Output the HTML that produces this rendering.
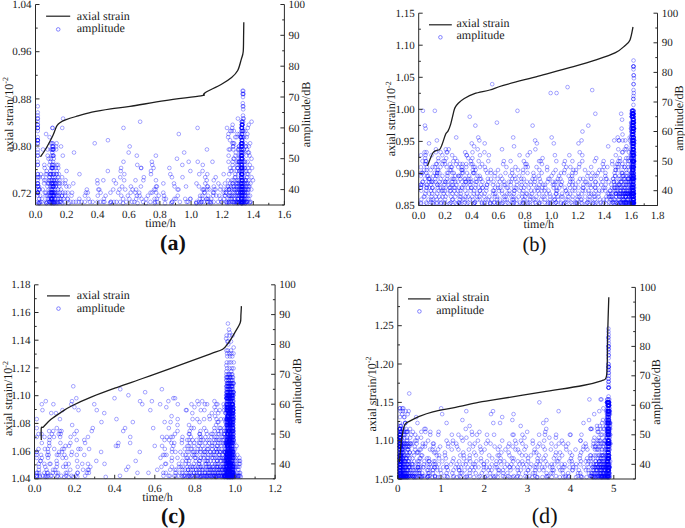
<!DOCTYPE html>
<html><head><meta charset="utf-8"><style>
html,body{margin:0;padding:0;background:#fff;}
svg{display:block;font-family:"Liberation Serif", serif;text-rendering:geometricPrecision;}
</style></head><body>
<svg width="685" height="528" viewBox="0 0 685 528">
<rect width="685" height="528" fill="#fff"/>
<path transform="scale(0.925)" d="M38.8 154.9a2 2 0 1 0 4 0a2 2 0 1 0-4 0m0 0a2 2 0 1 0 4 0a2 2 0 1 0-4 0m0 20a2 2 0 1 0 4 0a2 2 0 1 0-4 0m0 43.4a2 2 0 1 0 4 0a2 2 0 1 0-4 0m0-66.7a2 2 0 1 0 4 0a2 2 0 1 0-4 0m0 0a2 2 0 1 0 4 0a2 2 0 1 0-4 0m0 0a2 2 0 1 0 4 0a2 2 0 1 0-4 0m0 0a2 2 0 1 0 4 0a2 2 0 1 0-4 0m0 36.7a2 2 0 1 0 4 0a2 2 0 1 0-4 0m0-73.4a2 2 0 1 0 4 0a2 2 0 1 0-4 0m0 86.7a2 2 0 1 0 4 0a2 2 0 1 0-4 0m0 0a2 2 0 1 0 4 0a2 2 0 1 0-4 0m0 0a2 2 0 1 0 4 0a2 2 0 1 0-4 0m0-63.3a2 2 0 1 0 4 0a2 2 0 1 0-4 0m0 0a2 2 0 1 0 4 0a2 2 0 1 0-4 0m0 0a2 2 0 1 0 4 0a2 2 0 1 0-4 0m0 60a2 2 0 1 0 4 0a2 2 0 1 0-4 0m0 0a2 2 0 1 0 4 0a2 2 0 1 0-4 0m0 0a2 2 0 1 0 4 0a2 2 0 1 0-4 0m0-20a2 2 0 1 0 4 0a2 2 0 1 0-4 0m0 0a2 2 0 1 0 4 0a2 2 0 1 0-4 0m0-13.4a2 2 0 1 0 4 0a2 2 0 1 0-4 0m0-43.3a2 2 0 1 0 4 0a2 2 0 1 0-4 0m0 20a2 2 0 1 0 4 0a2 2 0 1 0-4 0m0 26.7a2 2 0 1 0 4 0a2 2 0 1 0-4 0m0 0a2 2 0 1 0 4 0a2 2 0 1 0-4 0m0 40a2 2 0 1 0 4 0a2 2 0 1 0-4 0m0 0a2 2 0 1 0 4 0a2 2 0 1 0-4 0m0 0a2 2 0 1 0 4 0a2 2 0 1 0-4 0m0-13.4a2 2 0 1 0 4 0a2 2 0 1 0-4 0m0-60a2 2 0 1 0 4 0a2 2 0 1 0-4 0m0 0a2 2 0 1 0 4 0a2 2 0 1 0-4 0m0-3.3a2 2 0 1 0 4 0a2 2 0 1 0-4 0m0 80a2 2 0 1 0 4 0a2 2 0 1 0-4 0m0-83.4a2 2 0 1 0 4 0a2 2 0 1 0-4 0m0 0a2 2 0 1 0 4 0a2 2 0 1 0-4 0m0 63.4a2 2 0 1 0 4 0a2 2 0 1 0-4 0m0-66.7a2 2 0 1 0 4 0a2 2 0 1 0-4 0m0 23.4a2 2 0 1 0 4 0a2 2 0 1 0-4 0m0 13.3a2 2 0 1 0 4 0a2 2 0 1 0-4 0m0.7 58a2 2 0 1 0 4 0a2 2 0 1 0-4 0m0.9 0a2 2 0 1 0 4 0a2 2 0 1 0-4 0m0.4 0a2 2 0 1 0 4 0a2 2 0 1 0-4 0m0.4-1.3a2 2 0 1 0 4 0a2 2 0 1 0-4 0m-1.5-13.4a2 2 0 1 0 4 0a2 2 0 1 0-4 0m0.6 0a2 2 0 1 0 4 0a2 2 0 1 0-4 0m0.6 0a2 2 0 1 0 4 0a2 2 0 1 0-4 0m0.5 6.7a2 2 0 1 0 4 0a2 2 0 1 0-4 0m-2.6-3.3a2 2 0 1 0 4 0a2 2 0 1 0-4 0m0 0a2 2 0 1 0 4 0a2 2 0 1 0-4 0m0.1-20a2 2 0 1 0 4 0a2 2 0 1 0-4 0m1.4 26.7a2 2 0 1 0 4 0a2 2 0 1 0-4 0m-0.2-13.4a2 2 0 1 0 4 0a2 2 0 1 0-4 0m-0.9-10a2 2 0 1 0 4 0a2 2 0 1 0-4 0m1.7 0a2 2 0 1 0 4 0a2 2 0 1 0-4 0m11.9-30a2 2 0 1 0 4 0a2 2 0 1 0-4 0m2.7 0a2 2 0 1 0 4 0a2 2 0 1 0-4 0m-0.1 0a2 2 0 1 0 4 0a2 2 0 1 0-4 0m-1.1 0a2 2 0 1 0 4 0a2 2 0 1 0-4 0m0.3 0a2 2 0 1 0 4 0a2 2 0 1 0-4 0m1.3 0a2 2 0 1 0 4 0a2 2 0 1 0-4 0m0.8 46.7a2 2 0 1 0 4 0a2 2 0 1 0-4 0m-1.8 0a2 2 0 1 0 4 0a2 2 0 1 0-4 0m-1.1 0a2 2 0 1 0 4 0a2 2 0 1 0-4 0m0.7 0a2 2 0 1 0 4 0a2 2 0 1 0-4 0m-0.7 0a2 2 0 1 0 4 0a2 2 0 1 0-4 0m-0.5 0a2 2 0 1 0 4 0a2 2 0 1 0-4 0m2.8-13.4a2 2 0 1 0 4 0a2 2 0 1 0-4 0m-1.7 0a2 2 0 1 0 4 0a2 2 0 1 0-4 0m0.8-26.6a2 2 0 1 0 4 0a2 2 0 1 0-4 0m-1.7 0a2 2 0 1 0 4 0a2 2 0 1 0-4 0m1.8 0a2 2 0 1 0 4 0a2 2 0 1 0-4 0m0.2 36.6a2 2 0 1 0 4 0a2 2 0 1 0-4 0m-1.8 0a2 2 0 1 0 4 0a2 2 0 1 0-4 0m1.6-3.3a2 2 0 1 0 4 0a2 2 0 1 0-4 0m0.7 0a2 2 0 1 0 4 0a2 2 0 1 0-4 0m-0.1 0a2 2 0 1 0 4 0a2 2 0 1 0-4 0m-1.8 0a2 2 0 1 0 4 0a2 2 0 1 0-4 0m0.7 0a2 2 0 1 0 4 0a2 2 0 1 0-4 0m0.7-13.3a2 2 0 1 0 4 0a2 2 0 1 0-4 0m-1.7 0a2 2 0 1 0 4 0a2 2 0 1 0-4 0m-1 0a2 2 0 1 0 4 0a2 2 0 1 0-4 0m1.3-33.4a2 2 0 1 0 4 0a2 2 0 1 0-4 0m1.2 0a2 2 0 1 0 4 0a2 2 0 1 0-4 0m-2.3 0a2 2 0 1 0 4 0a2 2 0 1 0-4 0m3.1 16.7a2 2 0 1 0 4 0a2 2 0 1 0-4 0m-3.2 0a2 2 0 1 0 4 0a2 2 0 1 0-4 0m1.6-13.3a2 2 0 1 0 4 0a2 2 0 1 0-4 0m0.7 0a2 2 0 1 0 4 0a2 2 0 1 0-4 0m-1.3 23.3a2 2 0 1 0 4 0a2 2 0 1 0-4 0m1.9 0a2 2 0 1 0 4 0a2 2 0 1 0-4 0m-2.3 0a2 2 0 1 0 4 0a2 2 0 1 0-4 0m1.2 0a2 2 0 1 0 4 0a2 2 0 1 0-4 0m0 0a2 2 0 1 0 4 0a2 2 0 1 0-4 0m-3.2-3.3a2 2 0 1 0 4 0a2 2 0 1 0-4 0m4.6 0a2 2 0 1 0 4 0a2 2 0 1 0-4 0m-1.8 0a2 2 0 1 0 4 0a2 2 0 1 0-4 0m3.3 13.3a2 2 0 1 0 4 0a2 2 0 1 0-4 0m-1 28a2 2 0 1 0 4 0a2 2 0 1 0-4 0m-2.8 0a2 2 0 1 0 4 0a2 2 0 1 0-4 0m2.5-8a2 2 0 1 0 4 0a2 2 0 1 0-4 0m-3.6 0a2 2 0 1 0 4 0a2 2 0 1 0-4 0m3.2 0a2 2 0 1 0 4 0a2 2 0 1 0-4 0m-2.7 3.4a2 2 0 1 0 4 0a2 2 0 1 0-4 0m1.1 0a2 2 0 1 0 4 0a2 2 0 1 0-4 0m-1.2 0a2 2 0 1 0 4 0a2 2 0 1 0-4 0m0.5 0a2 2 0 1 0 4 0a2 2 0 1 0-4 0m1.2 0a2 2 0 1 0 4 0a2 2 0 1 0-4 0m-1.2 0a2 2 0 1 0 4 0a2 2 0 1 0-4 0m0.2-16.7a2 2 0 1 0 4 0a2 2 0 1 0-4 0m1.9 0a2 2 0 1 0 4 0a2 2 0 1 0-4 0m-2 0a2 2 0 1 0 4 0a2 2 0 1 0-4 0m3.9 0a2 2 0 1 0 4 0a2 2 0 1 0-4 0m-3.1-33.4a2 2 0 1 0 4 0a2 2 0 1 0-4 0m0.9 10a2 2 0 1 0 4 0a2 2 0 1 0-4 0m-12.6 43.4a2 2 0 1 0 4 0a2 2 0 1 0-4 0m4.6 0a2 2 0 1 0 4 0a2 2 0 1 0-4 0m1.7 0a2 2 0 1 0 4 0a2 2 0 1 0-4 0m2 0a2 2 0 1 0 4 0a2 2 0 1 0-4 0m0.8 0a2 2 0 1 0 4 0a2 2 0 1 0-4 0m0.7 0a2 2 0 1 0 4 0a2 2 0 1 0-4 0m1.1 0a2 2 0 1 0 4 0a2 2 0 1 0-4 0m1.1 0a2 2 0 1 0 4 0a2 2 0 1 0-4 0m0.6 0a2 2 0 1 0 4 0a2 2 0 1 0-4 0m0.4 0a2 2 0 1 0 4 0a2 2 0 1 0-4 0m1.5 0a2 2 0 1 0 4 0a2 2 0 1 0-4 0m0.4 0a2 2 0 1 0 4 0a2 2 0 1 0-4 0m1.9 0a2 2 0 1 0 4 0a2 2 0 1 0-4 0m0.7 0a2 2 0 1 0 4 0a2 2 0 1 0-4 0m1.9 0a2 2 0 1 0 4 0a2 2 0 1 0-4 0m1.1 0a2 2 0 1 0 4 0a2 2 0 1 0-4 0m0.7 0a2 2 0 1 0 4 0a2 2 0 1 0-4 0m3.7 0a2 2 0 1 0 4 0a2 2 0 1 0-4 0m-19.8 1.3a2 2 0 1 0 4 0a2 2 0 1 0-4 0m0.4 0a2 2 0 1 0 4 0a2 2 0 1 0-4 0m4.1 0a2 2 0 1 0 4 0a2 2 0 1 0-4 0m1.4 0a2 2 0 1 0 4 0a2 2 0 1 0-4 0m2 0a2 2 0 1 0 4 0a2 2 0 1 0-4 0m0.8 0a2 2 0 1 0 4 0a2 2 0 1 0-4 0m2.2 0a2 2 0 1 0 4 0a2 2 0 1 0-4 0m1.7 0a2 2 0 1 0 4 0a2 2 0 1 0-4 0m4.9 0a2 2 0 1 0 4 0a2 2 0 1 0-4 0m-18.9-11.3a2 2 0 1 0 4 0a2 2 0 1 0-4 0m1.2 0a2 2 0 1 0 4 0a2 2 0 1 0-4 0m3.6 0a2 2 0 1 0 4 0a2 2 0 1 0-4 0m0.7 0a2 2 0 1 0 4 0a2 2 0 1 0-4 0m1.2 0a2 2 0 1 0 4 0a2 2 0 1 0-4 0m0.9 0a2 2 0 1 0 4 0a2 2 0 1 0-4 0m1.2 0a2 2 0 1 0 4 0a2 2 0 1 0-4 0m1.2 0a2 2 0 1 0 4 0a2 2 0 1 0-4 0m0.8 0a2 2 0 1 0 4 0a2 2 0 1 0-4 0m1.3 0a2 2 0 1 0 4 0a2 2 0 1 0-4 0m2 0a2 2 0 1 0 4 0a2 2 0 1 0-4 0m2.2 0a2 2 0 1 0 4 0a2 2 0 1 0-4 0m2.9 0a2 2 0 1 0 4 0a2 2 0 1 0-4 0m2.8 0a2 2 0 1 0 4 0a2 2 0 1 0-4 0m-21.1-20a2 2 0 1 0 4 0a2 2 0 1 0-4 0m1.2 0a2 2 0 1 0 4 0a2 2 0 1 0-4 0m3.9 0a2 2 0 1 0 4 0a2 2 0 1 0-4 0m-0.3 0a2 2 0 1 0 4 0a2 2 0 1 0-4 0m3.5 0a2 2 0 1 0 4 0a2 2 0 1 0-4 0m0.6 0a2 2 0 1 0 4 0a2 2 0 1 0-4 0m2.7 0a2 2 0 1 0 4 0a2 2 0 1 0-4 0m0.4 0a2 2 0 1 0 4 0a2 2 0 1 0-4 0m2.3 0a2 2 0 1 0 4 0a2 2 0 1 0-4 0m-19.6 0a2 2 0 1 0 4 0a2 2 0 1 0-4 0m7.4-20a2 2 0 1 0 4 0a2 2 0 1 0-4 0m6.6 0a2 2 0 1 0 4 0a2 2 0 1 0-4 0m9.8 0a2 2 0 1 0 4 0a2 2 0 1 0-4 0m-20 26.6a2 2 0 1 0 4 0a2 2 0 1 0-4 0m1.6 0a2 2 0 1 0 4 0a2 2 0 1 0-4 0m3.2 0a2 2 0 1 0 4 0a2 2 0 1 0-4 0m1.7 0a2 2 0 1 0 4 0a2 2 0 1 0-4 0m1.5 0a2 2 0 1 0 4 0a2 2 0 1 0-4 0m2.6 0a2 2 0 1 0 4 0a2 2 0 1 0-4 0m1.7 0a2 2 0 1 0 4 0a2 2 0 1 0-4 0m1.7 0a2 2 0 1 0 4 0a2 2 0 1 0-4 0m2.3 0a2 2 0 1 0 4 0a2 2 0 1 0-4 0m6.7 0a2 2 0 1 0 4 0a2 2 0 1 0-4 0m-23.2 3.4a2 2 0 1 0 4 0a2 2 0 1 0-4 0m4.5 0a2 2 0 1 0 4 0a2 2 0 1 0-4 0m-0.2 0a2 2 0 1 0 4 0a2 2 0 1 0-4 0m1.7 0a2 2 0 1 0 4 0a2 2 0 1 0-4 0m2.3 0a2 2 0 1 0 4 0a2 2 0 1 0-4 0m0.7 0a2 2 0 1 0 4 0a2 2 0 1 0-4 0m1.2 0a2 2 0 1 0 4 0a2 2 0 1 0-4 0m2.1 0a2 2 0 1 0 4 0a2 2 0 1 0-4 0m0.9 0a2 2 0 1 0 4 0a2 2 0 1 0-4 0m2.3 0a2 2 0 1 0 4 0a2 2 0 1 0-4 0m1.4 0a2 2 0 1 0 4 0a2 2 0 1 0-4 0m3.1 0a2 2 0 1 0 4 0a2 2 0 1 0-4 0m2.5 0a2 2 0 1 0 4 0a2 2 0 1 0-4 0m-24-6.7a2 2 0 1 0 4 0a2 2 0 1 0-4 0m7.4 0a2 2 0 1 0 4 0a2 2 0 1 0-4 0m-0.2 0a2 2 0 1 0 4 0a2 2 0 1 0-4 0m4.3 0a2 2 0 1 0 4 0a2 2 0 1 0-4 0m5.1 0a2 2 0 1 0 4 0a2 2 0 1 0-4 0m4.3 0a2 2 0 1 0 4 0a2 2 0 1 0-4 0m-18.8-10a2 2 0 1 0 4 0a2 2 0 1 0-4 0m8.3 0a2 2 0 1 0 4 0a2 2 0 1 0-4 0m3.7 0a2 2 0 1 0 4 0a2 2 0 1 0-4 0m2.8 0a2 2 0 1 0 4 0a2 2 0 1 0-4 0m-11.9 20a2 2 0 1 0 4 0a2 2 0 1 0-4 0m3.6 0a2 2 0 1 0 4 0a2 2 0 1 0-4 0m2.8 0a2 2 0 1 0 4 0a2 2 0 1 0-4 0m2.6 0a2 2 0 1 0 4 0a2 2 0 1 0-4 0m0.2 0a2 2 0 1 0 4 0a2 2 0 1 0-4 0m3.7 0a2 2 0 1 0 4 0a2 2 0 1 0-4 0m7.7 0a2 2 0 1 0 4 0a2 2 0 1 0-4 0m-25.7 3.3a2 2 0 1 0 4 0a2 2 0 1 0-4 0m6.5 0a2 2 0 1 0 4 0a2 2 0 1 0-4 0m2 0a2 2 0 1 0 4 0a2 2 0 1 0-4 0m1.4 0a2 2 0 1 0 4 0a2 2 0 1 0-4 0m3.7 0a2 2 0 1 0 4 0a2 2 0 1 0-4 0m3 0a2 2 0 1 0 4 0a2 2 0 1 0-4 0m3.2 0a2 2 0 1 0 4 0a2 2 0 1 0-4 0m-14.4-43.3a2 2 0 1 0 4 0a2 2 0 1 0-4 0m9.2 0a2 2 0 1 0 4 0a2 2 0 1 0-4 0m-14.2 0a2 2 0 1 0 4 0a2 2 0 1 0-4 0m24 50a2 2 0 1 0 4 0a2 2 0 1 0-4 0m-21.2 0a2 2 0 1 0 4 0a2 2 0 1 0-4 0m1.7 0a2 2 0 1 0 4 0a2 2 0 1 0-4 0m1.7 0a2 2 0 1 0 4 0a2 2 0 1 0-4 0m1.8 0a2 2 0 1 0 4 0a2 2 0 1 0-4 0m1.5 0a2 2 0 1 0 4 0a2 2 0 1 0-4 0m0.9 0a2 2 0 1 0 4 0a2 2 0 1 0-4 0m0.5 0a2 2 0 1 0 4 0a2 2 0 1 0-4 0m1.5 0a2 2 0 1 0 4 0a2 2 0 1 0-4 0m2 0a2 2 0 1 0 4 0a2 2 0 1 0-4 0m1.1 0a2 2 0 1 0 4 0a2 2 0 1 0-4 0m1.5 0a2 2 0 1 0 4 0a2 2 0 1 0-4 0m3.4 0a2 2 0 1 0 4 0a2 2 0 1 0-4 0m0.1 0a2 2 0 1 0 4 0a2 2 0 1 0-4 0m-16.5-26.7a2 2 0 1 0 4 0a2 2 0 1 0-4 0m4 0a2 2 0 1 0 4 0a2 2 0 1 0-4 0m6.9 0a2 2 0 1 0 4 0a2 2 0 1 0-4 0m10.6 0a2 2 0 1 0 4 0a2 2 0 1 0-4 0m-24.1-6.6a2 2 0 1 0 4 0a2 2 0 1 0-4 0m9 0a2 2 0 1 0 4 0a2 2 0 1 0-4 0m4.3 0a2 2 0 1 0 4 0a2 2 0 1 0-4 0m1.6 0a2 2 0 1 0 4 0a2 2 0 1 0-4 0m-17.4 36.7a2 2 0 1 0 4 0a2 2 0 1 0-4 0m6.6 0a2 2 0 1 0 4 0a2 2 0 1 0-4 0m1.4 0a2 2 0 1 0 4 0a2 2 0 1 0-4 0m1.8 0a2 2 0 1 0 4 0a2 2 0 1 0-4 0m1.4 0a2 2 0 1 0 4 0a2 2 0 1 0-4 0m0 0a2 2 0 1 0 4 0a2 2 0 1 0-4 0m2.2 0a2 2 0 1 0 4 0a2 2 0 1 0-4 0m0.8 0a2 2 0 1 0 4 0a2 2 0 1 0-4 0m3.2 0a2 2 0 1 0 4 0a2 2 0 1 0-4 0m1.9 0a2 2 0 1 0 4 0a2 2 0 1 0-4 0m1.4 0a2 2 0 1 0 4 0a2 2 0 1 0-4 0m2.7 0a2 2 0 1 0 4 0a2 2 0 1 0-4 0m-0.6-86.8a2 2 0 1 0 4 0a2 2 0 1 0-4 0m-11.6 10.1a2 2 0 1 0 4 0a2 2 0 1 0-4 0m0.3 0a2 2 0 1 0 4 0a2 2 0 1 0-4 0m10.4 0a2 2 0 1 0 4 0a2 2 0 1 0-4 0m-1.3 20a2 2 0 1 0 4 0a2 2 0 1 0-4 0m-8.4 0a2 2 0 1 0 4 0a2 2 0 1 0-4 0m3.1 0a2 2 0 1 0 4 0a2 2 0 1 0-4 0m-7.1-10a2 2 0 1 0 4 0a2 2 0 1 0-4 0m-1.1 23.3a2 2 0 1 0 4 0a2 2 0 1 0-4 0m1.9 3.3a2 2 0 1 0 4 0a2 2 0 1 0-4 0m-4.6-30a2 2 0 1 0 4 0a2 2 0 1 0-4 0m11.4 10a2 2 0 1 0 4 0a2 2 0 1 0-4 0m61.9 40a2 2 0 1 0 4 0a2 2 0 1 0-4 0m-17.9 0a2 2 0 1 0 4 0a2 2 0 1 0-4 0m6.5 0a2 2 0 1 0 4 0a2 2 0 1 0-4 0m-35.4 23.4a2 2 0 1 0 4 0a2 2 0 1 0-4 0m3 0a2 2 0 1 0 4 0a2 2 0 1 0-4 0m2.7 0a2 2 0 1 0 4 0a2 2 0 1 0-4 0m3.1 0a2 2 0 1 0 4 0a2 2 0 1 0-4 0m3 0a2 2 0 1 0 4 0a2 2 0 1 0-4 0m3.6 0a2 2 0 1 0 4 0a2 2 0 1 0-4 0m5.5 0a2 2 0 1 0 4 0a2 2 0 1 0-4 0m3 0a2 2 0 1 0 4 0a2 2 0 1 0-4 0m5.2 0a2 2 0 1 0 4 0a2 2 0 1 0-4 0m3.1 0a2 2 0 1 0 4 0a2 2 0 1 0-4 0m3.2 0a2 2 0 1 0 4 0a2 2 0 1 0-4 0m1.2 0a2 2 0 1 0 4 0a2 2 0 1 0-4 0m6.8 0a2 2 0 1 0 4 0a2 2 0 1 0-4 0m0.3 0a2 2 0 1 0 4 0a2 2 0 1 0-4 0m3.2 0a2 2 0 1 0 4 0a2 2 0 1 0-4 0m-44-20a2 2 0 1 0 4 0a2 2 0 1 0-4 0m26.2 0a2 2 0 1 0 4 0a2 2 0 1 0-4 0m19.9 0a2 2 0 1 0 4 0a2 2 0 1 0-4 0m-52 10a2 2 0 1 0 4 0a2 2 0 1 0-4 0m4.6 0a2 2 0 1 0 4 0a2 2 0 1 0-4 0m15 0a2 2 0 1 0 4 0a2 2 0 1 0-4 0m2 0a2 2 0 1 0 4 0a2 2 0 1 0-4 0m13.9 0a2 2 0 1 0 4 0a2 2 0 1 0-4 0m10.6 0a2 2 0 1 0 4 0a2 2 0 1 0-4 0m-42.1 3.3a2 2 0 1 0 4 0a2 2 0 1 0-4 0m14.5 0a2 2 0 1 0 4 0a2 2 0 1 0-4 0m13.9 0a2 2 0 1 0 4 0a2 2 0 1 0-4 0m8.5 0a2 2 0 1 0 4 0a2 2 0 1 0-4 0m2.4-26.7a2 2 0 1 0 4 0a2 2 0 1 0-4 0m-43.5 30.1a2 2 0 1 0 4 0a2 2 0 1 0-4 0m12.6 0a2 2 0 1 0 4 0a2 2 0 1 0-4 0m10 0a2 2 0 1 0 4 0a2 2 0 1 0-4 0m16.6 0a2 2 0 1 0 4 0a2 2 0 1 0-4 0m-39.1 0a2 2 0 1 0 4 0a2 2 0 1 0-4 0m49.2-10.1a2 2 0 1 0 4 0a2 2 0 1 0-4 0m-28.5 0a2 2 0 1 0 4 0a2 2 0 1 0-4 0m12.4 0a2 2 0 1 0 4 0a2 2 0 1 0-4 0m1 0a2 2 0 1 0 4 0a2 2 0 1 0-4 0m-32.6-3.3a2 2 0 1 0 4 0a2 2 0 1 0-4 0m-0.2 18a2 2 0 1 0 4 0a2 2 0 1 0-4 0m44.5 0a2 2 0 1 0 4 0a2 2 0 1 0-4 0m-33.1-31.3a2 2 0 1 0 4 0a2 2 0 1 0-4 0m46.1 13.3a2 2 0 1 0 4 0a2 2 0 1 0-4 0m9.5 0a2 2 0 1 0 4 0a2 2 0 1 0-4 0m10.8 0a2 2 0 1 0 4 0a2 2 0 1 0-4 0m16.5 0a2 2 0 1 0 4 0a2 2 0 1 0-4 0m0.8 0a2 2 0 1 0 4 0a2 2 0 1 0-4 0m-39.7 16.7a2 2 0 1 0 4 0a2 2 0 1 0-4 0m6.5 0a2 2 0 1 0 4 0a2 2 0 1 0-4 0m6.4 0a2 2 0 1 0 4 0a2 2 0 1 0-4 0m2.3 0a2 2 0 1 0 4 0a2 2 0 1 0-4 0m9.6 0a2 2 0 1 0 4 0a2 2 0 1 0-4 0m7.9 0a2 2 0 1 0 4 0a2 2 0 1 0-4 0m5 0a2 2 0 1 0 4 0a2 2 0 1 0-4 0m2.5 0a2 2 0 1 0 4 0a2 2 0 1 0-4 0m-44.1 0a2 2 0 1 0 4 0a2 2 0 1 0-4 0m52.4 1.3a2 2 0 1 0 4 0a2 2 0 1 0-4 0m-45.4 0a2 2 0 1 0 4 0a2 2 0 1 0-4 0m15.7 0a2 2 0 1 0 4 0a2 2 0 1 0-4 0m9.2 0a2 2 0 1 0 4 0a2 2 0 1 0-4 0m9.4 0a2 2 0 1 0 4 0a2 2 0 1 0-4 0m12.1-4.6a2 2 0 1 0 4 0a2 2 0 1 0-4 0m-46.3 0a2 2 0 1 0 4 0a2 2 0 1 0-4 0m6.8 0a2 2 0 1 0 4 0a2 2 0 1 0-4 0m7.3 0a2 2 0 1 0 4 0a2 2 0 1 0-4 0m5.9 0a2 2 0 1 0 4 0a2 2 0 1 0-4 0m5 0a2 2 0 1 0 4 0a2 2 0 1 0-4 0m9 0a2 2 0 1 0 4 0a2 2 0 1 0-4 0m2.5 0a2 2 0 1 0 4 0a2 2 0 1 0-4 0m7.7 0a2 2 0 1 0 4 0a2 2 0 1 0-4 0m-14.1-26.7a2 2 0 1 0 4 0a2 2 0 1 0-4 0m-28.8 0a2 2 0 1 0 4 0a2 2 0 1 0-4 0m13.5-20a2 2 0 1 0 4 0a2 2 0 1 0-4 0m20.6 0a2 2 0 1 0 4 0a2 2 0 1 0-4 0m-34.3 26.6a2 2 0 1 0 4 0a2 2 0 1 0-4 0m12.3 0a2 2 0 1 0 4 0a2 2 0 1 0-4 0m8.5 0a2 2 0 1 0 4 0a2 2 0 1 0-4 0m13.6 0a2 2 0 1 0 4 0a2 2 0 1 0-4 0m-20.2-16.6a2 2 0 1 0 4 0a2 2 0 1 0-4 0m-13 26.6a2 2 0 1 0 4 0a2 2 0 1 0-4 0m7.9 0a2 2 0 1 0 4 0a2 2 0 1 0-4 0m3.8 0a2 2 0 1 0 4 0a2 2 0 1 0-4 0m19.5 0a2 2 0 1 0 4 0a2 2 0 1 0-4 0m1.5 0a2 2 0 1 0 4 0a2 2 0 1 0-4 0m-39 0a2 2 0 1 0 4 0a2 2 0 1 0-4 0m26.4-13.3a2 2 0 1 0 4 0a2 2 0 1 0-4 0m-25.5 0a2 2 0 1 0 4 0a2 2 0 1 0-4 0m1.1 20a2 2 0 1 0 4 0a2 2 0 1 0-4 0m7.1 0a2 2 0 1 0 4 0a2 2 0 1 0-4 0m9.8 0a2 2 0 1 0 4 0a2 2 0 1 0-4 0m2.9 0a2 2 0 1 0 4 0a2 2 0 1 0-4 0m9 0a2 2 0 1 0 4 0a2 2 0 1 0-4 0m11.7 0a2 2 0 1 0 4 0a2 2 0 1 0-4 0m5.7 0a2 2 0 1 0 4 0a2 2 0 1 0-4 0m-46.8-26.7a2 2 0 1 0 4 0a2 2 0 1 0-4 0m32.7 0a2 2 0 1 0 4 0a2 2 0 1 0-4 0m-32.3-3.3a2 2 0 1 0 4 0a2 2 0 1 0-4 0m21.5 0a2 2 0 1 0 4 0a2 2 0 1 0-4 0m0.3 0a2 2 0 1 0 4 0a2 2 0 1 0-4 0m13.3 0a2 2 0 1 0 4 0a2 2 0 1 0-4 0m-38.3 26.7a2 2 0 1 0 4 0a2 2 0 1 0-4 0m13.6 0a2 2 0 1 0 4 0a2 2 0 1 0-4 0m5 0a2 2 0 1 0 4 0a2 2 0 1 0-4 0m4.2 0a2 2 0 1 0 4 0a2 2 0 1 0-4 0m12.3 0a2 2 0 1 0 4 0a2 2 0 1 0-4 0m1.7 0a2 2 0 1 0 4 0a2 2 0 1 0-4 0m4.3 0a2 2 0 1 0 4 0a2 2 0 1 0-4 0m7.7 0a2 2 0 1 0 4 0a2 2 0 1 0-4 0m-37.4-43.4a2 2 0 1 0 4 0a2 2 0 1 0-4 0m1.1-6.6a2 2 0 1 0 4 0a2 2 0 1 0-4 0m36.4 40a2 2 0 1 0 4 0a2 2 0 1 0-4 0m-12.4-23.4a2 2 0 1 0 4 0a2 2 0 1 0-4 0m23.9 23.4a2 2 0 1 0 4 0a2 2 0 1 0-4 0m24.3 0a2 2 0 1 0 4 0a2 2 0 1 0-4 0m9.5 0a2 2 0 1 0 4 0a2 2 0 1 0-4 0m-29.9 6.6a2 2 0 1 0 4 0a2 2 0 1 0-4 0m1 0a2 2 0 1 0 4 0a2 2 0 1 0-4 0m26.8 0a2 2 0 1 0 4 0a2 2 0 1 0-4 0m-1.1 0a2 2 0 1 0 4 0a2 2 0 1 0-4 0m-30.2 10.1a2 2 0 1 0 4 0a2 2 0 1 0-4 0m1.7 0a2 2 0 1 0 4 0a2 2 0 1 0-4 0m10 0a2 2 0 1 0 4 0a2 2 0 1 0-4 0m5.4 0a2 2 0 1 0 4 0a2 2 0 1 0-4 0m0.4 0a2 2 0 1 0 4 0a2 2 0 1 0-4 0m10 0a2 2 0 1 0 4 0a2 2 0 1 0-4 0m3 0a2 2 0 1 0 4 0a2 2 0 1 0-4 0m3.9 0a2 2 0 1 0 4 0a2 2 0 1 0-4 0m5.4 0a2 2 0 1 0 4 0a2 2 0 1 0-4 0m-42.3 3.3a2 2 0 1 0 4 0a2 2 0 1 0-4 0m0.3 0a2 2 0 1 0 4 0a2 2 0 1 0-4 0m8.2 0a2 2 0 1 0 4 0a2 2 0 1 0-4 0m7.3 0a2 2 0 1 0 4 0a2 2 0 1 0-4 0m1.4 0a2 2 0 1 0 4 0a2 2 0 1 0-4 0m9.1 0a2 2 0 1 0 4 0a2 2 0 1 0-4 0m5.7 0a2 2 0 1 0 4 0a2 2 0 1 0-4 0m7.4 0a2 2 0 1 0 4 0a2 2 0 1 0-4 0m1.6 0a2 2 0 1 0 4 0a2 2 0 1 0-4 0m-41.1-26.7a2 2 0 1 0 4 0a2 2 0 1 0-4 0m11.4 0a2 2 0 1 0 4 0a2 2 0 1 0-4 0m24.5 0a2 2 0 1 0 4 0a2 2 0 1 0-4 0m-17.8-16.7a2 2 0 1 0 4 0a2 2 0 1 0-4 0m27 33.4a2 2 0 1 0 4 0a2 2 0 1 0-4 0m-9.7 0a2 2 0 1 0 4 0a2 2 0 1 0-4 0m-37.2-20a2 2 0 1 0 4 0a2 2 0 1 0-4 0m40 0a2 2 0 1 0 4 0a2 2 0 1 0-4 0m-39 31.3a2 2 0 1 0 4 0a2 2 0 1 0-4 0m27 0a2 2 0 1 0 4 0a2 2 0 1 0-4 0m0.2 0a2 2 0 1 0 4 0a2 2 0 1 0-4 0m-15.2-41.3a2 2 0 1 0 4 0a2 2 0 1 0-4 0m-5.8-6.7a2 2 0 1 0 4 0a2 2 0 1 0-4 0m0.9 40a2 2 0 1 0 4 0a2 2 0 1 0-4 0m26.5 0a2 2 0 1 0 4 0a2 2 0 1 0-4 0m-12.9-26.7a2 2 0 1 0 4 0a2 2 0 1 0-4 0m-17.1 16.7a2 2 0 1 0 4 0a2 2 0 1 0-4 0m12.4 0a2 2 0 1 0 4 0a2 2 0 1 0-4 0m23.5 0a2 2 0 1 0 4 0a2 2 0 1 0-4 0m-41.5-20a2 2 0 1 0 4 0a2 2 0 1 0-4 0m-103.1-16.7a2 2 0 1 0 4 0a2 2 0 1 0-4 0m119.1 0a2 2 0 1 0 4 0a2 2 0 1 0-4 0m24.6-3.3a2 2 0 1 0 4 0a2 2 0 1 0-4 0m-90.2 13.3a2 2 0 1 0 4 0a2 2 0 1 0-4 0m80.3 0a2 2 0 1 0 4 0a2 2 0 1 0-4 0m-97.1-23.3a2 2 0 1 0 4 0a2 2 0 1 0-4 0m96.9-13.3a2 2 0 1 0 4 0a2 2 0 1 0-4 0m-80.1 0a2 2 0 1 0 4 0a2 2 0 1 0-4 0m-31.1 16.6a2 2 0 1 0 4 0a2 2 0 1 0-4 0m62.2 23.4a2 2 0 1 0 4 0a2 2 0 1 0-4 0m28.7-33.4a2 2 0 1 0 4 0a2 2 0 1 0-4 0m-41.8-13.3a2 2 0 1 0 4 0a2 2 0 1 0-4 0m109.5 50a2 2 0 1 0 4 0a2 2 0 1 0-4 0m0.3 0a2 2 0 1 0 4 0a2 2 0 1 0-4 0m-1 0a2 2 0 1 0 4 0a2 2 0 1 0-4 0m0.6 0a2 2 0 1 0 4 0a2 2 0 1 0-4 0m0.8 0a2 2 0 1 0 4 0a2 2 0 1 0-4 0m-0.4 0a2 2 0 1 0 4 0a2 2 0 1 0-4 0m0 0a2 2 0 1 0 4 0a2 2 0 1 0-4 0m1 0a2 2 0 1 0 4 0a2 2 0 1 0-4 0m-1.3 0a2 2 0 1 0 4 0a2 2 0 1 0-4 0m0.3 30a2 2 0 1 0 4 0a2 2 0 1 0-4 0m0.5 0a2 2 0 1 0 4 0a2 2 0 1 0-4 0m-1.1 0a2 2 0 1 0 4 0a2 2 0 1 0-4 0m1.1 0a2 2 0 1 0 4 0a2 2 0 1 0-4 0m-0.1-56.7a2 2 0 1 0 4 0a2 2 0 1 0-4 0m0.7 0a2 2 0 1 0 4 0a2 2 0 1 0-4 0m-1.1 0a2 2 0 1 0 4 0a2 2 0 1 0-4 0m-0.3 0a2 2 0 1 0 4 0a2 2 0 1 0-4 0m0 0a2 2 0 1 0 4 0a2 2 0 1 0-4 0m0 0a2 2 0 1 0 4 0a2 2 0 1 0-4 0m0.6 0a2 2 0 1 0 4 0a2 2 0 1 0-4 0m-0.3 36.7a2 2 0 1 0 4 0a2 2 0 1 0-4 0m0.7 0a2 2 0 1 0 4 0a2 2 0 1 0-4 0m-1.1 0a2 2 0 1 0 4 0a2 2 0 1 0-4 0m0.1 0a2 2 0 1 0 4 0a2 2 0 1 0-4 0m-0.4 13.3a2 2 0 1 0 4 0a2 2 0 1 0-4 0m1.5 0a2 2 0 1 0 4 0a2 2 0 1 0-4 0m-0.3 0a2 2 0 1 0 4 0a2 2 0 1 0-4 0m-1 0a2 2 0 1 0 4 0a2 2 0 1 0-4 0m2-56.6a2 2 0 1 0 4 0a2 2 0 1 0-4 0m-2.1 0a2 2 0 1 0 4 0a2 2 0 1 0-4 0m0.5 0a2 2 0 1 0 4 0a2 2 0 1 0-4 0m1.2 0a2 2 0 1 0 4 0a2 2 0 1 0-4 0m-1.7 0a2 2 0 1 0 4 0a2 2 0 1 0-4 0m0.3 36.6a2 2 0 1 0 4 0a2 2 0 1 0-4 0m0.2 0a2 2 0 1 0 4 0a2 2 0 1 0-4 0m0 0a2 2 0 1 0 4 0a2 2 0 1 0-4 0m0.1 0a2 2 0 1 0 4 0a2 2 0 1 0-4 0m-0.3-10a2 2 0 1 0 4 0a2 2 0 1 0-4 0m0.6 0a2 2 0 1 0 4 0a2 2 0 1 0-4 0m-0.9 0a2 2 0 1 0 4 0a2 2 0 1 0-4 0m-0.3 0a2 2 0 1 0 4 0a2 2 0 1 0-4 0m0.7-16.6a2 2 0 1 0 4 0a2 2 0 1 0-4 0m0.6 0a2 2 0 1 0 4 0a2 2 0 1 0-4 0m0.1 0a2 2 0 1 0 4 0a2 2 0 1 0-4 0m-1.1 0a2 2 0 1 0 4 0a2 2 0 1 0-4 0m1 0a2 2 0 1 0 4 0a2 2 0 1 0-4 0m-1.1 0a2 2 0 1 0 4 0a2 2 0 1 0-4 0m1.5 50a2 2 0 1 0 4 0a2 2 0 1 0-4 0m-0.2 0a2 2 0 1 0 4 0a2 2 0 1 0-4 0m-1.6 0a2 2 0 1 0 4 0a2 2 0 1 0-4 0m1.7 0a2 2 0 1 0 4 0a2 2 0 1 0-4 0m-0.5 0a2 2 0 1 0 4 0a2 2 0 1 0-4 0m-0.9 0a2 2 0 1 0 4 0a2 2 0 1 0-4 0m1 0a2 2 0 1 0 4 0a2 2 0 1 0-4 0m0-73.4a2 2 0 1 0 4 0a2 2 0 1 0-4 0m-0.1 0a2 2 0 1 0 4 0a2 2 0 1 0-4 0m0.2 0a2 2 0 1 0 4 0a2 2 0 1 0-4 0m0.3 0a2 2 0 1 0 4 0a2 2 0 1 0-4 0m-0.6 0a2 2 0 1 0 4 0a2 2 0 1 0-4 0m0.5 0a2 2 0 1 0 4 0a2 2 0 1 0-4 0m0.5 0a2 2 0 1 0 4 0a2 2 0 1 0-4 0m-0.7 66.7a2 2 0 1 0 4 0a2 2 0 1 0-4 0m-0.3 0a2 2 0 1 0 4 0a2 2 0 1 0-4 0m0.2 0a2 2 0 1 0 4 0a2 2 0 1 0-4 0m-0.3 0a2 2 0 1 0 4 0a2 2 0 1 0-4 0m-0.2 0a2 2 0 1 0 4 0a2 2 0 1 0-4 0m0.1-36.7a2 2 0 1 0 4 0a2 2 0 1 0-4 0m1.3 0a2 2 0 1 0 4 0a2 2 0 1 0-4 0m-1.4 0a2 2 0 1 0 4 0a2 2 0 1 0-4 0m-0.1 0a2 2 0 1 0 4 0a2 2 0 1 0-4 0m0.7 0a2 2 0 1 0 4 0a2 2 0 1 0-4 0m0.6 30a2 2 0 1 0 4 0a2 2 0 1 0-4 0m-0.7 0a2 2 0 1 0 4 0a2 2 0 1 0-4 0m0 0a2 2 0 1 0 4 0a2 2 0 1 0-4 0m0 0a2 2 0 1 0 4 0a2 2 0 1 0-4 0m-0.6 20.1a2 2 0 1 0 4 0a2 2 0 1 0-4 0m1.4 0a2 2 0 1 0 4 0a2 2 0 1 0-4 0m-1.5 0a2 2 0 1 0 4 0a2 2 0 1 0-4 0m0.3 0a2 2 0 1 0 4 0a2 2 0 1 0-4 0m-0.3 0a2 2 0 1 0 4 0a2 2 0 1 0-4 0m0.7-63.4a2 2 0 1 0 4 0a2 2 0 1 0-4 0m0.1 0a2 2 0 1 0 4 0a2 2 0 1 0-4 0m-0.4 0a2 2 0 1 0 4 0a2 2 0 1 0-4 0m0.5 0a2 2 0 1 0 4 0a2 2 0 1 0-4 0m0-20a2 2 0 1 0 4 0a2 2 0 1 0-4 0m-0.7 0a2 2 0 1 0 4 0a2 2 0 1 0-4 0m0.7 0a2 2 0 1 0 4 0a2 2 0 1 0-4 0m-0.1 56.7a2 2 0 1 0 4 0a2 2 0 1 0-4 0m-0.3 0a2 2 0 1 0 4 0a2 2 0 1 0-4 0m-0.2 0a2 2 0 1 0 4 0a2 2 0 1 0-4 0m0.2 0a2 2 0 1 0 4 0a2 2 0 1 0-4 0m0.3 0a2 2 0 1 0 4 0a2 2 0 1 0-4 0m-0.4 0a2 2 0 1 0 4 0a2 2 0 1 0-4 0m-0.6 0a2 2 0 1 0 4 0a2 2 0 1 0-4 0m0.9 0a2 2 0 1 0 4 0a2 2 0 1 0-4 0m-0.3-10a2 2 0 1 0 4 0a2 2 0 1 0-4 0m-0.2 0a2 2 0 1 0 4 0a2 2 0 1 0-4 0m0.2 0a2 2 0 1 0 4 0a2 2 0 1 0-4 0m-0.8 0a2 2 0 1 0 4 0a2 2 0 1 0-4 0m1.1 0a2 2 0 1 0 4 0a2 2 0 1 0-4 0m0 20a2 2 0 1 0 4 0a2 2 0 1 0-4 0m0.7 0a2 2 0 1 0 4 0a2 2 0 1 0-4 0m-1.3 0a2 2 0 1 0 4 0a2 2 0 1 0-4 0m-0.3 0a2 2 0 1 0 4 0a2 2 0 1 0-4 0m1.7-56.7a2 2 0 1 0 4 0a2 2 0 1 0-4 0m-1.5 0a2 2 0 1 0 4 0a2 2 0 1 0-4 0m0.9 0a2 2 0 1 0 4 0a2 2 0 1 0-4 0m0.5 0a2 2 0 1 0 4 0a2 2 0 1 0-4 0m-1.4 20a2 2 0 1 0 4 0a2 2 0 1 0-4 0m0.5 0a2 2 0 1 0 4 0a2 2 0 1 0-4 0m-0.1 0a2 2 0 1 0 4 0a2 2 0 1 0-4 0m-0.2 56.7a2 2 0 1 0 4 0a2 2 0 1 0-4 0m0.9 0a2 2 0 1 0 4 0a2 2 0 1 0-4 0m-1 0a2 2 0 1 0 4 0a2 2 0 1 0-4 0m0.8 0a2 2 0 1 0 4 0a2 2 0 1 0-4 0m-0.9-50a2 2 0 1 0 4 0a2 2 0 1 0-4 0m0.7 0a2 2 0 1 0 4 0a2 2 0 1 0-4 0m0.1 0a2 2 0 1 0 4 0a2 2 0 1 0-4 0m-0.4 0a2 2 0 1 0 4 0a2 2 0 1 0-4 0m-0.5 0a2 2 0 1 0 4 0a2 2 0 1 0-4 0m0.3 0a2 2 0 1 0 4 0a2 2 0 1 0-4 0m0.3-30a2 2 0 1 0 4 0a2 2 0 1 0-4 0m0.3 0a2 2 0 1 0 4 0a2 2 0 1 0-4 0m-0.2 0a2 2 0 1 0 4 0a2 2 0 1 0-4 0m-0.1 0a2 2 0 1 0 4 0a2 2 0 1 0-4 0m-0.7 0a2 2 0 1 0 4 0a2 2 0 1 0-4 0m0.5 6.6a2 2 0 1 0 4 0a2 2 0 1 0-4 0m0.4 0a2 2 0 1 0 4 0a2 2 0 1 0-4 0m0.3 0a2 2 0 1 0 4 0a2 2 0 1 0-4 0m-0.3 26.7a2 2 0 1 0 4 0a2 2 0 1 0-4 0m-0.1 0a2 2 0 1 0 4 0a2 2 0 1 0-4 0m-1.2 0a2 2 0 1 0 4 0a2 2 0 1 0-4 0m0.6 0a2 2 0 1 0 4 0a2 2 0 1 0-4 0m0.8 0a2 2 0 1 0 4 0a2 2 0 1 0-4 0m-0.1 0a2 2 0 1 0 4 0a2 2 0 1 0-4 0m0.3 0a2 2 0 1 0 4 0a2 2 0 1 0-4 0m-0.6 48a2 2 0 1 0 4 0a2 2 0 1 0-4 0m-0.1 0a2 2 0 1 0 4 0a2 2 0 1 0-4 0m0.3 0a2 2 0 1 0 4 0a2 2 0 1 0-4 0m0.4 0a2 2 0 1 0 4 0a2 2 0 1 0-4 0m0.6-104.7a2 2 0 1 0 4 0a2 2 0 1 0-4 0m0.5 0a2 2 0 1 0 4 0a2 2 0 1 0-4 0m-0.7-16.7a2 2 0 1 0 4 0a2 2 0 1 0-4 0m0.7 0a2 2 0 1 0 4 0a2 2 0 1 0-4 0m-0.5 13.4a2 2 0 1 0 4 0a2 2 0 1 0-4 0m1 16.6a2 2 0 1 0 4 0a2 2 0 1 0-4 0m-0.8 0a2 2 0 1 0 4 0a2 2 0 1 0-4 0m-0.3-26.6a2 2 0 1 0 4 0a2 2 0 1 0-4 0m0.2 0a2 2 0 1 0 4 0a2 2 0 1 0-4 0m0.7 0a2 2 0 1 0 4 0a2 2 0 1 0-4 0m-0.5 30a2 2 0 1 0 4 0a2 2 0 1 0-4 0m0.1-13.4a2 2 0 1 0 4 0a2 2 0 1 0-4 0m-0.2 6.7a2 2 0 1 0 4 0a2 2 0 1 0-4 0m0-20a2 2 0 1 0 4 0a2 2 0 1 0-4 0m-15 83.4a2 2 0 1 0 4 0a2 2 0 1 0-4 0m6.7 0a2 2 0 1 0 4 0a2 2 0 1 0-4 0m3.4 0a2 2 0 1 0 4 0a2 2 0 1 0-4 0m3.5 0a2 2 0 1 0 4 0a2 2 0 1 0-4 0m0.9 0a2 2 0 1 0 4 0a2 2 0 1 0-4 0m5 0a2 2 0 1 0 4 0a2 2 0 1 0-4 0m1.1 0a2 2 0 1 0 4 0a2 2 0 1 0-4 0m-21.3 13.3a2 2 0 1 0 4 0a2 2 0 1 0-4 0m2.6 0a2 2 0 1 0 4 0a2 2 0 1 0-4 0m2.7 0a2 2 0 1 0 4 0a2 2 0 1 0-4 0m0.6 0a2 2 0 1 0 4 0a2 2 0 1 0-4 0m2.4 0a2 2 0 1 0 4 0a2 2 0 1 0-4 0m1.3 0a2 2 0 1 0 4 0a2 2 0 1 0-4 0m1.5 0a2 2 0 1 0 4 0a2 2 0 1 0-4 0m1.7 0a2 2 0 1 0 4 0a2 2 0 1 0-4 0m0.6 0a2 2 0 1 0 4 0a2 2 0 1 0-4 0m1.7 0a2 2 0 1 0 4 0a2 2 0 1 0-4 0m0.6 0a2 2 0 1 0 4 0a2 2 0 1 0-4 0m0.4 0a2 2 0 1 0 4 0a2 2 0 1 0-4 0m2.3 0a2 2 0 1 0 4 0a2 2 0 1 0-4 0m1.7 0a2 2 0 1 0 4 0a2 2 0 1 0-4 0m1.5 0a2 2 0 1 0 4 0a2 2 0 1 0-4 0m1 0a2 2 0 1 0 4 0a2 2 0 1 0-4 0m-18.4-46.7a2 2 0 1 0 4 0a2 2 0 1 0-4 0m1 0a2 2 0 1 0 4 0a2 2 0 1 0-4 0m8.3 0a2 2 0 1 0 4 0a2 2 0 1 0-4 0m1.3 0a2 2 0 1 0 4 0a2 2 0 1 0-4 0m3.7 0a2 2 0 1 0 4 0a2 2 0 1 0-4 0m4.9 0a2 2 0 1 0 4 0a2 2 0 1 0-4 0m-23.4 60.1a2 2 0 1 0 4 0a2 2 0 1 0-4 0m2.1 0a2 2 0 1 0 4 0a2 2 0 1 0-4 0m1.5 0a2 2 0 1 0 4 0a2 2 0 1 0-4 0m2.3 0a2 2 0 1 0 4 0a2 2 0 1 0-4 0m1.2 0a2 2 0 1 0 4 0a2 2 0 1 0-4 0m3 0a2 2 0 1 0 4 0a2 2 0 1 0-4 0m0.2 0a2 2 0 1 0 4 0a2 2 0 1 0-4 0m1 0a2 2 0 1 0 4 0a2 2 0 1 0-4 0m2.3 0a2 2 0 1 0 4 0a2 2 0 1 0-4 0m1.2 0a2 2 0 1 0 4 0a2 2 0 1 0-4 0m0.2 0a2 2 0 1 0 4 0a2 2 0 1 0-4 0m1.6 0a2 2 0 1 0 4 0a2 2 0 1 0-4 0m0.5 0a2 2 0 1 0 4 0a2 2 0 1 0-4 0m1.2 0a2 2 0 1 0 4 0a2 2 0 1 0-4 0m1.4 0a2 2 0 1 0 4 0a2 2 0 1 0-4 0m1.9 0a2 2 0 1 0 4 0a2 2 0 1 0-4 0m-26.6 0a2 2 0 1 0 4 0a2 2 0 1 0-4 0m2.1-6.7a2 2 0 1 0 4 0a2 2 0 1 0-4 0m4.4 0a2 2 0 1 0 4 0a2 2 0 1 0-4 0m3 0a2 2 0 1 0 4 0a2 2 0 1 0-4 0m2.1 0a2 2 0 1 0 4 0a2 2 0 1 0-4 0m2.4 0a2 2 0 1 0 4 0a2 2 0 1 0-4 0m0.6 0a2 2 0 1 0 4 0a2 2 0 1 0-4 0m1.2 0a2 2 0 1 0 4 0a2 2 0 1 0-4 0m2 0a2 2 0 1 0 4 0a2 2 0 1 0-4 0m0.4 0a2 2 0 1 0 4 0a2 2 0 1 0-4 0m2.1 0a2 2 0 1 0 4 0a2 2 0 1 0-4 0m0.7 0a2 2 0 1 0 4 0a2 2 0 1 0-4 0m1.4 0a2 2 0 1 0 4 0a2 2 0 1 0-4 0m0.4 0a2 2 0 1 0 4 0a2 2 0 1 0-4 0m1.6 0a2 2 0 1 0 4 0a2 2 0 1 0-4 0m1.6 0a2 2 0 1 0 4 0a2 2 0 1 0-4 0m-26.3 0a2 2 0 1 0 4 0a2 2 0 1 0-4 0m9.8-30a2 2 0 1 0 4 0a2 2 0 1 0-4 0m4.7 0a2 2 0 1 0 4 0a2 2 0 1 0-4 0m1.8 0a2 2 0 1 0 4 0a2 2 0 1 0-4 0m3.6 0a2 2 0 1 0 4 0a2 2 0 1 0-4 0m2.8 0a2 2 0 1 0 4 0a2 2 0 1 0-4 0m5.6 0a2 2 0 1 0 4 0a2 2 0 1 0-4 0m-0.9-13.4a2 2 0 1 0 4 0a2 2 0 1 0-4 0m-14.2 0a2 2 0 1 0 4 0a2 2 0 1 0-4 0m5.3 0a2 2 0 1 0 4 0a2 2 0 1 0-4 0m3.1 0a2 2 0 1 0 4 0a2 2 0 1 0-4 0m-20.1 33.4a2 2 0 1 0 4 0a2 2 0 1 0-4 0m5.6 0a2 2 0 1 0 4 0a2 2 0 1 0-4 0m2.5 0a2 2 0 1 0 4 0a2 2 0 1 0-4 0m0.4 0a2 2 0 1 0 4 0a2 2 0 1 0-4 0m3.4 0a2 2 0 1 0 4 0a2 2 0 1 0-4 0m1.6 0a2 2 0 1 0 4 0a2 2 0 1 0-4 0m-0.2 0a2 2 0 1 0 4 0a2 2 0 1 0-4 0m2 0a2 2 0 1 0 4 0a2 2 0 1 0-4 0m1.8 0a2 2 0 1 0 4 0a2 2 0 1 0-4 0m0.5 0a2 2 0 1 0 4 0a2 2 0 1 0-4 0m1.6 0a2 2 0 1 0 4 0a2 2 0 1 0-4 0m1.5 0a2 2 0 1 0 4 0a2 2 0 1 0-4 0m1.2 0a2 2 0 1 0 4 0a2 2 0 1 0-4 0m1.5 0a2 2 0 1 0 4 0a2 2 0 1 0-4 0m1.6 0a2 2 0 1 0 4 0a2 2 0 1 0-4 0m2.6 0a2 2 0 1 0 4 0a2 2 0 1 0-4 0m0.9 6.6a2 2 0 1 0 4 0a2 2 0 1 0-4 0m-23.7 0a2 2 0 1 0 4 0a2 2 0 1 0-4 0m-0.2 0a2 2 0 1 0 4 0a2 2 0 1 0-4 0m2.7 0a2 2 0 1 0 4 0a2 2 0 1 0-4 0m2.6 0a2 2 0 1 0 4 0a2 2 0 1 0-4 0m0.3 0a2 2 0 1 0 4 0a2 2 0 1 0-4 0m1.7 0a2 2 0 1 0 4 0a2 2 0 1 0-4 0m1.1 0a2 2 0 1 0 4 0a2 2 0 1 0-4 0m1.6 0a2 2 0 1 0 4 0a2 2 0 1 0-4 0m1 0a2 2 0 1 0 4 0a2 2 0 1 0-4 0m0.4 0a2 2 0 1 0 4 0a2 2 0 1 0-4 0m1.3 0a2 2 0 1 0 4 0a2 2 0 1 0-4 0m0.4 0a2 2 0 1 0 4 0a2 2 0 1 0-4 0m0.9 0a2 2 0 1 0 4 0a2 2 0 1 0-4 0m1 0a2 2 0 1 0 4 0a2 2 0 1 0-4 0m1.1 0a2 2 0 1 0 4 0a2 2 0 1 0-4 0m0.7 0a2 2 0 1 0 4 0a2 2 0 1 0-4 0m0.7 0a2 2 0 1 0 4 0a2 2 0 1 0-4 0m1 0a2 2 0 1 0 4 0a2 2 0 1 0-4 0m1.7 0a2 2 0 1 0 4 0a2 2 0 1 0-4 0m0.9 0a2 2 0 1 0 4 0a2 2 0 1 0-4 0m-22.3-56.6a2 2 0 1 0 4 0a2 2 0 1 0-4 0m7.7 0a2 2 0 1 0 4 0a2 2 0 1 0-4 0m1.5 0a2 2 0 1 0 4 0a2 2 0 1 0-4 0m4.3 0a2 2 0 1 0 4 0a2 2 0 1 0-4 0m0 0a2 2 0 1 0 4 0a2 2 0 1 0-4 0m3.9 0a2 2 0 1 0 4 0a2 2 0 1 0-4 0m2.7 0a2 2 0 1 0 4 0a2 2 0 1 0-4 0m-21.7 70a2 2 0 1 0 4 0a2 2 0 1 0-4 0m2 0a2 2 0 1 0 4 0a2 2 0 1 0-4 0m0.5 0a2 2 0 1 0 4 0a2 2 0 1 0-4 0m2.3 0a2 2 0 1 0 4 0a2 2 0 1 0-4 0m1.5 0a2 2 0 1 0 4 0a2 2 0 1 0-4 0m0.9 0a2 2 0 1 0 4 0a2 2 0 1 0-4 0m0.8 0a2 2 0 1 0 4 0a2 2 0 1 0-4 0m1.3 0a2 2 0 1 0 4 0a2 2 0 1 0-4 0m1.3 0a2 2 0 1 0 4 0a2 2 0 1 0-4 0m1 0a2 2 0 1 0 4 0a2 2 0 1 0-4 0m0 0a2 2 0 1 0 4 0a2 2 0 1 0-4 0m1.1 0a2 2 0 1 0 4 0a2 2 0 1 0-4 0m1 0a2 2 0 1 0 4 0a2 2 0 1 0-4 0m0.4 0a2 2 0 1 0 4 0a2 2 0 1 0-4 0m1 0a2 2 0 1 0 4 0a2 2 0 1 0-4 0m0.6 0a2 2 0 1 0 4 0a2 2 0 1 0-4 0m0.9 0a2 2 0 1 0 4 0a2 2 0 1 0-4 0m0.7 0a2 2 0 1 0 4 0a2 2 0 1 0-4 0m0 0a2 2 0 1 0 4 0a2 2 0 1 0-4 0m1.2 0a2 2 0 1 0 4 0a2 2 0 1 0-4 0m0 0a2 2 0 1 0 4 0a2 2 0 1 0-4 0m0.7 0a2 2 0 1 0 4 0a2 2 0 1 0-4 0m1.3 0a2 2 0 1 0 4 0a2 2 0 1 0-4 0m0.7 0a2 2 0 1 0 4 0a2 2 0 1 0-4 0m0.6 0a2 2 0 1 0 4 0a2 2 0 1 0-4 0m0.7 0a2 2 0 1 0 4 0a2 2 0 1 0-4 0m2.5 0a2 2 0 1 0 4 0a2 2 0 1 0-4 0m1.1 0a2 2 0 1 0 4 0a2 2 0 1 0-4 0m-25.9 1.3a2 2 0 1 0 4 0a2 2 0 1 0-4 0m2.4 0a2 2 0 1 0 4 0a2 2 0 1 0-4 0m5.1 0a2 2 0 1 0 4 0a2 2 0 1 0-4 0m3 0a2 2 0 1 0 4 0a2 2 0 1 0-4 0m1.5 0a2 2 0 1 0 4 0a2 2 0 1 0-4 0m0.5 0a2 2 0 1 0 4 0a2 2 0 1 0-4 0m2.7 0a2 2 0 1 0 4 0a2 2 0 1 0-4 0m1.2 0a2 2 0 1 0 4 0a2 2 0 1 0-4 0m1.9 0a2 2 0 1 0 4 0a2 2 0 1 0-4 0m1.7 0a2 2 0 1 0 4 0a2 2 0 1 0-4 0m0.3 0a2 2 0 1 0 4 0a2 2 0 1 0-4 0m4.5 0a2 2 0 1 0 4 0a2 2 0 1 0-4 0m3.5-24.7a2 2 0 1 0 4 0a2 2 0 1 0-4 0m-22.9 0a2 2 0 1 0 4 0a2 2 0 1 0-4 0m1.9 0a2 2 0 1 0 4 0a2 2 0 1 0-4 0m3.4 0a2 2 0 1 0 4 0a2 2 0 1 0-4 0m1.7 0a2 2 0 1 0 4 0a2 2 0 1 0-4 0m0.8 0a2 2 0 1 0 4 0a2 2 0 1 0-4 0m2.2 0a2 2 0 1 0 4 0a2 2 0 1 0-4 0m1 0a2 2 0 1 0 4 0a2 2 0 1 0-4 0m2.8 0a2 2 0 1 0 4 0a2 2 0 1 0-4 0m1.4 0a2 2 0 1 0 4 0a2 2 0 1 0-4 0m0.2 0a2 2 0 1 0 4 0a2 2 0 1 0-4 0m2.7 0a2 2 0 1 0 4 0a2 2 0 1 0-4 0m-21.6-20a2 2 0 1 0 4 0a2 2 0 1 0-4 0m4.5 0a2 2 0 1 0 4 0a2 2 0 1 0-4 0m4.6 0a2 2 0 1 0 4 0a2 2 0 1 0-4 0m2.6 0a2 2 0 1 0 4 0a2 2 0 1 0-4 0m0.1 0a2 2 0 1 0 4 0a2 2 0 1 0-4 0m3.9 0a2 2 0 1 0 4 0a2 2 0 1 0-4 0m1.3 0a2 2 0 1 0 4 0a2 2 0 1 0-4 0m1 0a2 2 0 1 0 4 0a2 2 0 1 0-4 0m2.6 0a2 2 0 1 0 4 0a2 2 0 1 0-4 0m-19-13.3a2 2 0 1 0 4 0a2 2 0 1 0-4 0m3.5 0a2 2 0 1 0 4 0a2 2 0 1 0-4 0m5.4 0a2 2 0 1 0 4 0a2 2 0 1 0-4 0m1.5 0a2 2 0 1 0 4 0a2 2 0 1 0-4 0m3.9 0a2 2 0 1 0 4 0a2 2 0 1 0-4 0m0.6 0a2 2 0 1 0 4 0a2 2 0 1 0-4 0m3.4 0a2 2 0 1 0 4 0a2 2 0 1 0-4 0m-24.1 50a2 2 0 1 0 4 0a2 2 0 1 0-4 0m4.9 0a2 2 0 1 0 4 0a2 2 0 1 0-4 0m1.6 0a2 2 0 1 0 4 0a2 2 0 1 0-4 0m1.1 0a2 2 0 1 0 4 0a2 2 0 1 0-4 0m1.8 0a2 2 0 1 0 4 0a2 2 0 1 0-4 0m2.2 0a2 2 0 1 0 4 0a2 2 0 1 0-4 0m1.8 0a2 2 0 1 0 4 0a2 2 0 1 0-4 0m0.9 0a2 2 0 1 0 4 0a2 2 0 1 0-4 0m1.3 0a2 2 0 1 0 4 0a2 2 0 1 0-4 0m0.7 0a2 2 0 1 0 4 0a2 2 0 1 0-4 0m1.5 0a2 2 0 1 0 4 0a2 2 0 1 0-4 0m1 0a2 2 0 1 0 4 0a2 2 0 1 0-4 0m0.1 0a2 2 0 1 0 4 0a2 2 0 1 0-4 0m1.2 0a2 2 0 1 0 4 0a2 2 0 1 0-4 0m1.4 0a2 2 0 1 0 4 0a2 2 0 1 0-4 0m0.2 0a2 2 0 1 0 4 0a2 2 0 1 0-4 0m1.1 0a2 2 0 1 0 4 0a2 2 0 1 0-4 0m2.7 0a2 2 0 1 0 4 0a2 2 0 1 0-4 0m1.9 0a2 2 0 1 0 4 0a2 2 0 1 0-4 0m-20.8-26.7a2 2 0 1 0 4 0a2 2 0 1 0-4 0m1.2 0a2 2 0 1 0 4 0a2 2 0 1 0-4 0m5.3 0a2 2 0 1 0 4 0a2 2 0 1 0-4 0m2.8 0a2 2 0 1 0 4 0a2 2 0 1 0-4 0m-0.2 0a2 2 0 1 0 4 0a2 2 0 1 0-4 0m3.6 0a2 2 0 1 0 4 0a2 2 0 1 0-4 0m2 0a2 2 0 1 0 4 0a2 2 0 1 0-4 0m1.9 0a2 2 0 1 0 4 0a2 2 0 1 0-4 0m3.6 0a2 2 0 1 0 4 0a2 2 0 1 0-4 0m2.3 6.7a2 2 0 1 0 4 0a2 2 0 1 0-4 0m-17.5 0a2 2 0 1 0 4 0a2 2 0 1 0-4 0m-0.5 0a2 2 0 1 0 4 0a2 2 0 1 0-4 0m6.9 0a2 2 0 1 0 4 0a2 2 0 1 0-4 0m0 0a2 2 0 1 0 4 0a2 2 0 1 0-4 0m2.5 0a2 2 0 1 0 4 0a2 2 0 1 0-4 0m3.6 0a2 2 0 1 0 4 0a2 2 0 1 0-4 0m-16.4-50a2 2 0 1 0 4 0a2 2 0 1 0-4 0m13 0a2 2 0 1 0 4 0a2 2 0 1 0-4 0m-11.5 16.7a2 2 0 1 0 4 0a2 2 0 1 0-4 0m-0.1 0a2 2 0 1 0 4 0a2 2 0 1 0-4 0m6.3 0a2 2 0 1 0 4 0a2 2 0 1 0-4 0m-0.1 0a2 2 0 1 0 4 0a2 2 0 1 0-4 0m3.1 0a2 2 0 1 0 4 0a2 2 0 1 0-4 0m4.2 0a2 2 0 1 0 4 0a2 2 0 1 0-4 0m0.6 0a2 2 0 1 0 4 0a2 2 0 1 0-4 0m2.9 0a2 2 0 1 0 4 0a2 2 0 1 0-4 0m3.5 23.3a2 2 0 1 0 4 0a2 2 0 1 0-4 0m-23.8 0a2 2 0 1 0 4 0a2 2 0 1 0-4 0m4.1 0a2 2 0 1 0 4 0a2 2 0 1 0-4 0m4.3 0a2 2 0 1 0 4 0a2 2 0 1 0-4 0m-0.2 0a2 2 0 1 0 4 0a2 2 0 1 0-4 0m4.1 0a2 2 0 1 0 4 0a2 2 0 1 0-4 0m1 0a2 2 0 1 0 4 0a2 2 0 1 0-4 0m2.1 0a2 2 0 1 0 4 0a2 2 0 1 0-4 0m0.9 0a2 2 0 1 0 4 0a2 2 0 1 0-4 0m3.2 0a2 2 0 1 0 4 0a2 2 0 1 0-4 0m-21-13.3a2 2 0 1 0 4 0a2 2 0 1 0-4 0m7.4 0a2 2 0 1 0 4 0a2 2 0 1 0-4 0m3.5 0a2 2 0 1 0 4 0a2 2 0 1 0-4 0m1.6 0a2 2 0 1 0 4 0a2 2 0 1 0-4 0m1.5 0a2 2 0 1 0 4 0a2 2 0 1 0-4 0m5.2 0a2 2 0 1 0 4 0a2 2 0 1 0-4 0m3.4 0a2 2 0 1 0 4 0a2 2 0 1 0-4 0m-16.7 3.3a2 2 0 1 0 4 0a2 2 0 1 0-4 0m-0.7 0a2 2 0 1 0 4 0a2 2 0 1 0-4 0m5.4 0a2 2 0 1 0 4 0a2 2 0 1 0-4 0m4.2 0a2 2 0 1 0 4 0a2 2 0 1 0-4 0m9.9 0a2 2 0 1 0 4 0a2 2 0 1 0-4 0m0.1-40a2 2 0 1 0 4 0a2 2 0 1 0-4 0m-14.8-3.4a2 2 0 1 0 4 0a2 2 0 1 0-4 0m-6.2 10.1a2 2 0 1 0 4 0a2 2 0 1 0-4 0m10.6 0a2 2 0 1 0 4 0a2 2 0 1 0-4 0m-4.8 6.6a2 2 0 1 0 4 0a2 2 0 1 0-4 0m2.1 0a2 2 0 1 0 4 0a2 2 0 1 0-4 0m-11.9 0a2 2 0 1 0 4 0a2 2 0 1 0-4 0m21.9-10a2 2 0 1 0 4 0a2 2 0 1 0-4 0m-20.2 16.7a2 2 0 1 0 4 0a2 2 0 1 0-4 0m-28 53.3a2 2 0 1 0 4 0a2 2 0 1 0-4 0m3.5 0a2 2 0 1 0 4 0a2 2 0 1 0-4 0m2.3 0a2 2 0 1 0 4 0a2 2 0 1 0-4 0m5.1 0a2 2 0 1 0 4 0a2 2 0 1 0-4 0m1.5 0a2 2 0 1 0 4 0a2 2 0 1 0-4 0m5 0a2 2 0 1 0 4 0a2 2 0 1 0-4 0m4.2 0a2 2 0 1 0 4 0a2 2 0 1 0-4 0m2.4 0a2 2 0 1 0 4 0a2 2 0 1 0-4 0m2.6 0a2 2 0 1 0 4 0a2 2 0 1 0-4 0m-26.4 3.4a2 2 0 1 0 4 0a2 2 0 1 0-4 0m9.5 0a2 2 0 1 0 4 0a2 2 0 1 0-4 0m13.9 0a2 2 0 1 0 4 0a2 2 0 1 0-4 0m-26.8 10a2 2 0 1 0 4 0a2 2 0 1 0-4 0m2.8 0a2 2 0 1 0 4 0a2 2 0 1 0-4 0m3.6 0a2 2 0 1 0 4 0a2 2 0 1 0-4 0m4.3 0a2 2 0 1 0 4 0a2 2 0 1 0-4 0m2.8 0a2 2 0 1 0 4 0a2 2 0 1 0-4 0m4.7 0a2 2 0 1 0 4 0a2 2 0 1 0-4 0m4 0a2 2 0 1 0 4 0a2 2 0 1 0-4 0m-0.2 0a2 2 0 1 0 4 0a2 2 0 1 0-4 0m5.2 0a2 2 0 1 0 4 0a2 2 0 1 0-4 0m-29.7 0a2 2 0 1 0 4 0a2 2 0 1 0-4 0m1.4-6.7a2 2 0 1 0 4 0a2 2 0 1 0-4 0m8.6 0a2 2 0 1 0 4 0a2 2 0 1 0-4 0m5.4 0a2 2 0 1 0 4 0a2 2 0 1 0-4 0m3.5 0a2 2 0 1 0 4 0a2 2 0 1 0-4 0m3.2 0a2 2 0 1 0 4 0a2 2 0 1 0-4 0m6.4 0a2 2 0 1 0 4 0a2 2 0 1 0-4 0m4.4 0a2 2 0 1 0 4 0a2 2 0 1 0-4 0m-32.9-10a2 2 0 1 0 4 0a2 2 0 1 0-4 0m9.1 0a2 2 0 1 0 4 0a2 2 0 1 0-4 0m7.1 0a2 2 0 1 0 4 0a2 2 0 1 0-4 0m7.5 0a2 2 0 1 0 4 0a2 2 0 1 0-4 0m7.5 0a2 2 0 1 0 4 0a2 2 0 1 0-4 0m-18.4 18a2 2 0 1 0 4 0a2 2 0 1 0-4 0m-11.2 0a2 2 0 1 0 4 0a2 2 0 1 0-4 0m-1.2-31.3a2 2 0 1 0 4 0a2 2 0 1 0-4 0m26.4 0a2 2 0 1 0 4 0a2 2 0 1 0-4 0m-18.3 6.6a2 2 0 1 0 4 0a2 2 0 1 0-4 0m7.6 0a2 2 0 1 0 4 0a2 2 0 1 0-4 0m15.5 0a2 2 0 1 0 4 0a2 2 0 1 0-4 0m-27.4-16.6a2 2 0 1 0 4 0a2 2 0 1 0-4 0m4.4 36.7a2 2 0 1 0 4 0a2 2 0 1 0-4 0m1.4 0a2 2 0 1 0 4 0a2 2 0 1 0-4 0m13.2 0a2 2 0 1 0 4 0a2 2 0 1 0-4 0m-5-23.4a2 2 0 1 0 4 0a2 2 0 1 0-4 0m-3.5-16.7a2 2 0 1 0 4 0a2 2 0 1 0-4 0m17.7-13.3a2 2 0 1 0 4 0a2 2 0 1 0-4 0m-28.4 23.3a2 2 0 1 0 4 0a2 2 0 1 0-4 0m17.1 13.4a2 2 0 1 0 4 0a2 2 0 1 0-4 0m31.4-53.4a2 2 0 1 0 4 0a2 2 0 1 0-4 0m-22.1-6.6a2 2 0 1 0 4 0a2 2 0 1 0-4 0m22.5 0a2 2 0 1 0 4 0a2 2 0 1 0-4 0m-16.4-3.4a2 2 0 1 0 4 0a2 2 0 1 0-4 0m1.6 20a2 2 0 1 0 4 0a2 2 0 1 0-4 0m-4.1-13.3a2 2 0 1 0 4 0a2 2 0 1 0-4 0m3.8 0a2 2 0 1 0 4 0a2 2 0 1 0-4 0m12.5 0a2 2 0 1 0 4 0a2 2 0 1 0-4 0m-7.5 20a2 2 0 1 0 4 0a2 2 0 1 0-4 0m0.7 13.3a2 2 0 1 0 4 0a2 2 0 1 0-4 0m-0.8 0a2 2 0 1 0 4 0a2 2 0 1 0-4 0m10.4-10a2 2 0 1 0 4 0a2 2 0 1 0-4 0" fill="none" stroke="#0000ff" stroke-width="0.378"/>
<path d="M40.50,156.80 C41.27,155.67 43.58,152.47 45.10,150.00 C46.62,147.53 48.28,144.47 49.60,142.00 C50.92,139.53 52.05,137.28 53.00,135.20 C53.95,133.12 54.63,131.10 55.30,129.50 C55.97,127.90 56.23,126.73 57.00,125.60 C57.77,124.47 58.48,123.65 59.90,122.70 C61.32,121.75 62.82,120.93 65.50,119.90 C68.18,118.87 71.62,117.78 76.00,116.50 C80.38,115.22 86.00,113.48 91.80,112.20 C97.60,110.92 104.43,109.77 110.80,108.80 C117.17,107.83 120.97,107.77 130.00,106.40 C139.03,105.03 153.17,102.35 165.00,100.60 C176.83,98.85 194.57,96.97 201.00,95.90 C207.43,94.83 202.58,94.93 203.60,94.20 C204.62,93.47 204.18,93.12 207.10,91.50 C210.02,89.88 217.02,86.83 221.10,84.50 C225.18,82.17 228.83,79.83 231.60,77.50 C234.37,75.17 236.10,73.48 237.70,70.50 C239.30,67.52 240.28,62.73 241.20,59.60 C242.12,56.47 242.80,55.67 243.20,51.70 C243.60,47.73 243.50,40.70 243.60,35.80 C243.70,30.90 243.77,24.55 243.80,22.30" fill="none" stroke="#1e1e1e" stroke-width="1.3" stroke-linejoin="round"/>
<path d="M35.5,4.5V205.0H284.4V4.5M35.5,4.5h4M35.5,51.7h4M35.5,98.9h4M35.5,146.0h4M35.5,193.2h4M35.5,28.1h2.2M35.5,75.3h2.2M35.5,122.4h2.2M35.5,169.6h2.2M284.4,4.5h-4M284.4,35.3h-4M284.4,66.2h-4M284.4,97.0h-4M284.4,127.9h-4M284.4,158.7h-4M284.4,189.6h-4M284.4,19.9h-2.2M284.4,50.8h-2.2M284.4,81.6h-2.2M284.4,112.5h-2.2M284.4,143.3h-2.2M284.4,174.2h-2.2M284.4,205.0h-2.2M35.5,205.0v-4M66.6,205.0v-4M97.7,205.0v-4M128.8,205.0v-4M159.9,205.0v-4M191.1,205.0v-4M222.2,205.0v-4M253.3,205.0v-4M284.4,205.0v-4M51.1,205.0v-2.2M82.2,205.0v-2.2M113.3,205.0v-2.2M144.4,205.0v-2.2M175.5,205.0v-2.2M206.6,205.0v-2.2M237.7,205.0v-2.2M268.8,205.0v-2.2" fill="none" stroke="#2a2a2a" stroke-width="1"/>
<g font-size="11" fill="#1a1a1a"><text x="31.5" y="8.1" text-anchor="end">1.04</text><text x="31.5" y="55.3" text-anchor="end">0.96</text><text x="31.5" y="102.5" text-anchor="end">0.88</text><text x="31.5" y="149.6" text-anchor="end">0.80</text><text x="31.5" y="196.8" text-anchor="end">0.72</text><text x="288.6" y="8.1">100</text><text x="288.6" y="38.9">90</text><text x="288.6" y="69.8">80</text><text x="288.6" y="100.6">70</text><text x="288.6" y="131.5">60</text><text x="288.6" y="162.3">50</text><text x="288.6" y="193.2">40</text><text x="35.5" y="218.3" text-anchor="middle">0.0</text><text x="66.6" y="218.3" text-anchor="middle">0.2</text><text x="97.7" y="218.3" text-anchor="middle">0.4</text><text x="128.8" y="218.3" text-anchor="middle">0.6</text><text x="159.9" y="218.3" text-anchor="middle">0.8</text><text x="191.1" y="218.3" text-anchor="middle">1.0</text><text x="222.2" y="218.3" text-anchor="middle">1.2</text><text x="253.3" y="218.3" text-anchor="middle">1.4</text><text x="284.4" y="218.3" text-anchor="middle">1.6</text></g>
<path d="M46.1,16.2H70.2" stroke="#1e1e1e" stroke-width="1.2"/>
<circle cx="58.2" cy="29.4" r="1.8" fill="none" stroke="#5050ff" stroke-width="0.7"/>
<g font-size="12" fill="#1a1a1a"><text x="76.8" y="19.6">axial strain</text><text x="76.8" y="32.3">amplitude</text></g>
<text transform="translate(8.5,114.5) rotate(-90)" text-anchor="middle" font-size="12" fill="#1a1a1a" dy="4">axial strain/10<tspan font-size="8" dy="-4.5">-2</tspan></text>
<text transform="translate(306.0,114.5) rotate(-90)" text-anchor="middle" font-size="12" fill="#1a1a1a" dy="4">amplitude/dB</text>
<text x="160.5" y="227.2" text-anchor="middle" font-size="12" fill="#1a1a1a">time/h</text>
<text x="172.9" y="250.3" text-anchor="middle" font-size="22" font-weight="bold" fill="#111">(a)</text>
<path transform="scale(0.925)" d="M676.4 209.4a2 2 0 1 0 4 0a2 2 0 1 0-4 0m-218.7 0a2 2 0 1 0 4 0a2 2 0 1 0-4 0m4.1 0a2 2 0 1 0 4 0a2 2 0 1 0-4 0m3.4 0a2 2 0 1 0 4 0a2 2 0 1 0-4 0m5.4 0a2 2 0 1 0 4 0a2 2 0 1 0-4 0m7 0a2 2 0 1 0 4 0a2 2 0 1 0-4 0m4.1 0a2 2 0 1 0 4 0a2 2 0 1 0-4 0m5.4 0a2 2 0 1 0 4 0a2 2 0 1 0-4 0m4.3 0a2 2 0 1 0 4 0a2 2 0 1 0-4 0m4.8 0a2 2 0 1 0 4 0a2 2 0 1 0-4 0m6.5 0a2 2 0 1 0 4 0a2 2 0 1 0-4 0m7.5 0a2 2 0 1 0 4 0a2 2 0 1 0-4 0m3.5 0a2 2 0 1 0 4 0a2 2 0 1 0-4 0m4.6 0a2 2 0 1 0 4 0a2 2 0 1 0-4 0m3.7 0a2 2 0 1 0 4 0a2 2 0 1 0-4 0m9.1 0a2 2 0 1 0 4 0a2 2 0 1 0-4 0m2.2 0a2 2 0 1 0 4 0a2 2 0 1 0-4 0m7.6 0a2 2 0 1 0 4 0a2 2 0 1 0-4 0m5.5 0a2 2 0 1 0 4 0a2 2 0 1 0-4 0m2.3 0a2 2 0 1 0 4 0a2 2 0 1 0-4 0m4.9 0a2 2 0 1 0 4 0a2 2 0 1 0-4 0m9.1 0a2 2 0 1 0 4 0a2 2 0 1 0-4 0m4.2 0a2 2 0 1 0 4 0a2 2 0 1 0-4 0m0.9 0a2 2 0 1 0 4 0a2 2 0 1 0-4 0m5.3 0a2 2 0 1 0 4 0a2 2 0 1 0-4 0m7.7 0a2 2 0 1 0 4 0a2 2 0 1 0-4 0m8 0a2 2 0 1 0 4 0a2 2 0 1 0-4 0m3.5 0a2 2 0 1 0 4 0a2 2 0 1 0-4 0m6.9 0a2 2 0 1 0 4 0a2 2 0 1 0-4 0m0.2 0a2 2 0 1 0 4 0a2 2 0 1 0-4 0m6.2 0a2 2 0 1 0 4 0a2 2 0 1 0-4 0m5.9 0a2 2 0 1 0 4 0a2 2 0 1 0-4 0m2.7 0a2 2 0 1 0 4 0a2 2 0 1 0-4 0m9.1 0a2 2 0 1 0 4 0a2 2 0 1 0-4 0m3.5 0a2 2 0 1 0 4 0a2 2 0 1 0-4 0m8 0a2 2 0 1 0 4 0a2 2 0 1 0-4 0m2.4 0a2 2 0 1 0 4 0a2 2 0 1 0-4 0m2.8 0a2 2 0 1 0 4 0a2 2 0 1 0-4 0m5 0a2 2 0 1 0 4 0a2 2 0 1 0-4 0m10.1 0a2 2 0 1 0 4 0a2 2 0 1 0-4 0m3.9 0a2 2 0 1 0 4 0a2 2 0 1 0-4 0m4.6 0a2 2 0 1 0 4 0a2 2 0 1 0-4 0m4 0a2 2 0 1 0 4 0a2 2 0 1 0-4 0m6.7 0a2 2 0 1 0 4 0a2 2 0 1 0-4 0m-221.3 9.6a2 2 0 1 0 4 0a2 2 0 1 0-4 0m5.7 0a2 2 0 1 0 4 0a2 2 0 1 0-4 0m5.2 0a2 2 0 1 0 4 0a2 2 0 1 0-4 0m1.7 0a2 2 0 1 0 4 0a2 2 0 1 0-4 0m4.7 0a2 2 0 1 0 4 0a2 2 0 1 0-4 0m4.6 0a2 2 0 1 0 4 0a2 2 0 1 0-4 0m4 0a2 2 0 1 0 4 0a2 2 0 1 0-4 0m6.7 0a2 2 0 1 0 4 0a2 2 0 1 0-4 0m4.1 0a2 2 0 1 0 4 0a2 2 0 1 0-4 0m4.8 0a2 2 0 1 0 4 0a2 2 0 1 0-4 0m-0.4 0a2 2 0 1 0 4 0a2 2 0 1 0-4 0m6.6 0a2 2 0 1 0 4 0a2 2 0 1 0-4 0m3.6 0a2 2 0 1 0 4 0a2 2 0 1 0-4 0m7 0a2 2 0 1 0 4 0a2 2 0 1 0-4 0m0.1 0a2 2 0 1 0 4 0a2 2 0 1 0-4 0m7.6 0a2 2 0 1 0 4 0a2 2 0 1 0-4 0m2.6 0a2 2 0 1 0 4 0a2 2 0 1 0-4 0m6.4 0a2 2 0 1 0 4 0a2 2 0 1 0-4 0m4.2 0a2 2 0 1 0 4 0a2 2 0 1 0-4 0m0.4 0a2 2 0 1 0 4 0a2 2 0 1 0-4 0m3.2 0a2 2 0 1 0 4 0a2 2 0 1 0-4 0m5.9 0a2 2 0 1 0 4 0a2 2 0 1 0-4 0m5 0a2 2 0 1 0 4 0a2 2 0 1 0-4 0m5 0a2 2 0 1 0 4 0a2 2 0 1 0-4 0m2 0a2 2 0 1 0 4 0a2 2 0 1 0-4 0m6.4 0a2 2 0 1 0 4 0a2 2 0 1 0-4 0m3.7 0a2 2 0 1 0 4 0a2 2 0 1 0-4 0m4.3 0a2 2 0 1 0 4 0a2 2 0 1 0-4 0m2.2 0a2 2 0 1 0 4 0a2 2 0 1 0-4 0m6.3 0a2 2 0 1 0 4 0a2 2 0 1 0-4 0m4.6 0a2 2 0 1 0 4 0a2 2 0 1 0-4 0m5.6 0a2 2 0 1 0 4 0a2 2 0 1 0-4 0m4.2 0a2 2 0 1 0 4 0a2 2 0 1 0-4 0m2.3 0a2 2 0 1 0 4 0a2 2 0 1 0-4 0m5.6 0a2 2 0 1 0 4 0a2 2 0 1 0-4 0m0 0a2 2 0 1 0 4 0a2 2 0 1 0-4 0m5.7 0a2 2 0 1 0 4 0a2 2 0 1 0-4 0m4.5 0a2 2 0 1 0 4 0a2 2 0 1 0-4 0m6.3 0a2 2 0 1 0 4 0a2 2 0 1 0-4 0m4.8 0a2 2 0 1 0 4 0a2 2 0 1 0-4 0m1.5 0a2 2 0 1 0 4 0a2 2 0 1 0-4 0m4.8 0a2 2 0 1 0 4 0a2 2 0 1 0-4 0m6.2 0a2 2 0 1 0 4 0a2 2 0 1 0-4 0m0.7 0a2 2 0 1 0 4 0a2 2 0 1 0-4 0m6.4 0a2 2 0 1 0 4 0a2 2 0 1 0-4 0m2.9 0a2 2 0 1 0 4 0a2 2 0 1 0-4 0m4.6 0a2 2 0 1 0 4 0a2 2 0 1 0-4 0m3.7 0a2 2 0 1 0 4 0a2 2 0 1 0-4 0m5.9 0a2 2 0 1 0 4 0a2 2 0 1 0-4 0m3.9 0a2 2 0 1 0 4 0a2 2 0 1 0-4 0m3.1 0a2 2 0 1 0 4 0a2 2 0 1 0-4 0m4.9 0a2 2 0 1 0 4 0a2 2 0 1 0-4 0m5.5 0a2 2 0 1 0 4 0a2 2 0 1 0-4 0m0.6 0a2 2 0 1 0 4 0a2 2 0 1 0-4 0m-213.1-64a2 2 0 1 0 4 0a2 2 0 1 0-4 0m46.2 0a2 2 0 1 0 4 0a2 2 0 1 0-4 0m14 0a2 2 0 1 0 4 0a2 2 0 1 0-4 0m56.4 0a2 2 0 1 0 4 0a2 2 0 1 0-4 0m18.3 0a2 2 0 1 0 4 0a2 2 0 1 0-4 0m26.7 0a2 2 0 1 0 4 0a2 2 0 1 0-4 0m-168.2 41.6a2 2 0 1 0 4 0a2 2 0 1 0-4 0m6.6 0a2 2 0 1 0 4 0a2 2 0 1 0-4 0m2.4 0a2 2 0 1 0 4 0a2 2 0 1 0-4 0m4.6 0a2 2 0 1 0 4 0a2 2 0 1 0-4 0m4.3 0a2 2 0 1 0 4 0a2 2 0 1 0-4 0m6.1 0a2 2 0 1 0 4 0a2 2 0 1 0-4 0m2.9 0a2 2 0 1 0 4 0a2 2 0 1 0-4 0m8.2 0a2 2 0 1 0 4 0a2 2 0 1 0-4 0m2.7 0a2 2 0 1 0 4 0a2 2 0 1 0-4 0m8.8 0a2 2 0 1 0 4 0a2 2 0 1 0-4 0m3 0a2 2 0 1 0 4 0a2 2 0 1 0-4 0m3.1 0a2 2 0 1 0 4 0a2 2 0 1 0-4 0m5.7 0a2 2 0 1 0 4 0a2 2 0 1 0-4 0m6 0a2 2 0 1 0 4 0a2 2 0 1 0-4 0m6.4 0a2 2 0 1 0 4 0a2 2 0 1 0-4 0m5.6 0a2 2 0 1 0 4 0a2 2 0 1 0-4 0m6.7 0a2 2 0 1 0 4 0a2 2 0 1 0-4 0m4.8 0a2 2 0 1 0 4 0a2 2 0 1 0-4 0m5 0a2 2 0 1 0 4 0a2 2 0 1 0-4 0m2.2 0a2 2 0 1 0 4 0a2 2 0 1 0-4 0m6.3 0a2 2 0 1 0 4 0a2 2 0 1 0-4 0m5 0a2 2 0 1 0 4 0a2 2 0 1 0-4 0m6 0a2 2 0 1 0 4 0a2 2 0 1 0-4 0m4.1 0a2 2 0 1 0 4 0a2 2 0 1 0-4 0m4.6 0a2 2 0 1 0 4 0a2 2 0 1 0-4 0m6.2 0a2 2 0 1 0 4 0a2 2 0 1 0-4 0m7.5 0a2 2 0 1 0 4 0a2 2 0 1 0-4 0m5.5 0a2 2 0 1 0 4 0a2 2 0 1 0-4 0m3.1 0a2 2 0 1 0 4 0a2 2 0 1 0-4 0m1.8 0a2 2 0 1 0 4 0a2 2 0 1 0-4 0m5.1 0a2 2 0 1 0 4 0a2 2 0 1 0-4 0m8.9 0a2 2 0 1 0 4 0a2 2 0 1 0-4 0m2.8 0a2 2 0 1 0 4 0a2 2 0 1 0-4 0m6.1 0a2 2 0 1 0 4 0a2 2 0 1 0-4 0m7.4 0a2 2 0 1 0 4 0a2 2 0 1 0-4 0m1.4 0a2 2 0 1 0 4 0a2 2 0 1 0-4 0m9.5 0a2 2 0 1 0 4 0a2 2 0 1 0-4 0m0.4 0a2 2 0 1 0 4 0a2 2 0 1 0-4 0m7.5 0a2 2 0 1 0 4 0a2 2 0 1 0-4 0m6.6 0a2 2 0 1 0 4 0a2 2 0 1 0-4 0m5.6 0a2 2 0 1 0 4 0a2 2 0 1 0-4 0m2.8 0a2 2 0 1 0 4 0a2 2 0 1 0-4 0m5.9 0a2 2 0 1 0 4 0a2 2 0 1 0-4 0m6.6 0a2 2 0 1 0 4 0a2 2 0 1 0-4 0m-224 3.2a2 2 0 1 0 4 0a2 2 0 1 0-4 0m1.4 0a2 2 0 1 0 4 0a2 2 0 1 0-4 0m5.3 0a2 2 0 1 0 4 0a2 2 0 1 0-4 0m4.3 0a2 2 0 1 0 4 0a2 2 0 1 0-4 0m7.1 0a2 2 0 1 0 4 0a2 2 0 1 0-4 0m2.1 0a2 2 0 1 0 4 0a2 2 0 1 0-4 0m5.1 0a2 2 0 1 0 4 0a2 2 0 1 0-4 0m7.9 0a2 2 0 1 0 4 0a2 2 0 1 0-4 0m1.5 0a2 2 0 1 0 4 0a2 2 0 1 0-4 0m3.6 0a2 2 0 1 0 4 0a2 2 0 1 0-4 0m8 0a2 2 0 1 0 4 0a2 2 0 1 0-4 0m2 0a2 2 0 1 0 4 0a2 2 0 1 0-4 0m5.2 0a2 2 0 1 0 4 0a2 2 0 1 0-4 0m5.7 0a2 2 0 1 0 4 0a2 2 0 1 0-4 0m5.9 0a2 2 0 1 0 4 0a2 2 0 1 0-4 0m6.2 0a2 2 0 1 0 4 0a2 2 0 1 0-4 0m0.3 0a2 2 0 1 0 4 0a2 2 0 1 0-4 0m6.3 0a2 2 0 1 0 4 0a2 2 0 1 0-4 0m5.3 0a2 2 0 1 0 4 0a2 2 0 1 0-4 0m6.3 0a2 2 0 1 0 4 0a2 2 0 1 0-4 0m1.4 0a2 2 0 1 0 4 0a2 2 0 1 0-4 0m6.3 0a2 2 0 1 0 4 0a2 2 0 1 0-4 0m6.8 0a2 2 0 1 0 4 0a2 2 0 1 0-4 0m4.9 0a2 2 0 1 0 4 0a2 2 0 1 0-4 0m4.1 0a2 2 0 1 0 4 0a2 2 0 1 0-4 0m5.8 0a2 2 0 1 0 4 0a2 2 0 1 0-4 0m3.7 0a2 2 0 1 0 4 0a2 2 0 1 0-4 0m5.4 0a2 2 0 1 0 4 0a2 2 0 1 0-4 0m4.3 0a2 2 0 1 0 4 0a2 2 0 1 0-4 0m2 0a2 2 0 1 0 4 0a2 2 0 1 0-4 0m8.5 0a2 2 0 1 0 4 0a2 2 0 1 0-4 0m1.5 0a2 2 0 1 0 4 0a2 2 0 1 0-4 0m6.9 0a2 2 0 1 0 4 0a2 2 0 1 0-4 0m0.7 0a2 2 0 1 0 4 0a2 2 0 1 0-4 0m8.4 0a2 2 0 1 0 4 0a2 2 0 1 0-4 0m3.8 0a2 2 0 1 0 4 0a2 2 0 1 0-4 0m3.2 0a2 2 0 1 0 4 0a2 2 0 1 0-4 0m8.3 0a2 2 0 1 0 4 0a2 2 0 1 0-4 0m4.8 0a2 2 0 1 0 4 0a2 2 0 1 0-4 0m2.2 0a2 2 0 1 0 4 0a2 2 0 1 0-4 0m3.1 0a2 2 0 1 0 4 0a2 2 0 1 0-4 0m5.8 0a2 2 0 1 0 4 0a2 2 0 1 0-4 0m3.6 0a2 2 0 1 0 4 0a2 2 0 1 0-4 0m4.7 0a2 2 0 1 0 4 0a2 2 0 1 0-4 0m6.2 0a2 2 0 1 0 4 0a2 2 0 1 0-4 0m6.3 0a2 2 0 1 0 4 0a2 2 0 1 0-4 0m1.5 0a2 2 0 1 0 4 0a2 2 0 1 0-4 0m8.3 0a2 2 0 1 0 4 0a2 2 0 1 0-4 0m-218.5-16a2 2 0 1 0 4 0a2 2 0 1 0-4 0m2.8 0a2 2 0 1 0 4 0a2 2 0 1 0-4 0m11.6 0a2 2 0 1 0 4 0a2 2 0 1 0-4 0m13.4 0a2 2 0 1 0 4 0a2 2 0 1 0-4 0m12.7 0a2 2 0 1 0 4 0a2 2 0 1 0-4 0m1.4 0a2 2 0 1 0 4 0a2 2 0 1 0-4 0m10.7 0a2 2 0 1 0 4 0a2 2 0 1 0-4 0m13.9 0a2 2 0 1 0 4 0a2 2 0 1 0-4 0m5.5 0a2 2 0 1 0 4 0a2 2 0 1 0-4 0m7.9 0a2 2 0 1 0 4 0a2 2 0 1 0-4 0m15.2 0a2 2 0 1 0 4 0a2 2 0 1 0-4 0m6.4 0a2 2 0 1 0 4 0a2 2 0 1 0-4 0m5.4 0a2 2 0 1 0 4 0a2 2 0 1 0-4 0m17.7 0a2 2 0 1 0 4 0a2 2 0 1 0-4 0m8.4 0a2 2 0 1 0 4 0a2 2 0 1 0-4 0m9.2 0a2 2 0 1 0 4 0a2 2 0 1 0-4 0m9.8 0a2 2 0 1 0 4 0a2 2 0 1 0-4 0m9.4 0a2 2 0 1 0 4 0a2 2 0 1 0-4 0m2.8 0a2 2 0 1 0 4 0a2 2 0 1 0-4 0m9.7 0a2 2 0 1 0 4 0a2 2 0 1 0-4 0m15.6 0a2 2 0 1 0 4 0a2 2 0 1 0-4 0m3.2 0a2 2 0 1 0 4 0a2 2 0 1 0-4 0m14.2 0a2 2 0 1 0 4 0a2 2 0 1 0-4 0m11.8 0a2 2 0 1 0 4 0a2 2 0 1 0-4 0m-222.2 19.2a2 2 0 1 0 4 0a2 2 0 1 0-4 0m6.3 0a2 2 0 1 0 4 0a2 2 0 1 0-4 0m2.9 0a2 2 0 1 0 4 0a2 2 0 1 0-4 0m3.2 0a2 2 0 1 0 4 0a2 2 0 1 0-4 0m8.9 0a2 2 0 1 0 4 0a2 2 0 1 0-4 0m2.9 0a2 2 0 1 0 4 0a2 2 0 1 0-4 0m2.5 0a2 2 0 1 0 4 0a2 2 0 1 0-4 0m4.2 0a2 2 0 1 0 4 0a2 2 0 1 0-4 0m5 0a2 2 0 1 0 4 0a2 2 0 1 0-4 0m5.3 0a2 2 0 1 0 4 0a2 2 0 1 0-4 0m2.8 0a2 2 0 1 0 4 0a2 2 0 1 0-4 0m6.9 0a2 2 0 1 0 4 0a2 2 0 1 0-4 0m3.6 0a2 2 0 1 0 4 0a2 2 0 1 0-4 0m7.9 0a2 2 0 1 0 4 0a2 2 0 1 0-4 0m4.4 0a2 2 0 1 0 4 0a2 2 0 1 0-4 0m0 0a2 2 0 1 0 4 0a2 2 0 1 0-4 0m4.1 0a2 2 0 1 0 4 0a2 2 0 1 0-4 0m9.3 0a2 2 0 1 0 4 0a2 2 0 1 0-4 0m3.3 0a2 2 0 1 0 4 0a2 2 0 1 0-4 0m2.4 0a2 2 0 1 0 4 0a2 2 0 1 0-4 0m6.8 0a2 2 0 1 0 4 0a2 2 0 1 0-4 0m1.3 0a2 2 0 1 0 4 0a2 2 0 1 0-4 0m6.9 0a2 2 0 1 0 4 0a2 2 0 1 0-4 0m1.8 0a2 2 0 1 0 4 0a2 2 0 1 0-4 0m5.4 0a2 2 0 1 0 4 0a2 2 0 1 0-4 0m3.4 0a2 2 0 1 0 4 0a2 2 0 1 0-4 0m5.1 0a2 2 0 1 0 4 0a2 2 0 1 0-4 0m8.5 0a2 2 0 1 0 4 0a2 2 0 1 0-4 0m1.8 0a2 2 0 1 0 4 0a2 2 0 1 0-4 0m4.1 0a2 2 0 1 0 4 0a2 2 0 1 0-4 0m3.6 0a2 2 0 1 0 4 0a2 2 0 1 0-4 0m8.9 0a2 2 0 1 0 4 0a2 2 0 1 0-4 0m3.2 0a2 2 0 1 0 4 0a2 2 0 1 0-4 0m2.9 0a2 2 0 1 0 4 0a2 2 0 1 0-4 0m6 0a2 2 0 1 0 4 0a2 2 0 1 0-4 0m5.7 0a2 2 0 1 0 4 0a2 2 0 1 0-4 0m5.2 0a2 2 0 1 0 4 0a2 2 0 1 0-4 0m4 0a2 2 0 1 0 4 0a2 2 0 1 0-4 0m4.8 0a2 2 0 1 0 4 0a2 2 0 1 0-4 0m0.4 0a2 2 0 1 0 4 0a2 2 0 1 0-4 0m8.3 0a2 2 0 1 0 4 0a2 2 0 1 0-4 0m4.5 0a2 2 0 1 0 4 0a2 2 0 1 0-4 0m0.1 0a2 2 0 1 0 4 0a2 2 0 1 0-4 0m8.7 0a2 2 0 1 0 4 0a2 2 0 1 0-4 0m1.9 0a2 2 0 1 0 4 0a2 2 0 1 0-4 0m7.4 0a2 2 0 1 0 4 0a2 2 0 1 0-4 0m2.5 0a2 2 0 1 0 4 0a2 2 0 1 0-4 0m3.4 0a2 2 0 1 0 4 0a2 2 0 1 0-4 0m3.3 0a2 2 0 1 0 4 0a2 2 0 1 0-4 0m-215.8 0a2 2 0 1 0 4 0a2 2 0 1 0-4 0m0.2 17.1a2 2 0 1 0 4 0a2 2 0 1 0-4 0m6.3 0a2 2 0 1 0 4 0a2 2 0 1 0-4 0m6.6 0a2 2 0 1 0 4 0a2 2 0 1 0-4 0m4.1 0a2 2 0 1 0 4 0a2 2 0 1 0-4 0m4.4 0a2 2 0 1 0 4 0a2 2 0 1 0-4 0m3.8 0a2 2 0 1 0 4 0a2 2 0 1 0-4 0m5.4 0a2 2 0 1 0 4 0a2 2 0 1 0-4 0m0.6 0a2 2 0 1 0 4 0a2 2 0 1 0-4 0m6.9 0a2 2 0 1 0 4 0a2 2 0 1 0-4 0m3.7 0a2 2 0 1 0 4 0a2 2 0 1 0-4 0m1.5 0a2 2 0 1 0 4 0a2 2 0 1 0-4 0m6.3 0a2 2 0 1 0 4 0a2 2 0 1 0-4 0m7.2 0a2 2 0 1 0 4 0a2 2 0 1 0-4 0m0.5 0a2 2 0 1 0 4 0a2 2 0 1 0-4 0m8.6 0a2 2 0 1 0 4 0a2 2 0 1 0-4 0m3 0a2 2 0 1 0 4 0a2 2 0 1 0-4 0m6 0a2 2 0 1 0 4 0a2 2 0 1 0-4 0m-0.2 0a2 2 0 1 0 4 0a2 2 0 1 0-4 0m8.5 0a2 2 0 1 0 4 0a2 2 0 1 0-4 0m3.7 0a2 2 0 1 0 4 0a2 2 0 1 0-4 0m0.9 0a2 2 0 1 0 4 0a2 2 0 1 0-4 0m6.9 0a2 2 0 1 0 4 0a2 2 0 1 0-4 0m4.6 0a2 2 0 1 0 4 0a2 2 0 1 0-4 0m4.1 0a2 2 0 1 0 4 0a2 2 0 1 0-4 0m5.5 0a2 2 0 1 0 4 0a2 2 0 1 0-4 0m1.6 0a2 2 0 1 0 4 0a2 2 0 1 0-4 0m4.9 0a2 2 0 1 0 4 0a2 2 0 1 0-4 0m5.6 0a2 2 0 1 0 4 0a2 2 0 1 0-4 0m6.2 0a2 2 0 1 0 4 0a2 2 0 1 0-4 0m0.7 0a2 2 0 1 0 4 0a2 2 0 1 0-4 0m9.2 0a2 2 0 1 0 4 0a2 2 0 1 0-4 0m2.7 0a2 2 0 1 0 4 0a2 2 0 1 0-4 0m4.5 0a2 2 0 1 0 4 0a2 2 0 1 0-4 0m6.5 0a2 2 0 1 0 4 0a2 2 0 1 0-4 0m3.7 0a2 2 0 1 0 4 0a2 2 0 1 0-4 0m0 0a2 2 0 1 0 4 0a2 2 0 1 0-4 0m5.9 0a2 2 0 1 0 4 0a2 2 0 1 0-4 0m6.3 0a2 2 0 1 0 4 0a2 2 0 1 0-4 0m1.9 0a2 2 0 1 0 4 0a2 2 0 1 0-4 0m5.4 0a2 2 0 1 0 4 0a2 2 0 1 0-4 0m4.6 0a2 2 0 1 0 4 0a2 2 0 1 0-4 0m6.3 0a2 2 0 1 0 4 0a2 2 0 1 0-4 0m0.9 0a2 2 0 1 0 4 0a2 2 0 1 0-4 0m5.6 0a2 2 0 1 0 4 0a2 2 0 1 0-4 0m5.4 0a2 2 0 1 0 4 0a2 2 0 1 0-4 0m3.2 0a2 2 0 1 0 4 0a2 2 0 1 0-4 0m5.5 0a2 2 0 1 0 4 0a2 2 0 1 0-4 0m7 0a2 2 0 1 0 4 0a2 2 0 1 0-4 0m4.9 0a2 2 0 1 0 4 0a2 2 0 1 0-4 0m-0.8 0a2 2 0 1 0 4 0a2 2 0 1 0-4 0m5.1 0a2 2 0 1 0 4 0a2 2 0 1 0-4 0m-210.4-52.3a2 2 0 1 0 4 0a2 2 0 1 0-4 0m38.1 0a2 2 0 1 0 4 0a2 2 0 1 0-4 0m14.3 0a2 2 0 1 0 4 0a2 2 0 1 0-4 0m9.6 0a2 2 0 1 0 4 0a2 2 0 1 0-4 0m33.2 0a2 2 0 1 0 4 0a2 2 0 1 0-4 0m8.7 0a2 2 0 1 0 4 0a2 2 0 1 0-4 0m29.5 0a2 2 0 1 0 4 0a2 2 0 1 0-4 0m15.6 0a2 2 0 1 0 4 0a2 2 0 1 0-4 0m14 0a2 2 0 1 0 4 0a2 2 0 1 0-4 0m36.2 0a2 2 0 1 0 4 0a2 2 0 1 0-4 0m-210.7 0a2 2 0 1 0 4 0a2 2 0 1 0-4 0m5.2 6.4a2 2 0 1 0 4 0a2 2 0 1 0-4 0m19.1 0a2 2 0 1 0 4 0a2 2 0 1 0-4 0m1.5 0a2 2 0 1 0 4 0a2 2 0 1 0-4 0m13.3 0a2 2 0 1 0 4 0a2 2 0 1 0-4 0m15 0a2 2 0 1 0 4 0a2 2 0 1 0-4 0m8.4 0a2 2 0 1 0 4 0a2 2 0 1 0-4 0m10.4 0a2 2 0 1 0 4 0a2 2 0 1 0-4 0m16.8 0a2 2 0 1 0 4 0a2 2 0 1 0-4 0m7.3 0a2 2 0 1 0 4 0a2 2 0 1 0-4 0m14.3 0a2 2 0 1 0 4 0a2 2 0 1 0-4 0m16.5 0a2 2 0 1 0 4 0a2 2 0 1 0-4 0m1.7 0a2 2 0 1 0 4 0a2 2 0 1 0-4 0m16.9 0a2 2 0 1 0 4 0a2 2 0 1 0-4 0m9.3 0a2 2 0 1 0 4 0a2 2 0 1 0-4 0m8.1 0a2 2 0 1 0 4 0a2 2 0 1 0-4 0m10.7 0a2 2 0 1 0 4 0a2 2 0 1 0-4 0m13.5 0a2 2 0 1 0 4 0a2 2 0 1 0-4 0m9.6 0a2 2 0 1 0 4 0a2 2 0 1 0-4 0m16 0a2 2 0 1 0 4 0a2 2 0 1 0-4 0m-211.9 0a2 2 0 1 0 4 0a2 2 0 1 0-4 0m222.2 41.6a2 2 0 1 0 4 0a2 2 0 1 0-4 0m-223.5 0a2 2 0 1 0 4 0a2 2 0 1 0-4 0m7.8 0a2 2 0 1 0 4 0a2 2 0 1 0-4 0m2.9 0a2 2 0 1 0 4 0a2 2 0 1 0-4 0m2.1 0a2 2 0 1 0 4 0a2 2 0 1 0-4 0m3.9 0a2 2 0 1 0 4 0a2 2 0 1 0-4 0m4.1 0a2 2 0 1 0 4 0a2 2 0 1 0-4 0m5 0a2 2 0 1 0 4 0a2 2 0 1 0-4 0m7.7 0a2 2 0 1 0 4 0a2 2 0 1 0-4 0m0.6 0a2 2 0 1 0 4 0a2 2 0 1 0-4 0m7.4 0a2 2 0 1 0 4 0a2 2 0 1 0-4 0m3.8 0a2 2 0 1 0 4 0a2 2 0 1 0-4 0m1.5 0a2 2 0 1 0 4 0a2 2 0 1 0-4 0m5.9 0a2 2 0 1 0 4 0a2 2 0 1 0-4 0m3 0a2 2 0 1 0 4 0a2 2 0 1 0-4 0m5.2 0a2 2 0 1 0 4 0a2 2 0 1 0-4 0m2.4 0a2 2 0 1 0 4 0a2 2 0 1 0-4 0m6.5 0a2 2 0 1 0 4 0a2 2 0 1 0-4 0m2.2 0a2 2 0 1 0 4 0a2 2 0 1 0-4 0m4.2 0a2 2 0 1 0 4 0a2 2 0 1 0-4 0m5.9 0a2 2 0 1 0 4 0a2 2 0 1 0-4 0m2.9 0a2 2 0 1 0 4 0a2 2 0 1 0-4 0m5.4 0a2 2 0 1 0 4 0a2 2 0 1 0-4 0m2.2 0a2 2 0 1 0 4 0a2 2 0 1 0-4 0m5.9 0a2 2 0 1 0 4 0a2 2 0 1 0-4 0m1.6 0a2 2 0 1 0 4 0a2 2 0 1 0-4 0m2.7 0a2 2 0 1 0 4 0a2 2 0 1 0-4 0m7.6 0a2 2 0 1 0 4 0a2 2 0 1 0-4 0m1.3 0a2 2 0 1 0 4 0a2 2 0 1 0-4 0m5.9 0a2 2 0 1 0 4 0a2 2 0 1 0-4 0m4 0a2 2 0 1 0 4 0a2 2 0 1 0-4 0m2 0a2 2 0 1 0 4 0a2 2 0 1 0-4 0m5.8 0a2 2 0 1 0 4 0a2 2 0 1 0-4 0m4.5 0a2 2 0 1 0 4 0a2 2 0 1 0-4 0m5.4 0a2 2 0 1 0 4 0a2 2 0 1 0-4 0m4.8 0a2 2 0 1 0 4 0a2 2 0 1 0-4 0m0 0a2 2 0 1 0 4 0a2 2 0 1 0-4 0m4 0a2 2 0 1 0 4 0a2 2 0 1 0-4 0m8.2 0a2 2 0 1 0 4 0a2 2 0 1 0-4 0m1.9 0a2 2 0 1 0 4 0a2 2 0 1 0-4 0m5.3 0a2 2 0 1 0 4 0a2 2 0 1 0-4 0m5.3 0a2 2 0 1 0 4 0a2 2 0 1 0-4 0m3.7 0a2 2 0 1 0 4 0a2 2 0 1 0-4 0m0.9 0a2 2 0 1 0 4 0a2 2 0 1 0-4 0m7.3 0a2 2 0 1 0 4 0a2 2 0 1 0-4 0m1.7 0a2 2 0 1 0 4 0a2 2 0 1 0-4 0m5.3 0a2 2 0 1 0 4 0a2 2 0 1 0-4 0m5.5 0a2 2 0 1 0 4 0a2 2 0 1 0-4 0m4.1 0a2 2 0 1 0 4 0a2 2 0 1 0-4 0m3 0a2 2 0 1 0 4 0a2 2 0 1 0-4 0m4.2 0a2 2 0 1 0 4 0a2 2 0 1 0-4 0m1.3 0a2 2 0 1 0 4 0a2 2 0 1 0-4 0m7.5 0a2 2 0 1 0 4 0a2 2 0 1 0-4 0m5.1 0a2 2 0 1 0 4 0a2 2 0 1 0-4 0m0.6 0a2 2 0 1 0 4 0a2 2 0 1 0-4 0m-202.1-64a2 2 0 1 0 4 0a2 2 0 1 0-4 0m45.9 0a2 2 0 1 0 4 0a2 2 0 1 0-4 0m60.3 0a2 2 0 1 0 4 0a2 2 0 1 0-4 0m50.2 0a2 2 0 1 0 4 0a2 2 0 1 0-4 0m40.5 0a2 2 0 1 0 4 0a2 2 0 1 0-4 0m-137.1-60.8a2 2 0 1 0 4 0a2 2 0 1 0-4 0m-55.8 73.6a2 2 0 1 0 4 0a2 2 0 1 0-4 0m7.3 0a2 2 0 1 0 4 0a2 2 0 1 0-4 0m40.1 0a2 2 0 1 0 4 0a2 2 0 1 0-4 0m49.2 0a2 2 0 1 0 4 0a2 2 0 1 0-4 0m53.8 0a2 2 0 1 0 4 0a2 2 0 1 0-4 0m46.5 0a2 2 0 1 0 4 0a2 2 0 1 0-4 0m-215 48a2 2 0 1 0 4 0a2 2 0 1 0-4 0m0.8 0a2 2 0 1 0 4 0a2 2 0 1 0-4 0m7.6 0a2 2 0 1 0 4 0a2 2 0 1 0-4 0m4.5 0a2 2 0 1 0 4 0a2 2 0 1 0-4 0m3.8 0a2 2 0 1 0 4 0a2 2 0 1 0-4 0m3.6 0a2 2 0 1 0 4 0a2 2 0 1 0-4 0m3.2 0a2 2 0 1 0 4 0a2 2 0 1 0-4 0m5.9 0a2 2 0 1 0 4 0a2 2 0 1 0-4 0m4.6 0a2 2 0 1 0 4 0a2 2 0 1 0-4 0m4.8 0a2 2 0 1 0 4 0a2 2 0 1 0-4 0m1.2 0a2 2 0 1 0 4 0a2 2 0 1 0-4 0m5.2 0a2 2 0 1 0 4 0a2 2 0 1 0-4 0m2.7 0a2 2 0 1 0 4 0a2 2 0 1 0-4 0m4.5 0a2 2 0 1 0 4 0a2 2 0 1 0-4 0m5.1 0a2 2 0 1 0 4 0a2 2 0 1 0-4 0m2.7 0a2 2 0 1 0 4 0a2 2 0 1 0-4 0m5.1 0a2 2 0 1 0 4 0a2 2 0 1 0-4 0m5.4 0a2 2 0 1 0 4 0a2 2 0 1 0-4 0m6.3 0a2 2 0 1 0 4 0a2 2 0 1 0-4 0m2 0a2 2 0 1 0 4 0a2 2 0 1 0-4 0m7.5 0a2 2 0 1 0 4 0a2 2 0 1 0-4 0m1.9 0a2 2 0 1 0 4 0a2 2 0 1 0-4 0m6.4 0a2 2 0 1 0 4 0a2 2 0 1 0-4 0m2 0a2 2 0 1 0 4 0a2 2 0 1 0-4 0m5.6 0a2 2 0 1 0 4 0a2 2 0 1 0-4 0m4 0a2 2 0 1 0 4 0a2 2 0 1 0-4 0m3.2 0a2 2 0 1 0 4 0a2 2 0 1 0-4 0m5 0a2 2 0 1 0 4 0a2 2 0 1 0-4 0m1.7 0a2 2 0 1 0 4 0a2 2 0 1 0-4 0m5.4 0a2 2 0 1 0 4 0a2 2 0 1 0-4 0m6.5 0a2 2 0 1 0 4 0a2 2 0 1 0-4 0m2 0a2 2 0 1 0 4 0a2 2 0 1 0-4 0m6.4 0a2 2 0 1 0 4 0a2 2 0 1 0-4 0m3.9 0a2 2 0 1 0 4 0a2 2 0 1 0-4 0m4.5 0a2 2 0 1 0 4 0a2 2 0 1 0-4 0m3.7 0a2 2 0 1 0 4 0a2 2 0 1 0-4 0m1.3 0a2 2 0 1 0 4 0a2 2 0 1 0-4 0m6.3 0a2 2 0 1 0 4 0a2 2 0 1 0-4 0m4.7 0a2 2 0 1 0 4 0a2 2 0 1 0-4 0m5.1 0a2 2 0 1 0 4 0a2 2 0 1 0-4 0m1.9 0a2 2 0 1 0 4 0a2 2 0 1 0-4 0m6.4 0a2 2 0 1 0 4 0a2 2 0 1 0-4 0m4.9 0a2 2 0 1 0 4 0a2 2 0 1 0-4 0m4.6 0a2 2 0 1 0 4 0a2 2 0 1 0-4 0m1.1 0a2 2 0 1 0 4 0a2 2 0 1 0-4 0m3.9 0a2 2 0 1 0 4 0a2 2 0 1 0-4 0m8.4 0a2 2 0 1 0 4 0a2 2 0 1 0-4 0m3.6 0a2 2 0 1 0 4 0a2 2 0 1 0-4 0m2.4 0a2 2 0 1 0 4 0a2 2 0 1 0-4 0m4.6 0a2 2 0 1 0 4 0a2 2 0 1 0-4 0m5.6 0a2 2 0 1 0 4 0a2 2 0 1 0-4 0m4.7 0a2 2 0 1 0 4 0a2 2 0 1 0-4 0m0.5 0a2 2 0 1 0 4 0a2 2 0 1 0-4 0m-194.5-41.6a2 2 0 1 0 4 0a2 2 0 1 0-4 0m104.2 0a2 2 0 1 0 4 0a2 2 0 1 0-4 0m58 0a2 2 0 1 0 4 0a2 2 0 1 0-4 0m34.6 22.4a2 2 0 1 0 4 0a2 2 0 1 0-4 0m-215.5 0a2 2 0 1 0 4 0a2 2 0 1 0-4 0m-0.1 0a2 2 0 1 0 4 0a2 2 0 1 0-4 0m6.9 0a2 2 0 1 0 4 0a2 2 0 1 0-4 0m5.9 0a2 2 0 1 0 4 0a2 2 0 1 0-4 0m6.9 0a2 2 0 1 0 4 0a2 2 0 1 0-4 0m6.5 0a2 2 0 1 0 4 0a2 2 0 1 0-4 0m7.9 0a2 2 0 1 0 4 0a2 2 0 1 0-4 0m4.5 0a2 2 0 1 0 4 0a2 2 0 1 0-4 0m4.3 0a2 2 0 1 0 4 0a2 2 0 1 0-4 0m2.2 0a2 2 0 1 0 4 0a2 2 0 1 0-4 0m10.1 0a2 2 0 1 0 4 0a2 2 0 1 0-4 0m1.2 0a2 2 0 1 0 4 0a2 2 0 1 0-4 0m7.4 0a2 2 0 1 0 4 0a2 2 0 1 0-4 0m3.3 0a2 2 0 1 0 4 0a2 2 0 1 0-4 0m7.3 0a2 2 0 1 0 4 0a2 2 0 1 0-4 0m4.9 0a2 2 0 1 0 4 0a2 2 0 1 0-4 0m10.9 0a2 2 0 1 0 4 0a2 2 0 1 0-4 0m3.2 0a2 2 0 1 0 4 0a2 2 0 1 0-4 0m6.6 0a2 2 0 1 0 4 0a2 2 0 1 0-4 0m2.6 0a2 2 0 1 0 4 0a2 2 0 1 0-4 0m9.5 0a2 2 0 1 0 4 0a2 2 0 1 0-4 0m2.7 0a2 2 0 1 0 4 0a2 2 0 1 0-4 0m5.1 0a2 2 0 1 0 4 0a2 2 0 1 0-4 0m9.2 0a2 2 0 1 0 4 0a2 2 0 1 0-4 0m1.3 0a2 2 0 1 0 4 0a2 2 0 1 0-4 0m9.2 0a2 2 0 1 0 4 0a2 2 0 1 0-4 0m2.7 0a2 2 0 1 0 4 0a2 2 0 1 0-4 0m10.7 0a2 2 0 1 0 4 0a2 2 0 1 0-4 0m2.3 0a2 2 0 1 0 4 0a2 2 0 1 0-4 0m8.2 0a2 2 0 1 0 4 0a2 2 0 1 0-4 0m3.3 0a2 2 0 1 0 4 0a2 2 0 1 0-4 0m8.9 0a2 2 0 1 0 4 0a2 2 0 1 0-4 0m-0.5 0a2 2 0 1 0 4 0a2 2 0 1 0-4 0m10.9 0a2 2 0 1 0 4 0a2 2 0 1 0-4 0m5.3 0a2 2 0 1 0 4 0a2 2 0 1 0-4 0m0.8 0a2 2 0 1 0 4 0a2 2 0 1 0-4 0m7.3 0a2 2 0 1 0 4 0a2 2 0 1 0-4 0m7.7 0a2 2 0 1 0 4 0a2 2 0 1 0-4 0m3.9 0a2 2 0 1 0 4 0a2 2 0 1 0-4 0m-2-16a2 2 0 1 0 4 0a2 2 0 1 0-4 0m-191.6 0a2 2 0 1 0 4 0a2 2 0 1 0-4 0m16.4 0a2 2 0 1 0 4 0a2 2 0 1 0-4 0m2.5 0a2 2 0 1 0 4 0a2 2 0 1 0-4 0m21.2 0a2 2 0 1 0 4 0a2 2 0 1 0-4 0m22.7 0a2 2 0 1 0 4 0a2 2 0 1 0-4 0m24 0a2 2 0 1 0 4 0a2 2 0 1 0-4 0m1.4 0a2 2 0 1 0 4 0a2 2 0 1 0-4 0m16.6 0a2 2 0 1 0 4 0a2 2 0 1 0-4 0m23.7 0a2 2 0 1 0 4 0a2 2 0 1 0-4 0m16.8 0a2 2 0 1 0 4 0a2 2 0 1 0-4 0m25.3 0a2 2 0 1 0 4 0a2 2 0 1 0-4 0m17.1 0a2 2 0 1 0 4 0a2 2 0 1 0-4 0m-213.8 9.6a2 2 0 1 0 4 0a2 2 0 1 0-4 0m6 0a2 2 0 1 0 4 0a2 2 0 1 0-4 0m11.6 0a2 2 0 1 0 4 0a2 2 0 1 0-4 0m2.4 0a2 2 0 1 0 4 0a2 2 0 1 0-4 0m8.2 0a2 2 0 1 0 4 0a2 2 0 1 0-4 0m7.4 0a2 2 0 1 0 4 0a2 2 0 1 0-4 0m14.2 0a2 2 0 1 0 4 0a2 2 0 1 0-4 0m6.8 0a2 2 0 1 0 4 0a2 2 0 1 0-4 0m0.2 0a2 2 0 1 0 4 0a2 2 0 1 0-4 0m14.9 0a2 2 0 1 0 4 0a2 2 0 1 0-4 0m4 0a2 2 0 1 0 4 0a2 2 0 1 0-4 0m4.6 0a2 2 0 1 0 4 0a2 2 0 1 0-4 0m11.2 0a2 2 0 1 0 4 0a2 2 0 1 0-4 0m7.2 0a2 2 0 1 0 4 0a2 2 0 1 0-4 0m11.8 0a2 2 0 1 0 4 0a2 2 0 1 0-4 0m4.8 0a2 2 0 1 0 4 0a2 2 0 1 0-4 0m6.3 0a2 2 0 1 0 4 0a2 2 0 1 0-4 0m9 0a2 2 0 1 0 4 0a2 2 0 1 0-4 0m12.6 0a2 2 0 1 0 4 0a2 2 0 1 0-4 0m8.3 0a2 2 0 1 0 4 0a2 2 0 1 0-4 0m3.4 0a2 2 0 1 0 4 0a2 2 0 1 0-4 0m8.8 0a2 2 0 1 0 4 0a2 2 0 1 0-4 0m3.7 0a2 2 0 1 0 4 0a2 2 0 1 0-4 0m13.9 0a2 2 0 1 0 4 0a2 2 0 1 0-4 0m4.3 0a2 2 0 1 0 4 0a2 2 0 1 0-4 0m5.7 0a2 2 0 1 0 4 0a2 2 0 1 0-4 0m8.3 0a2 2 0 1 0 4 0a2 2 0 1 0-4 0m9.8 0a2 2 0 1 0 4 0a2 2 0 1 0-4 0m7.8 0a2 2 0 1 0 4 0a2 2 0 1 0-4 0m-202.1-67.2a2 2 0 1 0 4 0a2 2 0 1 0-4 0m89.3 0a2 2 0 1 0 4 0a2 2 0 1 0-4 0m-102.2 0a2 2 0 1 0 4 0a2 2 0 1 0-4 0m217.8 60.8a2 2 0 1 0 4 0a2 2 0 1 0-4 0m-213.4 0a2 2 0 1 0 4 0a2 2 0 1 0-4 0m8.6 0a2 2 0 1 0 4 0a2 2 0 1 0-4 0m17.5 0a2 2 0 1 0 4 0a2 2 0 1 0-4 0m11.7 0a2 2 0 1 0 4 0a2 2 0 1 0-4 0m12.5 0a2 2 0 1 0 4 0a2 2 0 1 0-4 0m7 0a2 2 0 1 0 4 0a2 2 0 1 0-4 0m5.3 0a2 2 0 1 0 4 0a2 2 0 1 0-4 0m23.3 0a2 2 0 1 0 4 0a2 2 0 1 0-4 0m9.8 0a2 2 0 1 0 4 0a2 2 0 1 0-4 0m11.1 0a2 2 0 1 0 4 0a2 2 0 1 0-4 0m2.2 0a2 2 0 1 0 4 0a2 2 0 1 0-4 0m9.4 0a2 2 0 1 0 4 0a2 2 0 1 0-4 0m11.5 0a2 2 0 1 0 4 0a2 2 0 1 0-4 0m20.6 0a2 2 0 1 0 4 0a2 2 0 1 0-4 0m4.5 0a2 2 0 1 0 4 0a2 2 0 1 0-4 0m9.4 0a2 2 0 1 0 4 0a2 2 0 1 0-4 0m13.1 0a2 2 0 1 0 4 0a2 2 0 1 0-4 0m13.7 0a2 2 0 1 0 4 0a2 2 0 1 0-4 0m3.8 0a2 2 0 1 0 4 0a2 2 0 1 0-4 0m11.5 0a2 2 0 1 0 4 0a2 2 0 1 0-4 0m-212.7 25.6a2 2 0 1 0 4 0a2 2 0 1 0-4 0m5.2 0a2 2 0 1 0 4 0a2 2 0 1 0-4 0m5.4 0a2 2 0 1 0 4 0a2 2 0 1 0-4 0m3.5 0a2 2 0 1 0 4 0a2 2 0 1 0-4 0m7.6 0a2 2 0 1 0 4 0a2 2 0 1 0-4 0m3.7 0a2 2 0 1 0 4 0a2 2 0 1 0-4 0m5.8 0a2 2 0 1 0 4 0a2 2 0 1 0-4 0m0.8 0a2 2 0 1 0 4 0a2 2 0 1 0-4 0m3.8 0a2 2 0 1 0 4 0a2 2 0 1 0-4 0m6.6 0a2 2 0 1 0 4 0a2 2 0 1 0-4 0m5.2 0a2 2 0 1 0 4 0a2 2 0 1 0-4 0m5.8 0a2 2 0 1 0 4 0a2 2 0 1 0-4 0m3.7 0a2 2 0 1 0 4 0a2 2 0 1 0-4 0m6.4 0a2 2 0 1 0 4 0a2 2 0 1 0-4 0m-0.1 0a2 2 0 1 0 4 0a2 2 0 1 0-4 0m7 0a2 2 0 1 0 4 0a2 2 0 1 0-4 0m7.1 0a2 2 0 1 0 4 0a2 2 0 1 0-4 0m1 0a2 2 0 1 0 4 0a2 2 0 1 0-4 0m5.5 0a2 2 0 1 0 4 0a2 2 0 1 0-4 0m3.3 0a2 2 0 1 0 4 0a2 2 0 1 0-4 0m8.1 0a2 2 0 1 0 4 0a2 2 0 1 0-4 0m5.2 0a2 2 0 1 0 4 0a2 2 0 1 0-4 0m0.1 0a2 2 0 1 0 4 0a2 2 0 1 0-4 0m5.4 0a2 2 0 1 0 4 0a2 2 0 1 0-4 0m4.2 0a2 2 0 1 0 4 0a2 2 0 1 0-4 0m8.5 0a2 2 0 1 0 4 0a2 2 0 1 0-4 0m3.7 0a2 2 0 1 0 4 0a2 2 0 1 0-4 0m3.4 0a2 2 0 1 0 4 0a2 2 0 1 0-4 0m4.4 0a2 2 0 1 0 4 0a2 2 0 1 0-4 0m2.9 0a2 2 0 1 0 4 0a2 2 0 1 0-4 0m4.5 0a2 2 0 1 0 4 0a2 2 0 1 0-4 0m8.3 0a2 2 0 1 0 4 0a2 2 0 1 0-4 0m0.9 0a2 2 0 1 0 4 0a2 2 0 1 0-4 0m9.2 0a2 2 0 1 0 4 0a2 2 0 1 0-4 0m0.6 0a2 2 0 1 0 4 0a2 2 0 1 0-4 0m6.8 0a2 2 0 1 0 4 0a2 2 0 1 0-4 0m2.5 0a2 2 0 1 0 4 0a2 2 0 1 0-4 0m8.5 0a2 2 0 1 0 4 0a2 2 0 1 0-4 0m2.9 0a2 2 0 1 0 4 0a2 2 0 1 0-4 0m3.5 0a2 2 0 1 0 4 0a2 2 0 1 0-4 0m7.7 0a2 2 0 1 0 4 0a2 2 0 1 0-4 0m3.9 0a2 2 0 1 0 4 0a2 2 0 1 0-4 0m3 0a2 2 0 1 0 4 0a2 2 0 1 0-4 0m3.6 0a2 2 0 1 0 4 0a2 2 0 1 0-4 0m5.4 0a2 2 0 1 0 4 0a2 2 0 1 0-4 0m4.7 0a2 2 0 1 0 4 0a2 2 0 1 0-4 0m6.1 0a2 2 0 1 0 4 0a2 2 0 1 0-4 0m3.1 0a2 2 0 1 0 4 0a2 2 0 1 0-4 0m4.7 0a2 2 0 1 0 4 0a2 2 0 1 0-4 0m-193.4-44.8a2 2 0 1 0 4 0a2 2 0 1 0-4 0m57.6 0a2 2 0 1 0 4 0a2 2 0 1 0-4 0m36.1 0a2 2 0 1 0 4 0a2 2 0 1 0-4 0m-117 28.8a2 2 0 1 0 4 0a2 2 0 1 0-4 0m6.6 0a2 2 0 1 0 4 0a2 2 0 1 0-4 0m10 0a2 2 0 1 0 4 0a2 2 0 1 0-4 0m5.3 0a2 2 0 1 0 4 0a2 2 0 1 0-4 0m11.9 0a2 2 0 1 0 4 0a2 2 0 1 0-4 0m2.2 0a2 2 0 1 0 4 0a2 2 0 1 0-4 0m18.5 0a2 2 0 1 0 4 0a2 2 0 1 0-4 0m2.3 0a2 2 0 1 0 4 0a2 2 0 1 0-4 0m16.1 0a2 2 0 1 0 4 0a2 2 0 1 0-4 0m6.5 0a2 2 0 1 0 4 0a2 2 0 1 0-4 0m10.4 0a2 2 0 1 0 4 0a2 2 0 1 0-4 0m4.5 0a2 2 0 1 0 4 0a2 2 0 1 0-4 0m5.2 0a2 2 0 1 0 4 0a2 2 0 1 0-4 0m15.9 0a2 2 0 1 0 4 0a2 2 0 1 0-4 0m5.2 0a2 2 0 1 0 4 0a2 2 0 1 0-4 0m13.9 0a2 2 0 1 0 4 0a2 2 0 1 0-4 0m8 0a2 2 0 1 0 4 0a2 2 0 1 0-4 0m10.5 0a2 2 0 1 0 4 0a2 2 0 1 0-4 0m3.7 0a2 2 0 1 0 4 0a2 2 0 1 0-4 0m16.5 0a2 2 0 1 0 4 0a2 2 0 1 0-4 0m7.9 0a2 2 0 1 0 4 0a2 2 0 1 0-4 0m1.9 0a2 2 0 1 0 4 0a2 2 0 1 0-4 0m9.5 0a2 2 0 1 0 4 0a2 2 0 1 0-4 0m10.9 0a2 2 0 1 0 4 0a2 2 0 1 0-4 0m-210.2 0a2 2 0 1 0 4 0a2 2 0 1 0-4 0m57.5-32a2 2 0 1 0 4 0a2 2 0 1 0-4 0m43.2 0a2 2 0 1 0 4 0a2 2 0 1 0-4 0m101.8 0a2 2 0 1 0 4 0a2 2 0 1 0-4 0m-43.9-64a2 2 0 1 0 4 0a2 2 0 1 0-4 0m-154.2 41.6a2 2 0 1 0 4 0a2 2 0 1 0-4 0m54.5 0a2 2 0 1 0 4 0a2 2 0 1 0-4 0m61.9 0a2 2 0 1 0 4 0a2 2 0 1 0-4 0m60.2 0a2 2 0 1 0 4 0a2 2 0 1 0-4 0m37 9.6a2 2 0 1 0 4 0a2 2 0 1 0-4 0m-71.3-44.8a2 2 0 1 0 4 0a2 2 0 1 0-4 0m-6.4 0a2 2 0 1 0 4 0a2 2 0 1 0-4 0m34.4 41.6a2 2 0 1 0 4 0a2 2 0 1 0-4 0m13.9-19.2a2 2 0 1 0 4 0a2 2 0 1 0-4 0m-150.4 25.6a2 2 0 1 0 4 0a2 2 0 1 0-4 0m23.8 0a2 2 0 1 0 4 0a2 2 0 1 0-4 0m37.8 0a2 2 0 1 0 4 0a2 2 0 1 0-4 0m41.6 0a2 2 0 1 0 4 0a2 2 0 1 0-4 0m71.4 0a2 2 0 1 0 4 0a2 2 0 1 0-4 0m-207.7-9.6a2 2 0 1 0 4 0a2 2 0 1 0-4 0m180.1-41.6a2 2 0 1 0 4 0a2 2 0 1 0-4 0m-132.4 28.8a2 2 0 1 0 4 0a2 2 0 1 0-4 0m29.4 6.4a2 2 0 1 0 4 0a2 2 0 1 0-4 0m-82.2 48a2 2 0 1 0 4 0a2 2 0 1 0-4 0m12.7 0a2 2 0 1 0 4 0a2 2 0 1 0-4 0m8.5 0a2 2 0 1 0 4 0a2 2 0 1 0-4 0m6.7 0a2 2 0 1 0 4 0a2 2 0 1 0-4 0m5.7 0a2 2 0 1 0 4 0a2 2 0 1 0-4 0m6.8 0a2 2 0 1 0 4 0a2 2 0 1 0-4 0m8.7 0a2 2 0 1 0 4 0a2 2 0 1 0-4 0m9.5 0a2 2 0 1 0 4 0a2 2 0 1 0-4 0m-54.1-3.2a2 2 0 1 0 4 0a2 2 0 1 0-4 0m0.9 0a2 2 0 1 0 4 0a2 2 0 1 0-4 0m11.8 0a2 2 0 1 0 4 0a2 2 0 1 0-4 0m-0.9 0a2 2 0 1 0 4 0a2 2 0 1 0-4 0m7.1 0a2 2 0 1 0 4 0a2 2 0 1 0-4 0m8 0a2 2 0 1 0 4 0a2 2 0 1 0-4 0m6.7 0a2 2 0 1 0 4 0a2 2 0 1 0-4 0m10.9 0a2 2 0 1 0 4 0a2 2 0 1 0-4 0m5.1 0a2 2 0 1 0 4 0a2 2 0 1 0-4 0m1.6 0a2 2 0 1 0 4 0a2 2 0 1 0-4 0m3.1 25.6a2 2 0 1 0 4 0a2 2 0 1 0-4 0m-52.6 0a2 2 0 1 0 4 0a2 2 0 1 0-4 0m6.3 0a2 2 0 1 0 4 0a2 2 0 1 0-4 0m5.8 0a2 2 0 1 0 4 0a2 2 0 1 0-4 0m13.5 0a2 2 0 1 0 4 0a2 2 0 1 0-4 0m5.1 0a2 2 0 1 0 4 0a2 2 0 1 0-4 0m7.8 0a2 2 0 1 0 4 0a2 2 0 1 0-4 0m9.9 0a2 2 0 1 0 4 0a2 2 0 1 0-4 0m-53.4-16a2 2 0 1 0 4 0a2 2 0 1 0-4 0m0.8 0a2 2 0 1 0 4 0a2 2 0 1 0-4 0m12.9 0a2 2 0 1 0 4 0a2 2 0 1 0-4 0m2.7 0a2 2 0 1 0 4 0a2 2 0 1 0-4 0m12 0a2 2 0 1 0 4 0a2 2 0 1 0-4 0m4.4 0a2 2 0 1 0 4 0a2 2 0 1 0-4 0m10.5 0a2 2 0 1 0 4 0a2 2 0 1 0-4 0m1.1 0a2 2 0 1 0 4 0a2 2 0 1 0-4 0m12.3 0a2 2 0 1 0 4 0a2 2 0 1 0-4 0m-56.1 9.6a2 2 0 1 0 4 0a2 2 0 1 0-4 0m10.1 0a2 2 0 1 0 4 0a2 2 0 1 0-4 0m1.3 0a2 2 0 1 0 4 0a2 2 0 1 0-4 0m11 0a2 2 0 1 0 4 0a2 2 0 1 0-4 0m2.4 0a2 2 0 1 0 4 0a2 2 0 1 0-4 0m7.3 0a2 2 0 1 0 4 0a2 2 0 1 0-4 0m10.6 0a2 2 0 1 0 4 0a2 2 0 1 0-4 0m3.8 0a2 2 0 1 0 4 0a2 2 0 1 0-4 0m5.3 0a2 2 0 1 0 4 0a2 2 0 1 0-4 0m6 0a2 2 0 1 0 4 0a2 2 0 1 0-4 0m-40.2 9.6a2 2 0 1 0 4 0a2 2 0 1 0-4 0m4.3 0a2 2 0 1 0 4 0a2 2 0 1 0-4 0m16.3 0a2 2 0 1 0 4 0a2 2 0 1 0-4 0m-35.6-12.8a2 2 0 1 0 4 0a2 2 0 1 0-4 0m5.4 0a2 2 0 1 0 4 0a2 2 0 1 0-4 0m23.5 0a2 2 0 1 0 4 0a2 2 0 1 0-4 0m2.8 0a2 2 0 1 0 4 0a2 2 0 1 0-4 0m12 0a2 2 0 1 0 4 0a2 2 0 1 0-4 0m11.4 0a2 2 0 1 0 4 0a2 2 0 1 0-4 0m-51.6-3.2a2 2 0 1 0 4 0a2 2 0 1 0-4 0m8.7 0a2 2 0 1 0 4 0a2 2 0 1 0-4 0m1.1 0a2 2 0 1 0 4 0a2 2 0 1 0-4 0m19.5 0a2 2 0 1 0 4 0a2 2 0 1 0-4 0m3.9 0a2 2 0 1 0 4 0a2 2 0 1 0-4 0m11.1 0a2 2 0 1 0 4 0a2 2 0 1 0-4 0m-48.2-25.6a2 2 0 1 0 4 0a2 2 0 1 0-4 0m2.1 0a2 2 0 1 0 4 0a2 2 0 1 0-4 0m10.2 0a2 2 0 1 0 4 0a2 2 0 1 0-4 0m11.6 0a2 2 0 1 0 4 0a2 2 0 1 0-4 0m20 0a2 2 0 1 0 4 0a2 2 0 1 0-4 0m7.9 0a2 2 0 1 0 4 0a2 2 0 1 0-4 0m-51.2 6.4a2 2 0 1 0 4 0a2 2 0 1 0-4 0m14.2 0a2 2 0 1 0 4 0a2 2 0 1 0-4 0m18.2 0a2 2 0 1 0 4 0a2 2 0 1 0-4 0m14.2 0a2 2 0 1 0 4 0a2 2 0 1 0-4 0m4.5 0a2 2 0 1 0 4 0a2 2 0 1 0-4 0m-36.6 3.2a2 2 0 1 0 4 0a2 2 0 1 0-4 0m16 0a2 2 0 1 0 4 0a2 2 0 1 0-4 0m-29.4 0a2 2 0 1 0 4 0a2 2 0 1 0-4 0m0.3 25.6a2 2 0 1 0 4 0a2 2 0 1 0-4 0m11.6 0a2 2 0 1 0 4 0a2 2 0 1 0-4 0m12.4 0a2 2 0 1 0 4 0a2 2 0 1 0-4 0m-30 0a2 2 0 1 0 4 0a2 2 0 1 0-4 0m5-32a2 2 0 1 0 4 0a2 2 0 1 0-4 0m18.2 0a2 2 0 1 0 4 0a2 2 0 1 0-4 0m10.6 0a2 2 0 1 0 4 0a2 2 0 1 0-4 0m15.7 0a2 2 0 1 0 4 0a2 2 0 1 0-4 0m-38.9 16a2 2 0 1 0 4 0a2 2 0 1 0-4 0m8.2 0a2 2 0 1 0 4 0a2 2 0 1 0-4 0m13.8 0a2 2 0 1 0 4 0a2 2 0 1 0-4 0m11.6 0a2 2 0 1 0 4 0a2 2 0 1 0-4 0m15 0a2 2 0 1 0 4 0a2 2 0 1 0-4 0m-42.9-22.4a2 2 0 1 0 4 0a2 2 0 1 0-4 0m10.6 0a2 2 0 1 0 4 0a2 2 0 1 0-4 0m34.5 0a2 2 0 1 0 4 0a2 2 0 1 0-4 0m168.9 6.4a2 2 0 1 0 4 0a2 2 0 1 0-4 0m-0.4 0a2 2 0 1 0 4 0a2 2 0 1 0-4 0m0.6 6.4a2 2 0 1 0 4 0a2 2 0 1 0-4 0m-0.6 0a2 2 0 1 0 4 0a2 2 0 1 0-4 0m0.2 0a2 2 0 1 0 4 0a2 2 0 1 0-4 0m0.1 16a2 2 0 1 0 4 0a2 2 0 1 0-4 0m-0.4 0a2 2 0 1 0 4 0a2 2 0 1 0-4 0m0.3 0a2 2 0 1 0 4 0a2 2 0 1 0-4 0m-0.4-118.4a2 2 0 1 0 4 0a2 2 0 1 0-4 0m0.1 0a2 2 0 1 0 4 0a2 2 0 1 0-4 0m0.2 0a2 2 0 1 0 4 0a2 2 0 1 0-4 0m-0.2 147.2a2 2 0 1 0 4 0a2 2 0 1 0-4 0m0.2-76.8a2 2 0 1 0 4 0a2 2 0 1 0-4 0m0-6.4a2 2 0 1 0 4 0a2 2 0 1 0-4 0m0.1-54.4a2 2 0 1 0 4 0a2 2 0 1 0-4 0m0 0a2 2 0 1 0 4 0a2 2 0 1 0-4 0m-0.3 9.6a2 2 0 1 0 4 0a2 2 0 1 0-4 0m0.3 0a2 2 0 1 0 4 0a2 2 0 1 0-4 0m-0.3 16a2 2 0 1 0 4 0a2 2 0 1 0-4 0m-0.2 0a2 2 0 1 0 4 0a2 2 0 1 0-4 0m0.1 99.2a2 2 0 1 0 4 0a2 2 0 1 0-4 0m0.5-105.6a2 2 0 1 0 4 0a2 2 0 1 0-4 0m-0.3 19.2a2 2 0 1 0 4 0a2 2 0 1 0-4 0m0 0a2 2 0 1 0 4 0a2 2 0 1 0-4 0m-0.1-16a2 2 0 1 0 4 0a2 2 0 1 0-4 0m0.1 19.2a2 2 0 1 0 4 0a2 2 0 1 0-4 0m0.2 89.6a2 2 0 1 0 4 0a2 2 0 1 0-4 0m0-32a2 2 0 1 0 4 0a2 2 0 1 0-4 0m-0.3 0a2 2 0 1 0 4 0a2 2 0 1 0-4 0m-0.1 35.2a2 2 0 1 0 4 0a2 2 0 1 0-4 0m0.1 0a2 2 0 1 0 4 0a2 2 0 1 0-4 0m0.2 0a2 2 0 1 0 4 0a2 2 0 1 0-4 0m0.2 0a2 2 0 1 0 4 0a2 2 0 1 0-4 0m-0.3 4.3a2 2 0 1 0 4 0a2 2 0 1 0-4 0m-0.4 0a2 2 0 1 0 4 0a2 2 0 1 0-4 0m0.3-106.7a2 2 0 1 0 4 0a2 2 0 1 0-4 0m-0.4 64a2 2 0 1 0 4 0a2 2 0 1 0-4 0m0.3 32a2 2 0 1 0 4 0a2 2 0 1 0-4 0m0.3 0a2 2 0 1 0 4 0a2 2 0 1 0-4 0m-0.1-144a2 2 0 1 0 4 0a2 2 0 1 0-4 0m0 96a2 2 0 1 0 4 0a2 2 0 1 0-4 0m0-64a2 2 0 1 0 4 0a2 2 0 1 0-4 0m0.2 105.6a2 2 0 1 0 4 0a2 2 0 1 0-4 0m-0.3-38.4a2 2 0 1 0 4 0a2 2 0 1 0-4 0m0.1 32a2 2 0 1 0 4 0a2 2 0 1 0-4 0m-0.2-25.6a2 2 0 1 0 4 0a2 2 0 1 0-4 0m0.4-22.4a2 2 0 1 0 4 0a2 2 0 1 0-4 0m-0.3-22.4a2 2 0 1 0 4 0a2 2 0 1 0-4 0m0.5-41.6a2 2 0 1 0 4 0a2 2 0 1 0-4 0m-0.4-9.6a2 2 0 1 0 4 0a2 2 0 1 0-4 0m-22.8 144a2 2 0 1 0 4 0a2 2 0 1 0-4 0m2.2 0a2 2 0 1 0 4 0a2 2 0 1 0-4 0m2.5 0a2 2 0 1 0 4 0a2 2 0 1 0-4 0m3 0a2 2 0 1 0 4 0a2 2 0 1 0-4 0m1.3 0a2 2 0 1 0 4 0a2 2 0 1 0-4 0m0.9 0a2 2 0 1 0 4 0a2 2 0 1 0-4 0m1.9 0a2 2 0 1 0 4 0a2 2 0 1 0-4 0m1 0a2 2 0 1 0 4 0a2 2 0 1 0-4 0m0.1 0a2 2 0 1 0 4 0a2 2 0 1 0-4 0m1.6 0a2 2 0 1 0 4 0a2 2 0 1 0-4 0m0.6 0a2 2 0 1 0 4 0a2 2 0 1 0-4 0m1 0a2 2 0 1 0 4 0a2 2 0 1 0-4 0m1.3 0a2 2 0 1 0 4 0a2 2 0 1 0-4 0m0.6 0a2 2 0 1 0 4 0a2 2 0 1 0-4 0m1.3 0a2 2 0 1 0 4 0a2 2 0 1 0-4 0m0.4 0a2 2 0 1 0 4 0a2 2 0 1 0-4 0m1.7 0a2 2 0 1 0 4 0a2 2 0 1 0-4 0m0 0a2 2 0 1 0 4 0a2 2 0 1 0-4 0m1.5 0a2 2 0 1 0 4 0a2 2 0 1 0-4 0m-20.4-19.2a2 2 0 1 0 4 0a2 2 0 1 0-4 0m4.9 0a2 2 0 1 0 4 0a2 2 0 1 0-4 0m0.1 0a2 2 0 1 0 4 0a2 2 0 1 0-4 0m4.2 0a2 2 0 1 0 4 0a2 2 0 1 0-4 0m0.8 0a2 2 0 1 0 4 0a2 2 0 1 0-4 0m1.7 0a2 2 0 1 0 4 0a2 2 0 1 0-4 0m3.2 0a2 2 0 1 0 4 0a2 2 0 1 0-4 0m1.5 0a2 2 0 1 0 4 0a2 2 0 1 0-4 0m1.2 0a2 2 0 1 0 4 0a2 2 0 1 0-4 0m1.6 0a2 2 0 1 0 4 0a2 2 0 1 0-4 0m0.7 0a2 2 0 1 0 4 0a2 2 0 1 0-4 0m0.2 20.3a2 2 0 1 0 4 0a2 2 0 1 0-4 0m-16.8 0a2 2 0 1 0 4 0a2 2 0 1 0-4 0m6.3 0a2 2 0 1 0 4 0a2 2 0 1 0-4 0m2.2 0a2 2 0 1 0 4 0a2 2 0 1 0-4 0m3.1 0a2 2 0 1 0 4 0a2 2 0 1 0-4 0m1.4 0a2 2 0 1 0 4 0a2 2 0 1 0-4 0m2 0a2 2 0 1 0 4 0a2 2 0 1 0-4 0m-22.4-7.5a2 2 0 1 0 4 0a2 2 0 1 0-4 0m5.6 0a2 2 0 1 0 4 0a2 2 0 1 0-4 0m3.4 0a2 2 0 1 0 4 0a2 2 0 1 0-4 0m0.3 0a2 2 0 1 0 4 0a2 2 0 1 0-4 0m3.6 0a2 2 0 1 0 4 0a2 2 0 1 0-4 0m0 0a2 2 0 1 0 4 0a2 2 0 1 0-4 0m2.7 0a2 2 0 1 0 4 0a2 2 0 1 0-4 0m0.4 0a2 2 0 1 0 4 0a2 2 0 1 0-4 0m2.4 0a2 2 0 1 0 4 0a2 2 0 1 0-4 0m1.5 0a2 2 0 1 0 4 0a2 2 0 1 0-4 0m0.1 0a2 2 0 1 0 4 0a2 2 0 1 0-4 0m1.7 0a2 2 0 1 0 4 0a2 2 0 1 0-4 0m1.2 0a2 2 0 1 0 4 0a2 2 0 1 0-4 0m-25.1 0a2 2 0 1 0 4 0a2 2 0 1 0-4 0m4.8 3.2a2 2 0 1 0 4 0a2 2 0 1 0-4 0m1.5 0a2 2 0 1 0 4 0a2 2 0 1 0-4 0m5.2 0a2 2 0 1 0 4 0a2 2 0 1 0-4 0m2.6 0a2 2 0 1 0 4 0a2 2 0 1 0-4 0m1.8 0a2 2 0 1 0 4 0a2 2 0 1 0-4 0m2.6 0a2 2 0 1 0 4 0a2 2 0 1 0-4 0m1.7 0a2 2 0 1 0 4 0a2 2 0 1 0-4 0m0.8 0a2 2 0 1 0 4 0a2 2 0 1 0-4 0m2.3 0a2 2 0 1 0 4 0a2 2 0 1 0-4 0m1 0a2 2 0 1 0 4 0a2 2 0 1 0-4 0m1.4 0a2 2 0 1 0 4 0a2 2 0 1 0-4 0m-25.4-6.4a2 2 0 1 0 4 0a2 2 0 1 0-4 0m3.9 0a2 2 0 1 0 4 0a2 2 0 1 0-4 0m3.5 0a2 2 0 1 0 4 0a2 2 0 1 0-4 0m0 0a2 2 0 1 0 4 0a2 2 0 1 0-4 0m2 0a2 2 0 1 0 4 0a2 2 0 1 0-4 0m1.9 0a2 2 0 1 0 4 0a2 2 0 1 0-4 0m0.8 0a2 2 0 1 0 4 0a2 2 0 1 0-4 0m0.6 0a2 2 0 1 0 4 0a2 2 0 1 0-4 0m1.4 0a2 2 0 1 0 4 0a2 2 0 1 0-4 0m1 0a2 2 0 1 0 4 0a2 2 0 1 0-4 0m0.3 0a2 2 0 1 0 4 0a2 2 0 1 0-4 0m1.4 0a2 2 0 1 0 4 0a2 2 0 1 0-4 0m0.2 0a2 2 0 1 0 4 0a2 2 0 1 0-4 0m0.6 0a2 2 0 1 0 4 0a2 2 0 1 0-4 0m0.6 0a2 2 0 1 0 4 0a2 2 0 1 0-4 0m1.2 0a2 2 0 1 0 4 0a2 2 0 1 0-4 0m0.3 0a2 2 0 1 0 4 0a2 2 0 1 0-4 0m0.6 0a2 2 0 1 0 4 0a2 2 0 1 0-4 0m1.2 0a2 2 0 1 0 4 0a2 2 0 1 0-4 0m0.8 0a2 2 0 1 0 4 0a2 2 0 1 0-4 0m0.5 0a2 2 0 1 0 4 0a2 2 0 1 0-4 0m0.2 0a2 2 0 1 0 4 0a2 2 0 1 0-4 0m1 0a2 2 0 1 0 4 0a2 2 0 1 0-4 0m0.3 0a2 2 0 1 0 4 0a2 2 0 1 0-4 0m0.7 0a2 2 0 1 0 4 0a2 2 0 1 0-4 0m0.1 0a2 2 0 1 0 4 0a2 2 0 1 0-4 0m1.3 0a2 2 0 1 0 4 0a2 2 0 1 0-4 0m-20.8-6.4a2 2 0 1 0 4 0a2 2 0 1 0-4 0m1.3 0a2 2 0 1 0 4 0a2 2 0 1 0-4 0m4.5 0a2 2 0 1 0 4 0a2 2 0 1 0-4 0m2.1 0a2 2 0 1 0 4 0a2 2 0 1 0-4 0m2.6 0a2 2 0 1 0 4 0a2 2 0 1 0-4 0m1.1 0a2 2 0 1 0 4 0a2 2 0 1 0-4 0m1.7 0a2 2 0 1 0 4 0a2 2 0 1 0-4 0m1.9 0a2 2 0 1 0 4 0a2 2 0 1 0-4 0m2.5 0a2 2 0 1 0 4 0a2 2 0 1 0-4 0m1.4 0a2 2 0 1 0 4 0a2 2 0 1 0-4 0m0.4 0a2 2 0 1 0 4 0a2 2 0 1 0-4 0m-17.6 3.2a2 2 0 1 0 4 0a2 2 0 1 0-4 0m1.4 0a2 2 0 1 0 4 0a2 2 0 1 0-4 0m3.6 0a2 2 0 1 0 4 0a2 2 0 1 0-4 0m2.9 0a2 2 0 1 0 4 0a2 2 0 1 0-4 0m1.4 0a2 2 0 1 0 4 0a2 2 0 1 0-4 0m1.6 0a2 2 0 1 0 4 0a2 2 0 1 0-4 0m2.3 0a2 2 0 1 0 4 0a2 2 0 1 0-4 0m1.9 0a2 2 0 1 0 4 0a2 2 0 1 0-4 0m-0.1 0a2 2 0 1 0 4 0a2 2 0 1 0-4 0m1.9 0a2 2 0 1 0 4 0a2 2 0 1 0-4 0m-23.6 0a2 2 0 1 0 4 0a2 2 0 1 0-4 0m3.2-12.8a2 2 0 1 0 4 0a2 2 0 1 0-4 0m6.3 0a2 2 0 1 0 4 0a2 2 0 1 0-4 0m5 0a2 2 0 1 0 4 0a2 2 0 1 0-4 0m2 0a2 2 0 1 0 4 0a2 2 0 1 0-4 0m3 0a2 2 0 1 0 4 0a2 2 0 1 0-4 0m0.8 0a2 2 0 1 0 4 0a2 2 0 1 0-4 0m2 0a2 2 0 1 0 4 0a2 2 0 1 0-4 0m1.3 0a2 2 0 1 0 4 0a2 2 0 1 0-4 0m-12.9-22.4a2 2 0 1 0 4 0a2 2 0 1 0-4 0m6.9 0a2 2 0 1 0 4 0a2 2 0 1 0-4 0m2.1 0a2 2 0 1 0 4 0a2 2 0 1 0-4 0m2.9 0a2 2 0 1 0 4 0a2 2 0 1 0-4 0m-9.6 16a2 2 0 1 0 4 0a2 2 0 1 0-4 0m0.9 0a2 2 0 1 0 4 0a2 2 0 1 0-4 0m4.2 0a2 2 0 1 0 4 0a2 2 0 1 0-4 0m5.2 0a2 2 0 1 0 4 0a2 2 0 1 0-4 0m-0.4-48a2 2 0 1 0 4 0a2 2 0 1 0-4 0m-10.3 0a2 2 0 1 0 4 0a2 2 0 1 0-4 0m-6.5 41.6a2 2 0 1 0 4 0a2 2 0 1 0-4 0m6.9 0a2 2 0 1 0 4 0a2 2 0 1 0-4 0m2.9 0a2 2 0 1 0 4 0a2 2 0 1 0-4 0m4.2 0a2 2 0 1 0 4 0a2 2 0 1 0-4 0m3.8 0a2 2 0 1 0 4 0a2 2 0 1 0-4 0m1.2-38.4a2 2 0 1 0 4 0a2 2 0 1 0-4 0m-0.6 54.4a2 2 0 1 0 4 0a2 2 0 1 0-4 0m-20.2 0a2 2 0 1 0 4 0a2 2 0 1 0-4 0m7.8 0a2 2 0 1 0 4 0a2 2 0 1 0-4 0m-0.4 0a2 2 0 1 0 4 0a2 2 0 1 0-4 0m5.4 0a2 2 0 1 0 4 0a2 2 0 1 0-4 0m1.3 0a2 2 0 1 0 4 0a2 2 0 1 0-4 0m2.4 0a2 2 0 1 0 4 0a2 2 0 1 0-4 0m2 0a2 2 0 1 0 4 0a2 2 0 1 0-4 0m0.2 0a2 2 0 1 0 4 0a2 2 0 1 0-4 0m-5.2-38.4a2 2 0 1 0 4 0a2 2 0 1 0-4 0m-8.2-6.4a2 2 0 1 0 4 0a2 2 0 1 0-4 0m4.3 0a2 2 0 1 0 4 0a2 2 0 1 0-4 0m2.7 0a2 2 0 1 0 4 0a2 2 0 1 0-4 0m5 0a2 2 0 1 0 4 0a2 2 0 1 0-4 0m-17 0a2 2 0 1 0 4 0a2 2 0 1 0-4 0m8.5-22.4a2 2 0 1 0 4 0a2 2 0 1 0-4 0m-4.1 32a2 2 0 1 0 4 0a2 2 0 1 0-4 0m7.1 0a2 2 0 1 0 4 0a2 2 0 1 0-4 0m1.6 0a2 2 0 1 0 4 0a2 2 0 1 0-4 0m4.8 0a2 2 0 1 0 4 0a2 2 0 1 0-4 0m-16.9 28.8a2 2 0 1 0 4 0a2 2 0 1 0-4 0m4.4 0a2 2 0 1 0 4 0a2 2 0 1 0-4 0m3.8 0a2 2 0 1 0 4 0a2 2 0 1 0-4 0m0.8 0a2 2 0 1 0 4 0a2 2 0 1 0-4 0m2.6 0a2 2 0 1 0 4 0a2 2 0 1 0-4 0m1.6 0a2 2 0 1 0 4 0a2 2 0 1 0-4 0m2.9 0a2 2 0 1 0 4 0a2 2 0 1 0-4 0m1.9 0a2 2 0 1 0 4 0a2 2 0 1 0-4 0m-16-12.8a2 2 0 1 0 4 0a2 2 0 1 0-4 0m12.1 0a2 2 0 1 0 4 0a2 2 0 1 0-4 0m-17.3 0a2 2 0 1 0 4 0a2 2 0 1 0-4 0m3.9 6.4a2 2 0 1 0 4 0a2 2 0 1 0-4 0m2.7 0a2 2 0 1 0 4 0a2 2 0 1 0-4 0m11.3 0a2 2 0 1 0 4 0a2 2 0 1 0-4 0m3.6 0a2 2 0 1 0 4 0a2 2 0 1 0-4 0m-21.5-9.6a2 2 0 1 0 4 0a2 2 0 1 0-4 0m8.6 0a2 2 0 1 0 4 0a2 2 0 1 0-4 0m5.4 0a2 2 0 1 0 4 0a2 2 0 1 0-4 0m3.8 0a2 2 0 1 0 4 0a2 2 0 1 0-4 0m1.4 0a2 2 0 1 0 4 0a2 2 0 1 0-4 0m3.1 0a2 2 0 1 0 4 0a2 2 0 1 0-4 0m-12.6-51.2a2 2 0 1 0 4 0a2 2 0 1 0-4 0m1.1 41.6a2 2 0 1 0 4 0a2 2 0 1 0-4 0m7.4 0a2 2 0 1 0 4 0a2 2 0 1 0-4 0m0.8-16a2 2 0 1 0 4 0a2 2 0 1 0-4 0m3.2 22.4a2 2 0 1 0 4 0a2 2 0 1 0-4 0m-1.4 0a2 2 0 1 0 4 0a2 2 0 1 0-4 0m2.3 0a2 2 0 1 0 4 0a2 2 0 1 0-4 0m-1.5 0a2 2 0 1 0 4 0a2 2 0 1 0-4 0m1.6 0a2 2 0 1 0 4 0a2 2 0 1 0-4 0m0.3 0a2 2 0 1 0 4 0a2 2 0 1 0-4 0m-2 0a2 2 0 1 0 4 0a2 2 0 1 0-4 0m0.3 3.2a2 2 0 1 0 4 0a2 2 0 1 0-4 0m1.7 0a2 2 0 1 0 4 0a2 2 0 1 0-4 0m-0.8 0a2 2 0 1 0 4 0a2 2 0 1 0-4 0m0 0a2 2 0 1 0 4 0a2 2 0 1 0-4 0m0.6 0a2 2 0 1 0 4 0a2 2 0 1 0-4 0m-1 0a2 2 0 1 0 4 0a2 2 0 1 0-4 0m-0.4 0a2 2 0 1 0 4 0a2 2 0 1 0-4 0m1.4 0a2 2 0 1 0 4 0a2 2 0 1 0-4 0m-0.2 0a2 2 0 1 0 4 0a2 2 0 1 0-4 0m0.1 0a2 2 0 1 0 4 0a2 2 0 1 0-4 0m-0.6 0a2 2 0 1 0 4 0a2 2 0 1 0-4 0m-0.9 0a2 2 0 1 0 4 0a2 2 0 1 0-4 0m0.9 0a2 2 0 1 0 4 0a2 2 0 1 0-4 0m1.2 0a2 2 0 1 0 4 0a2 2 0 1 0-4 0m-2.3 0a2 2 0 1 0 4 0a2 2 0 1 0-4 0m1 0a2 2 0 1 0 4 0a2 2 0 1 0-4 0m-0.5 0a2 2 0 1 0 4 0a2 2 0 1 0-4 0m-0.5-35.2a2 2 0 1 0 4 0a2 2 0 1 0-4 0m1.7 0a2 2 0 1 0 4 0a2 2 0 1 0-4 0m-1.6 0a2 2 0 1 0 4 0a2 2 0 1 0-4 0m1.2 0a2 2 0 1 0 4 0a2 2 0 1 0-4 0m0.2 0a2 2 0 1 0 4 0a2 2 0 1 0-4 0m-0.4 0a2 2 0 1 0 4 0a2 2 0 1 0-4 0m0 0a2 2 0 1 0 4 0a2 2 0 1 0-4 0m0.3 0a2 2 0 1 0 4 0a2 2 0 1 0-4 0m-0.1 0a2 2 0 1 0 4 0a2 2 0 1 0-4 0m0.3 0a2 2 0 1 0 4 0a2 2 0 1 0-4 0m-2.5 0a2 2 0 1 0 4 0a2 2 0 1 0-4 0m3.1 0a2 2 0 1 0 4 0a2 2 0 1 0-4 0m-1.1 0a2 2 0 1 0 4 0a2 2 0 1 0-4 0m0.2 0a2 2 0 1 0 4 0a2 2 0 1 0-4 0m0.7 0a2 2 0 1 0 4 0a2 2 0 1 0-4 0m-1.2 0a2 2 0 1 0 4 0a2 2 0 1 0-4 0m1.2 0a2 2 0 1 0 4 0a2 2 0 1 0-4 0m-0.3 54.4a2 2 0 1 0 4 0a2 2 0 1 0-4 0m0.1 0a2 2 0 1 0 4 0a2 2 0 1 0-4 0m-0.7 0a2 2 0 1 0 4 0a2 2 0 1 0-4 0m-0.8 0a2 2 0 1 0 4 0a2 2 0 1 0-4 0m0.7 0a2 2 0 1 0 4 0a2 2 0 1 0-4 0m-0.9 0a2 2 0 1 0 4 0a2 2 0 1 0-4 0m1.3 0a2 2 0 1 0 4 0a2 2 0 1 0-4 0m-1.5 0a2 2 0 1 0 4 0a2 2 0 1 0-4 0m0.7 0a2 2 0 1 0 4 0a2 2 0 1 0-4 0m1.1 0a2 2 0 1 0 4 0a2 2 0 1 0-4 0m0.2 0a2 2 0 1 0 4 0a2 2 0 1 0-4 0m-1.2 0a2 2 0 1 0 4 0a2 2 0 1 0-4 0m0.8 0a2 2 0 1 0 4 0a2 2 0 1 0-4 0m-0.6 0a2 2 0 1 0 4 0a2 2 0 1 0-4 0m-0.7 0a2 2 0 1 0 4 0a2 2 0 1 0-4 0m0.4 0a2 2 0 1 0 4 0a2 2 0 1 0-4 0m1.8 0a2 2 0 1 0 4 0a2 2 0 1 0-4 0m-2.3 0a2 2 0 1 0 4 0a2 2 0 1 0-4 0m1.7-25.6a2 2 0 1 0 4 0a2 2 0 1 0-4 0m-1.2 0a2 2 0 1 0 4 0a2 2 0 1 0-4 0m0.6 0a2 2 0 1 0 4 0a2 2 0 1 0-4 0m1 0a2 2 0 1 0 4 0a2 2 0 1 0-4 0m-2.1 0a2 2 0 1 0 4 0a2 2 0 1 0-4 0m-0.7 0a2 2 0 1 0 4 0a2 2 0 1 0-4 0m1.1 0a2 2 0 1 0 4 0a2 2 0 1 0-4 0m0.5 0a2 2 0 1 0 4 0a2 2 0 1 0-4 0m1 0a2 2 0 1 0 4 0a2 2 0 1 0-4 0m-1 0a2 2 0 1 0 4 0a2 2 0 1 0-4 0m0 0a2 2 0 1 0 4 0a2 2 0 1 0-4 0m0.8 0a2 2 0 1 0 4 0a2 2 0 1 0-4 0m-3.1 0a2 2 0 1 0 4 0a2 2 0 1 0-4 0m2.8 38.4a2 2 0 1 0 4 0a2 2 0 1 0-4 0m0.2 0a2 2 0 1 0 4 0a2 2 0 1 0-4 0m-0.9 0a2 2 0 1 0 4 0a2 2 0 1 0-4 0m-0.9 0a2 2 0 1 0 4 0a2 2 0 1 0-4 0m1.5 0a2 2 0 1 0 4 0a2 2 0 1 0-4 0m-1.8 0a2 2 0 1 0 4 0a2 2 0 1 0-4 0m1.9 0a2 2 0 1 0 4 0a2 2 0 1 0-4 0m-0.6 0a2 2 0 1 0 4 0a2 2 0 1 0-4 0m0.6 0a2 2 0 1 0 4 0a2 2 0 1 0-4 0m-0.6 0a2 2 0 1 0 4 0a2 2 0 1 0-4 0m-0.6 0a2 2 0 1 0 4 0a2 2 0 1 0-4 0m1.2 12.8a2 2 0 1 0 4 0a2 2 0 1 0-4 0m-0.3 0a2 2 0 1 0 4 0a2 2 0 1 0-4 0m-1.7 0a2 2 0 1 0 4 0a2 2 0 1 0-4 0m1 0a2 2 0 1 0 4 0a2 2 0 1 0-4 0m1.1 0a2 2 0 1 0 4 0a2 2 0 1 0-4 0m0.7 0a2 2 0 1 0 4 0a2 2 0 1 0-4 0m-1.9 0a2 2 0 1 0 4 0a2 2 0 1 0-4 0m0 0a2 2 0 1 0 4 0a2 2 0 1 0-4 0m1.3 0a2 2 0 1 0 4 0a2 2 0 1 0-4 0m-0.7 0a2 2 0 1 0 4 0a2 2 0 1 0-4 0m-0.2 0a2 2 0 1 0 4 0a2 2 0 1 0-4 0m-0.5 0a2 2 0 1 0 4 0a2 2 0 1 0-4 0m0.3 0a2 2 0 1 0 4 0a2 2 0 1 0-4 0m-1.1 0a2 2 0 1 0 4 0a2 2 0 1 0-4 0m1.7 0a2 2 0 1 0 4 0a2 2 0 1 0-4 0m-1.7 0a2 2 0 1 0 4 0a2 2 0 1 0-4 0m1.8 0a2 2 0 1 0 4 0a2 2 0 1 0-4 0m-0.3 0a2 2 0 1 0 4 0a2 2 0 1 0-4 0m0.5 0a2 2 0 1 0 4 0a2 2 0 1 0-4 0m-0.3-3.2a2 2 0 1 0 4 0a2 2 0 1 0-4 0m0.7 0a2 2 0 1 0 4 0a2 2 0 1 0-4 0m-0.3 0a2 2 0 1 0 4 0a2 2 0 1 0-4 0m-0.6 0a2 2 0 1 0 4 0a2 2 0 1 0-4 0m0.1 0a2 2 0 1 0 4 0a2 2 0 1 0-4 0m0.6 0a2 2 0 1 0 4 0a2 2 0 1 0-4 0m-0.2 0a2 2 0 1 0 4 0a2 2 0 1 0-4 0m0-25.6a2 2 0 1 0 4 0a2 2 0 1 0-4 0m0.5 0a2 2 0 1 0 4 0a2 2 0 1 0-4 0m-2.9 0a2 2 0 1 0 4 0a2 2 0 1 0-4 0m1.8 0a2 2 0 1 0 4 0a2 2 0 1 0-4 0m-1.9 0a2 2 0 1 0 4 0a2 2 0 1 0-4 0m1.7 0a2 2 0 1 0 4 0a2 2 0 1 0-4 0m0.2 0a2 2 0 1 0 4 0a2 2 0 1 0-4 0m0 0a2 2 0 1 0 4 0a2 2 0 1 0-4 0m-0.9 0a2 2 0 1 0 4 0a2 2 0 1 0-4 0m-0.1-12.8a2 2 0 1 0 4 0a2 2 0 1 0-4 0m2.2 0a2 2 0 1 0 4 0a2 2 0 1 0-4 0m-1.1 0a2 2 0 1 0 4 0a2 2 0 1 0-4 0m0 0a2 2 0 1 0 4 0a2 2 0 1 0-4 0m-0.3 0a2 2 0 1 0 4 0a2 2 0 1 0-4 0m1 0a2 2 0 1 0 4 0a2 2 0 1 0-4 0m-0.2 0a2 2 0 1 0 4 0a2 2 0 1 0-4 0m-0.2 32a2 2 0 1 0 4 0a2 2 0 1 0-4 0m-0.3 0a2 2 0 1 0 4 0a2 2 0 1 0-4 0m0 0a2 2 0 1 0 4 0a2 2 0 1 0-4 0m-1.2 0a2 2 0 1 0 4 0a2 2 0 1 0-4 0m1.2 0a2 2 0 1 0 4 0a2 2 0 1 0-4 0m-0.3 0a2 2 0 1 0 4 0a2 2 0 1 0-4 0m0.4 0a2 2 0 1 0 4 0a2 2 0 1 0-4 0m-0.9 0a2 2 0 1 0 4 0a2 2 0 1 0-4 0m0.8 0a2 2 0 1 0 4 0a2 2 0 1 0-4 0m-1.7 0a2 2 0 1 0 4 0a2 2 0 1 0-4 0m1.9 0a2 2 0 1 0 4 0a2 2 0 1 0-4 0m-2.3 0a2 2 0 1 0 4 0a2 2 0 1 0-4 0m3.2 0a2 2 0 1 0 4 0a2 2 0 1 0-4 0m-0.3 0a2 2 0 1 0 4 0a2 2 0 1 0-4 0m-1.1 0a2 2 0 1 0 4 0a2 2 0 1 0-4 0m0.6 0a2 2 0 1 0 4 0a2 2 0 1 0-4 0m-1.4 0a2 2 0 1 0 4 0a2 2 0 1 0-4 0m1.3 0a2 2 0 1 0 4 0a2 2 0 1 0-4 0m0.3 0a2 2 0 1 0 4 0a2 2 0 1 0-4 0m0.1 0a2 2 0 1 0 4 0a2 2 0 1 0-4 0m-1.3-73.6a2 2 0 1 0 4 0a2 2 0 1 0-4 0m1.5 0a2 2 0 1 0 4 0a2 2 0 1 0-4 0m-1.3 0a2 2 0 1 0 4 0a2 2 0 1 0-4 0m0.9 0a2 2 0 1 0 4 0a2 2 0 1 0-4 0m-0.4 0a2 2 0 1 0 4 0a2 2 0 1 0-4 0m-2 0a2 2 0 1 0 4 0a2 2 0 1 0-4 0m2.4 0a2 2 0 1 0 4 0a2 2 0 1 0-4 0m-0.2 0a2 2 0 1 0 4 0a2 2 0 1 0-4 0m-1.2 0a2 2 0 1 0 4 0a2 2 0 1 0-4 0m1.1 0a2 2 0 1 0 4 0a2 2 0 1 0-4 0m-0.8 0a2 2 0 1 0 4 0a2 2 0 1 0-4 0m0.4 48a2 2 0 1 0 4 0a2 2 0 1 0-4 0m0.9 0a2 2 0 1 0 4 0a2 2 0 1 0-4 0m-1.2 0a2 2 0 1 0 4 0a2 2 0 1 0-4 0m1 0a2 2 0 1 0 4 0a2 2 0 1 0-4 0m-0.3 0a2 2 0 1 0 4 0a2 2 0 1 0-4 0m-0.3 0a2 2 0 1 0 4 0a2 2 0 1 0-4 0m-0.3 0a2 2 0 1 0 4 0a2 2 0 1 0-4 0m1.2 0a2 2 0 1 0 4 0a2 2 0 1 0-4 0m-0.6 0a2 2 0 1 0 4 0a2 2 0 1 0-4 0m-0.3 0a2 2 0 1 0 4 0a2 2 0 1 0-4 0m-0.8-57.6a2 2 0 1 0 4 0a2 2 0 1 0-4 0m1.4 0a2 2 0 1 0 4 0a2 2 0 1 0-4 0m-1.7 0a2 2 0 1 0 4 0a2 2 0 1 0-4 0m1.2 0a2 2 0 1 0 4 0a2 2 0 1 0-4 0m0.7 0a2 2 0 1 0 4 0a2 2 0 1 0-4 0m-1.8 0a2 2 0 1 0 4 0a2 2 0 1 0-4 0m0.5 0a2 2 0 1 0 4 0a2 2 0 1 0-4 0m-0.3 0a2 2 0 1 0 4 0a2 2 0 1 0-4 0m1.1 0a2 2 0 1 0 4 0a2 2 0 1 0-4 0m-1.2 0a2 2 0 1 0 4 0a2 2 0 1 0-4 0m1.2 0a2 2 0 1 0 4 0a2 2 0 1 0-4 0m0.4 0a2 2 0 1 0 4 0a2 2 0 1 0-4 0m-1.5 0a2 2 0 1 0 4 0a2 2 0 1 0-4 0m0.9 0a2 2 0 1 0 4 0a2 2 0 1 0-4 0m-1 35.2a2 2 0 1 0 4 0a2 2 0 1 0-4 0m1.3 0a2 2 0 1 0 4 0a2 2 0 1 0-4 0m0.5 0a2 2 0 1 0 4 0a2 2 0 1 0-4 0m0.1 0a2 2 0 1 0 4 0a2 2 0 1 0-4 0m-0.9 0a2 2 0 1 0 4 0a2 2 0 1 0-4 0m-0.1 0a2 2 0 1 0 4 0a2 2 0 1 0-4 0m0.8 0a2 2 0 1 0 4 0a2 2 0 1 0-4 0m-0.8 0a2 2 0 1 0 4 0a2 2 0 1 0-4 0m0.8 0a2 2 0 1 0 4 0a2 2 0 1 0-4 0m0 0a2 2 0 1 0 4 0a2 2 0 1 0-4 0m0-12.8a2 2 0 1 0 4 0a2 2 0 1 0-4 0m0.2 0a2 2 0 1 0 4 0a2 2 0 1 0-4 0m-2 0a2 2 0 1 0 4 0a2 2 0 1 0-4 0m1.3 0a2 2 0 1 0 4 0a2 2 0 1 0-4 0m0.6 0a2 2 0 1 0 4 0a2 2 0 1 0-4 0m-0.1 0a2 2 0 1 0 4 0a2 2 0 1 0-4 0m-0.9 0a2 2 0 1 0 4 0a2 2 0 1 0-4 0m-1.3 0a2 2 0 1 0 4 0a2 2 0 1 0-4 0m-0.1 0a2 2 0 1 0 4 0a2 2 0 1 0-4 0m2.1 0a2 2 0 1 0 4 0a2 2 0 1 0-4 0m-1.1 6.4a2 2 0 1 0 4 0a2 2 0 1 0-4 0m0.7 0a2 2 0 1 0 4 0a2 2 0 1 0-4 0m-0.1 0a2 2 0 1 0 4 0a2 2 0 1 0-4 0m-0.4 0a2 2 0 1 0 4 0a2 2 0 1 0-4 0m1.4 0a2 2 0 1 0 4 0a2 2 0 1 0-4 0m-2 0a2 2 0 1 0 4 0a2 2 0 1 0-4 0m1.2 0a2 2 0 1 0 4 0a2 2 0 1 0-4 0m1.1 0a2 2 0 1 0 4 0a2 2 0 1 0-4 0m-0.3 0a2 2 0 1 0 4 0a2 2 0 1 0-4 0m-0.7 0a2 2 0 1 0 4 0a2 2 0 1 0-4 0m0.5 0a2 2 0 1 0 4 0a2 2 0 1 0-4 0m0 0a2 2 0 1 0 4 0a2 2 0 1 0-4 0m-2.6 0a2 2 0 1 0 4 0a2 2 0 1 0-4 0m2.1 25.6a2 2 0 1 0 4 0a2 2 0 1 0-4 0m-0.7 0a2 2 0 1 0 4 0a2 2 0 1 0-4 0m-0.5 0a2 2 0 1 0 4 0a2 2 0 1 0-4 0m-0.7 0a2 2 0 1 0 4 0a2 2 0 1 0-4 0m2 0a2 2 0 1 0 4 0a2 2 0 1 0-4 0m-1.7 0a2 2 0 1 0 4 0a2 2 0 1 0-4 0m0 0a2 2 0 1 0 4 0a2 2 0 1 0-4 0m1.8 0a2 2 0 1 0 4 0a2 2 0 1 0-4 0m0.5 0a2 2 0 1 0 4 0a2 2 0 1 0-4 0m0.2 0a2 2 0 1 0 4 0a2 2 0 1 0-4 0m-0.7 0a2 2 0 1 0 4 0a2 2 0 1 0-4 0m-0.4 0a2 2 0 1 0 4 0a2 2 0 1 0-4 0m0.2 0a2 2 0 1 0 4 0a2 2 0 1 0-4 0m-0.1 0a2 2 0 1 0 4 0a2 2 0 1 0-4 0m0.1-38.4a2 2 0 1 0 4 0a2 2 0 1 0-4 0m-0.9 0a2 2 0 1 0 4 0a2 2 0 1 0-4 0m-0.9 0a2 2 0 1 0 4 0a2 2 0 1 0-4 0m0.1 0a2 2 0 1 0 4 0a2 2 0 1 0-4 0m1.4 0a2 2 0 1 0 4 0a2 2 0 1 0-4 0m0.5 0a2 2 0 1 0 4 0a2 2 0 1 0-4 0m-1.2 0a2 2 0 1 0 4 0a2 2 0 1 0-4 0m0.7 0a2 2 0 1 0 4 0a2 2 0 1 0-4 0m-0.2 0a2 2 0 1 0 4 0a2 2 0 1 0-4 0m1.1 0a2 2 0 1 0 4 0a2 2 0 1 0-4 0m-1.6-19.2a2 2 0 1 0 4 0a2 2 0 1 0-4 0m0.7 0a2 2 0 1 0 4 0a2 2 0 1 0-4 0m0 0a2 2 0 1 0 4 0a2 2 0 1 0-4 0m-0.7 0a2 2 0 1 0 4 0a2 2 0 1 0-4 0m1.6 0a2 2 0 1 0 4 0a2 2 0 1 0-4 0m-0.7 0a2 2 0 1 0 4 0a2 2 0 1 0-4 0m-0.7 0a2 2 0 1 0 4 0a2 2 0 1 0-4 0m0.2 0a2 2 0 1 0 4 0a2 2 0 1 0-4 0m0.6 0a2 2 0 1 0 4 0a2 2 0 1 0-4 0m-0.3 0a2 2 0 1 0 4 0a2 2 0 1 0-4 0m0.7 0a2 2 0 1 0 4 0a2 2 0 1 0-4 0m-0.4 0a2 2 0 1 0 4 0a2 2 0 1 0-4 0m-0.1 0a2 2 0 1 0 4 0a2 2 0 1 0-4 0m-0.8 0a2 2 0 1 0 4 0a2 2 0 1 0-4 0m-1.1 0a2 2 0 1 0 4 0a2 2 0 1 0-4 0m1.6 0a2 2 0 1 0 4 0a2 2 0 1 0-4 0m0 0a2 2 0 1 0 4 0a2 2 0 1 0-4 0m1.4 28.8a2 2 0 1 0 4 0a2 2 0 1 0-4 0m-1.7 0a2 2 0 1 0 4 0a2 2 0 1 0-4 0m0.6 0a2 2 0 1 0 4 0a2 2 0 1 0-4 0m0.8 0a2 2 0 1 0 4 0a2 2 0 1 0-4 0m-1 0a2 2 0 1 0 4 0a2 2 0 1 0-4 0m0.3 0a2 2 0 1 0 4 0a2 2 0 1 0-4 0m0.9 0a2 2 0 1 0 4 0a2 2 0 1 0-4 0m-1.2 0a2 2 0 1 0 4 0a2 2 0 1 0-4 0m-0.1 0a2 2 0 1 0 4 0a2 2 0 1 0-4 0m1.2 0a2 2 0 1 0 4 0a2 2 0 1 0-4 0m-2.2 0a2 2 0 1 0 4 0a2 2 0 1 0-4 0m0.1 0a2 2 0 1 0 4 0a2 2 0 1 0-4 0m1.1 0a2 2 0 1 0 4 0a2 2 0 1 0-4 0m0.4-22.4a2 2 0 1 0 4 0a2 2 0 1 0-4 0m-0.1 0a2 2 0 1 0 4 0a2 2 0 1 0-4 0m0.5 0a2 2 0 1 0 4 0a2 2 0 1 0-4 0m0.1 0a2 2 0 1 0 4 0a2 2 0 1 0-4 0m-0.4 0a2 2 0 1 0 4 0a2 2 0 1 0-4 0m-0.1 0a2 2 0 1 0 4 0a2 2 0 1 0-4 0m-0.9 0a2 2 0 1 0 4 0a2 2 0 1 0-4 0m0.4 0a2 2 0 1 0 4 0a2 2 0 1 0-4 0m0.8 0a2 2 0 1 0 4 0a2 2 0 1 0-4 0m-0.6 73.6a2 2 0 1 0 4 0a2 2 0 1 0-4 0m-0.6 0a2 2 0 1 0 4 0a2 2 0 1 0-4 0m-1.2 0a2 2 0 1 0 4 0a2 2 0 1 0-4 0m0 0a2 2 0 1 0 4 0a2 2 0 1 0-4 0m1.6 0a2 2 0 1 0 4 0a2 2 0 1 0-4 0m-0.1 0a2 2 0 1 0 4 0a2 2 0 1 0-4 0m-0.2 0a2 2 0 1 0 4 0a2 2 0 1 0-4 0m-0.2 0a2 2 0 1 0 4 0a2 2 0 1 0-4 0m1.8 0a2 2 0 1 0 4 0a2 2 0 1 0-4 0m-0.7 0a2 2 0 1 0 4 0a2 2 0 1 0-4 0m0.7-38.4a2 2 0 1 0 4 0a2 2 0 1 0-4 0m-1.7 0a2 2 0 1 0 4 0a2 2 0 1 0-4 0m0.7 0a2 2 0 1 0 4 0a2 2 0 1 0-4 0m-1.5 0a2 2 0 1 0 4 0a2 2 0 1 0-4 0m0.9 0a2 2 0 1 0 4 0a2 2 0 1 0-4 0m1.3 0a2 2 0 1 0 4 0a2 2 0 1 0-4 0m-2.3 0a2 2 0 1 0 4 0a2 2 0 1 0-4 0m0.9 0a2 2 0 1 0 4 0a2 2 0 1 0-4 0m1.5 0a2 2 0 1 0 4 0a2 2 0 1 0-4 0m-1.1 0a2 2 0 1 0 4 0a2 2 0 1 0-4 0m-0.5 0a2 2 0 1 0 4 0a2 2 0 1 0-4 0m1.3 32a2 2 0 1 0 4 0a2 2 0 1 0-4 0m-0.6 0a2 2 0 1 0 4 0a2 2 0 1 0-4 0m0 0a2 2 0 1 0 4 0a2 2 0 1 0-4 0m-0.1 0a2 2 0 1 0 4 0a2 2 0 1 0-4 0m0.6 23.5a2 2 0 1 0 4 0a2 2 0 1 0-4 0m0.4 0a2 2 0 1 0 4 0a2 2 0 1 0-4 0m-3.3 0a2 2 0 1 0 4 0a2 2 0 1 0-4 0m1.6 0a2 2 0 1 0 4 0a2 2 0 1 0-4 0m1.4-20.3a2 2 0 1 0 4 0a2 2 0 1 0-4 0m-0.2 0a2 2 0 1 0 4 0a2 2 0 1 0-4 0m-2 0a2 2 0 1 0 4 0a2 2 0 1 0-4 0m1 0a2 2 0 1 0 4 0a2 2 0 1 0-4 0m-0.5 0a2 2 0 1 0 4 0a2 2 0 1 0-4 0m1.2 0a2 2 0 1 0 4 0a2 2 0 1 0-4 0m0.7 0a2 2 0 1 0 4 0a2 2 0 1 0-4 0m-1.6 0a2 2 0 1 0 4 0a2 2 0 1 0-4 0m-0.8-12.8a2 2 0 1 0 4 0a2 2 0 1 0-4 0m0.6 0a2 2 0 1 0 4 0a2 2 0 1 0-4 0m1 0a2 2 0 1 0 4 0a2 2 0 1 0-4 0m-0.9 0a2 2 0 1 0 4 0a2 2 0 1 0-4 0m1.1 0a2 2 0 1 0 4 0a2 2 0 1 0-4 0m0.3 0a2 2 0 1 0 4 0a2 2 0 1 0-4 0m0 0a2 2 0 1 0 4 0a2 2 0 1 0-4 0m-0.6 0a2 2 0 1 0 4 0a2 2 0 1 0-4 0m1 0a2 2 0 1 0 4 0a2 2 0 1 0-4 0m-2.7 0a2 2 0 1 0 4 0a2 2 0 1 0-4 0m0.4 0a2 2 0 1 0 4 0a2 2 0 1 0-4 0m1-28.8a2 2 0 1 0 4 0a2 2 0 1 0-4 0m1.1 0a2 2 0 1 0 4 0a2 2 0 1 0-4 0m-2 0a2 2 0 1 0 4 0a2 2 0 1 0-4 0m1.2 0a2 2 0 1 0 4 0a2 2 0 1 0-4 0m-0.1 0a2 2 0 1 0 4 0a2 2 0 1 0-4 0m0.1 0a2 2 0 1 0 4 0a2 2 0 1 0-4 0m0.2 0a2 2 0 1 0 4 0a2 2 0 1 0-4 0m0.5 0a2 2 0 1 0 4 0a2 2 0 1 0-4 0m0.1 0a2 2 0 1 0 4 0a2 2 0 1 0-4 0m-0.5 54.4a2 2 0 1 0 4 0a2 2 0 1 0-4 0m-1.3 0a2 2 0 1 0 4 0a2 2 0 1 0-4 0m-0.2 0a2 2 0 1 0 4 0a2 2 0 1 0-4 0m-0.2 0a2 2 0 1 0 4 0a2 2 0 1 0-4 0m0.3 0a2 2 0 1 0 4 0a2 2 0 1 0-4 0m1.7 0a2 2 0 1 0 4 0a2 2 0 1 0-4 0m0 0a2 2 0 1 0 4 0a2 2 0 1 0-4 0m-0.4 0a2 2 0 1 0 4 0a2 2 0 1 0-4 0m0.1 0a2 2 0 1 0 4 0a2 2 0 1 0-4 0m-0.8 0a2 2 0 1 0 4 0a2 2 0 1 0-4 0m1 0a2 2 0 1 0 4 0a2 2 0 1 0-4 0m0.3 0a2 2 0 1 0 4 0a2 2 0 1 0-4 0m-2.3 0a2 2 0 1 0 4 0a2 2 0 1 0-4 0m1.5 0a2 2 0 1 0 4 0a2 2 0 1 0-4 0m0.6-80a2 2 0 1 0 4 0a2 2 0 1 0-4 0m-2.5 0a2 2 0 1 0 4 0a2 2 0 1 0-4 0m2.2 0a2 2 0 1 0 4 0a2 2 0 1 0-4 0m0.1 0a2 2 0 1 0 4 0a2 2 0 1 0-4 0m-0.4 0a2 2 0 1 0 4 0a2 2 0 1 0-4 0m0.8 0a2 2 0 1 0 4 0a2 2 0 1 0-4 0m-0.7 0a2 2 0 1 0 4 0a2 2 0 1 0-4 0m0.2 0a2 2 0 1 0 4 0a2 2 0 1 0-4 0m-1 0a2 2 0 1 0 4 0a2 2 0 1 0-4 0m0.7 0a2 2 0 1 0 4 0a2 2 0 1 0-4 0m1.1 0a2 2 0 1 0 4 0a2 2 0 1 0-4 0m-1.1 0a2 2 0 1 0 4 0a2 2 0 1 0-4 0m0.7 0a2 2 0 1 0 4 0a2 2 0 1 0-4 0m-1.2 0a2 2 0 1 0 4 0a2 2 0 1 0-4 0m-1 0a2 2 0 1 0 4 0a2 2 0 1 0-4 0m2 0a2 2 0 1 0 4 0a2 2 0 1 0-4 0m-0.1 0a2 2 0 1 0 4 0a2 2 0 1 0-4 0m-0.7-12.8a2 2 0 1 0 4 0a2 2 0 1 0-4 0m-0.4 0a2 2 0 1 0 4 0a2 2 0 1 0-4 0m-0.5 0a2 2 0 1 0 4 0a2 2 0 1 0-4 0m0.4 0a2 2 0 1 0 4 0a2 2 0 1 0-4 0m1.3 0a2 2 0 1 0 4 0a2 2 0 1 0-4 0m-1.1 0a2 2 0 1 0 4 0a2 2 0 1 0-4 0m-0.2 0a2 2 0 1 0 4 0a2 2 0 1 0-4 0m0.3 25.6a2 2 0 1 0 4 0a2 2 0 1 0-4 0m-0.3 0a2 2 0 1 0 4 0a2 2 0 1 0-4 0m0.6 0a2 2 0 1 0 4 0a2 2 0 1 0-4 0m-0.5 0a2 2 0 1 0 4 0a2 2 0 1 0-4 0m1.5 0a2 2 0 1 0 4 0a2 2 0 1 0-4 0m-1.1 0a2 2 0 1 0 4 0a2 2 0 1 0-4 0m-1.3 0a2 2 0 1 0 4 0a2 2 0 1 0-4 0m1.4 0a2 2 0 1 0 4 0a2 2 0 1 0-4 0m0.8 0a2 2 0 1 0 4 0a2 2 0 1 0-4 0" fill="none" stroke="#0000ff" stroke-width="0.378"/>
<path d="M427.50,166.00 C427.67,165.55 427.62,165.47 428.50,163.30 C429.38,161.13 431.52,155.13 432.80,153.00 C434.08,150.87 435.07,151.07 436.20,150.50 C437.33,149.93 438.62,150.60 439.60,149.60 C440.58,148.60 441.10,147.05 442.10,144.50 C443.10,141.95 444.60,136.57 445.60,134.30 C446.60,132.03 447.25,132.60 448.10,130.90 C448.95,129.20 449.85,126.93 450.70,124.10 C451.55,121.27 452.50,116.60 453.20,113.90 C453.90,111.20 454.05,109.67 454.90,107.90 C455.75,106.13 456.73,104.87 458.30,103.30 C459.87,101.73 461.60,100.10 464.30,98.50 C467.00,96.90 470.25,95.12 474.50,93.70 C478.75,92.28 484.98,91.38 489.80,90.00 C494.62,88.62 495.30,87.72 503.40,85.40 C511.50,83.08 526.72,79.22 538.40,76.10 C550.08,72.98 563.77,69.43 573.50,66.70 C583.23,63.97 589.80,62.03 596.80,59.70 C603.80,57.37 610.82,55.03 615.50,52.70 C620.18,50.37 622.48,47.83 624.90,45.70 C627.32,43.57 628.65,43.02 630.00,39.90 C631.35,36.78 632.50,29.15 633.00,27.00" fill="none" stroke="#1e1e1e" stroke-width="1.3" stroke-linejoin="round"/>
<path d="M418.7,13.2V205.5H657.5V13.2M418.7,13.2h4M418.7,45.2h4M418.7,77.3h4M418.7,109.3h4M418.7,141.4h4M418.7,173.4h4M418.7,205.5h4M418.7,29.2h2.2M418.7,61.3h2.2M418.7,93.3h2.2M418.7,125.4h2.2M418.7,157.4h2.2M418.7,189.5h2.2M657.5,13.2h-4M657.5,42.8h-4M657.5,72.4h-4M657.5,102.0h-4M657.5,131.5h-4M657.5,161.1h-4M657.5,190.7h-4M657.5,28.0h-2.2M657.5,57.6h-2.2M657.5,87.2h-2.2M657.5,116.7h-2.2M657.5,146.3h-2.2M657.5,175.9h-2.2M657.5,205.5h-2.2M418.7,205.5v-4M445.2,205.5v-4M471.8,205.5v-4M498.3,205.5v-4M524.8,205.5v-4M551.4,205.5v-4M577.9,205.5v-4M604.4,205.5v-4M631.0,205.5v-4M657.5,205.5v-4M432.0,205.5v-2.2M458.5,205.5v-2.2M485.0,205.5v-2.2M511.6,205.5v-2.2M538.1,205.5v-2.2M564.6,205.5v-2.2M591.2,205.5v-2.2M617.7,205.5v-2.2M644.2,205.5v-2.2" fill="none" stroke="#2a2a2a" stroke-width="1"/>
<g font-size="11" fill="#1a1a1a"><text x="414.7" y="16.8" text-anchor="end">1.15</text><text x="414.7" y="48.8" text-anchor="end">1.10</text><text x="414.7" y="80.9" text-anchor="end">1.05</text><text x="414.7" y="112.9" text-anchor="end">1.00</text><text x="414.7" y="145.0" text-anchor="end">0.95</text><text x="414.7" y="177.0" text-anchor="end">0.90</text><text x="414.7" y="209.1" text-anchor="end">0.85</text><text x="661.7" y="16.8">100</text><text x="661.7" y="46.4">90</text><text x="661.7" y="76.0">80</text><text x="661.7" y="105.6">70</text><text x="661.7" y="135.1">60</text><text x="661.7" y="164.7">50</text><text x="661.7" y="194.3">40</text><text x="418.7" y="218.8" text-anchor="middle">0.0</text><text x="445.2" y="218.8" text-anchor="middle">0.2</text><text x="471.8" y="218.8" text-anchor="middle">0.4</text><text x="498.3" y="218.8" text-anchor="middle">0.6</text><text x="524.8" y="218.8" text-anchor="middle">0.8</text><text x="551.4" y="218.8" text-anchor="middle">1.0</text><text x="577.9" y="218.8" text-anchor="middle">1.2</text><text x="604.4" y="218.8" text-anchor="middle">1.4</text><text x="631.0" y="218.8" text-anchor="middle">1.6</text><text x="657.5" y="218.8" text-anchor="middle">1.8</text></g>
<path d="M429.0,24.8H451.8" stroke="#1e1e1e" stroke-width="1.2"/>
<circle cx="440.4" cy="37.3" r="1.8" fill="none" stroke="#5050ff" stroke-width="0.7"/>
<g font-size="12" fill="#1a1a1a"><text x="456.5" y="27.3">axial strain</text><text x="456.5" y="39.0">amplitude</text></g>
<text transform="translate(391.0,118.8) rotate(-90)" text-anchor="middle" font-size="12" fill="#1a1a1a" dy="4">axial strain/10<tspan font-size="8" dy="-4.5">-2</tspan></text>
<text transform="translate(678.7,118.2) rotate(-90)" text-anchor="middle" font-size="12" fill="#1a1a1a" dy="4">amplitude/dB</text>
<text x="538.8" y="228.3" text-anchor="middle" font-size="12" fill="#1a1a1a">time/h</text>
<text x="534.4" y="250.7" text-anchor="middle" font-size="20.5" font-weight="normal" fill="#111">(b)</text>
<path transform="scale(0.925)" d="M72.6 482.1a2 2 0 1 0 4 0a2 2 0 1 0-4 0m-21.2 0a2 2 0 1 0 4 0a2 2 0 1 0-4 0m-13.7 29.1a2 2 0 1 0 4 0a2 2 0 1 0-4 0m0.6 0a2 2 0 1 0 4 0a2 2 0 1 0-4 0m2 0a2 2 0 1 0 4 0a2 2 0 1 0-4 0m5.6 0a2 2 0 1 0 4 0a2 2 0 1 0-4 0m3.1 0a2 2 0 1 0 4 0a2 2 0 1 0-4 0m0.7 0a2 2 0 1 0 4 0a2 2 0 1 0-4 0m5.3 0a2 2 0 1 0 4 0a2 2 0 1 0-4 0m3.7 0a2 2 0 1 0 4 0a2 2 0 1 0-4 0m2 0a2 2 0 1 0 4 0a2 2 0 1 0-4 0m8.5 0a2 2 0 1 0 4 0a2 2 0 1 0-4 0m1.5 0a2 2 0 1 0 4 0a2 2 0 1 0-4 0m11 0a2 2 0 1 0 4 0a2 2 0 1 0-4 0m10.3 0a2 2 0 1 0 4 0a2 2 0 1 0-4 0m-52.4-42a2 2 0 1 0 4 0a2 2 0 1 0-4 0m3.4 0a2 2 0 1 0 4 0a2 2 0 1 0-4 0m11.1 0a2 2 0 1 0 4 0a2 2 0 1 0-4 0m7.4 0a2 2 0 1 0 4 0a2 2 0 1 0-4 0m2.1 0a2 2 0 1 0 4 0a2 2 0 1 0-4 0m14.8 0a2 2 0 1 0 4 0a2 2 0 1 0-4 0m-25-22.6a2 2 0 1 0 4 0a2 2 0 1 0-4 0m5.1 0a2 2 0 1 0 4 0a2 2 0 1 0-4 0m34.6 54.9a2 2 0 1 0 4 0a2 2 0 1 0-4 0m-53.2 0a2 2 0 1 0 4 0a2 2 0 1 0-4 0m6 0a2 2 0 1 0 4 0a2 2 0 1 0-4 0m5.7 0a2 2 0 1 0 4 0a2 2 0 1 0-4 0m1 0a2 2 0 1 0 4 0a2 2 0 1 0-4 0m7.1 0a2 2 0 1 0 4 0a2 2 0 1 0-4 0m9.4 0a2 2 0 1 0 4 0a2 2 0 1 0-4 0m3.2 0a2 2 0 1 0 4 0a2 2 0 1 0-4 0m14.6 0a2 2 0 1 0 4 0a2 2 0 1 0-4 0m-49.2-9.7a2 2 0 1 0 4 0a2 2 0 1 0-4 0m4.7 0a2 2 0 1 0 4 0a2 2 0 1 0-4 0m6.6 0a2 2 0 1 0 4 0a2 2 0 1 0-4 0m1.7 0a2 2 0 1 0 4 0a2 2 0 1 0-4 0m10.7 0a2 2 0 1 0 4 0a2 2 0 1 0-4 0m6.3 0a2 2 0 1 0 4 0a2 2 0 1 0-4 0m7.4 0a2 2 0 1 0 4 0a2 2 0 1 0-4 0m5.9 0a2 2 0 1 0 4 0a2 2 0 1 0-4 0m13 16.1a2 2 0 1 0 4 0a2 2 0 1 0-4 0m-54 0a2 2 0 1 0 4 0a2 2 0 1 0-4 0m8.3 0a2 2 0 1 0 4 0a2 2 0 1 0-4 0m7.1 0a2 2 0 1 0 4 0a2 2 0 1 0-4 0m2.1 0a2 2 0 1 0 4 0a2 2 0 1 0-4 0m16.4 0a2 2 0 1 0 4 0a2 2 0 1 0-4 0m13.9 0a2 2 0 1 0 4 0a2 2 0 1 0-4 0m-50.1-19.3a2 2 0 1 0 4 0a2 2 0 1 0-4 0m12.3 0a2 2 0 1 0 4 0a2 2 0 1 0-4 0m11.9 0a2 2 0 1 0 4 0a2 2 0 1 0-4 0m3 0a2 2 0 1 0 4 0a2 2 0 1 0-4 0m-27.2 0a2 2 0 1 0 4 0a2 2 0 1 0-4 0m4.1 9.7a2 2 0 1 0 4 0a2 2 0 1 0-4 0m0 0a2 2 0 1 0 4 0a2 2 0 1 0-4 0m17.4 0a2 2 0 1 0 4 0a2 2 0 1 0-4 0m22.1 0a2 2 0 1 0 4 0a2 2 0 1 0-4 0m-43.6-25.9a2 2 0 1 0 4 0a2 2 0 1 0-4 0m8.4 0a2 2 0 1 0 4 0a2 2 0 1 0-4 0m5.5 0a2 2 0 1 0 4 0a2 2 0 1 0-4 0m4.7 0a2 2 0 1 0 4 0a2 2 0 1 0-4 0m6.7 0a2 2 0 1 0 4 0a2 2 0 1 0-4 0m11.3 0a2 2 0 1 0 4 0a2 2 0 1 0-4 0m-36.6 42a2 2 0 1 0 4 0a2 2 0 1 0-4 0m0 0a2 2 0 1 0 4 0a2 2 0 1 0-4 0m3.1 0a2 2 0 1 0 4 0a2 2 0 1 0-4 0m3.6 0a2 2 0 1 0 4 0a2 2 0 1 0-4 0m2.8 0a2 2 0 1 0 4 0a2 2 0 1 0-4 0m2.7 0a2 2 0 1 0 4 0a2 2 0 1 0-4 0m2.9 0a2 2 0 1 0 4 0a2 2 0 1 0-4 0m1.1 0a2 2 0 1 0 4 0a2 2 0 1 0-4 0m6.5 0a2 2 0 1 0 4 0a2 2 0 1 0-4 0m3.9 0a2 2 0 1 0 4 0a2 2 0 1 0-4 0m5.3 0a2 2 0 1 0 4 0a2 2 0 1 0-4 0m5.7 0a2 2 0 1 0 4 0a2 2 0 1 0-4 0m4.6 0a2 2 0 1 0 4 0a2 2 0 1 0-4 0m10.1 0a2 2 0 1 0 4 0a2 2 0 1 0-4 0m4.3-29a2 2 0 1 0 4 0a2 2 0 1 0-4 0m-54.6 0a2 2 0 1 0 4 0a2 2 0 1 0-4 0m6.8 0a2 2 0 1 0 4 0a2 2 0 1 0-4 0m3.2 0a2 2 0 1 0 4 0a2 2 0 1 0-4 0m6.9 0a2 2 0 1 0 4 0a2 2 0 1 0-4 0m8.8 0a2 2 0 1 0 4 0a2 2 0 1 0-4 0m1.8 0a2 2 0 1 0 4 0a2 2 0 1 0-4 0m15.5 0a2 2 0 1 0 4 0a2 2 0 1 0-4 0m-1.8-19.4a2 2 0 1 0 4 0a2 2 0 1 0-4 0m-29.8 0a2 2 0 1 0 4 0a2 2 0 1 0-4 0m4.4 0a2 2 0 1 0 4 0a2 2 0 1 0-4 0m26.5 38.7a2 2 0 1 0 4 0a2 2 0 1 0-4 0m-41.9 0a2 2 0 1 0 4 0a2 2 0 1 0-4 0m6.8 0a2 2 0 1 0 4 0a2 2 0 1 0-4 0m19.4 0a2 2 0 1 0 4 0a2 2 0 1 0-4 0m3.1 0a2 2 0 1 0 4 0a2 2 0 1 0-4 0m-31.1 10.9a2 2 0 1 0 4 0a2 2 0 1 0-4 0m2.9 0a2 2 0 1 0 4 0a2 2 0 1 0-4 0m6 0a2 2 0 1 0 4 0a2 2 0 1 0-4 0m1.8 0a2 2 0 1 0 4 0a2 2 0 1 0-4 0m10.9 0a2 2 0 1 0 4 0a2 2 0 1 0-4 0m7.6 0a2 2 0 1 0 4 0a2 2 0 1 0-4 0m4.7 0a2 2 0 1 0 4 0a2 2 0 1 0-4 0m9.3 0a2 2 0 1 0 4 0a2 2 0 1 0-4 0m-43.8-20.6a2 2 0 1 0 4 0a2 2 0 1 0-4 0m5.6 0a2 2 0 1 0 4 0a2 2 0 1 0-4 0m6.6 0a2 2 0 1 0 4 0a2 2 0 1 0-4 0m15.7 0a2 2 0 1 0 4 0a2 2 0 1 0-4 0m3.9 0a2 2 0 1 0 4 0a2 2 0 1 0-4 0m-26.3-16.1a2 2 0 1 0 4 0a2 2 0 1 0-4 0m7.9 0a2 2 0 1 0 4 0a2 2 0 1 0-4 0m12.2 0a2 2 0 1 0 4 0a2 2 0 1 0-4 0m-25.6-25.8a2 2 0 1 0 4 0a2 2 0 1 0-4 0m25.1 0a2 2 0 1 0 4 0a2 2 0 1 0-4 0m-18.9-9.7a2 2 0 1 0 4 0a2 2 0 1 0-4 0m21.6 0a2 2 0 1 0 4 0a2 2 0 1 0-4 0m17.4 0a2 2 0 1 0 4 0a2 2 0 1 0-4 0m-31.4 32.3a2 2 0 1 0 4 0a2 2 0 1 0-4 0m37.6 0a2 2 0 1 0 4 0a2 2 0 1 0-4 0m-51.4-12.9a2 2 0 1 0 4 0a2 2 0 1 0-4 0m40.8-22.6a2 2 0 1 0 4 0a2 2 0 1 0-4 0m-31-6.5a2 2 0 1 0 4 0a2 2 0 1 0-4 0m8.2 3.3a2 2 0 1 0 4 0a2 2 0 1 0-4 0m-12.5 0a2 2 0 1 0 4 0a2 2 0 1 0-4 0m124.8 70.9a2 2 0 1 0 4 0a2 2 0 1 0-4 0m-75.2 0a2 2 0 1 0 4 0a2 2 0 1 0-4 0m41.7 0a2 2 0 1 0 4 0a2 2 0 1 0-4 0m-6.8 6.5a2 2 0 1 0 4 0a2 2 0 1 0-4 0m52.5 0a2 2 0 1 0 4 0a2 2 0 1 0-4 0m-99.7-83.9a2 2 0 1 0 4 0a2 2 0 1 0-4 0m41.3 0a2 2 0 1 0 4 0a2 2 0 1 0-4 0m63.6 0a2 2 0 1 0 4 0a2 2 0 1 0-4 0m-126.1 74.2a2 2 0 1 0 4 0a2 2 0 1 0-4 0m36.4 0a2 2 0 1 0 4 0a2 2 0 1 0-4 0m40.9 0a2 2 0 1 0 4 0a2 2 0 1 0-4 0m35.9 0a2 2 0 1 0 4 0a2 2 0 1 0-4 0m-113-12.9a2 2 0 1 0 4 0a2 2 0 1 0-4 0m29.6 0a2 2 0 1 0 4 0a2 2 0 1 0-4 0m88.9 0a2 2 0 1 0 4 0a2 2 0 1 0-4 0m4.4-35.5a2 2 0 1 0 4 0a2 2 0 1 0-4 0m-74.7 0a2 2 0 1 0 4 0a2 2 0 1 0-4 0m33.9 0a2 2 0 1 0 4 0a2 2 0 1 0-4 0m-59.6 54.9a2 2 0 1 0 4 0a2 2 0 1 0-4 0m12.1 0a2 2 0 1 0 4 0a2 2 0 1 0-4 0m52.5 0a2 2 0 1 0 4 0a2 2 0 1 0-4 0m11.9 0a2 2 0 1 0 4 0a2 2 0 1 0-4 0m-30.5-90.4a2 2 0 1 0 4 0a2 2 0 1 0-4 0m45 0a2 2 0 1 0 4 0a2 2 0 1 0-4 0m-98 16.2a2 2 0 1 0 4 0a2 2 0 1 0-4 0m24.9 0a2 2 0 1 0 4 0a2 2 0 1 0-4 0m51.9 0a2 2 0 1 0 4 0a2 2 0 1 0-4 0m19.3 0a2 2 0 1 0 4 0a2 2 0 1 0-4 0m5.5 64.5a2 2 0 1 0 4 0a2 2 0 1 0-4 0m-65.6 0a2 2 0 1 0 4 0a2 2 0 1 0-4 0m-8.9-3.2a2 2 0 1 0 4 0a2 2 0 1 0-4 0m42.6 0a2 2 0 1 0 4 0a2 2 0 1 0-4 0m-70.6-19.4a2 2 0 1 0 4 0a2 2 0 1 0-4 0m15.9 0a2 2 0 1 0 4 0a2 2 0 1 0-4 0m36 0a2 2 0 1 0 4 0a2 2 0 1 0-4 0m12.7 0a2 2 0 1 0 4 0a2 2 0 1 0-4 0m47.7 0a2 2 0 1 0 4 0a2 2 0 1 0-4 0m-117.6 3.2a2 2 0 1 0 4 0a2 2 0 1 0-4 0m54.5 0a2 2 0 1 0 4 0a2 2 0 1 0-4 0m2.1 0a2 2 0 1 0 4 0a2 2 0 1 0-4 0m39.9 0a2 2 0 1 0 4 0a2 2 0 1 0-4 0m-84.4-6.4a2 2 0 1 0 4 0a2 2 0 1 0-4 0m95 0a2 2 0 1 0 4 0a2 2 0 1 0-4 0m-116.5-12.9a2 2 0 1 0 4 0a2 2 0 1 0-4 0m38.9 0a2 2 0 1 0 4 0a2 2 0 1 0-4 0m34.9 0a2 2 0 1 0 4 0a2 2 0 1 0-4 0m30.4 0a2 2 0 1 0 4 0a2 2 0 1 0-4 0m-99.1 3.2a2 2 0 1 0 4 0a2 2 0 1 0-4 0m32.7 0a2 2 0 1 0 4 0a2 2 0 1 0-4 0m34 0a2 2 0 1 0 4 0a2 2 0 1 0-4 0m-68.5 0a2 2 0 1 0 4 0a2 2 0 1 0-4 0m120.8-16.1a2 2 0 1 0 4 0a2 2 0 1 0-4 0m-106.4 65.7a2 2 0 1 0 4 0a2 2 0 1 0-4 0m35.2 0a2 2 0 1 0 4 0a2 2 0 1 0-4 0m66.1-43.2a2 2 0 1 0 4 0a2 2 0 1 0-4 0m-85.3 0a2 2 0 1 0 4 0a2 2 0 1 0-4 0m45.7 0a2 2 0 1 0 4 0a2 2 0 1 0-4 0m34.5 0a2 2 0 1 0 4 0a2 2 0 1 0-4 0m-1.8 22.6a2 2 0 1 0 4 0a2 2 0 1 0-4 0m-9.3-61.3a2 2 0 1 0 4 0a2 2 0 1 0-4 0m-86.4 0a2 2 0 1 0 4 0a2 2 0 1 0-4 0m73.6 0a2 2 0 1 0 4 0a2 2 0 1 0-4 0m11.1 9.7a2 2 0 1 0 4 0a2 2 0 1 0-4 0m-57.9 0a2 2 0 1 0 4 0a2 2 0 1 0-4 0m75.2-3.2a2 2 0 1 0 4 0a2 2 0 1 0-4 0m-92.8 45.2a2 2 0 1 0 4 0a2 2 0 1 0-4 0m-9.2 3.2a2 2 0 1 0 4 0a2 2 0 1 0-4 0m31.5 0a2 2 0 1 0 4 0a2 2 0 1 0-4 0m41.8 0a2 2 0 1 0 4 0a2 2 0 1 0-4 0m-71.9-71a2 2 0 1 0 4 0a2 2 0 1 0-4 0m-1.2 41.9a2 2 0 1 0 4 0a2 2 0 1 0-4 0m34.7-12.9a2 2 0 1 0 4 0a2 2 0 1 0-4 0m26.1-19.3a2 2 0 1 0 4 0a2 2 0 1 0-4 0m-12.9 25.8a2 2 0 1 0 4 0a2 2 0 1 0-4 0m31-29.1a2 2 0 1 0 4 0a2 2 0 1 0-4 0m35.3 13a2 2 0 1 0 4 0a2 2 0 1 0-4 0m14.8 0a2 2 0 1 0 4 0a2 2 0 1 0-4 0m7.8 0a2 2 0 1 0 4 0a2 2 0 1 0-4 0m6.8 0a2 2 0 1 0 4 0a2 2 0 1 0-4 0m2.3 0a2 2 0 1 0 4 0a2 2 0 1 0-4 0m9.9 0a2 2 0 1 0 4 0a2 2 0 1 0-4 0m1.3 0a2 2 0 1 0 4 0a2 2 0 1 0-4 0m6.7 0a2 2 0 1 0 4 0a2 2 0 1 0-4 0m-57.8 70.9a2 2 0 1 0 4 0a2 2 0 1 0-4 0m4.9 0a2 2 0 1 0 4 0a2 2 0 1 0-4 0m1.6 0a2 2 0 1 0 4 0a2 2 0 1 0-4 0m6.9 0a2 2 0 1 0 4 0a2 2 0 1 0-4 0m2.5 0a2 2 0 1 0 4 0a2 2 0 1 0-4 0m3.4 0a2 2 0 1 0 4 0a2 2 0 1 0-4 0m0 0a2 2 0 1 0 4 0a2 2 0 1 0-4 0m3 0a2 2 0 1 0 4 0a2 2 0 1 0-4 0m2.1 0a2 2 0 1 0 4 0a2 2 0 1 0-4 0m3.6 0a2 2 0 1 0 4 0a2 2 0 1 0-4 0m0.1 0a2 2 0 1 0 4 0a2 2 0 1 0-4 0m2.4 0a2 2 0 1 0 4 0a2 2 0 1 0-4 0m1.9 0a2 2 0 1 0 4 0a2 2 0 1 0-4 0m2.3 0a2 2 0 1 0 4 0a2 2 0 1 0-4 0m0.7 0a2 2 0 1 0 4 0a2 2 0 1 0-4 0m2.5 0a2 2 0 1 0 4 0a2 2 0 1 0-4 0m2 0a2 2 0 1 0 4 0a2 2 0 1 0-4 0m1.6 0a2 2 0 1 0 4 0a2 2 0 1 0-4 0m1.6 0a2 2 0 1 0 4 0a2 2 0 1 0-4 0m0.7 0a2 2 0 1 0 4 0a2 2 0 1 0-4 0m1.5 0a2 2 0 1 0 4 0a2 2 0 1 0-4 0m1.4 0a2 2 0 1 0 4 0a2 2 0 1 0-4 0m1.1 0a2 2 0 1 0 4 0a2 2 0 1 0-4 0m2.2 0a2 2 0 1 0 4 0a2 2 0 1 0-4 0m0.9 0a2 2 0 1 0 4 0a2 2 0 1 0-4 0m1.6 0a2 2 0 1 0 4 0a2 2 0 1 0-4 0m0.3 0a2 2 0 1 0 4 0a2 2 0 1 0-4 0m1.5 0a2 2 0 1 0 4 0a2 2 0 1 0-4 0m1.1 0a2 2 0 1 0 4 0a2 2 0 1 0-4 0m0.8 0a2 2 0 1 0 4 0a2 2 0 1 0-4 0m0.8 0a2 2 0 1 0 4 0a2 2 0 1 0-4 0m1.6 0a2 2 0 1 0 4 0a2 2 0 1 0-4 0m1.6 0a2 2 0 1 0 4 0a2 2 0 1 0-4 0m-0.3-19.3a2 2 0 1 0 4 0a2 2 0 1 0-4 0m-58 0a2 2 0 1 0 4 0a2 2 0 1 0-4 0m3.8 0a2 2 0 1 0 4 0a2 2 0 1 0-4 0m5.3 0a2 2 0 1 0 4 0a2 2 0 1 0-4 0m7.5 0a2 2 0 1 0 4 0a2 2 0 1 0-4 0m1.5 0a2 2 0 1 0 4 0a2 2 0 1 0-4 0m4.9 0a2 2 0 1 0 4 0a2 2 0 1 0-4 0m1.6 0a2 2 0 1 0 4 0a2 2 0 1 0-4 0m2.3 0a2 2 0 1 0 4 0a2 2 0 1 0-4 0m3.5 0a2 2 0 1 0 4 0a2 2 0 1 0-4 0m0.9 0a2 2 0 1 0 4 0a2 2 0 1 0-4 0m4.2 0a2 2 0 1 0 4 0a2 2 0 1 0-4 0m-0.3 0a2 2 0 1 0 4 0a2 2 0 1 0-4 0m2.2 0a2 2 0 1 0 4 0a2 2 0 1 0-4 0m3.7 0a2 2 0 1 0 4 0a2 2 0 1 0-4 0m0.7 0a2 2 0 1 0 4 0a2 2 0 1 0-4 0m3.4 0a2 2 0 1 0 4 0a2 2 0 1 0-4 0m0.8 0a2 2 0 1 0 4 0a2 2 0 1 0-4 0m2.4 0a2 2 0 1 0 4 0a2 2 0 1 0-4 0m0.2 0a2 2 0 1 0 4 0a2 2 0 1 0-4 0m3.1 0a2 2 0 1 0 4 0a2 2 0 1 0-4 0m0.2 0a2 2 0 1 0 4 0a2 2 0 1 0-4 0m1.6 0a2 2 0 1 0 4 0a2 2 0 1 0-4 0m2.9 0a2 2 0 1 0 4 0a2 2 0 1 0-4 0m-0.1 0a2 2 0 1 0 4 0a2 2 0 1 0-4 0m-64-3.2a2 2 0 1 0 4 0a2 2 0 1 0-4 0m7.8 0a2 2 0 1 0 4 0a2 2 0 1 0-4 0m13.7 0a2 2 0 1 0 4 0a2 2 0 1 0-4 0m6.5 0a2 2 0 1 0 4 0a2 2 0 1 0-4 0m1.1 0a2 2 0 1 0 4 0a2 2 0 1 0-4 0m6.4 0a2 2 0 1 0 4 0a2 2 0 1 0-4 0m3.1 0a2 2 0 1 0 4 0a2 2 0 1 0-4 0m3.5 0a2 2 0 1 0 4 0a2 2 0 1 0-4 0m3.9 0a2 2 0 1 0 4 0a2 2 0 1 0-4 0m1 0a2 2 0 1 0 4 0a2 2 0 1 0-4 0m4.1 0a2 2 0 1 0 4 0a2 2 0 1 0-4 0m4.5 0a2 2 0 1 0 4 0a2 2 0 1 0-4 0m0 0a2 2 0 1 0 4 0a2 2 0 1 0-4 0m2.4 0a2 2 0 1 0 4 0a2 2 0 1 0-4 0m3.2 0a2 2 0 1 0 4 0a2 2 0 1 0-4 0m3.9 0a2 2 0 1 0 4 0a2 2 0 1 0-4 0m1 9.6a2 2 0 1 0 4 0a2 2 0 1 0-4 0m-58.4 0a2 2 0 1 0 4 0a2 2 0 1 0-4 0m6 0a2 2 0 1 0 4 0a2 2 0 1 0-4 0m9.7 0a2 2 0 1 0 4 0a2 2 0 1 0-4 0m1.2 0a2 2 0 1 0 4 0a2 2 0 1 0-4 0m3.3 0a2 2 0 1 0 4 0a2 2 0 1 0-4 0m4.7 0a2 2 0 1 0 4 0a2 2 0 1 0-4 0m0.7 0a2 2 0 1 0 4 0a2 2 0 1 0-4 0m5.2 0a2 2 0 1 0 4 0a2 2 0 1 0-4 0m0.4 0a2 2 0 1 0 4 0a2 2 0 1 0-4 0m3 0a2 2 0 1 0 4 0a2 2 0 1 0-4 0m4.1 0a2 2 0 1 0 4 0a2 2 0 1 0-4 0m0.8 0a2 2 0 1 0 4 0a2 2 0 1 0-4 0m4.1 0a2 2 0 1 0 4 0a2 2 0 1 0-4 0m1.5 0a2 2 0 1 0 4 0a2 2 0 1 0-4 0m2.1 0a2 2 0 1 0 4 0a2 2 0 1 0-4 0m2.2 0a2 2 0 1 0 4 0a2 2 0 1 0-4 0m1.9 0a2 2 0 1 0 4 0a2 2 0 1 0-4 0m1.7 0a2 2 0 1 0 4 0a2 2 0 1 0-4 0m1.9 0a2 2 0 1 0 4 0a2 2 0 1 0-4 0m1.3 0a2 2 0 1 0 4 0a2 2 0 1 0-4 0m1.2 0a2 2 0 1 0 4 0a2 2 0 1 0-4 0m0.8 3.3a2 2 0 1 0 4 0a2 2 0 1 0-4 0m-58.1 0a2 2 0 1 0 4 0a2 2 0 1 0-4 0m11.6 0a2 2 0 1 0 4 0a2 2 0 1 0-4 0m4.1 0a2 2 0 1 0 4 0a2 2 0 1 0-4 0m3.1 0a2 2 0 1 0 4 0a2 2 0 1 0-4 0m7.2 0a2 2 0 1 0 4 0a2 2 0 1 0-4 0m4.4 0a2 2 0 1 0 4 0a2 2 0 1 0-4 0m-0.4 0a2 2 0 1 0 4 0a2 2 0 1 0-4 0m5.7 0a2 2 0 1 0 4 0a2 2 0 1 0-4 0m1.9 0a2 2 0 1 0 4 0a2 2 0 1 0-4 0m1.4 0a2 2 0 1 0 4 0a2 2 0 1 0-4 0m3.1 0a2 2 0 1 0 4 0a2 2 0 1 0-4 0m3.4 0a2 2 0 1 0 4 0a2 2 0 1 0-4 0m3.4 0a2 2 0 1 0 4 0a2 2 0 1 0-4 0m0.4 0a2 2 0 1 0 4 0a2 2 0 1 0-4 0m3.7 0a2 2 0 1 0 4 0a2 2 0 1 0-4 0m0.6 0a2 2 0 1 0 4 0a2 2 0 1 0-4 0m2.4 0a2 2 0 1 0 4 0a2 2 0 1 0-4 0m-56.7-25.9a2 2 0 1 0 4 0a2 2 0 1 0-4 0m1.9 0a2 2 0 1 0 4 0a2 2 0 1 0-4 0m10.5 0a2 2 0 1 0 4 0a2 2 0 1 0-4 0m9.1 0a2 2 0 1 0 4 0a2 2 0 1 0-4 0m9.7 0a2 2 0 1 0 4 0a2 2 0 1 0-4 0m1.4 0a2 2 0 1 0 4 0a2 2 0 1 0-4 0m4.6 0a2 2 0 1 0 4 0a2 2 0 1 0-4 0m6.3 0a2 2 0 1 0 4 0a2 2 0 1 0-4 0m3.7 0a2 2 0 1 0 4 0a2 2 0 1 0-4 0m2 0a2 2 0 1 0 4 0a2 2 0 1 0-4 0m5.4 0a2 2 0 1 0 4 0a2 2 0 1 0-4 0m1.4 0a2 2 0 1 0 4 0a2 2 0 1 0-4 0m-61.6 38.8a2 2 0 1 0 4 0a2 2 0 1 0-4 0m10.5 0a2 2 0 1 0 4 0a2 2 0 1 0-4 0m4.4 0a2 2 0 1 0 4 0a2 2 0 1 0-4 0m2.6 0a2 2 0 1 0 4 0a2 2 0 1 0-4 0m4.8 0a2 2 0 1 0 4 0a2 2 0 1 0-4 0m2.3 0a2 2 0 1 0 4 0a2 2 0 1 0-4 0m2 0a2 2 0 1 0 4 0a2 2 0 1 0-4 0m3.9 0a2 2 0 1 0 4 0a2 2 0 1 0-4 0m0 0a2 2 0 1 0 4 0a2 2 0 1 0-4 0m2.6 0a2 2 0 1 0 4 0a2 2 0 1 0-4 0m3.2 0a2 2 0 1 0 4 0a2 2 0 1 0-4 0m0.4 0a2 2 0 1 0 4 0a2 2 0 1 0-4 0m2.6 0a2 2 0 1 0 4 0a2 2 0 1 0-4 0m2.9 0a2 2 0 1 0 4 0a2 2 0 1 0-4 0m0.1 0a2 2 0 1 0 4 0a2 2 0 1 0-4 0m3.1 0a2 2 0 1 0 4 0a2 2 0 1 0-4 0m1.4 0a2 2 0 1 0 4 0a2 2 0 1 0-4 0m0.9 0a2 2 0 1 0 4 0a2 2 0 1 0-4 0m2.8 0a2 2 0 1 0 4 0a2 2 0 1 0-4 0m1.1 0a2 2 0 1 0 4 0a2 2 0 1 0-4 0m1.2 0a2 2 0 1 0 4 0a2 2 0 1 0-4 0m0.8 0a2 2 0 1 0 4 0a2 2 0 1 0-4 0m2.6 0a2 2 0 1 0 4 0a2 2 0 1 0-4 0m0.3 0a2 2 0 1 0 4 0a2 2 0 1 0-4 0m1.8 0a2 2 0 1 0 4 0a2 2 0 1 0-4 0m0.7 0a2 2 0 1 0 4 0a2 2 0 1 0-4 0m2.2 0a2 2 0 1 0 4 0a2 2 0 1 0-4 0m1.5 0a2 2 0 1 0 4 0a2 2 0 1 0-4 0m0.7 0a2 2 0 1 0 4 0a2 2 0 1 0-4 0m-66.1 0a2 2 0 1 0 4 0a2 2 0 1 0-4 0m6.3-35.5a2 2 0 1 0 4 0a2 2 0 1 0-4 0m13.8 0a2 2 0 1 0 4 0a2 2 0 1 0-4 0m5.6 0a2 2 0 1 0 4 0a2 2 0 1 0-4 0m1.9 0a2 2 0 1 0 4 0a2 2 0 1 0-4 0m4 0a2 2 0 1 0 4 0a2 2 0 1 0-4 0m4.2 0a2 2 0 1 0 4 0a2 2 0 1 0-4 0m5 0a2 2 0 1 0 4 0a2 2 0 1 0-4 0m2.1 0a2 2 0 1 0 4 0a2 2 0 1 0-4 0m4.8 0a2 2 0 1 0 4 0a2 2 0 1 0-4 0m2 0a2 2 0 1 0 4 0a2 2 0 1 0-4 0m5.1 0a2 2 0 1 0 4 0a2 2 0 1 0-4 0m2.2 0a2 2 0 1 0 4 0a2 2 0 1 0-4 0m2.1 0a2 2 0 1 0 4 0a2 2 0 1 0-4 0m1.6 0a2 2 0 1 0 4 0a2 2 0 1 0-4 0m3.3 0a2 2 0 1 0 4 0a2 2 0 1 0-4 0m1.7 0a2 2 0 1 0 4 0a2 2 0 1 0-4 0m-67.1 6.4a2 2 0 1 0 4 0a2 2 0 1 0-4 0m12.2 0a2 2 0 1 0 4 0a2 2 0 1 0-4 0m15.1 0a2 2 0 1 0 4 0a2 2 0 1 0-4 0m1.4 0a2 2 0 1 0 4 0a2 2 0 1 0-4 0m5.8 0a2 2 0 1 0 4 0a2 2 0 1 0-4 0m4.8 0a2 2 0 1 0 4 0a2 2 0 1 0-4 0m4.3 0a2 2 0 1 0 4 0a2 2 0 1 0-4 0m5.6 0a2 2 0 1 0 4 0a2 2 0 1 0-4 0m4.6 0a2 2 0 1 0 4 0a2 2 0 1 0-4 0m0.8 0a2 2 0 1 0 4 0a2 2 0 1 0-4 0m4.9 0a2 2 0 1 0 4 0a2 2 0 1 0-4 0m0.4 0a2 2 0 1 0 4 0a2 2 0 1 0-4 0m4.2 0a2 2 0 1 0 4 0a2 2 0 1 0-4 0m3.5 0a2 2 0 1 0 4 0a2 2 0 1 0-4 0m-66.1 32.3a2 2 0 1 0 4 0a2 2 0 1 0-4 0m6.9 0a2 2 0 1 0 4 0a2 2 0 1 0-4 0m4.8 0a2 2 0 1 0 4 0a2 2 0 1 0-4 0m1.5 0a2 2 0 1 0 4 0a2 2 0 1 0-4 0m2.8 0a2 2 0 1 0 4 0a2 2 0 1 0-4 0m3.9 0a2 2 0 1 0 4 0a2 2 0 1 0-4 0m2 0a2 2 0 1 0 4 0a2 2 0 1 0-4 0m0.4 0a2 2 0 1 0 4 0a2 2 0 1 0-4 0m1.3 0a2 2 0 1 0 4 0a2 2 0 1 0-4 0m2.5 0a2 2 0 1 0 4 0a2 2 0 1 0-4 0m1.5 0a2 2 0 1 0 4 0a2 2 0 1 0-4 0m0.7 0a2 2 0 1 0 4 0a2 2 0 1 0-4 0m2.2 0a2 2 0 1 0 4 0a2 2 0 1 0-4 0m0.5 0a2 2 0 1 0 4 0a2 2 0 1 0-4 0m1.9 0a2 2 0 1 0 4 0a2 2 0 1 0-4 0m1.5 0a2 2 0 1 0 4 0a2 2 0 1 0-4 0m0.9 0a2 2 0 1 0 4 0a2 2 0 1 0-4 0m1.3 0a2 2 0 1 0 4 0a2 2 0 1 0-4 0m0.8 0a2 2 0 1 0 4 0a2 2 0 1 0-4 0m1.9 0a2 2 0 1 0 4 0a2 2 0 1 0-4 0m1.4 0a2 2 0 1 0 4 0a2 2 0 1 0-4 0m0.7 0a2 2 0 1 0 4 0a2 2 0 1 0-4 0m1 0a2 2 0 1 0 4 0a2 2 0 1 0-4 0m1.3 0a2 2 0 1 0 4 0a2 2 0 1 0-4 0m1 0a2 2 0 1 0 4 0a2 2 0 1 0-4 0m0.6 0a2 2 0 1 0 4 0a2 2 0 1 0-4 0m1 0a2 2 0 1 0 4 0a2 2 0 1 0-4 0m0.7 0a2 2 0 1 0 4 0a2 2 0 1 0-4 0m0.7 0a2 2 0 1 0 4 0a2 2 0 1 0-4 0m1.1 0a2 2 0 1 0 4 0a2 2 0 1 0-4 0m1.2 0a2 2 0 1 0 4 0a2 2 0 1 0-4 0m0.7 0a2 2 0 1 0 4 0a2 2 0 1 0-4 0m0.5 0a2 2 0 1 0 4 0a2 2 0 1 0-4 0m1.2 0a2 2 0 1 0 4 0a2 2 0 1 0-4 0m0.7 0a2 2 0 1 0 4 0a2 2 0 1 0-4 0m1.3 0a2 2 0 1 0 4 0a2 2 0 1 0-4 0m0.3 0a2 2 0 1 0 4 0a2 2 0 1 0-4 0m0.6 0a2 2 0 1 0 4 0a2 2 0 1 0-4 0m1.3 0a2 2 0 1 0 4 0a2 2 0 1 0-4 0m0.5 0a2 2 0 1 0 4 0a2 2 0 1 0-4 0m0.8 0a2 2 0 1 0 4 0a2 2 0 1 0-4 0m1.2 0a2 2 0 1 0 4 0a2 2 0 1 0-4 0m0.6 0a2 2 0 1 0 4 0a2 2 0 1 0-4 0m0.3 0a2 2 0 1 0 4 0a2 2 0 1 0-4 0m1.4 0a2 2 0 1 0 4 0a2 2 0 1 0-4 0m0.7 0a2 2 0 1 0 4 0a2 2 0 1 0-4 0m0.9 0a2 2 0 1 0 4 0a2 2 0 1 0-4 0m0.1 0a2 2 0 1 0 4 0a2 2 0 1 0-4 0m1.1 0a2 2 0 1 0 4 0a2 2 0 1 0-4 0m0.9 0a2 2 0 1 0 4 0a2 2 0 1 0-4 0m0.7 0a2 2 0 1 0 4 0a2 2 0 1 0-4 0m0.1 0a2 2 0 1 0 4 0a2 2 0 1 0-4 0m0.6 0a2 2 0 1 0 4 0a2 2 0 1 0-4 0m0.8 0a2 2 0 1 0 4 0a2 2 0 1 0-4 0m-30.6-80.7a2 2 0 1 0 4 0a2 2 0 1 0-4 0m5.2 0a2 2 0 1 0 4 0a2 2 0 1 0-4 0m13.2 0a2 2 0 1 0 4 0a2 2 0 1 0-4 0m-49.8 0a2 2 0 1 0 4 0a2 2 0 1 0-4 0m3.3 45.2a2 2 0 1 0 4 0a2 2 0 1 0-4 0m11.3 0a2 2 0 1 0 4 0a2 2 0 1 0-4 0m9 0a2 2 0 1 0 4 0a2 2 0 1 0-4 0m4.3 0a2 2 0 1 0 4 0a2 2 0 1 0-4 0m5.5 0a2 2 0 1 0 4 0a2 2 0 1 0-4 0m1.2 0a2 2 0 1 0 4 0a2 2 0 1 0-4 0m5.4 0a2 2 0 1 0 4 0a2 2 0 1 0-4 0m4.2 0a2 2 0 1 0 4 0a2 2 0 1 0-4 0m3.3 0a2 2 0 1 0 4 0a2 2 0 1 0-4 0m2.5 0a2 2 0 1 0 4 0a2 2 0 1 0-4 0m4 0a2 2 0 1 0 4 0a2 2 0 1 0-4 0m2.5 0a2 2 0 1 0 4 0a2 2 0 1 0-4 0m2.6 0a2 2 0 1 0 4 0a2 2 0 1 0-4 0m3.1 0a2 2 0 1 0 4 0a2 2 0 1 0-4 0m-64.7 22.6a2 2 0 1 0 4 0a2 2 0 1 0-4 0m13.9 0a2 2 0 1 0 4 0a2 2 0 1 0-4 0m7.3 0a2 2 0 1 0 4 0a2 2 0 1 0-4 0m3.3 0a2 2 0 1 0 4 0a2 2 0 1 0-4 0m5.6 0a2 2 0 1 0 4 0a2 2 0 1 0-4 0m5.3 0a2 2 0 1 0 4 0a2 2 0 1 0-4 0m0.6 0a2 2 0 1 0 4 0a2 2 0 1 0-4 0m6.6 0a2 2 0 1 0 4 0a2 2 0 1 0-4 0m1 0a2 2 0 1 0 4 0a2 2 0 1 0-4 0m2.3 0a2 2 0 1 0 4 0a2 2 0 1 0-4 0m3.9 0a2 2 0 1 0 4 0a2 2 0 1 0-4 0m3.7 0a2 2 0 1 0 4 0a2 2 0 1 0-4 0m1.8 0a2 2 0 1 0 4 0a2 2 0 1 0-4 0m0.9 0a2 2 0 1 0 4 0a2 2 0 1 0-4 0m4.7 0a2 2 0 1 0 4 0a2 2 0 1 0-4 0m1.5 0a2 2 0 1 0 4 0a2 2 0 1 0-4 0m2.3 0a2 2 0 1 0 4 0a2 2 0 1 0-4 0m-34-61.3a2 2 0 1 0 4 0a2 2 0 1 0-4 0m21.7 0a2 2 0 1 0 4 0a2 2 0 1 0-4 0m10.7 0a2 2 0 1 0 4 0a2 2 0 1 0-4 0m-0.3 25.8a2 2 0 1 0 4 0a2 2 0 1 0-4 0m-50.4 0a2 2 0 1 0 4 0a2 2 0 1 0-4 0m13.2 0a2 2 0 1 0 4 0a2 2 0 1 0-4 0m11.6 0a2 2 0 1 0 4 0a2 2 0 1 0-4 0m6.2 0a2 2 0 1 0 4 0a2 2 0 1 0-4 0m9.1 0a2 2 0 1 0 4 0a2 2 0 1 0-4 0m3.8 0a2 2 0 1 0 4 0a2 2 0 1 0-4 0m3.1 0a2 2 0 1 0 4 0a2 2 0 1 0-4 0m5 38.7a2 2 0 1 0 4 0a2 2 0 1 0-4 0m-58.1 0a2 2 0 1 0 4 0a2 2 0 1 0-4 0m7.7 0a2 2 0 1 0 4 0a2 2 0 1 0-4 0m2 0a2 2 0 1 0 4 0a2 2 0 1 0-4 0m2 0a2 2 0 1 0 4 0a2 2 0 1 0-4 0m5.1 0a2 2 0 1 0 4 0a2 2 0 1 0-4 0m3 0a2 2 0 1 0 4 0a2 2 0 1 0-4 0m2 0a2 2 0 1 0 4 0a2 2 0 1 0-4 0m1.4 0a2 2 0 1 0 4 0a2 2 0 1 0-4 0m2.1 0a2 2 0 1 0 4 0a2 2 0 1 0-4 0m3.3 0a2 2 0 1 0 4 0a2 2 0 1 0-4 0m2.1 0a2 2 0 1 0 4 0a2 2 0 1 0-4 0m1.1 0a2 2 0 1 0 4 0a2 2 0 1 0-4 0m1.8 0a2 2 0 1 0 4 0a2 2 0 1 0-4 0m3.7 0a2 2 0 1 0 4 0a2 2 0 1 0-4 0m1.7 0a2 2 0 1 0 4 0a2 2 0 1 0-4 0m1.4 0a2 2 0 1 0 4 0a2 2 0 1 0-4 0m0.4 0a2 2 0 1 0 4 0a2 2 0 1 0-4 0m3 0a2 2 0 1 0 4 0a2 2 0 1 0-4 0m0.7 0a2 2 0 1 0 4 0a2 2 0 1 0-4 0m1.4 0a2 2 0 1 0 4 0a2 2 0 1 0-4 0m2.7 0a2 2 0 1 0 4 0a2 2 0 1 0-4 0m0.2 0a2 2 0 1 0 4 0a2 2 0 1 0-4 0m1.3 0a2 2 0 1 0 4 0a2 2 0 1 0-4 0m2 0a2 2 0 1 0 4 0a2 2 0 1 0-4 0m0.7 0a2 2 0 1 0 4 0a2 2 0 1 0-4 0m1.9 0a2 2 0 1 0 4 0a2 2 0 1 0-4 0m1 0a2 2 0 1 0 4 0a2 2 0 1 0-4 0m1.6 0a2 2 0 1 0 4 0a2 2 0 1 0-4 0m-0.4 10.9a2 2 0 1 0 4 0a2 2 0 1 0-4 0m-45.3 0a2 2 0 1 0 4 0a2 2 0 1 0-4 0m5.6 0a2 2 0 1 0 4 0a2 2 0 1 0-4 0m2.7 0a2 2 0 1 0 4 0a2 2 0 1 0-4 0m10.4 0a2 2 0 1 0 4 0a2 2 0 1 0-4 0m1.2 0a2 2 0 1 0 4 0a2 2 0 1 0-4 0m6.1 0a2 2 0 1 0 4 0a2 2 0 1 0-4 0m5.5 0a2 2 0 1 0 4 0a2 2 0 1 0-4 0m4.3 0a2 2 0 1 0 4 0a2 2 0 1 0-4 0m1 0a2 2 0 1 0 4 0a2 2 0 1 0-4 0m5.5 0a2 2 0 1 0 4 0a2 2 0 1 0-4 0m2.6 0a2 2 0 1 0 4 0a2 2 0 1 0-4 0m-41.3-72.2a2 2 0 1 0 4 0a2 2 0 1 0-4 0m0.8 0a2 2 0 1 0 4 0a2 2 0 1 0-4 0m15.3 0a2 2 0 1 0 4 0a2 2 0 1 0-4 0m3.9 0a2 2 0 1 0 4 0a2 2 0 1 0-4 0m12.4 0a2 2 0 1 0 4 0a2 2 0 1 0-4 0m4.2 0a2 2 0 1 0 4 0a2 2 0 1 0-4 0m4.7 0a2 2 0 1 0 4 0a2 2 0 1 0-4 0m-53.2 25.8a2 2 0 1 0 4 0a2 2 0 1 0-4 0m15.8 0a2 2 0 1 0 4 0a2 2 0 1 0-4 0m-0.7 0a2 2 0 1 0 4 0a2 2 0 1 0-4 0m11.9 0a2 2 0 1 0 4 0a2 2 0 1 0-4 0m-0.4 0a2 2 0 1 0 4 0a2 2 0 1 0-4 0m8.1 0a2 2 0 1 0 4 0a2 2 0 1 0-4 0m4.5 0a2 2 0 1 0 4 0a2 2 0 1 0-4 0m1.5 0a2 2 0 1 0 4 0a2 2 0 1 0-4 0m5.8 0a2 2 0 1 0 4 0a2 2 0 1 0-4 0m1.2 0a2 2 0 1 0 4 0a2 2 0 1 0-4 0m5.2 0a2 2 0 1 0 4 0a2 2 0 1 0-4 0m1.3 0a2 2 0 1 0 4 0a2 2 0 1 0-4 0m-65.3 22.6a2 2 0 1 0 4 0a2 2 0 1 0-4 0m19.7 0a2 2 0 1 0 4 0a2 2 0 1 0-4 0m2.8 0a2 2 0 1 0 4 0a2 2 0 1 0-4 0m7.4 0a2 2 0 1 0 4 0a2 2 0 1 0-4 0m2.1 0a2 2 0 1 0 4 0a2 2 0 1 0-4 0m2.5 0a2 2 0 1 0 4 0a2 2 0 1 0-4 0m7.3 0a2 2 0 1 0 4 0a2 2 0 1 0-4 0m1.6 0a2 2 0 1 0 4 0a2 2 0 1 0-4 0m4 0a2 2 0 1 0 4 0a2 2 0 1 0-4 0m2.6 0a2 2 0 1 0 4 0a2 2 0 1 0-4 0m2.4 0a2 2 0 1 0 4 0a2 2 0 1 0-4 0m1.7 0a2 2 0 1 0 4 0a2 2 0 1 0-4 0m4.9 0a2 2 0 1 0 4 0a2 2 0 1 0-4 0m0.3 0a2 2 0 1 0 4 0a2 2 0 1 0-4 0m3.2 0a2 2 0 1 0 4 0a2 2 0 1 0-4 0m-64.2 0a2 2 0 1 0 4 0a2 2 0 1 0-4 0m6.2-29a2 2 0 1 0 4 0a2 2 0 1 0-4 0m24.5 0a2 2 0 1 0 4 0a2 2 0 1 0-4 0m2.5 0a2 2 0 1 0 4 0a2 2 0 1 0-4 0m11.3 0a2 2 0 1 0 4 0a2 2 0 1 0-4 0m10.9 0a2 2 0 1 0 4 0a2 2 0 1 0-4 0m5.7 0a2 2 0 1 0 4 0a2 2 0 1 0-4 0m1.1 0a2 2 0 1 0 4 0a2 2 0 1 0-4 0m-46.4-9.7a2 2 0 1 0 4 0a2 2 0 1 0-4 0m16.1 0a2 2 0 1 0 4 0a2 2 0 1 0-4 0m5.1 0a2 2 0 1 0 4 0a2 2 0 1 0-4 0m7.3 0a2 2 0 1 0 4 0a2 2 0 1 0-4 0m6.2 0a2 2 0 1 0 4 0a2 2 0 1 0-4 0m7.3 0a2 2 0 1 0 4 0a2 2 0 1 0-4 0m4.8 0a2 2 0 1 0 4 0a2 2 0 1 0-4 0m3.8 0a2 2 0 1 0 4 0a2 2 0 1 0-4 0m-50.8 6.4a2 2 0 1 0 4 0a2 2 0 1 0-4 0m12.4 0a2 2 0 1 0 4 0a2 2 0 1 0-4 0m29.3 0a2 2 0 1 0 4 0a2 2 0 1 0-4 0m-44.4-29a2 2 0 1 0 4 0a2 2 0 1 0-4 0m37.1 19.4a2 2 0 1 0 4 0a2 2 0 1 0-4 0m6.2 0a2 2 0 1 0 4 0a2 2 0 1 0-4 0m11.3-3.3a2 2 0 1 0 4 0a2 2 0 1 0-4 0m-35.9 0a2 2 0 1 0 4 0a2 2 0 1 0-4 0m21.1 0a2 2 0 1 0 4 0a2 2 0 1 0-4 0m6.9 0a2 2 0 1 0 4 0a2 2 0 1 0-4 0m8 0a2 2 0 1 0 4 0a2 2 0 1 0-4 0m-65.9 9.7a2 2 0 1 0 4 0a2 2 0 1 0-4 0m37.7 0a2 2 0 1 0 4 0a2 2 0 1 0-4 0m20.4 0a2 2 0 1 0 4 0a2 2 0 1 0-4 0m-0.8 0a2 2 0 1 0 4 0a2 2 0 1 0-4 0m9.9-9.7a2 2 0 1 0 4 0a2 2 0 1 0-4 0m1.1 0a2 2 0 1 0 4 0a2 2 0 1 0-4 0m0.9 0a2 2 0 1 0 4 0a2 2 0 1 0-4 0m0.3 0a2 2 0 1 0 4 0a2 2 0 1 0-4 0m0.6 0a2 2 0 1 0 4 0a2 2 0 1 0-4 0m0.9 0a2 2 0 1 0 4 0a2 2 0 1 0-4 0m1.3 0a2 2 0 1 0 4 0a2 2 0 1 0-4 0m0.4 0a2 2 0 1 0 4 0a2 2 0 1 0-4 0m1.4 0a2 2 0 1 0 4 0a2 2 0 1 0-4 0m0.1 0a2 2 0 1 0 4 0a2 2 0 1 0-4 0m-7.2-35.5a2 2 0 1 0 4 0a2 2 0 1 0-4 0m1.9 0a2 2 0 1 0 4 0a2 2 0 1 0-4 0m0.6 0a2 2 0 1 0 4 0a2 2 0 1 0-4 0m2 0a2 2 0 1 0 4 0a2 2 0 1 0-4 0m1 0a2 2 0 1 0 4 0a2 2 0 1 0-4 0m1.1 0a2 2 0 1 0 4 0a2 2 0 1 0-4 0m-6.7 0a2 2 0 1 0 4 0a2 2 0 1 0-4 0m-0.2 42a2 2 0 1 0 4 0a2 2 0 1 0-4 0m0.4 0a2 2 0 1 0 4 0a2 2 0 1 0-4 0m0.7 0a2 2 0 1 0 4 0a2 2 0 1 0-4 0m0.1 0a2 2 0 1 0 4 0a2 2 0 1 0-4 0m0.7 0a2 2 0 1 0 4 0a2 2 0 1 0-4 0m0.2 0a2 2 0 1 0 4 0a2 2 0 1 0-4 0m0.8 0a2 2 0 1 0 4 0a2 2 0 1 0-4 0m0.2 0a2 2 0 1 0 4 0a2 2 0 1 0-4 0m0.3 0a2 2 0 1 0 4 0a2 2 0 1 0-4 0m0.4 0a2 2 0 1 0 4 0a2 2 0 1 0-4 0m0.6 0a2 2 0 1 0 4 0a2 2 0 1 0-4 0m0.5 0a2 2 0 1 0 4 0a2 2 0 1 0-4 0m0.1 0a2 2 0 1 0 4 0a2 2 0 1 0-4 0m0.6 0a2 2 0 1 0 4 0a2 2 0 1 0-4 0m0.7 0a2 2 0 1 0 4 0a2 2 0 1 0-4 0m0.3 0a2 2 0 1 0 4 0a2 2 0 1 0-4 0m0.2 0a2 2 0 1 0 4 0a2 2 0 1 0-4 0m0.6 0a2 2 0 1 0 4 0a2 2 0 1 0-4 0m0.7 0a2 2 0 1 0 4 0a2 2 0 1 0-4 0m-7.6-45.2a2 2 0 1 0 4 0a2 2 0 1 0-4 0m0.7 0a2 2 0 1 0 4 0a2 2 0 1 0-4 0m0.6 0a2 2 0 1 0 4 0a2 2 0 1 0-4 0m1.9 0a2 2 0 1 0 4 0a2 2 0 1 0-4 0m0.1 0a2 2 0 1 0 4 0a2 2 0 1 0-4 0m1 0a2 2 0 1 0 4 0a2 2 0 1 0-4 0m1.6 0a2 2 0 1 0 4 0a2 2 0 1 0-4 0m0.8 0a2 2 0 1 0 4 0a2 2 0 1 0-4 0m-7.3 0a2 2 0 1 0 4 0a2 2 0 1 0-4 0m0.4 22.6a2 2 0 1 0 4 0a2 2 0 1 0-4 0m1.1 0a2 2 0 1 0 4 0a2 2 0 1 0-4 0m0.2 0a2 2 0 1 0 4 0a2 2 0 1 0-4 0m0.6 0a2 2 0 1 0 4 0a2 2 0 1 0-4 0m0.7 0a2 2 0 1 0 4 0a2 2 0 1 0-4 0m1 0a2 2 0 1 0 4 0a2 2 0 1 0-4 0m0.3 0a2 2 0 1 0 4 0a2 2 0 1 0-4 0m0.5 0a2 2 0 1 0 4 0a2 2 0 1 0-4 0m1.1 0a2 2 0 1 0 4 0a2 2 0 1 0-4 0m0.5 0a2 2 0 1 0 4 0a2 2 0 1 0-4 0m0.9 0a2 2 0 1 0 4 0a2 2 0 1 0-4 0m-7.2 0a2 2 0 1 0 4 0a2 2 0 1 0-4 0m1.6-51.6a2 2 0 1 0 4 0a2 2 0 1 0-4 0m3.4 0a2 2 0 1 0 4 0a2 2 0 1 0-4 0m-4.9 0a2 2 0 1 0 4 0a2 2 0 1 0-4 0m7.8 71a2 2 0 1 0 4 0a2 2 0 1 0-4 0m-5.8 0a2 2 0 1 0 4 0a2 2 0 1 0-4 0m0.8 0a2 2 0 1 0 4 0a2 2 0 1 0-4 0m1.2 0a2 2 0 1 0 4 0a2 2 0 1 0-4 0m1.4 0a2 2 0 1 0 4 0a2 2 0 1 0-4 0m1.2 0a2 2 0 1 0 4 0a2 2 0 1 0-4 0m0.6 0a2 2 0 1 0 4 0a2 2 0 1 0-4 0m-7-87.2a2 2 0 1 0 4 0a2 2 0 1 0-4 0m3.1 0a2 2 0 1 0 4 0a2 2 0 1 0-4 0m3.2 0a2 2 0 1 0 4 0a2 2 0 1 0-4 0m-6.8 93.6a2 2 0 1 0 4 0a2 2 0 1 0-4 0m1.1 0a2 2 0 1 0 4 0a2 2 0 1 0-4 0m0.4 0a2 2 0 1 0 4 0a2 2 0 1 0-4 0m1 0a2 2 0 1 0 4 0a2 2 0 1 0-4 0m0.3 0a2 2 0 1 0 4 0a2 2 0 1 0-4 0m1.2 0a2 2 0 1 0 4 0a2 2 0 1 0-4 0m0.3 0a2 2 0 1 0 4 0a2 2 0 1 0-4 0m1.1 0a2 2 0 1 0 4 0a2 2 0 1 0-4 0m0.2 0a2 2 0 1 0 4 0a2 2 0 1 0-4 0m1.1 0a2 2 0 1 0 4 0a2 2 0 1 0-4 0m0 0a2 2 0 1 0 4 0a2 2 0 1 0-4 0m0.8 0a2 2 0 1 0 4 0a2 2 0 1 0-4 0m-7-32.3a2 2 0 1 0 4 0a2 2 0 1 0-4 0m0.9 0a2 2 0 1 0 4 0a2 2 0 1 0-4 0m0.7 0a2 2 0 1 0 4 0a2 2 0 1 0-4 0m1.3 0a2 2 0 1 0 4 0a2 2 0 1 0-4 0m0.9 0a2 2 0 1 0 4 0a2 2 0 1 0-4 0m0.4 0a2 2 0 1 0 4 0a2 2 0 1 0-4 0m1.2 0a2 2 0 1 0 4 0a2 2 0 1 0-4 0m0.4 0a2 2 0 1 0 4 0a2 2 0 1 0-4 0m1.6 0a2 2 0 1 0 4 0a2 2 0 1 0-4 0m0.3 0a2 2 0 1 0 4 0a2 2 0 1 0-4 0m-6.2-19.3a2 2 0 1 0 4 0a2 2 0 1 0-4 0m1.3 0a2 2 0 1 0 4 0a2 2 0 1 0-4 0m0.6 0a2 2 0 1 0 4 0a2 2 0 1 0-4 0m1.9 0a2 2 0 1 0 4 0a2 2 0 1 0-4 0m0.9 0a2 2 0 1 0 4 0a2 2 0 1 0-4 0m-6.4 0a2 2 0 1 0 4 0a2 2 0 1 0-4 0m0.4 61.3a2 2 0 1 0 4 0a2 2 0 1 0-4 0m1.6 0a2 2 0 1 0 4 0a2 2 0 1 0-4 0m0.7 0a2 2 0 1 0 4 0a2 2 0 1 0-4 0m0.8 0a2 2 0 1 0 4 0a2 2 0 1 0-4 0m2.3 0a2 2 0 1 0 4 0a2 2 0 1 0-4 0m1 0a2 2 0 1 0 4 0a2 2 0 1 0-4 0m1.1 0a2 2 0 1 0 4 0a2 2 0 1 0-4 0m-7.9-6.5a2 2 0 1 0 4 0a2 2 0 1 0-4 0m0.6 0a2 2 0 1 0 4 0a2 2 0 1 0-4 0m0.8 0a2 2 0 1 0 4 0a2 2 0 1 0-4 0m0.5 0a2 2 0 1 0 4 0a2 2 0 1 0-4 0m0.7 0a2 2 0 1 0 4 0a2 2 0 1 0-4 0m0.6 0a2 2 0 1 0 4 0a2 2 0 1 0-4 0m0.5 0a2 2 0 1 0 4 0a2 2 0 1 0-4 0m0.4 0a2 2 0 1 0 4 0a2 2 0 1 0-4 0m0.5 0a2 2 0 1 0 4 0a2 2 0 1 0-4 0m0.6 0a2 2 0 1 0 4 0a2 2 0 1 0-4 0m0.5 0a2 2 0 1 0 4 0a2 2 0 1 0-4 0m0.9 0a2 2 0 1 0 4 0a2 2 0 1 0-4 0m0.2 0a2 2 0 1 0 4 0a2 2 0 1 0-4 0m0.6 0a2 2 0 1 0 4 0a2 2 0 1 0-4 0m-7 3.3a2 2 0 1 0 4 0a2 2 0 1 0-4 0m0.2 0a2 2 0 1 0 4 0a2 2 0 1 0-4 0m1.3 0a2 2 0 1 0 4 0a2 2 0 1 0-4 0m1.4 0a2 2 0 1 0 4 0a2 2 0 1 0-4 0m1.2 0a2 2 0 1 0 4 0a2 2 0 1 0-4 0m0.7 0a2 2 0 1 0 4 0a2 2 0 1 0-4 0m1.3 0a2 2 0 1 0 4 0a2 2 0 1 0-4 0m0.3 0a2 2 0 1 0 4 0a2 2 0 1 0-4 0m-6.7 52.8a2 2 0 1 0 4 0a2 2 0 1 0-4 0m0.4 0a2 2 0 1 0 4 0a2 2 0 1 0-4 0m0.5 0a2 2 0 1 0 4 0a2 2 0 1 0-4 0m0.3 0a2 2 0 1 0 4 0a2 2 0 1 0-4 0m0.5 0a2 2 0 1 0 4 0a2 2 0 1 0-4 0m0.6 0a2 2 0 1 0 4 0a2 2 0 1 0-4 0m0.6 0a2 2 0 1 0 4 0a2 2 0 1 0-4 0m0.7 0a2 2 0 1 0 4 0a2 2 0 1 0-4 0m0.6 0a2 2 0 1 0 4 0a2 2 0 1 0-4 0m0.3 0a2 2 0 1 0 4 0a2 2 0 1 0-4 0m0.6 0a2 2 0 1 0 4 0a2 2 0 1 0-4 0m0.2 0a2 2 0 1 0 4 0a2 2 0 1 0-4 0m1 0a2 2 0 1 0 4 0a2 2 0 1 0-4 0m0.2 0a2 2 0 1 0 4 0a2 2 0 1 0-4 0m0.2 0a2 2 0 1 0 4 0a2 2 0 1 0-4 0m0.6 0a2 2 0 1 0 4 0a2 2 0 1 0-4 0m-6.8-36.7a2 2 0 1 0 4 0a2 2 0 1 0-4 0m0.7 0a2 2 0 1 0 4 0a2 2 0 1 0-4 0m0.1 0a2 2 0 1 0 4 0a2 2 0 1 0-4 0m0.9 0a2 2 0 1 0 4 0a2 2 0 1 0-4 0m1.7 0a2 2 0 1 0 4 0a2 2 0 1 0-4 0m0.4 0a2 2 0 1 0 4 0a2 2 0 1 0-4 0m1.5 0a2 2 0 1 0 4 0a2 2 0 1 0-4 0m0.3 0a2 2 0 1 0 4 0a2 2 0 1 0-4 0m0.7 0a2 2 0 1 0 4 0a2 2 0 1 0-4 0m-7.2-51.6a2 2 0 1 0 4 0a2 2 0 1 0-4 0m0.5 0a2 2 0 1 0 4 0a2 2 0 1 0-4 0m0.3 0a2 2 0 1 0 4 0a2 2 0 1 0-4 0m0.9 0a2 2 0 1 0 4 0a2 2 0 1 0-4 0m0.3 0a2 2 0 1 0 4 0a2 2 0 1 0-4 0m0.1 0a2 2 0 1 0 4 0a2 2 0 1 0-4 0m0.8 0a2 2 0 1 0 4 0a2 2 0 1 0-4 0m0.3 0a2 2 0 1 0 4 0a2 2 0 1 0-4 0m0.6 0a2 2 0 1 0 4 0a2 2 0 1 0-4 0m0.4 0a2 2 0 1 0 4 0a2 2 0 1 0-4 0m0.6 0a2 2 0 1 0 4 0a2 2 0 1 0-4 0m0.4 0a2 2 0 1 0 4 0a2 2 0 1 0-4 0m0.6 0a2 2 0 1 0 4 0a2 2 0 1 0-4 0m0.3 0a2 2 0 1 0 4 0a2 2 0 1 0-4 0m0.2 0a2 2 0 1 0 4 0a2 2 0 1 0-4 0m0.9 0a2 2 0 1 0 4 0a2 2 0 1 0-4 0m0.5 0a2 2 0 1 0 4 0a2 2 0 1 0-4 0m0 0a2 2 0 1 0 4 0a2 2 0 1 0-4 0m-6.5-42a2 2 0 1 0 4 0a2 2 0 1 0-4 0m2.9 0a2 2 0 1 0 4 0a2 2 0 1 0-4 0m2.5 0a2 2 0 1 0 4 0a2 2 0 1 0-4 0m-6.3 125.9a2 2 0 1 0 4 0a2 2 0 1 0-4 0m0.9 0a2 2 0 1 0 4 0a2 2 0 1 0-4 0m0.3 0a2 2 0 1 0 4 0a2 2 0 1 0-4 0m0.8 0a2 2 0 1 0 4 0a2 2 0 1 0-4 0m0 0a2 2 0 1 0 4 0a2 2 0 1 0-4 0m1 0a2 2 0 1 0 4 0a2 2 0 1 0-4 0m0.4 0a2 2 0 1 0 4 0a2 2 0 1 0-4 0m0.6 0a2 2 0 1 0 4 0a2 2 0 1 0-4 0m0.1 0a2 2 0 1 0 4 0a2 2 0 1 0-4 0m0.4 0a2 2 0 1 0 4 0a2 2 0 1 0-4 0m0.9 0a2 2 0 1 0 4 0a2 2 0 1 0-4 0m0.2 0a2 2 0 1 0 4 0a2 2 0 1 0-4 0m0.8 0a2 2 0 1 0 4 0a2 2 0 1 0-4 0m0.7 0a2 2 0 1 0 4 0a2 2 0 1 0-4 0m0.1 0a2 2 0 1 0 4 0a2 2 0 1 0-4 0m0.7 0a2 2 0 1 0 4 0a2 2 0 1 0-4 0m-8-16.2a2 2 0 1 0 4 0a2 2 0 1 0-4 0m0.9 0a2 2 0 1 0 4 0a2 2 0 1 0-4 0m0.6 0a2 2 0 1 0 4 0a2 2 0 1 0-4 0m0.5 0a2 2 0 1 0 4 0a2 2 0 1 0-4 0m0.7 0a2 2 0 1 0 4 0a2 2 0 1 0-4 0m0.5 0a2 2 0 1 0 4 0a2 2 0 1 0-4 0m0.3 0a2 2 0 1 0 4 0a2 2 0 1 0-4 0m0.5 0a2 2 0 1 0 4 0a2 2 0 1 0-4 0m0.4 0a2 2 0 1 0 4 0a2 2 0 1 0-4 0m0.7 0a2 2 0 1 0 4 0a2 2 0 1 0-4 0m0.6 0a2 2 0 1 0 4 0a2 2 0 1 0-4 0m0.4 0a2 2 0 1 0 4 0a2 2 0 1 0-4 0m0.6 0a2 2 0 1 0 4 0a2 2 0 1 0-4 0m1 0a2 2 0 1 0 4 0a2 2 0 1 0-4 0m0 0a2 2 0 1 0 4 0a2 2 0 1 0-4 0m-7.1-80.6a2 2 0 1 0 4 0a2 2 0 1 0-4 0m0.4 0a2 2 0 1 0 4 0a2 2 0 1 0-4 0m0.8 0a2 2 0 1 0 4 0a2 2 0 1 0-4 0m0.1 0a2 2 0 1 0 4 0a2 2 0 1 0-4 0m0.9 0a2 2 0 1 0 4 0a2 2 0 1 0-4 0m0.3 0a2 2 0 1 0 4 0a2 2 0 1 0-4 0m1 0a2 2 0 1 0 4 0a2 2 0 1 0-4 0m0.6 0a2 2 0 1 0 4 0a2 2 0 1 0-4 0m0.8 0a2 2 0 1 0 4 0a2 2 0 1 0-4 0m0.7 0a2 2 0 1 0 4 0a2 2 0 1 0-4 0m0.8 0a2 2 0 1 0 4 0a2 2 0 1 0-4 0m0.7 0a2 2 0 1 0 4 0a2 2 0 1 0-4 0m0.2 0a2 2 0 1 0 4 0a2 2 0 1 0-4 0m-7.4 58a2 2 0 1 0 4 0a2 2 0 1 0-4 0m0.3 0a2 2 0 1 0 4 0a2 2 0 1 0-4 0m0.6 0a2 2 0 1 0 4 0a2 2 0 1 0-4 0m1 0a2 2 0 1 0 4 0a2 2 0 1 0-4 0m0.2 0a2 2 0 1 0 4 0a2 2 0 1 0-4 0m1.1 0a2 2 0 1 0 4 0a2 2 0 1 0-4 0m0.8 0a2 2 0 1 0 4 0a2 2 0 1 0-4 0m0.8 0a2 2 0 1 0 4 0a2 2 0 1 0-4 0m0.5 0a2 2 0 1 0 4 0a2 2 0 1 0-4 0m1 0a2 2 0 1 0 4 0a2 2 0 1 0-4 0m0.9 0a2 2 0 1 0 4 0a2 2 0 1 0-4 0m-5.7-38.7a2 2 0 1 0 4 0a2 2 0 1 0-4 0m1.2 0a2 2 0 1 0 4 0a2 2 0 1 0-4 0m1.8 0a2 2 0 1 0 4 0a2 2 0 1 0-4 0m1.9 0a2 2 0 1 0 4 0a2 2 0 1 0-4 0m0.9 0a2 2 0 1 0 4 0a2 2 0 1 0-4 0m-7.8 58.1a2 2 0 1 0 4 0a2 2 0 1 0-4 0m1 0a2 2 0 1 0 4 0a2 2 0 1 0-4 0m0.2 0a2 2 0 1 0 4 0a2 2 0 1 0-4 0m0.9 0a2 2 0 1 0 4 0a2 2 0 1 0-4 0m0.6 0a2 2 0 1 0 4 0a2 2 0 1 0-4 0m0.3 0a2 2 0 1 0 4 0a2 2 0 1 0-4 0m0.4 0a2 2 0 1 0 4 0a2 2 0 1 0-4 0m0.8 0a2 2 0 1 0 4 0a2 2 0 1 0-4 0m0.5 0a2 2 0 1 0 4 0a2 2 0 1 0-4 0m0.7 0a2 2 0 1 0 4 0a2 2 0 1 0-4 0m0.1 0a2 2 0 1 0 4 0a2 2 0 1 0-4 0m0.7 0a2 2 0 1 0 4 0a2 2 0 1 0-4 0m0.7 0a2 2 0 1 0 4 0a2 2 0 1 0-4 0m0.5 0a2 2 0 1 0 4 0a2 2 0 1 0-4 0m0.2 0a2 2 0 1 0 4 0a2 2 0 1 0-4 0m-7.6 16.1a2 2 0 1 0 4 0a2 2 0 1 0-4 0m1 0a2 2 0 1 0 4 0a2 2 0 1 0-4 0m0.2 0a2 2 0 1 0 4 0a2 2 0 1 0-4 0m1 0a2 2 0 1 0 4 0a2 2 0 1 0-4 0m0.7 0a2 2 0 1 0 4 0a2 2 0 1 0-4 0m0.1 0a2 2 0 1 0 4 0a2 2 0 1 0-4 0m1 0a2 2 0 1 0 4 0a2 2 0 1 0-4 0m0.2 0a2 2 0 1 0 4 0a2 2 0 1 0-4 0m0.9 0a2 2 0 1 0 4 0a2 2 0 1 0-4 0m0.7 0a2 2 0 1 0 4 0a2 2 0 1 0-4 0m0.8 0a2 2 0 1 0 4 0a2 2 0 1 0-4 0m0.5 0a2 2 0 1 0 4 0a2 2 0 1 0-4 0m0.2 0a2 2 0 1 0 4 0a2 2 0 1 0-4 0m0.7-32.2a2 2 0 1 0 4 0a2 2 0 1 0-4 0m-7.5 0a2 2 0 1 0 4 0a2 2 0 1 0-4 0m0.9 0a2 2 0 1 0 4 0a2 2 0 1 0-4 0m0.5 0a2 2 0 1 0 4 0a2 2 0 1 0-4 0m0.4 0a2 2 0 1 0 4 0a2 2 0 1 0-4 0m0.6 0a2 2 0 1 0 4 0a2 2 0 1 0-4 0m0.2 0a2 2 0 1 0 4 0a2 2 0 1 0-4 0m0.8 0a2 2 0 1 0 4 0a2 2 0 1 0-4 0m0.3 0a2 2 0 1 0 4 0a2 2 0 1 0-4 0m0.5 0a2 2 0 1 0 4 0a2 2 0 1 0-4 0m1 0a2 2 0 1 0 4 0a2 2 0 1 0-4 0m0.7 0a2 2 0 1 0 4 0a2 2 0 1 0-4 0m0.2 0a2 2 0 1 0 4 0a2 2 0 1 0-4 0m0.6 0a2 2 0 1 0 4 0a2 2 0 1 0-4 0m0.8 0a2 2 0 1 0 4 0a2 2 0 1 0-4 0m-8 25.8a2 2 0 1 0 4 0a2 2 0 1 0-4 0m0.9 0a2 2 0 1 0 4 0a2 2 0 1 0-4 0m0.6 0a2 2 0 1 0 4 0a2 2 0 1 0-4 0m0.5 0a2 2 0 1 0 4 0a2 2 0 1 0-4 0m0.3 0a2 2 0 1 0 4 0a2 2 0 1 0-4 0m1.2 0a2 2 0 1 0 4 0a2 2 0 1 0-4 0m0.2 0a2 2 0 1 0 4 0a2 2 0 1 0-4 0m0.7 0a2 2 0 1 0 4 0a2 2 0 1 0-4 0m0.3 0a2 2 0 1 0 4 0a2 2 0 1 0-4 0m0.6 0a2 2 0 1 0 4 0a2 2 0 1 0-4 0m0.7 0a2 2 0 1 0 4 0a2 2 0 1 0-4 0m0.8 0a2 2 0 1 0 4 0a2 2 0 1 0-4 0m0.1 0a2 2 0 1 0 4 0a2 2 0 1 0-4 0m1 0a2 2 0 1 0 4 0a2 2 0 1 0-4 0m-7.2-12.9a2 2 0 1 0 4 0a2 2 0 1 0-4 0m0.1 0a2 2 0 1 0 4 0a2 2 0 1 0-4 0m0.4 0a2 2 0 1 0 4 0a2 2 0 1 0-4 0m1.1 0a2 2 0 1 0 4 0a2 2 0 1 0-4 0m0.1 0a2 2 0 1 0 4 0a2 2 0 1 0-4 0m1.1 0a2 2 0 1 0 4 0a2 2 0 1 0-4 0m0.4 0a2 2 0 1 0 4 0a2 2 0 1 0-4 0m0.5 0a2 2 0 1 0 4 0a2 2 0 1 0-4 0m0.3 0a2 2 0 1 0 4 0a2 2 0 1 0-4 0m0.8 0a2 2 0 1 0 4 0a2 2 0 1 0-4 0m0.7 0a2 2 0 1 0 4 0a2 2 0 1 0-4 0m0.6 0a2 2 0 1 0 4 0a2 2 0 1 0-4 0m0.4 0a2 2 0 1 0 4 0a2 2 0 1 0-4 0m0.8 0a2 2 0 1 0 4 0a2 2 0 1 0-4 0m-8.2-122.6a2 2 0 1 0 4 0a2 2 0 1 0-4 0m1.8 119.4a2 2 0 1 0 4 0a2 2 0 1 0-4 0m0.2 0a2 2 0 1 0 4 0a2 2 0 1 0-4 0m2.1 0a2 2 0 1 0 4 0a2 2 0 1 0-4 0m1.3 0a2 2 0 1 0 4 0a2 2 0 1 0-4 0m2.6 0a2 2 0 1 0 4 0a2 2 0 1 0-4 0m-6.7-116.2a2 2 0 1 0 4 0a2 2 0 1 0-4 0m0.9 0a2 2 0 1 0 4 0a2 2 0 1 0-4 0m3 0a2 2 0 1 0 4 0a2 2 0 1 0-4 0m-3.8 74.2a2 2 0 1 0 4 0a2 2 0 1 0-4 0m0.5 0a2 2 0 1 0 4 0a2 2 0 1 0-4 0m1.1 0a2 2 0 1 0 4 0a2 2 0 1 0-4 0m1.2 0a2 2 0 1 0 4 0a2 2 0 1 0-4 0m0.6 0a2 2 0 1 0 4 0a2 2 0 1 0-4 0m0.7 0a2 2 0 1 0 4 0a2 2 0 1 0-4 0m1.5 0a2 2 0 1 0 4 0a2 2 0 1 0-4 0m-7 0a2 2 0 1 0 4 0a2 2 0 1 0-4 0m0.5-3.2a2 2 0 1 0 4 0a2 2 0 1 0-4 0m0.4 0a2 2 0 1 0 4 0a2 2 0 1 0-4 0m0.3 0a2 2 0 1 0 4 0a2 2 0 1 0-4 0m0.6 0a2 2 0 1 0 4 0a2 2 0 1 0-4 0m0.5 0a2 2 0 1 0 4 0a2 2 0 1 0-4 0m0.6 0a2 2 0 1 0 4 0a2 2 0 1 0-4 0m0.5 0a2 2 0 1 0 4 0a2 2 0 1 0-4 0m0.4 0a2 2 0 1 0 4 0a2 2 0 1 0-4 0m0.3 0a2 2 0 1 0 4 0a2 2 0 1 0-4 0m0.7 0a2 2 0 1 0 4 0a2 2 0 1 0-4 0m0.3 0a2 2 0 1 0 4 0a2 2 0 1 0-4 0m1 0a2 2 0 1 0 4 0a2 2 0 1 0-4 0m0.4 0a2 2 0 1 0 4 0a2 2 0 1 0-4 0m0.2 0a2 2 0 1 0 4 0a2 2 0 1 0-4 0m0.7 0a2 2 0 1 0 4 0a2 2 0 1 0-4 0m0.3 0a2 2 0 1 0 4 0a2 2 0 1 0-4 0m-7.4-38.7a2 2 0 1 0 4 0a2 2 0 1 0-4 0m5.2 0a2 2 0 1 0 4 0a2 2 0 1 0-4 0m-5.3 112.9a2 2 0 1 0 4 0a2 2 0 1 0-4 0m0.3 0a2 2 0 1 0 4 0a2 2 0 1 0-4 0m1.2 0a2 2 0 1 0 4 0a2 2 0 1 0-4 0m0.7 0a2 2 0 1 0 4 0a2 2 0 1 0-4 0m0.7 0a2 2 0 1 0 4 0a2 2 0 1 0-4 0m0.2 0a2 2 0 1 0 4 0a2 2 0 1 0-4 0m0.7 0a2 2 0 1 0 4 0a2 2 0 1 0-4 0m1.2 0a2 2 0 1 0 4 0a2 2 0 1 0-4 0m0.6 0a2 2 0 1 0 4 0a2 2 0 1 0-4 0m0.3 0a2 2 0 1 0 4 0a2 2 0 1 0-4 0m0.9 0a2 2 0 1 0 4 0a2 2 0 1 0-4 0m0.3 0a2 2 0 1 0 4 0a2 2 0 1 0-4 0m-7.3-9.7a2 2 0 1 0 4 0a2 2 0 1 0-4 0m0.6 0a2 2 0 1 0 4 0a2 2 0 1 0-4 0m0.8 0a2 2 0 1 0 4 0a2 2 0 1 0-4 0m0.9 0a2 2 0 1 0 4 0a2 2 0 1 0-4 0m0.8 0a2 2 0 1 0 4 0a2 2 0 1 0-4 0m0.3 0a2 2 0 1 0 4 0a2 2 0 1 0-4 0m0.8 0a2 2 0 1 0 4 0a2 2 0 1 0-4 0m0.7 0a2 2 0 1 0 4 0a2 2 0 1 0-4 0m1.4 0a2 2 0 1 0 4 0a2 2 0 1 0-4 0m0.2 0a2 2 0 1 0 4 0a2 2 0 1 0-4 0m1 0a2 2 0 1 0 4 0a2 2 0 1 0-4 0m-7.3-87.1a2 2 0 1 0 4 0a2 2 0 1 0-4 0m1.4 0a2 2 0 1 0 4 0a2 2 0 1 0-4 0m1.4 0a2 2 0 1 0 4 0a2 2 0 1 0-4 0m1.1 0a2 2 0 1 0 4 0a2 2 0 1 0-4 0m1.1 0a2 2 0 1 0 4 0a2 2 0 1 0-4 0m0.9 0a2 2 0 1 0 4 0a2 2 0 1 0-4 0m1.3 0a2 2 0 1 0 4 0a2 2 0 1 0-4 0m-6.9 19.4a2 2 0 1 0 4 0a2 2 0 1 0-4 0m1.1 0a2 2 0 1 0 4 0a2 2 0 1 0-4 0m1.8 0a2 2 0 1 0 4 0a2 2 0 1 0-4 0m0.7 0a2 2 0 1 0 4 0a2 2 0 1 0-4 0m0.9 0a2 2 0 1 0 4 0a2 2 0 1 0-4 0m1.1 0a2 2 0 1 0 4 0a2 2 0 1 0-4 0m0.5 0a2 2 0 1 0 4 0a2 2 0 1 0-4 0m-6.3 0a2 2 0 1 0 4 0a2 2 0 1 0-4 0m0.4 61.3a2 2 0 1 0 4 0a2 2 0 1 0-4 0m0.2 0a2 2 0 1 0 4 0a2 2 0 1 0-4 0m1.3 0a2 2 0 1 0 4 0a2 2 0 1 0-4 0m0.3 0a2 2 0 1 0 4 0a2 2 0 1 0-4 0m1 0a2 2 0 1 0 4 0a2 2 0 1 0-4 0m0.6 0a2 2 0 1 0 4 0a2 2 0 1 0-4 0m0.2 0a2 2 0 1 0 4 0a2 2 0 1 0-4 0m0.9 0a2 2 0 1 0 4 0a2 2 0 1 0-4 0m0.4 0a2 2 0 1 0 4 0a2 2 0 1 0-4 0m0.7 0a2 2 0 1 0 4 0a2 2 0 1 0-4 0m0.7 0a2 2 0 1 0 4 0a2 2 0 1 0-4 0m-6.9 0a2 2 0 1 0 4 0a2 2 0 1 0-4 0m1.4-16.2a2 2 0 1 0 4 0a2 2 0 1 0-4 0m0.9 0a2 2 0 1 0 4 0a2 2 0 1 0-4 0m1.8 0a2 2 0 1 0 4 0a2 2 0 1 0-4 0m1.6 0a2 2 0 1 0 4 0a2 2 0 1 0-4 0m1 0a2 2 0 1 0 4 0a2 2 0 1 0-4 0m-5.8-83.9a2 2 0 1 0 4 0a2 2 0 1 0-4 0m2.7 0a2 2 0 1 0 4 0a2 2 0 1 0-4 0m2.5 0a2 2 0 1 0 4 0a2 2 0 1 0-4 0m1.8 0a2 2 0 1 0 4 0a2 2 0 1 0-4 0m-7.8 22.6a2 2 0 1 0 4 0a2 2 0 1 0-4 0m1.2 0a2 2 0 1 0 4 0a2 2 0 1 0-4 0m1.8 0a2 2 0 1 0 4 0a2 2 0 1 0-4 0m0.8 0a2 2 0 1 0 4 0a2 2 0 1 0-4 0m0.8 0a2 2 0 1 0 4 0a2 2 0 1 0-4 0m1.1 0a2 2 0 1 0 4 0a2 2 0 1 0-4 0m1.4 0a2 2 0 1 0 4 0a2 2 0 1 0-4 0m-6.6-29a2 2 0 1 0 4 0a2 2 0 1 0-4 0m2.7 0a2 2 0 1 0 4 0a2 2 0 1 0-4 0m2 0a2 2 0 1 0 4 0a2 2 0 1 0-4 0m2.8 0a2 2 0 1 0 4 0a2 2 0 1 0-4 0m-7.2-9.7a2 2 0 1 0 4 0a2 2 0 1 0-4 0m2.4 0a2 2 0 1 0 4 0a2 2 0 1 0-4 0m2.3 0a2 2 0 1 0 4 0a2 2 0 1 0-4 0m2.2 0a2 2 0 1 0 4 0a2 2 0 1 0-4 0m-7.7 12.9a2 2 0 1 0 4 0a2 2 0 1 0-4 0m1.3 74.2a2 2 0 1 0 4 0a2 2 0 1 0-4 0m0.8 0a2 2 0 1 0 4 0a2 2 0 1 0-4 0m1.8 0a2 2 0 1 0 4 0a2 2 0 1 0-4 0m3.7 0a2 2 0 1 0 4 0a2 2 0 1 0-4 0m0.3-93.5a2 2 0 1 0 4 0a2 2 0 1 0-4 0m-4.3-16.2a2 2 0 1 0 4 0a2 2 0 1 0-4 0m2.7 151.7a2 2 0 1 0 4 0a2 2 0 1 0-4 0m-4.5 0a2 2 0 1 0 4 0a2 2 0 1 0-4 0m0.6 0a2 2 0 1 0 4 0a2 2 0 1 0-4 0m0.4 0a2 2 0 1 0 4 0a2 2 0 1 0-4 0m3.6 0a2 2 0 1 0 4 0a2 2 0 1 0-4 0m-0.3 0a2 2 0 1 0 4 0a2 2 0 1 0-4 0m-4.7 0a2 2 0 1 0 4 0a2 2 0 1 0-4 0m-0.6 0a2 2 0 1 0 4 0a2 2 0 1 0-4 0m5.3 0a2 2 0 1 0 4 0a2 2 0 1 0-4 0m-1.1 0a2 2 0 1 0 4 0a2 2 0 1 0-4 0m1.4 0a2 2 0 1 0 4 0a2 2 0 1 0-4 0m-2.1 0a2 2 0 1 0 4 0a2 2 0 1 0-4 0m-2.8 0a2 2 0 1 0 4 0a2 2 0 1 0-4 0m2 0a2 2 0 1 0 4 0a2 2 0 1 0-4 0m1.2 0a2 2 0 1 0 4 0a2 2 0 1 0-4 0m-3.7 0a2 2 0 1 0 4 0a2 2 0 1 0-4 0m5 0a2 2 0 1 0 4 0a2 2 0 1 0-4 0m-3.6 0a2 2 0 1 0 4 0a2 2 0 1 0-4 0m1 0a2 2 0 1 0 4 0a2 2 0 1 0-4 0m3.8 0a2 2 0 1 0 4 0a2 2 0 1 0-4 0m-4.9 0a2 2 0 1 0 4 0a2 2 0 1 0-4 0m5 0a2 2 0 1 0 4 0a2 2 0 1 0-4 0m-0.5 0a2 2 0 1 0 4 0a2 2 0 1 0-4 0m-3.1 0a2 2 0 1 0 4 0a2 2 0 1 0-4 0m2.1 0a2 2 0 1 0 4 0a2 2 0 1 0-4 0m1.2 0a2 2 0 1 0 4 0a2 2 0 1 0-4 0m-1.4-71a2 2 0 1 0 4 0a2 2 0 1 0-4 0m-5.1 0a2 2 0 1 0 4 0a2 2 0 1 0-4 0m6.7 0a2 2 0 1 0 4 0a2 2 0 1 0-4 0m-6.6 0a2 2 0 1 0 4 0a2 2 0 1 0-4 0m6.8 0a2 2 0 1 0 4 0a2 2 0 1 0-4 0m-5.7 0a2 2 0 1 0 4 0a2 2 0 1 0-4 0m2.7 0a2 2 0 1 0 4 0a2 2 0 1 0-4 0m-2.8 0a2 2 0 1 0 4 0a2 2 0 1 0-4 0m2.1 0a2 2 0 1 0 4 0a2 2 0 1 0-4 0m0.4 0a2 2 0 1 0 4 0a2 2 0 1 0-4 0m0.6 0a2 2 0 1 0 4 0a2 2 0 1 0-4 0m-2.9 0a2 2 0 1 0 4 0a2 2 0 1 0-4 0m-1 0a2 2 0 1 0 4 0a2 2 0 1 0-4 0m4 0a2 2 0 1 0 4 0a2 2 0 1 0-4 0m-2.5 0a2 2 0 1 0 4 0a2 2 0 1 0-4 0m-1.8-6.5a2 2 0 1 0 4 0a2 2 0 1 0-4 0m2.2 0a2 2 0 1 0 4 0a2 2 0 1 0-4 0m3.8 0a2 2 0 1 0 4 0a2 2 0 1 0-4 0m-1.6 0a2 2 0 1 0 4 0a2 2 0 1 0-4 0m1.6 0a2 2 0 1 0 4 0a2 2 0 1 0-4 0m-2.9 0a2 2 0 1 0 4 0a2 2 0 1 0-4 0m-2.7 0a2 2 0 1 0 4 0a2 2 0 1 0-4 0m3.7 0a2 2 0 1 0 4 0a2 2 0 1 0-4 0m-3.3 0a2 2 0 1 0 4 0a2 2 0 1 0-4 0m3.6 0a2 2 0 1 0 4 0a2 2 0 1 0-4 0m2.2-3.2a2 2 0 1 0 4 0a2 2 0 1 0-4 0m-3.8 0a2 2 0 1 0 4 0a2 2 0 1 0-4 0m-1.2 0a2 2 0 1 0 4 0a2 2 0 1 0-4 0m1.6 0a2 2 0 1 0 4 0a2 2 0 1 0-4 0m-3.3 0a2 2 0 1 0 4 0a2 2 0 1 0-4 0m3.2 0a2 2 0 1 0 4 0a2 2 0 1 0-4 0m-3.2 0a2 2 0 1 0 4 0a2 2 0 1 0-4 0m4 0a2 2 0 1 0 4 0a2 2 0 1 0-4 0m-3.1 0a2 2 0 1 0 4 0a2 2 0 1 0-4 0m-0.8 0a2 2 0 1 0 4 0a2 2 0 1 0-4 0m5 0a2 2 0 1 0 4 0a2 2 0 1 0-4 0m-4.9 0a2 2 0 1 0 4 0a2 2 0 1 0-4 0m1.8 0a2 2 0 1 0 4 0a2 2 0 1 0-4 0m4 0a2 2 0 1 0 4 0a2 2 0 1 0-4 0m1 12.9a2 2 0 1 0 4 0a2 2 0 1 0-4 0m-6.2 0a2 2 0 1 0 4 0a2 2 0 1 0-4 0m0.6 0a2 2 0 1 0 4 0a2 2 0 1 0-4 0m0.9 0a2 2 0 1 0 4 0a2 2 0 1 0-4 0m4.7 0a2 2 0 1 0 4 0a2 2 0 1 0-4 0m-4.4 0a2 2 0 1 0 4 0a2 2 0 1 0-4 0m-1.5 0a2 2 0 1 0 4 0a2 2 0 1 0-4 0m-0.9 0a2 2 0 1 0 4 0a2 2 0 1 0-4 0m0 0a2 2 0 1 0 4 0a2 2 0 1 0-4 0m6.9 0a2 2 0 1 0 4 0a2 2 0 1 0-4 0m-3 0a2 2 0 1 0 4 0a2 2 0 1 0-4 0m-0.8 0a2 2 0 1 0 4 0a2 2 0 1 0-4 0m3.2 0a2 2 0 1 0 4 0a2 2 0 1 0-4 0m-5.4 0a2 2 0 1 0 4 0a2 2 0 1 0-4 0m0.6 0a2 2 0 1 0 4 0a2 2 0 1 0-4 0m5.3 0a2 2 0 1 0 4 0a2 2 0 1 0-4 0m-0.4 0a2 2 0 1 0 4 0a2 2 0 1 0-4 0m-3.9 0a2 2 0 1 0 4 0a2 2 0 1 0-4 0m1.5 0a2 2 0 1 0 4 0a2 2 0 1 0-4 0m1.8 0a2 2 0 1 0 4 0a2 2 0 1 0-4 0m-2.3 0a2 2 0 1 0 4 0a2 2 0 1 0-4 0m-2.7 6.5a2 2 0 1 0 4 0a2 2 0 1 0-4 0m0.3 0a2 2 0 1 0 4 0a2 2 0 1 0-4 0m4.2 0a2 2 0 1 0 4 0a2 2 0 1 0-4 0m-4.3 0a2 2 0 1 0 4 0a2 2 0 1 0-4 0m2 0a2 2 0 1 0 4 0a2 2 0 1 0-4 0m-1 0a2 2 0 1 0 4 0a2 2 0 1 0-4 0m0.7 0a2 2 0 1 0 4 0a2 2 0 1 0-4 0m2.4 0a2 2 0 1 0 4 0a2 2 0 1 0-4 0m-4.6 0a2 2 0 1 0 4 0a2 2 0 1 0-4 0m-0.1 0a2 2 0 1 0 4 0a2 2 0 1 0-4 0m0.9 0a2 2 0 1 0 4 0a2 2 0 1 0-4 0m-0.1 0a2 2 0 1 0 4 0a2 2 0 1 0-4 0m5.5 0a2 2 0 1 0 4 0a2 2 0 1 0-4 0m-5.4 0a2 2 0 1 0 4 0a2 2 0 1 0-4 0m4.3 0a2 2 0 1 0 4 0a2 2 0 1 0-4 0m-1.4 0a2 2 0 1 0 4 0a2 2 0 1 0-4 0m-1.1 9.6a2 2 0 1 0 4 0a2 2 0 1 0-4 0m3.6 0a2 2 0 1 0 4 0a2 2 0 1 0-4 0m-3.8 0a2 2 0 1 0 4 0a2 2 0 1 0-4 0m2.5 0a2 2 0 1 0 4 0a2 2 0 1 0-4 0m-5 0a2 2 0 1 0 4 0a2 2 0 1 0-4 0m3.1 0a2 2 0 1 0 4 0a2 2 0 1 0-4 0m1.2 0a2 2 0 1 0 4 0a2 2 0 1 0-4 0m-2.4 0a2 2 0 1 0 4 0a2 2 0 1 0-4 0m2.8 0a2 2 0 1 0 4 0a2 2 0 1 0-4 0m-1.8 0a2 2 0 1 0 4 0a2 2 0 1 0-4 0m-3.5 0a2 2 0 1 0 4 0a2 2 0 1 0-4 0m0 0a2 2 0 1 0 4 0a2 2 0 1 0-4 0m1.5 0a2 2 0 1 0 4 0a2 2 0 1 0-4 0m1.4 16.2a2 2 0 1 0 4 0a2 2 0 1 0-4 0m0.4 0a2 2 0 1 0 4 0a2 2 0 1 0-4 0m-0.3 0a2 2 0 1 0 4 0a2 2 0 1 0-4 0m-3.1 0a2 2 0 1 0 4 0a2 2 0 1 0-4 0m3.9 0a2 2 0 1 0 4 0a2 2 0 1 0-4 0m1.3 0a2 2 0 1 0 4 0a2 2 0 1 0-4 0m0 0a2 2 0 1 0 4 0a2 2 0 1 0-4 0m-1.7 0a2 2 0 1 0 4 0a2 2 0 1 0-4 0m-1.5 0a2 2 0 1 0 4 0a2 2 0 1 0-4 0m-1.3 29a2 2 0 1 0 4 0a2 2 0 1 0-4 0m4.8 0a2 2 0 1 0 4 0a2 2 0 1 0-4 0m1.5 0a2 2 0 1 0 4 0a2 2 0 1 0-4 0m-3.3 0a2 2 0 1 0 4 0a2 2 0 1 0-4 0m-0.4 0a2 2 0 1 0 4 0a2 2 0 1 0-4 0m3.8 0a2 2 0 1 0 4 0a2 2 0 1 0-4 0m-2.5 0a2 2 0 1 0 4 0a2 2 0 1 0-4 0m0.1 0a2 2 0 1 0 4 0a2 2 0 1 0-4 0m0 0a2 2 0 1 0 4 0a2 2 0 1 0-4 0m-1.6 0a2 2 0 1 0 4 0a2 2 0 1 0-4 0m-0.5 0a2 2 0 1 0 4 0a2 2 0 1 0-4 0m4 0a2 2 0 1 0 4 0a2 2 0 1 0-4 0m0.1 0a2 2 0 1 0 4 0a2 2 0 1 0-4 0m-6.2 0a2 2 0 1 0 4 0a2 2 0 1 0-4 0m1.5-51.6a2 2 0 1 0 4 0a2 2 0 1 0-4 0m5.2 0a2 2 0 1 0 4 0a2 2 0 1 0-4 0m-7 0a2 2 0 1 0 4 0a2 2 0 1 0-4 0m3.1 0a2 2 0 1 0 4 0a2 2 0 1 0-4 0m-0.7 0a2 2 0 1 0 4 0a2 2 0 1 0-4 0m3.8 0a2 2 0 1 0 4 0a2 2 0 1 0-4 0m-3.5 0a2 2 0 1 0 4 0a2 2 0 1 0-4 0m-2.8 0a2 2 0 1 0 4 0a2 2 0 1 0-4 0m0.9 0a2 2 0 1 0 4 0a2 2 0 1 0-4 0m5 0a2 2 0 1 0 4 0a2 2 0 1 0-4 0m-3.1 0a2 2 0 1 0 4 0a2 2 0 1 0-4 0m-1.6 0a2 2 0 1 0 4 0a2 2 0 1 0-4 0m-0.7 0a2 2 0 1 0 4 0a2 2 0 1 0-4 0m3.5 41.9a2 2 0 1 0 4 0a2 2 0 1 0-4 0m-1.2 0a2 2 0 1 0 4 0a2 2 0 1 0-4 0m0 0a2 2 0 1 0 4 0a2 2 0 1 0-4 0m2 0a2 2 0 1 0 4 0a2 2 0 1 0-4 0m2.2 0a2 2 0 1 0 4 0a2 2 0 1 0-4 0m-7.1 0a2 2 0 1 0 4 0a2 2 0 1 0-4 0m3.1 0a2 2 0 1 0 4 0a2 2 0 1 0-4 0m3.8 0a2 2 0 1 0 4 0a2 2 0 1 0-4 0m-4.2 0a2 2 0 1 0 4 0a2 2 0 1 0-4 0m-2.2 0a2 2 0 1 0 4 0a2 2 0 1 0-4 0m-0.2 0a2 2 0 1 0 4 0a2 2 0 1 0-4 0m0.5 12.9a2 2 0 1 0 4 0a2 2 0 1 0-4 0m6.2 0a2 2 0 1 0 4 0a2 2 0 1 0-4 0m-3.2 0a2 2 0 1 0 4 0a2 2 0 1 0-4 0m0.2 0a2 2 0 1 0 4 0a2 2 0 1 0-4 0m3.3 0a2 2 0 1 0 4 0a2 2 0 1 0-4 0m-2.8 0a2 2 0 1 0 4 0a2 2 0 1 0-4 0m0.8 0a2 2 0 1 0 4 0a2 2 0 1 0-4 0m0.3 0a2 2 0 1 0 4 0a2 2 0 1 0-4 0m0.6 0a2 2 0 1 0 4 0a2 2 0 1 0-4 0m-4.5 0a2 2 0 1 0 4 0a2 2 0 1 0-4 0m2.7-29a2 2 0 1 0 4 0a2 2 0 1 0-4 0m-3.1 0a2 2 0 1 0 4 0a2 2 0 1 0-4 0m0 0a2 2 0 1 0 4 0a2 2 0 1 0-4 0m-0.9 0a2 2 0 1 0 4 0a2 2 0 1 0-4 0m4.3 0a2 2 0 1 0 4 0a2 2 0 1 0-4 0m1.8 0a2 2 0 1 0 4 0a2 2 0 1 0-4 0m-2.2 0a2 2 0 1 0 4 0a2 2 0 1 0-4 0m1 0a2 2 0 1 0 4 0a2 2 0 1 0-4 0m-1.9 0a2 2 0 1 0 4 0a2 2 0 1 0-4 0m3.6 0a2 2 0 1 0 4 0a2 2 0 1 0-4 0m-6 0a2 2 0 1 0 4 0a2 2 0 1 0-4 0m0.1 0a2 2 0 1 0 4 0a2 2 0 1 0-4 0m4.9 0a2 2 0 1 0 4 0a2 2 0 1 0-4 0m0 0a2 2 0 1 0 4 0a2 2 0 1 0-4 0m-4.8 0a2 2 0 1 0 4 0a2 2 0 1 0-4 0m-0.2-6.5a2 2 0 1 0 4 0a2 2 0 1 0-4 0m3.6 0a2 2 0 1 0 4 0a2 2 0 1 0-4 0m-3.8 0a2 2 0 1 0 4 0a2 2 0 1 0-4 0m1.5 0a2 2 0 1 0 4 0a2 2 0 1 0-4 0m1.4 0a2 2 0 1 0 4 0a2 2 0 1 0-4 0m1.1 0a2 2 0 1 0 4 0a2 2 0 1 0-4 0m0.7 0a2 2 0 1 0 4 0a2 2 0 1 0-4 0m-2.3 0a2 2 0 1 0 4 0a2 2 0 1 0-4 0m0.4 0a2 2 0 1 0 4 0a2 2 0 1 0-4 0m3.1 0a2 2 0 1 0 4 0a2 2 0 1 0-4 0m-2.1 0a2 2 0 1 0 4 0a2 2 0 1 0-4 0m1.9-25.8a2 2 0 1 0 4 0a2 2 0 1 0-4 0m0.6 0a2 2 0 1 0 4 0a2 2 0 1 0-4 0m-3.7 0a2 2 0 1 0 4 0a2 2 0 1 0-4 0m-0.9 0a2 2 0 1 0 4 0a2 2 0 1 0-4 0m1.7 0a2 2 0 1 0 4 0a2 2 0 1 0-4 0m-2.8 0a2 2 0 1 0 4 0a2 2 0 1 0-4 0m3.6 0a2 2 0 1 0 4 0a2 2 0 1 0-4 0m-2.7 0a2 2 0 1 0 4 0a2 2 0 1 0-4 0m-0.2 0a2 2 0 1 0 4 0a2 2 0 1 0-4 0m4 0a2 2 0 1 0 4 0a2 2 0 1 0-4 0m-3.4 0a2 2 0 1 0 4 0a2 2 0 1 0-4 0m3.9 0a2 2 0 1 0 4 0a2 2 0 1 0-4 0m-3.2 0a2 2 0 1 0 4 0a2 2 0 1 0-4 0m1.3 0a2 2 0 1 0 4 0a2 2 0 1 0-4 0m1.4 0a2 2 0 1 0 4 0a2 2 0 1 0-4 0m-2.1 0a2 2 0 1 0 4 0a2 2 0 1 0-4 0m0.5 0a2 2 0 1 0 4 0a2 2 0 1 0-4 0m1.4 0a2 2 0 1 0 4 0a2 2 0 1 0-4 0m0.4 16.2a2 2 0 1 0 4 0a2 2 0 1 0-4 0m-3.2 0a2 2 0 1 0 4 0a2 2 0 1 0-4 0m4 0a2 2 0 1 0 4 0a2 2 0 1 0-4 0m-5.1 0a2 2 0 1 0 4 0a2 2 0 1 0-4 0m4.6 0a2 2 0 1 0 4 0a2 2 0 1 0-4 0m0.7 0a2 2 0 1 0 4 0a2 2 0 1 0-4 0m-3 0a2 2 0 1 0 4 0a2 2 0 1 0-4 0m-2.3 0a2 2 0 1 0 4 0a2 2 0 1 0-4 0m0.5-35.5a2 2 0 1 0 4 0a2 2 0 1 0-4 0m-0.4 0a2 2 0 1 0 4 0a2 2 0 1 0-4 0m1.1 0a2 2 0 1 0 4 0a2 2 0 1 0-4 0m-2.4 0a2 2 0 1 0 4 0a2 2 0 1 0-4 0m1.9 0a2 2 0 1 0 4 0a2 2 0 1 0-4 0m3 0a2 2 0 1 0 4 0a2 2 0 1 0-4 0m-4.8 0a2 2 0 1 0 4 0a2 2 0 1 0-4 0m5.1 0a2 2 0 1 0 4 0a2 2 0 1 0-4 0m-2.2 0a2 2 0 1 0 4 0a2 2 0 1 0-4 0m-1.9 0a2 2 0 1 0 4 0a2 2 0 1 0-4 0m1.6 0a2 2 0 1 0 4 0a2 2 0 1 0-4 0m-0.4 0a2 2 0 1 0 4 0a2 2 0 1 0-4 0m-1.1 64.5a2 2 0 1 0 4 0a2 2 0 1 0-4 0m1.5 0a2 2 0 1 0 4 0a2 2 0 1 0-4 0m2.5 0a2 2 0 1 0 4 0a2 2 0 1 0-4 0m-4.2 0a2 2 0 1 0 4 0a2 2 0 1 0-4 0m3.5 0a2 2 0 1 0 4 0a2 2 0 1 0-4 0m-4.9 0a2 2 0 1 0 4 0a2 2 0 1 0-4 0m-0.3 0a2 2 0 1 0 4 0a2 2 0 1 0-4 0m1.1 0a2 2 0 1 0 4 0a2 2 0 1 0-4 0m4.8 0a2 2 0 1 0 4 0a2 2 0 1 0-4 0m-2.9 0a2 2 0 1 0 4 0a2 2 0 1 0-4 0m0.2 0a2 2 0 1 0 4 0a2 2 0 1 0-4 0m0.4 0a2 2 0 1 0 4 0a2 2 0 1 0-4 0m1.8 0a2 2 0 1 0 4 0a2 2 0 1 0-4 0m-3.6-54.8a2 2 0 1 0 4 0a2 2 0 1 0-4 0m4.5 0a2 2 0 1 0 4 0a2 2 0 1 0-4 0m0.2 0a2 2 0 1 0 4 0a2 2 0 1 0-4 0m-5.6 0a2 2 0 1 0 4 0a2 2 0 1 0-4 0m-0.7 0a2 2 0 1 0 4 0a2 2 0 1 0-4 0m5.2 0a2 2 0 1 0 4 0a2 2 0 1 0-4 0m-5.4 0a2 2 0 1 0 4 0a2 2 0 1 0-4 0m6.2 0a2 2 0 1 0 4 0a2 2 0 1 0-4 0m-5.1 0a2 2 0 1 0 4 0a2 2 0 1 0-4 0m5 0a2 2 0 1 0 4 0a2 2 0 1 0-4 0m0.8 0a2 2 0 1 0 4 0a2 2 0 1 0-4 0m-0.8 0a2 2 0 1 0 4 0a2 2 0 1 0-4 0m0.3 0a2 2 0 1 0 4 0a2 2 0 1 0-4 0m-3.8 0a2 2 0 1 0 4 0a2 2 0 1 0-4 0m-1.1 29a2 2 0 1 0 4 0a2 2 0 1 0-4 0m2.9 0a2 2 0 1 0 4 0a2 2 0 1 0-4 0m-1 0a2 2 0 1 0 4 0a2 2 0 1 0-4 0m2.5 0a2 2 0 1 0 4 0a2 2 0 1 0-4 0m0.7 0a2 2 0 1 0 4 0a2 2 0 1 0-4 0m0.4 0a2 2 0 1 0 4 0a2 2 0 1 0-4 0m-6.3 0a2 2 0 1 0 4 0a2 2 0 1 0-4 0m3.5 0a2 2 0 1 0 4 0a2 2 0 1 0-4 0m1.3 0a2 2 0 1 0 4 0a2 2 0 1 0-4 0m-2.9 0a2 2 0 1 0 4 0a2 2 0 1 0-4 0m-1.2 0a2 2 0 1 0 4 0a2 2 0 1 0-4 0m4.9 0a2 2 0 1 0 4 0a2 2 0 1 0-4 0m-3.7 0a2 2 0 1 0 4 0a2 2 0 1 0-4 0m-1.3 0a2 2 0 1 0 4 0a2 2 0 1 0-4 0m1.3 0a2 2 0 1 0 4 0a2 2 0 1 0-4 0m3.7 0a2 2 0 1 0 4 0a2 2 0 1 0-4 0m-1.8 0a2 2 0 1 0 4 0a2 2 0 1 0-4 0m-2.4 3.2a2 2 0 1 0 4 0a2 2 0 1 0-4 0m3.4 0a2 2 0 1 0 4 0a2 2 0 1 0-4 0m-1.4 0a2 2 0 1 0 4 0a2 2 0 1 0-4 0m1.9 0a2 2 0 1 0 4 0a2 2 0 1 0-4 0m-1.6 0a2 2 0 1 0 4 0a2 2 0 1 0-4 0m-3.4 0a2 2 0 1 0 4 0a2 2 0 1 0-4 0m-0.4 0a2 2 0 1 0 4 0a2 2 0 1 0-4 0m0.7 0a2 2 0 1 0 4 0a2 2 0 1 0-4 0m2.7 0a2 2 0 1 0 4 0a2 2 0 1 0-4 0m-0.3 0a2 2 0 1 0 4 0a2 2 0 1 0-4 0m3.4 0a2 2 0 1 0 4 0a2 2 0 1 0-4 0m-7.2-45.2a2 2 0 1 0 4 0a2 2 0 1 0-4 0m1.5 0a2 2 0 1 0 4 0a2 2 0 1 0-4 0m1.3 0a2 2 0 1 0 4 0a2 2 0 1 0-4 0m-2.5 0a2 2 0 1 0 4 0a2 2 0 1 0-4 0m6.5 0a2 2 0 1 0 4 0a2 2 0 1 0-4 0m0.3 0a2 2 0 1 0 4 0a2 2 0 1 0-4 0m-2.6 0a2 2 0 1 0 4 0a2 2 0 1 0-4 0m0.5 0a2 2 0 1 0 4 0a2 2 0 1 0-4 0m-2 74.3a2 2 0 1 0 4 0a2 2 0 1 0-4 0m0.9 0a2 2 0 1 0 4 0a2 2 0 1 0-4 0m-3.4 0a2 2 0 1 0 4 0a2 2 0 1 0-4 0m1.9 0a2 2 0 1 0 4 0a2 2 0 1 0-4 0m-0.1 0a2 2 0 1 0 4 0a2 2 0 1 0-4 0m-0.3 0a2 2 0 1 0 4 0a2 2 0 1 0-4 0m-0.8 0a2 2 0 1 0 4 0a2 2 0 1 0-4 0m5.5 0a2 2 0 1 0 4 0a2 2 0 1 0-4 0m-5.2 0a2 2 0 1 0 4 0a2 2 0 1 0-4 0m-1.3 0a2 2 0 1 0 4 0a2 2 0 1 0-4 0m5 0a2 2 0 1 0 4 0a2 2 0 1 0-4 0m1.8-42a2 2 0 1 0 4 0a2 2 0 1 0-4 0m-6.3 0a2 2 0 1 0 4 0a2 2 0 1 0-4 0m6.4 0a2 2 0 1 0 4 0a2 2 0 1 0-4 0m-2.7 0a2 2 0 1 0 4 0a2 2 0 1 0-4 0m-0.9 0a2 2 0 1 0 4 0a2 2 0 1 0-4 0m0.3 0a2 2 0 1 0 4 0a2 2 0 1 0-4 0m0 0a2 2 0 1 0 4 0a2 2 0 1 0-4 0m-2.5 0a2 2 0 1 0 4 0a2 2 0 1 0-4 0m4.4 0a2 2 0 1 0 4 0a2 2 0 1 0-4 0m-1.8 0a2 2 0 1 0 4 0a2 2 0 1 0-4 0m0.6 0a2 2 0 1 0 4 0a2 2 0 1 0-4 0m1.3-38.7a2 2 0 1 0 4 0a2 2 0 1 0-4 0m-5.8 0a2 2 0 1 0 4 0a2 2 0 1 0-4 0m2.1 0a2 2 0 1 0 4 0a2 2 0 1 0-4 0m-1.5 0a2 2 0 1 0 4 0a2 2 0 1 0-4 0m4.9 0a2 2 0 1 0 4 0a2 2 0 1 0-4 0m-3.6 0a2 2 0 1 0 4 0a2 2 0 1 0-4 0m3.7 64.5a2 2 0 1 0 4 0a2 2 0 1 0-4 0m-3.8 0a2 2 0 1 0 4 0a2 2 0 1 0-4 0m-1.2 0a2 2 0 1 0 4 0a2 2 0 1 0-4 0m2.9 0a2 2 0 1 0 4 0a2 2 0 1 0-4 0m-2.3 0a2 2 0 1 0 4 0a2 2 0 1 0-4 0m4 0a2 2 0 1 0 4 0a2 2 0 1 0-4 0m-2.1 0a2 2 0 1 0 4 0a2 2 0 1 0-4 0m-2.2 0a2 2 0 1 0 4 0a2 2 0 1 0-4 0m5.5 0a2 2 0 1 0 4 0a2 2 0 1 0-4 0m-6.3 0a2 2 0 1 0 4 0a2 2 0 1 0-4 0m1.4 19.4a2 2 0 1 0 4 0a2 2 0 1 0-4 0m3 0a2 2 0 1 0 4 0a2 2 0 1 0-4 0m-0.7 0a2 2 0 1 0 4 0a2 2 0 1 0-4 0m2 0a2 2 0 1 0 4 0a2 2 0 1 0-4 0m-2.9 0a2 2 0 1 0 4 0a2 2 0 1 0-4 0m-0.8 0a2 2 0 1 0 4 0a2 2 0 1 0-4 0m4.4 0a2 2 0 1 0 4 0a2 2 0 1 0-4 0m-3.7 0a2 2 0 1 0 4 0a2 2 0 1 0-4 0m1.5 0a2 2 0 1 0 4 0a2 2 0 1 0-4 0m0.2 0a2 2 0 1 0 4 0a2 2 0 1 0-4 0m-3.3 0a2 2 0 1 0 4 0a2 2 0 1 0-4 0m3.3 0a2 2 0 1 0 4 0a2 2 0 1 0-4 0m2.5-12.9a2 2 0 1 0 4 0a2 2 0 1 0-4 0m-1.7 0a2 2 0 1 0 4 0a2 2 0 1 0-4 0m-1.9 0a2 2 0 1 0 4 0a2 2 0 1 0-4 0m2.5 0a2 2 0 1 0 4 0a2 2 0 1 0-4 0m0.2 0a2 2 0 1 0 4 0a2 2 0 1 0-4 0m-1.7 0a2 2 0 1 0 4 0a2 2 0 1 0-4 0m-0.4 0a2 2 0 1 0 4 0a2 2 0 1 0-4 0m-1.3 0a2 2 0 1 0 4 0a2 2 0 1 0-4 0m4.1 0a2 2 0 1 0 4 0a2 2 0 1 0-4 0m-6 0a2 2 0 1 0 4 0a2 2 0 1 0-4 0m-0.4 0a2 2 0 1 0 4 0a2 2 0 1 0-4 0m2.4 0a2 2 0 1 0 4 0a2 2 0 1 0-4 0m-1.6 0a2 2 0 1 0 4 0a2 2 0 1 0-4 0m0.1 0a2 2 0 1 0 4 0a2 2 0 1 0-4 0m3 0a2 2 0 1 0 4 0a2 2 0 1 0-4 0m1.2-3.2a2 2 0 1 0 4 0a2 2 0 1 0-4 0m-3.3 0a2 2 0 1 0 4 0a2 2 0 1 0-4 0m2.9 0a2 2 0 1 0 4 0a2 2 0 1 0-4 0m-3.9 0a2 2 0 1 0 4 0a2 2 0 1 0-4 0m3.7 0a2 2 0 1 0 4 0a2 2 0 1 0-4 0m-0.9 0a2 2 0 1 0 4 0a2 2 0 1 0-4 0m2.5 0a2 2 0 1 0 4 0a2 2 0 1 0-4 0m-0.8 0a2 2 0 1 0 4 0a2 2 0 1 0-4 0m-4.7 0a2 2 0 1 0 4 0a2 2 0 1 0-4 0m2.5 0a2 2 0 1 0 4 0a2 2 0 1 0-4 0m0.4 0a2 2 0 1 0 4 0a2 2 0 1 0-4 0m-2.2 0a2 2 0 1 0 4 0a2 2 0 1 0-4 0m1.3 0a2 2 0 1 0 4 0a2 2 0 1 0-4 0m3.6 0a2 2 0 1 0 4 0a2 2 0 1 0-4 0m0.2 29a2 2 0 1 0 4 0a2 2 0 1 0-4 0m-1.8 0a2 2 0 1 0 4 0a2 2 0 1 0-4 0m2 0a2 2 0 1 0 4 0a2 2 0 1 0-4 0m-0.7 0a2 2 0 1 0 4 0a2 2 0 1 0-4 0m-5.6 0a2 2 0 1 0 4 0a2 2 0 1 0-4 0m3.4 0a2 2 0 1 0 4 0a2 2 0 1 0-4 0m0.5 0a2 2 0 1 0 4 0a2 2 0 1 0-4 0m1.7 0a2 2 0 1 0 4 0a2 2 0 1 0-4 0m-1.1 0a2 2 0 1 0 4 0a2 2 0 1 0-4 0m1.2 0a2 2 0 1 0 4 0a2 2 0 1 0-4 0m-2.9 0a2 2 0 1 0 4 0a2 2 0 1 0-4 0m-1 0a2 2 0 1 0 4 0a2 2 0 1 0-4 0m3.3-93.6a2 2 0 1 0 4 0a2 2 0 1 0-4 0m-4.9 0a2 2 0 1 0 4 0a2 2 0 1 0-4 0m0.5 0a2 2 0 1 0 4 0a2 2 0 1 0-4 0m2.1 0a2 2 0 1 0 4 0a2 2 0 1 0-4 0m2.4 94.8a2 2 0 1 0 4 0a2 2 0 1 0-4 0m-2.9 0a2 2 0 1 0 4 0a2 2 0 1 0-4 0m0.4 0a2 2 0 1 0 4 0a2 2 0 1 0-4 0m-1.7 0a2 2 0 1 0 4 0a2 2 0 1 0-4 0m-0.7 0a2 2 0 1 0 4 0a2 2 0 1 0-4 0m3 0a2 2 0 1 0 4 0a2 2 0 1 0-4 0m-2.4-7.7a2 2 0 1 0 4 0a2 2 0 1 0-4 0m-0.9 0a2 2 0 1 0 4 0a2 2 0 1 0-4 0m1.9 0a2 2 0 1 0 4 0a2 2 0 1 0-4 0m-0.8 0a2 2 0 1 0 4 0a2 2 0 1 0-4 0m-2.3 0a2 2 0 1 0 4 0a2 2 0 1 0-4 0m2 0a2 2 0 1 0 4 0a2 2 0 1 0-4 0m-3 0a2 2 0 1 0 4 0a2 2 0 1 0-4 0m2.1 0a2 2 0 1 0 4 0a2 2 0 1 0-4 0m2.1 0a2 2 0 1 0 4 0a2 2 0 1 0-4 0m-3.5 0a2 2 0 1 0 4 0a2 2 0 1 0-4 0m3.6 0a2 2 0 1 0 4 0a2 2 0 1 0-4 0m-1.2 0a2 2 0 1 0 4 0a2 2 0 1 0-4 0m0 0a2 2 0 1 0 4 0a2 2 0 1 0-4 0m-2.9 0a2 2 0 1 0 4 0a2 2 0 1 0-4 0m1.1-16.1a2 2 0 1 0 4 0a2 2 0 1 0-4 0m0.6 0a2 2 0 1 0 4 0a2 2 0 1 0-4 0m-0.2 0a2 2 0 1 0 4 0a2 2 0 1 0-4 0m2.2 0a2 2 0 1 0 4 0a2 2 0 1 0-4 0m-2 0a2 2 0 1 0 4 0a2 2 0 1 0-4 0m-0.1 0a2 2 0 1 0 4 0a2 2 0 1 0-4 0m3.2 0a2 2 0 1 0 4 0a2 2 0 1 0-4 0m-3.3 0a2 2 0 1 0 4 0a2 2 0 1 0-4 0m1.9 0a2 2 0 1 0 4 0a2 2 0 1 0-4 0m-0.5 0a2 2 0 1 0 4 0a2 2 0 1 0-4 0m-0.6 0a2 2 0 1 0 4 0a2 2 0 1 0-4 0m-0.4 0a2 2 0 1 0 4 0a2 2 0 1 0-4 0m1 3.2a2 2 0 1 0 4 0a2 2 0 1 0-4 0m-1.5 0a2 2 0 1 0 4 0a2 2 0 1 0-4 0m1.4 0a2 2 0 1 0 4 0a2 2 0 1 0-4 0m-1 0a2 2 0 1 0 4 0a2 2 0 1 0-4 0m1.3 0a2 2 0 1 0 4 0a2 2 0 1 0-4 0m-2.2 0a2 2 0 1 0 4 0a2 2 0 1 0-4 0m2.5-22.6a2 2 0 1 0 4 0a2 2 0 1 0-4 0m0 0a2 2 0 1 0 4 0a2 2 0 1 0-4 0m-3.3 0a2 2 0 1 0 4 0a2 2 0 1 0-4 0m2.1 16.2a2 2 0 1 0 4 0a2 2 0 1 0-4 0m2 0a2 2 0 1 0 4 0a2 2 0 1 0-4 0m-4 0a2 2 0 1 0 4 0a2 2 0 1 0-4 0m-0.7 0a2 2 0 1 0 4 0a2 2 0 1 0-4 0m3.5 0a2 2 0 1 0 4 0a2 2 0 1 0-4 0m-3.1 0a2 2 0 1 0 4 0a2 2 0 1 0-4 0m2.9 0a2 2 0 1 0 4 0a2 2 0 1 0-4 0m0.4 0a2 2 0 1 0 4 0a2 2 0 1 0-4 0m-2 25.8a2 2 0 1 0 4 0a2 2 0 1 0-4 0m-2.2 0a2 2 0 1 0 4 0a2 2 0 1 0-4 0m3.8 0a2 2 0 1 0 4 0a2 2 0 1 0-4 0m-3.4 0a2 2 0 1 0 4 0a2 2 0 1 0-4 0m-0.4 0a2 2 0 1 0 4 0a2 2 0 1 0-4 0m0.4 0a2 2 0 1 0 4 0a2 2 0 1 0-4 0m3.3 0a2 2 0 1 0 4 0a2 2 0 1 0-4 0m0.9 0a2 2 0 1 0 4 0a2 2 0 1 0-4 0m-1.8 0a2 2 0 1 0 4 0a2 2 0 1 0-4 0m0.6 0a2 2 0 1 0 4 0a2 2 0 1 0-4 0m-1 0a2 2 0 1 0 4 0a2 2 0 1 0-4 0m-1.1-32.3a2 2 0 1 0 4 0a2 2 0 1 0-4 0m2.5 0a2 2 0 1 0 4 0a2 2 0 1 0-4 0m0.4 0a2 2 0 1 0 4 0a2 2 0 1 0-4 0m1.6 0a2 2 0 1 0 4 0a2 2 0 1 0-4 0m-2.5 0a2 2 0 1 0 4 0a2 2 0 1 0-4 0m0.1 0a2 2 0 1 0 4 0a2 2 0 1 0-4 0m-0.1 0a2 2 0 1 0 4 0a2 2 0 1 0-4 0m-0.3 0a2 2 0 1 0 4 0a2 2 0 1 0-4 0m-0.4 29.1a2 2 0 1 0 4 0a2 2 0 1 0-4 0m1.5 0a2 2 0 1 0 4 0a2 2 0 1 0-4 0m-1.6 0a2 2 0 1 0 4 0a2 2 0 1 0-4 0m1 0a2 2 0 1 0 4 0a2 2 0 1 0-4 0m-0.8 0a2 2 0 1 0 4 0a2 2 0 1 0-4 0m-2 0a2 2 0 1 0 4 0a2 2 0 1 0-4 0m2.6 0a2 2 0 1 0 4 0a2 2 0 1 0-4 0m-0.8 0a2 2 0 1 0 4 0a2 2 0 1 0-4 0m0.3 0a2 2 0 1 0 4 0a2 2 0 1 0-4 0m2.6 0a2 2 0 1 0 4 0a2 2 0 1 0-4 0m-1.1 0a2 2 0 1 0 4 0a2 2 0 1 0-4 0m-1.4 0a2 2 0 1 0 4 0a2 2 0 1 0-4 0m-2-54.9a2 2 0 1 0 4 0a2 2 0 1 0-4 0m2.1 42a2 2 0 1 0 4 0a2 2 0 1 0-4 0m-2.8 0a2 2 0 1 0 4 0a2 2 0 1 0-4 0m3.9 0a2 2 0 1 0 4 0a2 2 0 1 0-4 0m-0.1 0a2 2 0 1 0 4 0a2 2 0 1 0-4 0m-1.5 0a2 2 0 1 0 4 0a2 2 0 1 0-4 0m-1.3 0a2 2 0 1 0 4 0a2 2 0 1 0-4 0m-1.6 6.4a2 2 0 1 0 4 0a2 2 0 1 0-4 0m3.2 0a2 2 0 1 0 4 0a2 2 0 1 0-4 0m2.6 0a2 2 0 1 0 4 0a2 2 0 1 0-4 0m-0.3 0a2 2 0 1 0 4 0a2 2 0 1 0-4 0m-3 0a2 2 0 1 0 4 0a2 2 0 1 0-4 0m0.1 0a2 2 0 1 0 4 0a2 2 0 1 0-4 0m1.8-25.8a2 2 0 1 0 4 0a2 2 0 1 0-4 0m1.6 0a2 2 0 1 0 4 0a2 2 0 1 0-4 0m-2.8 0a2 2 0 1 0 4 0a2 2 0 1 0-4 0m1.6 0a2 2 0 1 0 4 0a2 2 0 1 0-4 0m-2.8 0a2 2 0 1 0 4 0a2 2 0 1 0-4 0m3.3 0a2 2 0 1 0 4 0a2 2 0 1 0-4 0m-3.7 0a2 2 0 1 0 4 0a2 2 0 1 0-4 0m0.2 0a2 2 0 1 0 4 0a2 2 0 1 0-4 0m1.6 22.6a2 2 0 1 0 4 0a2 2 0 1 0-4 0m1.7 0a2 2 0 1 0 4 0a2 2 0 1 0-4 0m0.6 0a2 2 0 1 0 4 0a2 2 0 1 0-4 0m-0.7 0a2 2 0 1 0 4 0a2 2 0 1 0-4 0m-0.4 0a2 2 0 1 0 4 0a2 2 0 1 0-4 0m-2.6 0a2 2 0 1 0 4 0a2 2 0 1 0-4 0m3.1-35.5a2 2 0 1 0 4 0a2 2 0 1 0-4 0m-0.2 0a2 2 0 1 0 4 0a2 2 0 1 0-4 0m0 0a2 2 0 1 0 4 0a2 2 0 1 0-4 0m-3 0a2 2 0 1 0 4 0a2 2 0 1 0-4 0m1.9 3.2a2 2 0 1 0 4 0a2 2 0 1 0-4 0m-3.7 0a2 2 0 1 0 4 0a2 2 0 1 0-4 0m4.5-16.1a2 2 0 1 0 4 0a2 2 0 1 0-4 0m-0.2 32.3a2 2 0 1 0 4 0a2 2 0 1 0-4 0m-1.7 0a2 2 0 1 0 4 0a2 2 0 1 0-4 0m2.3 0a2 2 0 1 0 4 0a2 2 0 1 0-4 0m-0.2 0a2 2 0 1 0 4 0a2 2 0 1 0-4 0m-1-9.7a2 2 0 1 0 4 0a2 2 0 1 0-4 0m-0.4 0a2 2 0 1 0 4 0a2 2 0 1 0-4 0m2.1 0a2 2 0 1 0 4 0a2 2 0 1 0-4 0m-2.6 0a2 2 0 1 0 4 0a2 2 0 1 0-4 0m-1.9 39.9a2 2 0 1 0 4 0a2 2 0 1 0-4 0m3.2-56.1a2 2 0 1 0 4 0a2 2 0 1 0-4 0m-0.5 3.3a2 2 0 1 0 4 0a2 2 0 1 0-4 0m-3.4 0a2 2 0 1 0 4 0a2 2 0 1 0-4 0m10.8 41.9a2 2 0 1 0 4 0a2 2 0 1 0-4 0m1.1 0a2 2 0 1 0 4 0a2 2 0 1 0-4 0m1.2 0a2 2 0 1 0 4 0a2 2 0 1 0-4 0m1.6 0a2 2 0 1 0 4 0a2 2 0 1 0-4 0m1.5 0a2 2 0 1 0 4 0a2 2 0 1 0-4 0m-3-22.6a2 2 0 1 0 4 0a2 2 0 1 0-4 0m3.7 19.4a2 2 0 1 0 4 0a2 2 0 1 0-4 0m-6.1 0a2 2 0 1 0 4 0a2 2 0 1 0-4 0m5.1 0a2 2 0 1 0 4 0a2 2 0 1 0-4 0m-6.6 12.9a2 2 0 1 0 4 0a2 2 0 1 0-4 0m1.3 0a2 2 0 1 0 4 0a2 2 0 1 0-4 0m0.8 0a2 2 0 1 0 4 0a2 2 0 1 0-4 0m0.9 0a2 2 0 1 0 4 0a2 2 0 1 0-4 0m0.9 0a2 2 0 1 0 4 0a2 2 0 1 0-4 0m1.5 0a2 2 0 1 0 4 0a2 2 0 1 0-4 0m0.5 0a2 2 0 1 0 4 0a2 2 0 1 0-4 0m0.8 0a2 2 0 1 0 4 0a2 2 0 1 0-4 0m1.1 0a2 2 0 1 0 4 0a2 2 0 1 0-4 0m-0.1-3.2a2 2 0 1 0 4 0a2 2 0 1 0-4 0m-6.5 0a2 2 0 1 0 4 0a2 2 0 1 0-4 0m4 0a2 2 0 1 0 4 0a2 2 0 1 0-4 0m1.6 0a2 2 0 1 0 4 0a2 2 0 1 0-4 0m-4.3-16.2a2 2 0 1 0 4 0a2 2 0 1 0-4 0m4.5 0a2 2 0 1 0 4 0a2 2 0 1 0-4 0m1.3 20.6a2 2 0 1 0 4 0a2 2 0 1 0-4 0m-6.5 0a2 2 0 1 0 4 0a2 2 0 1 0-4 0m3.5 0a2 2 0 1 0 4 0a2 2 0 1 0-4 0m-5.1-46.4a2 2 0 1 0 4 0a2 2 0 1 0-4 0m1.1 22.6a2 2 0 1 0 4 0a2 2 0 1 0-4 0m3.4 0a2 2 0 1 0 4 0a2 2 0 1 0-4 0m-2.3 6.5a2 2 0 1 0 4 0a2 2 0 1 0-4 0m2.3 0a2 2 0 1 0 4 0a2 2 0 1 0-4 0m1.9 0a2 2 0 1 0 4 0a2 2 0 1 0-4 0m1 0a2 2 0 1 0 4 0a2 2 0 1 0-4 0m-7.3-25.9a2 2 0 1 0 4 0a2 2 0 1 0-4 0m-0.2 0a2 2 0 1 0 4 0a2 2 0 1 0-4 0m1.8 35.5a2 2 0 1 0 4 0a2 2 0 1 0-4 0m3.9 0a2 2 0 1 0 4 0a2 2 0 1 0-4 0m-4.5-29a2 2 0 1 0 4 0a2 2 0 1 0-4 0m0.9 6.5a2 2 0 1 0 4 0a2 2 0 1 0-4 0m-7.7-135.6a2 2 0 1 0 4 0a2 2 0 1 0-4 0m0.4 22.6a2 2 0 1 0 4 0a2 2 0 1 0-4 0m0.8-16.1a2 2 0 1 0 4 0a2 2 0 1 0-4 0" fill="none" stroke="#0000ff" stroke-width="0.378"/>
<path d="M41.30,440.00 C41.30,438.00 40.95,430.18 41.30,428.00 C41.65,425.82 41.83,428.30 43.40,426.90 C44.97,425.50 47.75,422.03 50.70,419.60 C53.65,417.17 57.63,414.57 61.10,412.30 C64.57,410.03 66.30,408.60 71.50,406.00 C76.70,403.40 84.67,399.82 92.30,396.70 C99.93,393.58 109.65,390.08 117.30,387.30 C124.95,384.52 132.75,381.92 138.20,380.00 C143.65,378.08 141.72,378.78 150.00,375.80 C158.28,372.82 177.80,365.77 187.90,362.10 C198.00,358.43 204.80,355.95 210.60,353.80 C216.40,351.65 219.67,351.10 222.70,349.20 C225.73,347.30 226.78,345.17 228.80,342.40 C230.82,339.63 232.90,335.88 234.80,332.60 C236.70,329.32 239.18,325.60 240.20,322.70 C241.22,319.80 240.70,317.97 240.90,315.20 C241.10,312.43 241.32,307.62 241.40,306.10" fill="none" stroke="#1e1e1e" stroke-width="1.3" stroke-linejoin="round"/>
<path d="M34.5,284.8V478.8H275.1V284.8M34.5,284.8h4M34.5,312.5h4M34.5,340.2h4M34.5,367.9h4M34.5,395.7h4M34.5,423.4h4M34.5,451.1h4M34.5,478.8h4M34.5,298.7h2.2M34.5,326.4h2.2M34.5,354.1h2.2M34.5,381.8h2.2M34.5,409.5h2.2M34.5,437.2h2.2M34.5,464.9h2.2M275.1,284.8h-4M275.1,314.6h-4M275.1,344.5h-4M275.1,374.3h-4M275.1,404.2h-4M275.1,434.0h-4M275.1,463.9h-4M275.1,299.7h-2.2M275.1,329.6h-2.2M275.1,359.4h-2.2M275.1,389.3h-2.2M275.1,419.1h-2.2M275.1,449.0h-2.2M275.1,478.8h-2.2M34.5,478.8v-4M74.6,478.8v-4M114.7,478.8v-4M154.8,478.8v-4M194.9,478.8v-4M235.0,478.8v-4M275.1,478.8v-4M54.6,478.8v-2.2M94.7,478.8v-2.2M134.8,478.8v-2.2M174.9,478.8v-2.2M215.0,478.8v-2.2M255.1,478.8v-2.2" fill="none" stroke="#2a2a2a" stroke-width="1"/>
<g font-size="11" fill="#1a1a1a"><text x="30.5" y="288.4" text-anchor="end">1.18</text><text x="30.5" y="316.1" text-anchor="end">1.16</text><text x="30.5" y="343.8" text-anchor="end">1.14</text><text x="30.5" y="371.5" text-anchor="end">1.12</text><text x="30.5" y="399.3" text-anchor="end">1.10</text><text x="30.5" y="427.0" text-anchor="end">1.08</text><text x="30.5" y="454.7" text-anchor="end">1.06</text><text x="30.5" y="482.4" text-anchor="end">1.04</text><text x="279.3" y="288.4">100</text><text x="279.3" y="318.2">90</text><text x="279.3" y="348.1">80</text><text x="279.3" y="377.9">70</text><text x="279.3" y="407.8">60</text><text x="279.3" y="437.6">50</text><text x="279.3" y="467.5">40</text><text x="34.5" y="492.1" text-anchor="middle">0.0</text><text x="74.6" y="492.1" text-anchor="middle">0.2</text><text x="114.7" y="492.1" text-anchor="middle">0.4</text><text x="154.8" y="492.1" text-anchor="middle">0.6</text><text x="194.9" y="492.1" text-anchor="middle">0.8</text><text x="235.0" y="492.1" text-anchor="middle">1.0</text><text x="275.1" y="492.1" text-anchor="middle">1.2</text></g>
<path d="M47.0,295.9H69.9" stroke="#1e1e1e" stroke-width="1.2"/>
<circle cx="58.5" cy="308.6" r="1.8" fill="none" stroke="#5050ff" stroke-width="0.7"/>
<g font-size="12" fill="#1a1a1a"><text x="76.8" y="299.2">axial strain</text><text x="76.8" y="311.7">amplitude</text></g>
<text transform="translate(8.0,398.5) rotate(-90)" text-anchor="middle" font-size="12" fill="#1a1a1a" dy="4">axial strain/10<tspan font-size="8" dy="-4.5">-2</tspan></text>
<text transform="translate(296.5,391.0) rotate(-90)" text-anchor="middle" font-size="12" fill="#1a1a1a" dy="4">amplitude/dB</text>
<text x="157.5" y="501.3" text-anchor="middle" font-size="12" fill="#1a1a1a">time/h</text>
<text x="173.2" y="523.2" text-anchor="middle" font-size="22" font-weight="bold" fill="#111">(c)</text>
<path transform="scale(0.925)" d="M430.4 495.5a2 2 0 1 0 4 0a2 2 0 1 0-4 0m0 0a2 2 0 1 0 4 0a2 2 0 1 0-4 0m0 0a2 2 0 1 0 4 0a2 2 0 1 0-4 0m0 0a2 2 0 1 0 4 0a2 2 0 1 0-4 0m0.4 0a2 2 0 1 0 4 0a2 2 0 1 0-4 0m0.2 0a2 2 0 1 0 4 0a2 2 0 1 0-4 0m-0.6 0a2 2 0 1 0 4 0a2 2 0 1 0-4 0m0.9-15.9a2 2 0 1 0 4 0a2 2 0 1 0-4 0m-0.9 0a2 2 0 1 0 4 0a2 2 0 1 0-4 0m0 0a2 2 0 1 0 4 0a2 2 0 1 0-4 0m0 0a2 2 0 1 0 4 0a2 2 0 1 0-4 0m0 0a2 2 0 1 0 4 0a2 2 0 1 0-4 0m0 0a2 2 0 1 0 4 0a2 2 0 1 0-4 0m0 0a2 2 0 1 0 4 0a2 2 0 1 0-4 0m0.6 0a2 2 0 1 0 4 0a2 2 0 1 0-4 0m-0.6 0a2 2 0 1 0 4 0a2 2 0 1 0-4 0m0-6.4a2 2 0 1 0 4 0a2 2 0 1 0-4 0m0 0a2 2 0 1 0 4 0a2 2 0 1 0-4 0m0 0a2 2 0 1 0 4 0a2 2 0 1 0-4 0m0 0a2 2 0 1 0 4 0a2 2 0 1 0-4 0m0 0a2 2 0 1 0 4 0a2 2 0 1 0-4 0m0.8 0a2 2 0 1 0 4 0a2 2 0 1 0-4 0m-0.8 0a2 2 0 1 0 4 0a2 2 0 1 0-4 0m0 0a2 2 0 1 0 4 0a2 2 0 1 0-4 0m0 0a2 2 0 1 0 4 0a2 2 0 1 0-4 0m0.6 0a2 2 0 1 0 4 0a2 2 0 1 0-4 0m0.1 0a2 2 0 1 0 4 0a2 2 0 1 0-4 0m-0.7 19.1a2 2 0 1 0 4 0a2 2 0 1 0-4 0m0.6 0a2 2 0 1 0 4 0a2 2 0 1 0-4 0m0.3 0a2 2 0 1 0 4 0a2 2 0 1 0-4 0m-0.9 0a2 2 0 1 0 4 0a2 2 0 1 0-4 0m0 0a2 2 0 1 0 4 0a2 2 0 1 0-4 0m0.4 0a2 2 0 1 0 4 0a2 2 0 1 0-4 0m0.4 0a2 2 0 1 0 4 0a2 2 0 1 0-4 0m-0.1 0a2 2 0 1 0 4 0a2 2 0 1 0-4 0m-0.7 0a2 2 0 1 0 4 0a2 2 0 1 0-4 0m0.4 0a2 2 0 1 0 4 0a2 2 0 1 0-4 0m-0.4 0a2 2 0 1 0 4 0a2 2 0 1 0-4 0m0-9.5a2 2 0 1 0 4 0a2 2 0 1 0-4 0m0 0a2 2 0 1 0 4 0a2 2 0 1 0-4 0m0 0a2 2 0 1 0 4 0a2 2 0 1 0-4 0m0.9 0a2 2 0 1 0 4 0a2 2 0 1 0-4 0m-0.3 0a2 2 0 1 0 4 0a2 2 0 1 0-4 0m-0.6 0a2 2 0 1 0 4 0a2 2 0 1 0-4 0m0 0a2 2 0 1 0 4 0a2 2 0 1 0-4 0m0.4 0a2 2 0 1 0 4 0a2 2 0 1 0-4 0m-0.4 0a2 2 0 1 0 4 0a2 2 0 1 0-4 0m0.1 0a2 2 0 1 0 4 0a2 2 0 1 0-4 0m-0.1 31.9a2 2 0 1 0 4 0a2 2 0 1 0-4 0m0 0a2 2 0 1 0 4 0a2 2 0 1 0-4 0m0 0a2 2 0 1 0 4 0a2 2 0 1 0-4 0m0 0a2 2 0 1 0 4 0a2 2 0 1 0-4 0m0 0a2 2 0 1 0 4 0a2 2 0 1 0-4 0m0.9 0a2 2 0 1 0 4 0a2 2 0 1 0-4 0m-0.3 0a2 2 0 1 0 4 0a2 2 0 1 0-4 0m-0.6 0a2 2 0 1 0 4 0a2 2 0 1 0-4 0m0-44.7a2 2 0 1 0 4 0a2 2 0 1 0-4 0m0.1 0a2 2 0 1 0 4 0a2 2 0 1 0-4 0m-0.1 0a2 2 0 1 0 4 0a2 2 0 1 0-4 0m0 0a2 2 0 1 0 4 0a2 2 0 1 0-4 0m0 0a2 2 0 1 0 4 0a2 2 0 1 0-4 0m0 0a2 2 0 1 0 4 0a2 2 0 1 0-4 0m0.6 0a2 2 0 1 0 4 0a2 2 0 1 0-4 0m-0.6 6.4a2 2 0 1 0 4 0a2 2 0 1 0-4 0m0.9 0a2 2 0 1 0 4 0a2 2 0 1 0-4 0m-0.9 0a2 2 0 1 0 4 0a2 2 0 1 0-4 0m0 0a2 2 0 1 0 4 0a2 2 0 1 0-4 0m0 0a2 2 0 1 0 4 0a2 2 0 1 0-4 0m0.7 0a2 2 0 1 0 4 0a2 2 0 1 0-4 0m-0.7 31.9a2 2 0 1 0 4 0a2 2 0 1 0-4 0m0 0a2 2 0 1 0 4 0a2 2 0 1 0-4 0m0 0a2 2 0 1 0 4 0a2 2 0 1 0-4 0m0.1 0a2 2 0 1 0 4 0a2 2 0 1 0-4 0m0.1-3.2a2 2 0 1 0 4 0a2 2 0 1 0-4 0m-0.2 0a2 2 0 1 0 4 0a2 2 0 1 0-4 0m0 0a2 2 0 1 0 4 0a2 2 0 1 0-4 0m0.3 0a2 2 0 1 0 4 0a2 2 0 1 0-4 0m-0.3 0a2 2 0 1 0 4 0a2 2 0 1 0-4 0m0-41.4a2 2 0 1 0 4 0a2 2 0 1 0-4 0m0 0a2 2 0 1 0 4 0a2 2 0 1 0-4 0m0 0a2 2 0 1 0 4 0a2 2 0 1 0-4 0m0 0a2 2 0 1 0 4 0a2 2 0 1 0-4 0m0.6 3.2a2 2 0 1 0 4 0a2 2 0 1 0-4 0m-0.5 0a2 2 0 1 0 4 0a2 2 0 1 0-4 0m0.8 0a2 2 0 1 0 4 0a2 2 0 1 0-4 0m-0.9 0a2 2 0 1 0 4 0a2 2 0 1 0-4 0m0 48.9a2 2 0 1 0 4 0a2 2 0 1 0-4 0m0-26.6a2 2 0 1 0 4 0a2 2 0 1 0-4 0m0 0a2 2 0 1 0 4 0a2 2 0 1 0-4 0m0 9.5a2 2 0 1 0 4 0a2 2 0 1 0-4 0m0.4 0a2 2 0 1 0 4 0a2 2 0 1 0-4 0m0.3 0a2 2 0 1 0 4 0a2 2 0 1 0-4 0m-0.6 0a2 2 0 1 0 4 0a2 2 0 1 0-4 0m-0.1 0a2 2 0 1 0 4 0a2 2 0 1 0-4 0m0 0a2 2 0 1 0 4 0a2 2 0 1 0-4 0m0.5 0a2 2 0 1 0 4 0a2 2 0 1 0-4 0m0.3 0a2 2 0 1 0 4 0a2 2 0 1 0-4 0m-0.8 12.8a2 2 0 1 0 4 0a2 2 0 1 0-4 0m0 0a2 2 0 1 0 4 0a2 2 0 1 0-4 0m0 0a2 2 0 1 0 4 0a2 2 0 1 0-4 0m0 0a2 2 0 1 0 4 0a2 2 0 1 0-4 0m0.6-9.6a2 2 0 1 0 4 0a2 2 0 1 0-4 0m-0.6 0a2 2 0 1 0 4 0a2 2 0 1 0-4 0m0 0a2 2 0 1 0 4 0a2 2 0 1 0-4 0m0.9 0a2 2 0 1 0 4 0a2 2 0 1 0-4 0m-0.9 0a2 2 0 1 0 4 0a2 2 0 1 0-4 0m0 0a2 2 0 1 0 4 0a2 2 0 1 0-4 0m0-15.9a2 2 0 1 0 4 0a2 2 0 1 0-4 0m0 0a2 2 0 1 0 4 0a2 2 0 1 0-4 0m0 0a2 2 0 1 0 4 0a2 2 0 1 0-4 0m0 12.7a2 2 0 1 0 4 0a2 2 0 1 0-4 0m0 0a2 2 0 1 0 4 0a2 2 0 1 0-4 0m0.3 0a2 2 0 1 0 4 0a2 2 0 1 0-4 0m0.7 0a2 2 0 1 0 4 0a2 2 0 1 0-4 0m0.6 0a2 2 0 1 0 4 0a2 2 0 1 0-4 0m2.2 0a2 2 0 1 0 4 0a2 2 0 1 0-4 0m1.3 0a2 2 0 1 0 4 0a2 2 0 1 0-4 0m1.1 0a2 2 0 1 0 4 0a2 2 0 1 0-4 0m2.2 0a2 2 0 1 0 4 0a2 2 0 1 0-4 0m-8.4 9.6a2 2 0 1 0 4 0a2 2 0 1 0-4 0m0 0a2 2 0 1 0 4 0a2 2 0 1 0-4 0m0 0a2 2 0 1 0 4 0a2 2 0 1 0-4 0m0.9 0a2 2 0 1 0 4 0a2 2 0 1 0-4 0m0.7 0a2 2 0 1 0 4 0a2 2 0 1 0-4 0m1.2 0a2 2 0 1 0 4 0a2 2 0 1 0-4 0m0.5 0a2 2 0 1 0 4 0a2 2 0 1 0-4 0m2.5 0a2 2 0 1 0 4 0a2 2 0 1 0-4 0m2.8 0a2 2 0 1 0 4 0a2 2 0 1 0-4 0m-8.6 6.4a2 2 0 1 0 4 0a2 2 0 1 0-4 0m0 0a2 2 0 1 0 4 0a2 2 0 1 0-4 0m0 0a2 2 0 1 0 4 0a2 2 0 1 0-4 0m0 0a2 2 0 1 0 4 0a2 2 0 1 0-4 0m0 0a2 2 0 1 0 4 0a2 2 0 1 0-4 0m0 0a2 2 0 1 0 4 0a2 2 0 1 0-4 0m0 0a2 2 0 1 0 4 0a2 2 0 1 0-4 0m0 0a2 2 0 1 0 4 0a2 2 0 1 0-4 0m0.1 0a2 2 0 1 0 4 0a2 2 0 1 0-4 0m0.4 0a2 2 0 1 0 4 0a2 2 0 1 0-4 0m0.4 0a2 2 0 1 0 4 0a2 2 0 1 0-4 0m0.2 0a2 2 0 1 0 4 0a2 2 0 1 0-4 0m0.2 0a2 2 0 1 0 4 0a2 2 0 1 0-4 0m0.3 0a2 2 0 1 0 4 0a2 2 0 1 0-4 0m0.5 0a2 2 0 1 0 4 0a2 2 0 1 0-4 0m0.2 0a2 2 0 1 0 4 0a2 2 0 1 0-4 0m0.6 0a2 2 0 1 0 4 0a2 2 0 1 0-4 0m0.2 0a2 2 0 1 0 4 0a2 2 0 1 0-4 0m0.8 0a2 2 0 1 0 4 0a2 2 0 1 0-4 0m0.5 0a2 2 0 1 0 4 0a2 2 0 1 0-4 0m0.1 0a2 2 0 1 0 4 0a2 2 0 1 0-4 0m0.5 0a2 2 0 1 0 4 0a2 2 0 1 0-4 0m0.8 0a2 2 0 1 0 4 0a2 2 0 1 0-4 0m0.3 0a2 2 0 1 0 4 0a2 2 0 1 0-4 0m0.9 0a2 2 0 1 0 4 0a2 2 0 1 0-4 0m0.4 0a2 2 0 1 0 4 0a2 2 0 1 0-4 0m2.3 0a2 2 0 1 0 4 0a2 2 0 1 0-4 0m1.5 0a2 2 0 1 0 4 0a2 2 0 1 0-4 0m-11.2-3.2a2 2 0 1 0 4 0a2 2 0 1 0-4 0m0 0a2 2 0 1 0 4 0a2 2 0 1 0-4 0m0 0a2 2 0 1 0 4 0a2 2 0 1 0-4 0m0 0a2 2 0 1 0 4 0a2 2 0 1 0-4 0m0.3 0a2 2 0 1 0 4 0a2 2 0 1 0-4 0m0.1 0a2 2 0 1 0 4 0a2 2 0 1 0-4 0m1.1 0a2 2 0 1 0 4 0a2 2 0 1 0-4 0m0.2 0a2 2 0 1 0 4 0a2 2 0 1 0-4 0m1 0a2 2 0 1 0 4 0a2 2 0 1 0-4 0m1.1 0a2 2 0 1 0 4 0a2 2 0 1 0-4 0m1.1 0a2 2 0 1 0 4 0a2 2 0 1 0-4 0m0.8 0a2 2 0 1 0 4 0a2 2 0 1 0-4 0m0.4 0a2 2 0 1 0 4 0a2 2 0 1 0-4 0m3 0a2 2 0 1 0 4 0a2 2 0 1 0-4 0m-9.1 0a2 2 0 1 0 4 0a2 2 0 1 0-4 0m0 4.3a2 2 0 1 0 4 0a2 2 0 1 0-4 0m0 0a2 2 0 1 0 4 0a2 2 0 1 0-4 0m0 0a2 2 0 1 0 4 0a2 2 0 1 0-4 0m0 0a2 2 0 1 0 4 0a2 2 0 1 0-4 0m0 0a2 2 0 1 0 4 0a2 2 0 1 0-4 0m0.8 0a2 2 0 1 0 4 0a2 2 0 1 0-4 0m0.5 0a2 2 0 1 0 4 0a2 2 0 1 0-4 0m0.5 0a2 2 0 1 0 4 0a2 2 0 1 0-4 0m0.9 0a2 2 0 1 0 4 0a2 2 0 1 0-4 0m0.1 0a2 2 0 1 0 4 0a2 2 0 1 0-4 0m1.1 0a2 2 0 1 0 4 0a2 2 0 1 0-4 0m0.5 0a2 2 0 1 0 4 0a2 2 0 1 0-4 0m1.9 0a2 2 0 1 0 4 0a2 2 0 1 0-4 0m1.5 0a2 2 0 1 0 4 0a2 2 0 1 0-4 0m2.2 0a2 2 0 1 0 4 0a2 2 0 1 0-4 0m-0.2-23.5a2 2 0 1 0 4 0a2 2 0 1 0-4 0m-9.8 0a2 2 0 1 0 4 0a2 2 0 1 0-4 0m0 0a2 2 0 1 0 4 0a2 2 0 1 0-4 0m0.4 0a2 2 0 1 0 4 0a2 2 0 1 0-4 0m0.6 0a2 2 0 1 0 4 0a2 2 0 1 0-4 0m1.2 0a2 2 0 1 0 4 0a2 2 0 1 0-4 0m0.8 0a2 2 0 1 0 4 0a2 2 0 1 0-4 0m1.2 0a2 2 0 1 0 4 0a2 2 0 1 0-4 0m1.3 0a2 2 0 1 0 4 0a2 2 0 1 0-4 0m2.8 0a2 2 0 1 0 4 0a2 2 0 1 0-4 0m-2.2-47.8a2 2 0 1 0 4 0a2 2 0 1 0-4 0m-5.7 0a2 2 0 1 0 4 0a2 2 0 1 0-4 0m2.7 0a2 2 0 1 0 4 0a2 2 0 1 0-4 0m-3.1 60.6a2 2 0 1 0 4 0a2 2 0 1 0-4 0m0 0a2 2 0 1 0 4 0a2 2 0 1 0-4 0m0 0a2 2 0 1 0 4 0a2 2 0 1 0-4 0m0 0a2 2 0 1 0 4 0a2 2 0 1 0-4 0m0.3 0a2 2 0 1 0 4 0a2 2 0 1 0-4 0m0.6 0a2 2 0 1 0 4 0a2 2 0 1 0-4 0m1.4 0a2 2 0 1 0 4 0a2 2 0 1 0-4 0m0.7 0a2 2 0 1 0 4 0a2 2 0 1 0-4 0m0.4 0a2 2 0 1 0 4 0a2 2 0 1 0-4 0m1.8 0a2 2 0 1 0 4 0a2 2 0 1 0-4 0m1 0a2 2 0 1 0 4 0a2 2 0 1 0-4 0m3.7 0a2 2 0 1 0 4 0a2 2 0 1 0-4 0m-9.9-25.5a2 2 0 1 0 4 0a2 2 0 1 0-4 0m0.9 0a2 2 0 1 0 4 0a2 2 0 1 0-4 0m3.8 0a2 2 0 1 0 4 0a2 2 0 1 0-4 0m0.7 0a2 2 0 1 0 4 0a2 2 0 1 0-4 0m5.1 9.6a2 2 0 1 0 4 0a2 2 0 1 0-4 0m-10.5 0a2 2 0 1 0 4 0a2 2 0 1 0-4 0m0.2 0a2 2 0 1 0 4 0a2 2 0 1 0-4 0m1.3 0a2 2 0 1 0 4 0a2 2 0 1 0-4 0m1.2 0a2 2 0 1 0 4 0a2 2 0 1 0-4 0m1.1 0a2 2 0 1 0 4 0a2 2 0 1 0-4 0m3.7 0a2 2 0 1 0 4 0a2 2 0 1 0-4 0m-6.7-28.7a2 2 0 1 0 4 0a2 2 0 1 0-4 0m9 41.4a2 2 0 1 0 4 0a2 2 0 1 0-4 0m-9.8 0a2 2 0 1 0 4 0a2 2 0 1 0-4 0m0 0a2 2 0 1 0 4 0a2 2 0 1 0-4 0m0 0a2 2 0 1 0 4 0a2 2 0 1 0-4 0m1.2 0a2 2 0 1 0 4 0a2 2 0 1 0-4 0m1.9 0a2 2 0 1 0 4 0a2 2 0 1 0-4 0m0.2 0a2 2 0 1 0 4 0a2 2 0 1 0-4 0m1.9 0a2 2 0 1 0 4 0a2 2 0 1 0-4 0m2.6 0a2 2 0 1 0 4 0a2 2 0 1 0-4 0m-5.4-25.5a2 2 0 1 0 4 0a2 2 0 1 0-4 0m5 0a2 2 0 1 0 4 0a2 2 0 1 0-4 0m0.3-9.5a2 2 0 1 0 4 0a2 2 0 1 0-4 0m-6.5 0a2 2 0 1 0 4 0a2 2 0 1 0-4 0m0.2 0a2 2 0 1 0 4 0a2 2 0 1 0-4 0m5.2 0a2 2 0 1 0 4 0a2 2 0 1 0-4 0m-6.6 3.1a2 2 0 1 0 4 0a2 2 0 1 0-4 0m4.2 0a2 2 0 1 0 4 0a2 2 0 1 0-4 0m-4.2 25.5a2 2 0 1 0 4 0a2 2 0 1 0-4 0m0 0a2 2 0 1 0 4 0a2 2 0 1 0-4 0m0.1 0a2 2 0 1 0 4 0a2 2 0 1 0-4 0m0.9 0a2 2 0 1 0 4 0a2 2 0 1 0-4 0m1.1 0a2 2 0 1 0 4 0a2 2 0 1 0-4 0m1 0a2 2 0 1 0 4 0a2 2 0 1 0-4 0m3.2 0a2 2 0 1 0 4 0a2 2 0 1 0-4 0m0.7 0a2 2 0 1 0 4 0a2 2 0 1 0-4 0m-7-31.8a2 2 0 1 0 4 0a2 2 0 1 0-4 0m3.7 0a2 2 0 1 0 4 0a2 2 0 1 0-4 0m-3.7 9.5a2 2 0 1 0 4 0a2 2 0 1 0-4 0m0-22.3a2 2 0 1 0 4 0a2 2 0 1 0-4 0m4.9 0a2 2 0 1 0 4 0a2 2 0 1 0-4 0m-2.4-9.5a2 2 0 1 0 4 0a2 2 0 1 0-4 0m-2.5 0a2 2 0 1 0 4 0a2 2 0 1 0-4 0m0 44.6a2 2 0 1 0 4 0a2 2 0 1 0-4 0m2.5 0a2 2 0 1 0 4 0a2 2 0 1 0-4 0m0.2 0a2 2 0 1 0 4 0a2 2 0 1 0-4 0m-2.7-3.2a2 2 0 1 0 4 0a2 2 0 1 0-4 0m2.8 0a2 2 0 1 0 4 0a2 2 0 1 0-4 0m-2.8 15.9a2 2 0 1 0 4 0a2 2 0 1 0-4 0m2.2 0a2 2 0 1 0 4 0a2 2 0 1 0-4 0m3.2 0a2 2 0 1 0 4 0a2 2 0 1 0-4 0m4 0a2 2 0 1 0 4 0a2 2 0 1 0-4 0m9.6 0a2 2 0 1 0 4 0a2 2 0 1 0-4 0m7.3 0a2 2 0 1 0 4 0a2 2 0 1 0-4 0m10.1 0a2 2 0 1 0 4 0a2 2 0 1 0-4 0m-35.6-19.1a2 2 0 1 0 4 0a2 2 0 1 0-4 0m3.5 0a2 2 0 1 0 4 0a2 2 0 1 0-4 0m2.8 0a2 2 0 1 0 4 0a2 2 0 1 0-4 0m4.8 0a2 2 0 1 0 4 0a2 2 0 1 0-4 0m6.2 0a2 2 0 1 0 4 0a2 2 0 1 0-4 0m18.4 0a2 2 0 1 0 4 0a2 2 0 1 0-4 0m-36.5 35.1a2 2 0 1 0 4 0a2 2 0 1 0-4 0m0 0a2 2 0 1 0 4 0a2 2 0 1 0-4 0m0.2 0a2 2 0 1 0 4 0a2 2 0 1 0-4 0m0.4 0a2 2 0 1 0 4 0a2 2 0 1 0-4 0m0.6 0a2 2 0 1 0 4 0a2 2 0 1 0-4 0m1.9 0a2 2 0 1 0 4 0a2 2 0 1 0-4 0m0.1 0a2 2 0 1 0 4 0a2 2 0 1 0-4 0m1.8 0a2 2 0 1 0 4 0a2 2 0 1 0-4 0m0.7 0a2 2 0 1 0 4 0a2 2 0 1 0-4 0m1.1 0a2 2 0 1 0 4 0a2 2 0 1 0-4 0m0.8 0a2 2 0 1 0 4 0a2 2 0 1 0-4 0m1.7 0a2 2 0 1 0 4 0a2 2 0 1 0-4 0m0.4 0a2 2 0 1 0 4 0a2 2 0 1 0-4 0m1.8 0a2 2 0 1 0 4 0a2 2 0 1 0-4 0m2.3 0a2 2 0 1 0 4 0a2 2 0 1 0-4 0m0 0a2 2 0 1 0 4 0a2 2 0 1 0-4 0m1.8 0a2 2 0 1 0 4 0a2 2 0 1 0-4 0m1.2 0a2 2 0 1 0 4 0a2 2 0 1 0-4 0m3.1 0a2 2 0 1 0 4 0a2 2 0 1 0-4 0m1.4 0a2 2 0 1 0 4 0a2 2 0 1 0-4 0m0.5 0a2 2 0 1 0 4 0a2 2 0 1 0-4 0m3.2 0a2 2 0 1 0 4 0a2 2 0 1 0-4 0m1.4 0a2 2 0 1 0 4 0a2 2 0 1 0-4 0m4.2 0a2 2 0 1 0 4 0a2 2 0 1 0-4 0m1.7 0a2 2 0 1 0 4 0a2 2 0 1 0-4 0m5.4 0a2 2 0 1 0 4 0a2 2 0 1 0-4 0m-37.7-9.6a2 2 0 1 0 4 0a2 2 0 1 0-4 0m1.4 0a2 2 0 1 0 4 0a2 2 0 1 0-4 0m2.2 0a2 2 0 1 0 4 0a2 2 0 1 0-4 0m1.9 0a2 2 0 1 0 4 0a2 2 0 1 0-4 0m2.3 0a2 2 0 1 0 4 0a2 2 0 1 0-4 0m2 0a2 2 0 1 0 4 0a2 2 0 1 0-4 0m3.7 0a2 2 0 1 0 4 0a2 2 0 1 0-4 0m3.2 0a2 2 0 1 0 4 0a2 2 0 1 0-4 0m2.6 0a2 2 0 1 0 4 0a2 2 0 1 0-4 0m2.9 0a2 2 0 1 0 4 0a2 2 0 1 0-4 0m2.8 0a2 2 0 1 0 4 0a2 2 0 1 0-4 0m6.2 0a2 2 0 1 0 4 0a2 2 0 1 0-4 0m6.3 0a2 2 0 1 0 4 0a2 2 0 1 0-4 0m-0.6-15.9a2 2 0 1 0 4 0a2 2 0 1 0-4 0m-33.9 0a2 2 0 1 0 4 0a2 2 0 1 0-4 0m7.5 0a2 2 0 1 0 4 0a2 2 0 1 0-4 0m8.1 0a2 2 0 1 0 4 0a2 2 0 1 0-4 0m0.1 0a2 2 0 1 0 4 0a2 2 0 1 0-4 0m-16.1 6.3a2 2 0 1 0 4 0a2 2 0 1 0-4 0m4 0a2 2 0 1 0 4 0a2 2 0 1 0-4 0m6.9 0a2 2 0 1 0 4 0a2 2 0 1 0-4 0m7.8 0a2 2 0 1 0 4 0a2 2 0 1 0-4 0m7.9 0a2 2 0 1 0 4 0a2 2 0 1 0-4 0m-29.2 20.3a2 2 0 1 0 4 0a2 2 0 1 0-4 0m1.9 0a2 2 0 1 0 4 0a2 2 0 1 0-4 0m3.1 0a2 2 0 1 0 4 0a2 2 0 1 0-4 0m2.8 0a2 2 0 1 0 4 0a2 2 0 1 0-4 0m0.7 0a2 2 0 1 0 4 0a2 2 0 1 0-4 0m8.2 0a2 2 0 1 0 4 0a2 2 0 1 0-4 0m1.3 0a2 2 0 1 0 4 0a2 2 0 1 0-4 0m5.7 0a2 2 0 1 0 4 0a2 2 0 1 0-4 0m14.4 0a2 2 0 1 0 4 0a2 2 0 1 0-4 0m-38.1-4.3a2 2 0 1 0 4 0a2 2 0 1 0-4 0m0.8 0a2 2 0 1 0 4 0a2 2 0 1 0-4 0m1.8 0a2 2 0 1 0 4 0a2 2 0 1 0-4 0m1.5 0a2 2 0 1 0 4 0a2 2 0 1 0-4 0m2.6 0a2 2 0 1 0 4 0a2 2 0 1 0-4 0m0.8 0a2 2 0 1 0 4 0a2 2 0 1 0-4 0m3 0a2 2 0 1 0 4 0a2 2 0 1 0-4 0m2.5 0a2 2 0 1 0 4 0a2 2 0 1 0-4 0m2.7 0a2 2 0 1 0 4 0a2 2 0 1 0-4 0m2.3 0a2 2 0 1 0 4 0a2 2 0 1 0-4 0m3.2 0a2 2 0 1 0 4 0a2 2 0 1 0-4 0m2.8 0a2 2 0 1 0 4 0a2 2 0 1 0-4 0m6.4 0a2 2 0 1 0 4 0a2 2 0 1 0-4 0m-30.4 0a2 2 0 1 0 4 0a2 2 0 1 0-4 0m0.4-9.6a2 2 0 1 0 4 0a2 2 0 1 0-4 0m1.3 0a2 2 0 1 0 4 0a2 2 0 1 0-4 0m3.8 0a2 2 0 1 0 4 0a2 2 0 1 0-4 0m2.8 0a2 2 0 1 0 4 0a2 2 0 1 0-4 0m4.5 0a2 2 0 1 0 4 0a2 2 0 1 0-4 0m6.6 0a2 2 0 1 0 4 0a2 2 0 1 0-4 0m6.6 0a2 2 0 1 0 4 0a2 2 0 1 0-4 0m6 0a2 2 0 1 0 4 0a2 2 0 1 0-4 0m-32 6.4a2 2 0 1 0 4 0a2 2 0 1 0-4 0m2.2 0a2 2 0 1 0 4 0a2 2 0 1 0-4 0m1.1 0a2 2 0 1 0 4 0a2 2 0 1 0-4 0m3.9 0a2 2 0 1 0 4 0a2 2 0 1 0-4 0m1.4 0a2 2 0 1 0 4 0a2 2 0 1 0-4 0m2.7 0a2 2 0 1 0 4 0a2 2 0 1 0-4 0m2.6 0a2 2 0 1 0 4 0a2 2 0 1 0-4 0m5.3 0a2 2 0 1 0 4 0a2 2 0 1 0-4 0m1.8 0a2 2 0 1 0 4 0a2 2 0 1 0-4 0m8.3 0a2 2 0 1 0 4 0a2 2 0 1 0-4 0m6.1 0a2 2 0 1 0 4 0a2 2 0 1 0-4 0m-35.3-35.1a2 2 0 1 0 4 0a2 2 0 1 0-4 0m22.7 0a2 2 0 1 0 4 0a2 2 0 1 0-4 0m-17.3-15.9a2 2 0 1 0 4 0a2 2 0 1 0-4 0m-5.5 0a2 2 0 1 0 4 0a2 2 0 1 0-4 0m5.3 12.7a2 2 0 1 0 4 0a2 2 0 1 0-4 0m6.8 0a2 2 0 1 0 4 0a2 2 0 1 0-4 0m-11.2 12.8a2 2 0 1 0 4 0a2 2 0 1 0-4 0m7.2 0a2 2 0 1 0 4 0a2 2 0 1 0-4 0m18.9 0a2 2 0 1 0 4 0a2 2 0 1 0-4 0m-27 0a2 2 0 1 0 4 0a2 2 0 1 0-4 0m2.6 3.2a2 2 0 1 0 4 0a2 2 0 1 0-4 0m6.1 0a2 2 0 1 0 4 0a2 2 0 1 0-4 0m7.7 0a2 2 0 1 0 4 0a2 2 0 1 0-4 0m4.7 0a2 2 0 1 0 4 0a2 2 0 1 0-4 0m20.7-19.1a2 2 0 1 0 4 0a2 2 0 1 0-4 0m-39.2 0a2 2 0 1 0 4 0a2 2 0 1 0-4 0m1.9 0a2 2 0 1 0 4 0a2 2 0 1 0-4 0m2.9 0a2 2 0 1 0 4 0a2 2 0 1 0-4 0m6.5 0a2 2 0 1 0 4 0a2 2 0 1 0-4 0m9.2 0a2 2 0 1 0 4 0a2 2 0 1 0-4 0m9.7 0a2 2 0 1 0 4 0a2 2 0 1 0-4 0m-24.9 9.5a2 2 0 1 0 4 0a2 2 0 1 0-4 0m8.6 0a2 2 0 1 0 4 0a2 2 0 1 0-4 0m-15.9 0a2 2 0 1 0 4 0a2 2 0 1 0-4 0m10.3-12.7a2 2 0 1 0 4 0a2 2 0 1 0-4 0m15.5 0a2 2 0 1 0 4 0a2 2 0 1 0-4 0m-24-16a2 2 0 1 0 4 0a2 2 0 1 0-4 0m6 0a2 2 0 1 0 4 0a2 2 0 1 0-4 0m-8.4 38.3a2 2 0 1 0 4 0a2 2 0 1 0-4 0m2.4 0a2 2 0 1 0 4 0a2 2 0 1 0-4 0m5.5 0a2 2 0 1 0 4 0a2 2 0 1 0-4 0m1.1 0a2 2 0 1 0 4 0a2 2 0 1 0-4 0m-9-12.8a2 2 0 1 0 4 0a2 2 0 1 0-4 0m2.1 0a2 2 0 1 0 4 0a2 2 0 1 0-4 0m2.5 0a2 2 0 1 0 4 0a2 2 0 1 0-4 0m2.9 0a2 2 0 1 0 4 0a2 2 0 1 0-4 0m3.5 0a2 2 0 1 0 4 0a2 2 0 1 0-4 0m-11 9.6a2 2 0 1 0 4 0a2 2 0 1 0-4 0m0 0a2 2 0 1 0 4 0a2 2 0 1 0-4 0m1.4 0a2 2 0 1 0 4 0a2 2 0 1 0-4 0m1.4 0a2 2 0 1 0 4 0a2 2 0 1 0-4 0m1.6 0a2 2 0 1 0 4 0a2 2 0 1 0-4 0m1.8 0a2 2 0 1 0 4 0a2 2 0 1 0-4 0m2 0a2 2 0 1 0 4 0a2 2 0 1 0-4 0m1.3 0a2 2 0 1 0 4 0a2 2 0 1 0-4 0m0.7 0a2 2 0 1 0 4 0a2 2 0 1 0-4 0m1.4-3.2a2 2 0 1 0 4 0a2 2 0 1 0-4 0m-10.1 0a2 2 0 1 0 4 0a2 2 0 1 0-4 0m1.1 0a2 2 0 1 0 4 0a2 2 0 1 0-4 0m1.2 0a2 2 0 1 0 4 0a2 2 0 1 0-4 0m3 0a2 2 0 1 0 4 0a2 2 0 1 0-4 0m2.2 0a2 2 0 1 0 4 0a2 2 0 1 0-4 0m1.6 0a2 2 0 1 0 4 0a2 2 0 1 0-4 0m-9.4-19.1a2 2 0 1 0 4 0a2 2 0 1 0-4 0m-1.2 0a2 2 0 1 0 4 0a2 2 0 1 0-4 0m3.6-19.1a2 2 0 1 0 4 0a2 2 0 1 0-4 0m-3.6 25.5a2 2 0 1 0 4 0a2 2 0 1 0-4 0m8.5 0a2 2 0 1 0 4 0a2 2 0 1 0-4 0m-4.1-16a2 2 0 1 0 4 0a2 2 0 1 0-4 0m1.5 6.4a2 2 0 1 0 4 0a2 2 0 1 0-4 0m-5.9 6.4a2 2 0 1 0 4 0a2 2 0 1 0-4 0m2.4 0a2 2 0 1 0 4 0a2 2 0 1 0-4 0m4.2 0a2 2 0 1 0 4 0a2 2 0 1 0-4 0m-6.6 12.7a2 2 0 1 0 4 0a2 2 0 1 0-4 0m9.4-31.9a2 2 0 1 0 4 0a2 2 0 1 0-4 0m0.6-19.1a2 2 0 1 0 4 0a2 2 0 1 0-4 0m-7.1 73.3a2 2 0 1 0 4 0a2 2 0 1 0-4 0m6.8 0a2 2 0 1 0 4 0a2 2 0 1 0-4 0m5.8 0a2 2 0 1 0 4 0a2 2 0 1 0-4 0m5.2 0a2 2 0 1 0 4 0a2 2 0 1 0-4 0m10.8 0a2 2 0 1 0 4 0a2 2 0 1 0-4 0m-0.1 0a2 2 0 1 0 4 0a2 2 0 1 0-4 0m6.7 0a2 2 0 1 0 4 0a2 2 0 1 0-4 0m7.7 0a2 2 0 1 0 4 0a2 2 0 1 0-4 0m11.2 0a2 2 0 1 0 4 0a2 2 0 1 0-4 0m7 0a2 2 0 1 0 4 0a2 2 0 1 0-4 0m7.9 0a2 2 0 1 0 4 0a2 2 0 1 0-4 0m4.1 0a2 2 0 1 0 4 0a2 2 0 1 0-4 0m6.6 0a2 2 0 1 0 4 0a2 2 0 1 0-4 0m5.3 0a2 2 0 1 0 4 0a2 2 0 1 0-4 0m6.2 0a2 2 0 1 0 4 0a2 2 0 1 0-4 0m10.2 0a2 2 0 1 0 4 0a2 2 0 1 0-4 0m3.9 0a2 2 0 1 0 4 0a2 2 0 1 0-4 0m4.5 0a2 2 0 1 0 4 0a2 2 0 1 0-4 0m9.6 0a2 2 0 1 0 4 0a2 2 0 1 0-4 0m5.1 0a2 2 0 1 0 4 0a2 2 0 1 0-4 0m4.8 0a2 2 0 1 0 4 0a2 2 0 1 0-4 0m6.2 0a2 2 0 1 0 4 0a2 2 0 1 0-4 0m10.5 0a2 2 0 1 0 4 0a2 2 0 1 0-4 0m3.1 0a2 2 0 1 0 4 0a2 2 0 1 0-4 0m5.4 0a2 2 0 1 0 4 0a2 2 0 1 0-4 0m12.4 0a2 2 0 1 0 4 0a2 2 0 1 0-4 0m1.3 0a2 2 0 1 0 4 0a2 2 0 1 0-4 0m12.1 0a2 2 0 1 0 4 0a2 2 0 1 0-4 0m2.5 0a2 2 0 1 0 4 0a2 2 0 1 0-4 0m9.9 0a2 2 0 1 0 4 0a2 2 0 1 0-4 0m5.2 0a2 2 0 1 0 4 0a2 2 0 1 0-4 0m3 0a2 2 0 1 0 4 0a2 2 0 1 0-4 0m11.4 0a2 2 0 1 0 4 0a2 2 0 1 0-4 0m2.1 0a2 2 0 1 0 4 0a2 2 0 1 0-4 0m3.7-22.3a2 2 0 1 0 4 0a2 2 0 1 0-4 0m-202.9 0a2 2 0 1 0 4 0a2 2 0 1 0-4 0m12.3 0a2 2 0 1 0 4 0a2 2 0 1 0-4 0m20 0a2 2 0 1 0 4 0a2 2 0 1 0-4 0m6.9 0a2 2 0 1 0 4 0a2 2 0 1 0-4 0m10.5 0a2 2 0 1 0 4 0a2 2 0 1 0-4 0m16.5 0a2 2 0 1 0 4 0a2 2 0 1 0-4 0m10.6 0a2 2 0 1 0 4 0a2 2 0 1 0-4 0m15.6 0a2 2 0 1 0 4 0a2 2 0 1 0-4 0m14 0a2 2 0 1 0 4 0a2 2 0 1 0-4 0m6.3 0a2 2 0 1 0 4 0a2 2 0 1 0-4 0m12.7 0a2 2 0 1 0 4 0a2 2 0 1 0-4 0m12.4 0a2 2 0 1 0 4 0a2 2 0 1 0-4 0m19.2 0a2 2 0 1 0 4 0a2 2 0 1 0-4 0m20 0a2 2 0 1 0 4 0a2 2 0 1 0-4 0m0.2 0a2 2 0 1 0 4 0a2 2 0 1 0-4 0m21.3 0a2 2 0 1 0 4 0a2 2 0 1 0-4 0m-215.3 35.1a2 2 0 1 0 4 0a2 2 0 1 0-4 0m3.7 0a2 2 0 1 0 4 0a2 2 0 1 0-4 0m6.3 0a2 2 0 1 0 4 0a2 2 0 1 0-4 0m8.9 0a2 2 0 1 0 4 0a2 2 0 1 0-4 0m11.4 0a2 2 0 1 0 4 0a2 2 0 1 0-4 0m4 0a2 2 0 1 0 4 0a2 2 0 1 0-4 0m8.8 0a2 2 0 1 0 4 0a2 2 0 1 0-4 0m6 0a2 2 0 1 0 4 0a2 2 0 1 0-4 0m6.2 0a2 2 0 1 0 4 0a2 2 0 1 0-4 0m9 0a2 2 0 1 0 4 0a2 2 0 1 0-4 0m1.6 0a2 2 0 1 0 4 0a2 2 0 1 0-4 0m8.2 0a2 2 0 1 0 4 0a2 2 0 1 0-4 0m6.5 0a2 2 0 1 0 4 0a2 2 0 1 0-4 0m6.6 0a2 2 0 1 0 4 0a2 2 0 1 0-4 0m8.9 0a2 2 0 1 0 4 0a2 2 0 1 0-4 0m9.2 0a2 2 0 1 0 4 0a2 2 0 1 0-4 0m5 0a2 2 0 1 0 4 0a2 2 0 1 0-4 0m4.5 0a2 2 0 1 0 4 0a2 2 0 1 0-4 0m12.4 0a2 2 0 1 0 4 0a2 2 0 1 0-4 0m7.6 0a2 2 0 1 0 4 0a2 2 0 1 0-4 0m7.7 0a2 2 0 1 0 4 0a2 2 0 1 0-4 0m2.1 0a2 2 0 1 0 4 0a2 2 0 1 0-4 0m12.6 0a2 2 0 1 0 4 0a2 2 0 1 0-4 0m4.6 0a2 2 0 1 0 4 0a2 2 0 1 0-4 0m2 0a2 2 0 1 0 4 0a2 2 0 1 0-4 0m11.1 0a2 2 0 1 0 4 0a2 2 0 1 0-4 0m5.6 0a2 2 0 1 0 4 0a2 2 0 1 0-4 0m10.7 0a2 2 0 1 0 4 0a2 2 0 1 0-4 0m2.4 0a2 2 0 1 0 4 0a2 2 0 1 0-4 0m9.4 0a2 2 0 1 0 4 0a2 2 0 1 0-4 0m3.4 0a2 2 0 1 0 4 0a2 2 0 1 0-4 0m9.9 0a2 2 0 1 0 4 0a2 2 0 1 0-4 0m-216.3 4.3a2 2 0 1 0 4 0a2 2 0 1 0-4 0m-0.4 0a2 2 0 1 0 4 0a2 2 0 1 0-4 0m5.5 0a2 2 0 1 0 4 0a2 2 0 1 0-4 0m8.2 0a2 2 0 1 0 4 0a2 2 0 1 0-4 0m0.1 0a2 2 0 1 0 4 0a2 2 0 1 0-4 0m7.9 0a2 2 0 1 0 4 0a2 2 0 1 0-4 0m7.1 0a2 2 0 1 0 4 0a2 2 0 1 0-4 0m-0.1 0a2 2 0 1 0 4 0a2 2 0 1 0-4 0m5.3 0a2 2 0 1 0 4 0a2 2 0 1 0-4 0m6.3 0a2 2 0 1 0 4 0a2 2 0 1 0-4 0m2.4 0a2 2 0 1 0 4 0a2 2 0 1 0-4 0m8.1 0a2 2 0 1 0 4 0a2 2 0 1 0-4 0m5.7 0a2 2 0 1 0 4 0a2 2 0 1 0-4 0m4.5 0a2 2 0 1 0 4 0a2 2 0 1 0-4 0m3.8 0a2 2 0 1 0 4 0a2 2 0 1 0-4 0m4.8 0a2 2 0 1 0 4 0a2 2 0 1 0-4 0m1.8 0a2 2 0 1 0 4 0a2 2 0 1 0-4 0m7.6 0a2 2 0 1 0 4 0a2 2 0 1 0-4 0m5.1 0a2 2 0 1 0 4 0a2 2 0 1 0-4 0m6.8 0a2 2 0 1 0 4 0a2 2 0 1 0-4 0m0.1 0a2 2 0 1 0 4 0a2 2 0 1 0-4 0m6.1 0a2 2 0 1 0 4 0a2 2 0 1 0-4 0m3.8 0a2 2 0 1 0 4 0a2 2 0 1 0-4 0m3.8 0a2 2 0 1 0 4 0a2 2 0 1 0-4 0m7.7 0a2 2 0 1 0 4 0a2 2 0 1 0-4 0m5.5 0a2 2 0 1 0 4 0a2 2 0 1 0-4 0m3 0a2 2 0 1 0 4 0a2 2 0 1 0-4 0m4.6 0a2 2 0 1 0 4 0a2 2 0 1 0-4 0m4 0a2 2 0 1 0 4 0a2 2 0 1 0-4 0m7 0a2 2 0 1 0 4 0a2 2 0 1 0-4 0m5.7 0a2 2 0 1 0 4 0a2 2 0 1 0-4 0m4.9 0a2 2 0 1 0 4 0a2 2 0 1 0-4 0m0.5 0a2 2 0 1 0 4 0a2 2 0 1 0-4 0m5.5 0a2 2 0 1 0 4 0a2 2 0 1 0-4 0m4.5 0a2 2 0 1 0 4 0a2 2 0 1 0-4 0m5.6 0a2 2 0 1 0 4 0a2 2 0 1 0-4 0m8.7 0a2 2 0 1 0 4 0a2 2 0 1 0-4 0m3.9 0a2 2 0 1 0 4 0a2 2 0 1 0-4 0m2 0a2 2 0 1 0 4 0a2 2 0 1 0-4 0m3.2 0a2 2 0 1 0 4 0a2 2 0 1 0-4 0m8.4 0a2 2 0 1 0 4 0a2 2 0 1 0-4 0m5.5 0a2 2 0 1 0 4 0a2 2 0 1 0-4 0m1.2 0a2 2 0 1 0 4 0a2 2 0 1 0-4 0m4.8 0a2 2 0 1 0 4 0a2 2 0 1 0-4 0m6.9 0a2 2 0 1 0 4 0a2 2 0 1 0-4 0m2.8 0a2 2 0 1 0 4 0a2 2 0 1 0-4 0m6.7 0a2 2 0 1 0 4 0a2 2 0 1 0-4 0m-216.8-1.1a2 2 0 1 0 4 0a2 2 0 1 0-4 0m1.3 0a2 2 0 1 0 4 0a2 2 0 1 0-4 0m10.6 0a2 2 0 1 0 4 0a2 2 0 1 0-4 0m1.9 0a2 2 0 1 0 4 0a2 2 0 1 0-4 0m8.4 0a2 2 0 1 0 4 0a2 2 0 1 0-4 0m6.8 0a2 2 0 1 0 4 0a2 2 0 1 0-4 0m7.6 0a2 2 0 1 0 4 0a2 2 0 1 0-4 0m10.1 0a2 2 0 1 0 4 0a2 2 0 1 0-4 0m2.7 0a2 2 0 1 0 4 0a2 2 0 1 0-4 0m7.4 0a2 2 0 1 0 4 0a2 2 0 1 0-4 0m6.2 0a2 2 0 1 0 4 0a2 2 0 1 0-4 0m7.6 0a2 2 0 1 0 4 0a2 2 0 1 0-4 0m3.8 0a2 2 0 1 0 4 0a2 2 0 1 0-4 0m10.4 0a2 2 0 1 0 4 0a2 2 0 1 0-4 0m7.4 0a2 2 0 1 0 4 0a2 2 0 1 0-4 0m7.1 0a2 2 0 1 0 4 0a2 2 0 1 0-4 0m2.5 0a2 2 0 1 0 4 0a2 2 0 1 0-4 0m8.2 0a2 2 0 1 0 4 0a2 2 0 1 0-4 0m5.8 0a2 2 0 1 0 4 0a2 2 0 1 0-4 0m5.9 0a2 2 0 1 0 4 0a2 2 0 1 0-4 0m4.1 0a2 2 0 1 0 4 0a2 2 0 1 0-4 0m8.4 0a2 2 0 1 0 4 0a2 2 0 1 0-4 0m4.3 0a2 2 0 1 0 4 0a2 2 0 1 0-4 0m6.3 0a2 2 0 1 0 4 0a2 2 0 1 0-4 0m12.4 0a2 2 0 1 0 4 0a2 2 0 1 0-4 0m1.5 0a2 2 0 1 0 4 0a2 2 0 1 0-4 0m8.6 0a2 2 0 1 0 4 0a2 2 0 1 0-4 0m10.5 0a2 2 0 1 0 4 0a2 2 0 1 0-4 0m3.5 0a2 2 0 1 0 4 0a2 2 0 1 0-4 0m9.5 0a2 2 0 1 0 4 0a2 2 0 1 0-4 0m3.3 0a2 2 0 1 0 4 0a2 2 0 1 0-4 0m10.1 0a2 2 0 1 0 4 0a2 2 0 1 0-4 0m1.8 0a2 2 0 1 0 4 0a2 2 0 1 0-4 0m11.2 0a2 2 0 1 0 4 0a2 2 0 1 0-4 0m-214-6.4a2 2 0 1 0 4 0a2 2 0 1 0-4 0m3.1 0a2 2 0 1 0 4 0a2 2 0 1 0-4 0m7.2 0a2 2 0 1 0 4 0a2 2 0 1 0-4 0m1.8 0a2 2 0 1 0 4 0a2 2 0 1 0-4 0m4.4 0a2 2 0 1 0 4 0a2 2 0 1 0-4 0m9.4 0a2 2 0 1 0 4 0a2 2 0 1 0-4 0m5.3 0a2 2 0 1 0 4 0a2 2 0 1 0-4 0m4.7 0a2 2 0 1 0 4 0a2 2 0 1 0-4 0m3.1 0a2 2 0 1 0 4 0a2 2 0 1 0-4 0m8.2 0a2 2 0 1 0 4 0a2 2 0 1 0-4 0m6.1 0a2 2 0 1 0 4 0a2 2 0 1 0-4 0m6 0a2 2 0 1 0 4 0a2 2 0 1 0-4 0m0.1 0a2 2 0 1 0 4 0a2 2 0 1 0-4 0m5.9 0a2 2 0 1 0 4 0a2 2 0 1 0-4 0m5.7 0a2 2 0 1 0 4 0a2 2 0 1 0-4 0m4 0a2 2 0 1 0 4 0a2 2 0 1 0-4 0m10.8 0a2 2 0 1 0 4 0a2 2 0 1 0-4 0m5.3 0a2 2 0 1 0 4 0a2 2 0 1 0-4 0m3.4 0a2 2 0 1 0 4 0a2 2 0 1 0-4 0m7.3 0a2 2 0 1 0 4 0a2 2 0 1 0-4 0m1 0a2 2 0 1 0 4 0a2 2 0 1 0-4 0m4 0a2 2 0 1 0 4 0a2 2 0 1 0-4 0m8.1 0a2 2 0 1 0 4 0a2 2 0 1 0-4 0m7.8 0a2 2 0 1 0 4 0a2 2 0 1 0-4 0m3.2 0a2 2 0 1 0 4 0a2 2 0 1 0-4 0m8.3 0a2 2 0 1 0 4 0a2 2 0 1 0-4 0m-0.6 0a2 2 0 1 0 4 0a2 2 0 1 0-4 0m8.1 0a2 2 0 1 0 4 0a2 2 0 1 0-4 0m4.3 0a2 2 0 1 0 4 0a2 2 0 1 0-4 0m4.5 0a2 2 0 1 0 4 0a2 2 0 1 0-4 0m9.9 0a2 2 0 1 0 4 0a2 2 0 1 0-4 0m1.4 0a2 2 0 1 0 4 0a2 2 0 1 0-4 0m6.9 0a2 2 0 1 0 4 0a2 2 0 1 0-4 0m2.1 0a2 2 0 1 0 4 0a2 2 0 1 0-4 0m11.2 0a2 2 0 1 0 4 0a2 2 0 1 0-4 0m-0.2 0a2 2 0 1 0 4 0a2 2 0 1 0-4 0m7 0a2 2 0 1 0 4 0a2 2 0 1 0-4 0m7.6 0a2 2 0 1 0 4 0a2 2 0 1 0-4 0m2.5 0a2 2 0 1 0 4 0a2 2 0 1 0-4 0m9.1 0a2 2 0 1 0 4 0a2 2 0 1 0-4 0m4.7 0a2 2 0 1 0 4 0a2 2 0 1 0-4 0m-217.3 0a2 2 0 1 0 4 0a2 2 0 1 0-4 0m1.7-22.3a2 2 0 1 0 4 0a2 2 0 1 0-4 0m2.3 0a2 2 0 1 0 4 0a2 2 0 1 0-4 0m18.5 0a2 2 0 1 0 4 0a2 2 0 1 0-4 0m10.1 0a2 2 0 1 0 4 0a2 2 0 1 0-4 0m2.4 0a2 2 0 1 0 4 0a2 2 0 1 0-4 0m6.2 0a2 2 0 1 0 4 0a2 2 0 1 0-4 0m14.8 0a2 2 0 1 0 4 0a2 2 0 1 0-4 0m7.2 0a2 2 0 1 0 4 0a2 2 0 1 0-4 0m11.3 0a2 2 0 1 0 4 0a2 2 0 1 0-4 0m12.8 0a2 2 0 1 0 4 0a2 2 0 1 0-4 0m4.2 0a2 2 0 1 0 4 0a2 2 0 1 0-4 0m14.5 0a2 2 0 1 0 4 0a2 2 0 1 0-4 0m8 0a2 2 0 1 0 4 0a2 2 0 1 0-4 0m10.9 0a2 2 0 1 0 4 0a2 2 0 1 0-4 0m2.6 0a2 2 0 1 0 4 0a2 2 0 1 0-4 0m7.1 0a2 2 0 1 0 4 0a2 2 0 1 0-4 0m10.9 0a2 2 0 1 0 4 0a2 2 0 1 0-4 0m11.1 0a2 2 0 1 0 4 0a2 2 0 1 0-4 0m6.5 0a2 2 0 1 0 4 0a2 2 0 1 0-4 0m16.7 0a2 2 0 1 0 4 0a2 2 0 1 0-4 0m10 0a2 2 0 1 0 4 0a2 2 0 1 0-4 0m8.1 0a2 2 0 1 0 4 0a2 2 0 1 0-4 0m4.7 0a2 2 0 1 0 4 0a2 2 0 1 0-4 0m10.1 0a2 2 0 1 0 4 0a2 2 0 1 0-4 0m-212.7 19.1a2 2 0 1 0 4 0a2 2 0 1 0-4 0m5.6 0a2 2 0 1 0 4 0a2 2 0 1 0-4 0m4.3 0a2 2 0 1 0 4 0a2 2 0 1 0-4 0m1.3 0a2 2 0 1 0 4 0a2 2 0 1 0-4 0m8.2 0a2 2 0 1 0 4 0a2 2 0 1 0-4 0m0.6 0a2 2 0 1 0 4 0a2 2 0 1 0-4 0m5.5 0a2 2 0 1 0 4 0a2 2 0 1 0-4 0m8 0a2 2 0 1 0 4 0a2 2 0 1 0-4 0m4.1 0a2 2 0 1 0 4 0a2 2 0 1 0-4 0m2.3 0a2 2 0 1 0 4 0a2 2 0 1 0-4 0m6.9 0a2 2 0 1 0 4 0a2 2 0 1 0-4 0m3.6 0a2 2 0 1 0 4 0a2 2 0 1 0-4 0m0.4 0a2 2 0 1 0 4 0a2 2 0 1 0-4 0m9.3 0a2 2 0 1 0 4 0a2 2 0 1 0-4 0m3.3 0a2 2 0 1 0 4 0a2 2 0 1 0-4 0m2.6 0a2 2 0 1 0 4 0a2 2 0 1 0-4 0m7.3 0a2 2 0 1 0 4 0a2 2 0 1 0-4 0m4.6 0a2 2 0 1 0 4 0a2 2 0 1 0-4 0m3.5 0a2 2 0 1 0 4 0a2 2 0 1 0-4 0m3.6 0a2 2 0 1 0 4 0a2 2 0 1 0-4 0m5.7 0a2 2 0 1 0 4 0a2 2 0 1 0-4 0m2.9 0a2 2 0 1 0 4 0a2 2 0 1 0-4 0m3.4 0a2 2 0 1 0 4 0a2 2 0 1 0-4 0m6 0a2 2 0 1 0 4 0a2 2 0 1 0-4 0m1.8 0a2 2 0 1 0 4 0a2 2 0 1 0-4 0m8.7 0a2 2 0 1 0 4 0a2 2 0 1 0-4 0m5 0a2 2 0 1 0 4 0a2 2 0 1 0-4 0m0.2 0a2 2 0 1 0 4 0a2 2 0 1 0-4 0m4.3 0a2 2 0 1 0 4 0a2 2 0 1 0-4 0m4.2 0a2 2 0 1 0 4 0a2 2 0 1 0-4 0m6.9 0a2 2 0 1 0 4 0a2 2 0 1 0-4 0m6.5 0a2 2 0 1 0 4 0a2 2 0 1 0-4 0m5.1 0a2 2 0 1 0 4 0a2 2 0 1 0-4 0m1.7 0a2 2 0 1 0 4 0a2 2 0 1 0-4 0m6.4 0a2 2 0 1 0 4 0a2 2 0 1 0-4 0m2.6 0a2 2 0 1 0 4 0a2 2 0 1 0-4 0m5.9 0a2 2 0 1 0 4 0a2 2 0 1 0-4 0m2.4 0a2 2 0 1 0 4 0a2 2 0 1 0-4 0m7 0a2 2 0 1 0 4 0a2 2 0 1 0-4 0m4.8 0a2 2 0 1 0 4 0a2 2 0 1 0-4 0m1.4 0a2 2 0 1 0 4 0a2 2 0 1 0-4 0m5.3 0a2 2 0 1 0 4 0a2 2 0 1 0-4 0m4.1 0a2 2 0 1 0 4 0a2 2 0 1 0-4 0m3 0a2 2 0 1 0 4 0a2 2 0 1 0-4 0m8.6 0a2 2 0 1 0 4 0a2 2 0 1 0-4 0m5 0a2 2 0 1 0 4 0a2 2 0 1 0-4 0m4.2 0a2 2 0 1 0 4 0a2 2 0 1 0-4 0m3.9 0a2 2 0 1 0 4 0a2 2 0 1 0-4 0m5.3 0a2 2 0 1 0 4 0a2 2 0 1 0-4 0m2.4 0a2 2 0 1 0 4 0a2 2 0 1 0-4 0m-0.1-25.5a2 2 0 1 0 4 0a2 2 0 1 0-4 0m-206 0a2 2 0 1 0 4 0a2 2 0 1 0-4 0m11.1 0a2 2 0 1 0 4 0a2 2 0 1 0-4 0m2.8 0a2 2 0 1 0 4 0a2 2 0 1 0-4 0m8.2 0a2 2 0 1 0 4 0a2 2 0 1 0-4 0m16.5 0a2 2 0 1 0 4 0a2 2 0 1 0-4 0m5 0a2 2 0 1 0 4 0a2 2 0 1 0-4 0m3.7 0a2 2 0 1 0 4 0a2 2 0 1 0-4 0m14.5 0a2 2 0 1 0 4 0a2 2 0 1 0-4 0m5.4 0a2 2 0 1 0 4 0a2 2 0 1 0-4 0m12.2 0a2 2 0 1 0 4 0a2 2 0 1 0-4 0m4.9 0a2 2 0 1 0 4 0a2 2 0 1 0-4 0m20.2 0a2 2 0 1 0 4 0a2 2 0 1 0-4 0m7.5 0a2 2 0 1 0 4 0a2 2 0 1 0-4 0m6.8 0a2 2 0 1 0 4 0a2 2 0 1 0-4 0m11.2 0a2 2 0 1 0 4 0a2 2 0 1 0-4 0m7.2 0a2 2 0 1 0 4 0a2 2 0 1 0-4 0m13 0a2 2 0 1 0 4 0a2 2 0 1 0-4 0m7.9 0a2 2 0 1 0 4 0a2 2 0 1 0-4 0m4.8 0a2 2 0 1 0 4 0a2 2 0 1 0-4 0m5.3 0a2 2 0 1 0 4 0a2 2 0 1 0-4 0m18.9 0a2 2 0 1 0 4 0a2 2 0 1 0-4 0m8.5 0a2 2 0 1 0 4 0a2 2 0 1 0-4 0m8.4 0a2 2 0 1 0 4 0a2 2 0 1 0-4 0m-198.7-22.3a2 2 0 1 0 4 0a2 2 0 1 0-4 0m31.5 0a2 2 0 1 0 4 0a2 2 0 1 0-4 0m50.5 0a2 2 0 1 0 4 0a2 2 0 1 0-4 0m7.3 0a2 2 0 1 0 4 0a2 2 0 1 0-4 0m46.7 0a2 2 0 1 0 4 0a2 2 0 1 0-4 0m43.5 0a2 2 0 1 0 4 0a2 2 0 1 0-4 0m-192.8 0a2 2 0 1 0 4 0a2 2 0 1 0-4 0m200.6 6.4a2 2 0 1 0 4 0a2 2 0 1 0-4 0m-178.5 0a2 2 0 1 0 4 0a2 2 0 1 0-4 0m43.4 0a2 2 0 1 0 4 0a2 2 0 1 0-4 0m87 0a2 2 0 1 0 4 0a2 2 0 1 0-4 0m49.4 0a2 2 0 1 0 4 0a2 2 0 1 0-4 0m-180 3.2a2 2 0 1 0 4 0a2 2 0 1 0-4 0m50.2 0a2 2 0 1 0 4 0a2 2 0 1 0-4 0m8.2 0a2 2 0 1 0 4 0a2 2 0 1 0-4 0m51.6 0a2 2 0 1 0 4 0a2 2 0 1 0-4 0m19.6 0a2 2 0 1 0 4 0a2 2 0 1 0-4 0m57.5 0a2 2 0 1 0 4 0a2 2 0 1 0-4 0m4.1 3.1a2 2 0 1 0 4 0a2 2 0 1 0-4 0m-215.1 0a2 2 0 1 0 4 0a2 2 0 1 0-4 0m12.9 0a2 2 0 1 0 4 0a2 2 0 1 0-4 0m16.2 0a2 2 0 1 0 4 0a2 2 0 1 0-4 0m8.7 0a2 2 0 1 0 4 0a2 2 0 1 0-4 0m14.7 0a2 2 0 1 0 4 0a2 2 0 1 0-4 0m7.1 0a2 2 0 1 0 4 0a2 2 0 1 0-4 0m14.9 0a2 2 0 1 0 4 0a2 2 0 1 0-4 0m5 0a2 2 0 1 0 4 0a2 2 0 1 0-4 0m11 0a2 2 0 1 0 4 0a2 2 0 1 0-4 0m7.6 0a2 2 0 1 0 4 0a2 2 0 1 0-4 0m20 0a2 2 0 1 0 4 0a2 2 0 1 0-4 0m1.2 0a2 2 0 1 0 4 0a2 2 0 1 0-4 0m9.5 0a2 2 0 1 0 4 0a2 2 0 1 0-4 0m18 0a2 2 0 1 0 4 0a2 2 0 1 0-4 0m6.3 0a2 2 0 1 0 4 0a2 2 0 1 0-4 0m12.1 0a2 2 0 1 0 4 0a2 2 0 1 0-4 0m14.9 0a2 2 0 1 0 4 0a2 2 0 1 0-4 0m0.8 0a2 2 0 1 0 4 0a2 2 0 1 0-4 0m11.7 0a2 2 0 1 0 4 0a2 2 0 1 0-4 0m21 0a2 2 0 1 0 4 0a2 2 0 1 0-4 0m-217.2 12.8a2 2 0 1 0 4 0a2 2 0 1 0-4 0m16 0a2 2 0 1 0 4 0a2 2 0 1 0-4 0m8.5 0a2 2 0 1 0 4 0a2 2 0 1 0-4 0m11.7 0a2 2 0 1 0 4 0a2 2 0 1 0-4 0m7.2 0a2 2 0 1 0 4 0a2 2 0 1 0-4 0m8.6 0a2 2 0 1 0 4 0a2 2 0 1 0-4 0m9.6 0a2 2 0 1 0 4 0a2 2 0 1 0-4 0m17.3 0a2 2 0 1 0 4 0a2 2 0 1 0-4 0m7.8 0a2 2 0 1 0 4 0a2 2 0 1 0-4 0m15.6 0a2 2 0 1 0 4 0a2 2 0 1 0-4 0m5.6 0a2 2 0 1 0 4 0a2 2 0 1 0-4 0m9.2 0a2 2 0 1 0 4 0a2 2 0 1 0-4 0m4.8 0a2 2 0 1 0 4 0a2 2 0 1 0-4 0m14.3 0a2 2 0 1 0 4 0a2 2 0 1 0-4 0m12.8 0a2 2 0 1 0 4 0a2 2 0 1 0-4 0m5.8 0a2 2 0 1 0 4 0a2 2 0 1 0-4 0m13.6 0a2 2 0 1 0 4 0a2 2 0 1 0-4 0m11.2 0a2 2 0 1 0 4 0a2 2 0 1 0-4 0m18.8 0a2 2 0 1 0 4 0a2 2 0 1 0-4 0m2.8 0a2 2 0 1 0 4 0a2 2 0 1 0-4 0m10 0a2 2 0 1 0 4 0a2 2 0 1 0-4 0m-210.9 19.1a2 2 0 1 0 4 0a2 2 0 1 0-4 0m7.2 0a2 2 0 1 0 4 0a2 2 0 1 0-4 0m5.5 0a2 2 0 1 0 4 0a2 2 0 1 0-4 0m1.2 0a2 2 0 1 0 4 0a2 2 0 1 0-4 0m6.7 0a2 2 0 1 0 4 0a2 2 0 1 0-4 0m8.9 0a2 2 0 1 0 4 0a2 2 0 1 0-4 0m6.4 0a2 2 0 1 0 4 0a2 2 0 1 0-4 0m1.8 0a2 2 0 1 0 4 0a2 2 0 1 0-4 0m4 0a2 2 0 1 0 4 0a2 2 0 1 0-4 0m8.3 0a2 2 0 1 0 4 0a2 2 0 1 0-4 0m4.8 0a2 2 0 1 0 4 0a2 2 0 1 0-4 0m6.2 0a2 2 0 1 0 4 0a2 2 0 1 0-4 0m6.7 0a2 2 0 1 0 4 0a2 2 0 1 0-4 0m3.1 0a2 2 0 1 0 4 0a2 2 0 1 0-4 0m8 0a2 2 0 1 0 4 0a2 2 0 1 0-4 0m1.7 0a2 2 0 1 0 4 0a2 2 0 1 0-4 0m9.7 0a2 2 0 1 0 4 0a2 2 0 1 0-4 0m0.2 0a2 2 0 1 0 4 0a2 2 0 1 0-4 0m8.6 0a2 2 0 1 0 4 0a2 2 0 1 0-4 0m4.7 0a2 2 0 1 0 4 0a2 2 0 1 0-4 0m5.4 0a2 2 0 1 0 4 0a2 2 0 1 0-4 0m6.5 0a2 2 0 1 0 4 0a2 2 0 1 0-4 0m4.5 0a2 2 0 1 0 4 0a2 2 0 1 0-4 0m8.8 0a2 2 0 1 0 4 0a2 2 0 1 0-4 0m3.5 0a2 2 0 1 0 4 0a2 2 0 1 0-4 0m4 0a2 2 0 1 0 4 0a2 2 0 1 0-4 0m5.3 0a2 2 0 1 0 4 0a2 2 0 1 0-4 0m5.5 0a2 2 0 1 0 4 0a2 2 0 1 0-4 0m3.6 0a2 2 0 1 0 4 0a2 2 0 1 0-4 0m8.2 0a2 2 0 1 0 4 0a2 2 0 1 0-4 0m4.8 0a2 2 0 1 0 4 0a2 2 0 1 0-4 0m2.9 0a2 2 0 1 0 4 0a2 2 0 1 0-4 0m7.9 0a2 2 0 1 0 4 0a2 2 0 1 0-4 0m3.3 0a2 2 0 1 0 4 0a2 2 0 1 0-4 0m8.2 0a2 2 0 1 0 4 0a2 2 0 1 0-4 0m4.1 0a2 2 0 1 0 4 0a2 2 0 1 0-4 0m4.4 0a2 2 0 1 0 4 0a2 2 0 1 0-4 0m7.9 0a2 2 0 1 0 4 0a2 2 0 1 0-4 0m6.6 0a2 2 0 1 0 4 0a2 2 0 1 0-4 0m2.8 0a2 2 0 1 0 4 0a2 2 0 1 0-4 0m5.5 0a2 2 0 1 0 4 0a2 2 0 1 0-4 0m-2.2-57.4a2 2 0 1 0 4 0a2 2 0 1 0-4 0m-143.8 0a2 2 0 1 0 4 0a2 2 0 1 0-4 0m28.9 0a2 2 0 1 0 4 0a2 2 0 1 0-4 0m70.9 0a2 2 0 1 0 4 0a2 2 0 1 0-4 0m-167.1 51a2 2 0 1 0 4 0a2 2 0 1 0-4 0m6.3 0a2 2 0 1 0 4 0a2 2 0 1 0-4 0m11.6 0a2 2 0 1 0 4 0a2 2 0 1 0-4 0m8.8 0a2 2 0 1 0 4 0a2 2 0 1 0-4 0m11.1 0a2 2 0 1 0 4 0a2 2 0 1 0-4 0m7.4 0a2 2 0 1 0 4 0a2 2 0 1 0-4 0m8.4 0a2 2 0 1 0 4 0a2 2 0 1 0-4 0m11.1 0a2 2 0 1 0 4 0a2 2 0 1 0-4 0m6.3 0a2 2 0 1 0 4 0a2 2 0 1 0-4 0m12.1 0a2 2 0 1 0 4 0a2 2 0 1 0-4 0m12.2 0a2 2 0 1 0 4 0a2 2 0 1 0-4 0m9.2 0a2 2 0 1 0 4 0a2 2 0 1 0-4 0m12.1 0a2 2 0 1 0 4 0a2 2 0 1 0-4 0m1.8 0a2 2 0 1 0 4 0a2 2 0 1 0-4 0m15.7 0a2 2 0 1 0 4 0a2 2 0 1 0-4 0m10.2 0a2 2 0 1 0 4 0a2 2 0 1 0-4 0m6.7 0a2 2 0 1 0 4 0a2 2 0 1 0-4 0m11 0a2 2 0 1 0 4 0a2 2 0 1 0-4 0m5.9 0a2 2 0 1 0 4 0a2 2 0 1 0-4 0m12.6 0a2 2 0 1 0 4 0a2 2 0 1 0-4 0m9.5 0a2 2 0 1 0 4 0a2 2 0 1 0-4 0m7.9 0a2 2 0 1 0 4 0a2 2 0 1 0-4 0m3.9 0a2 2 0 1 0 4 0a2 2 0 1 0-4 0m11.7 0a2 2 0 1 0 4 0a2 2 0 1 0-4 0m-216.7-6.3a2 2 0 1 0 4 0a2 2 0 1 0-4 0m13.1 0a2 2 0 1 0 4 0a2 2 0 1 0-4 0m5.7 0a2 2 0 1 0 4 0a2 2 0 1 0-4 0m18.4 0a2 2 0 1 0 4 0a2 2 0 1 0-4 0m10.2 0a2 2 0 1 0 4 0a2 2 0 1 0-4 0m19.8 0a2 2 0 1 0 4 0a2 2 0 1 0-4 0m11.9 0a2 2 0 1 0 4 0a2 2 0 1 0-4 0m8 0a2 2 0 1 0 4 0a2 2 0 1 0-4 0m21.3 0a2 2 0 1 0 4 0a2 2 0 1 0-4 0m7.9 0a2 2 0 1 0 4 0a2 2 0 1 0-4 0m11.7 0a2 2 0 1 0 4 0a2 2 0 1 0-4 0m15.8 0a2 2 0 1 0 4 0a2 2 0 1 0-4 0m2.4 0a2 2 0 1 0 4 0a2 2 0 1 0-4 0m21.3 0a2 2 0 1 0 4 0a2 2 0 1 0-4 0m4.3 0a2 2 0 1 0 4 0a2 2 0 1 0-4 0m10.8 0a2 2 0 1 0 4 0a2 2 0 1 0-4 0m12 0a2 2 0 1 0 4 0a2 2 0 1 0-4 0m22.5 0a2 2 0 1 0 4 0a2 2 0 1 0-4 0m-210.5 3.1a2 2 0 1 0 4 0a2 2 0 1 0-4 0m7.4 0a2 2 0 1 0 4 0a2 2 0 1 0-4 0m7.9 0a2 2 0 1 0 4 0a2 2 0 1 0-4 0m0.9 0a2 2 0 1 0 4 0a2 2 0 1 0-4 0m15.8 0a2 2 0 1 0 4 0a2 2 0 1 0-4 0m2.5 0a2 2 0 1 0 4 0a2 2 0 1 0-4 0m6.3 0a2 2 0 1 0 4 0a2 2 0 1 0-4 0m16.6 0a2 2 0 1 0 4 0a2 2 0 1 0-4 0m3.8 0a2 2 0 1 0 4 0a2 2 0 1 0-4 0m6.5 0a2 2 0 1 0 4 0a2 2 0 1 0-4 0m6.6 0a2 2 0 1 0 4 0a2 2 0 1 0-4 0m14.3 0a2 2 0 1 0 4 0a2 2 0 1 0-4 0m9.2 0a2 2 0 1 0 4 0a2 2 0 1 0-4 0m1.6 0a2 2 0 1 0 4 0a2 2 0 1 0-4 0m11.1 0a2 2 0 1 0 4 0a2 2 0 1 0-4 0m13.6 0a2 2 0 1 0 4 0a2 2 0 1 0-4 0m4.2 0a2 2 0 1 0 4 0a2 2 0 1 0-4 0m5.4 0a2 2 0 1 0 4 0a2 2 0 1 0-4 0m8.8 0a2 2 0 1 0 4 0a2 2 0 1 0-4 0m7.2 0a2 2 0 1 0 4 0a2 2 0 1 0-4 0m10.6 0a2 2 0 1 0 4 0a2 2 0 1 0-4 0m7.2 0a2 2 0 1 0 4 0a2 2 0 1 0-4 0m10.7 0a2 2 0 1 0 4 0a2 2 0 1 0-4 0m8.8 0a2 2 0 1 0 4 0a2 2 0 1 0-4 0m10.8 0a2 2 0 1 0 4 0a2 2 0 1 0-4 0m4.5 0a2 2 0 1 0 4 0a2 2 0 1 0-4 0m8.3 0a2 2 0 1 0 4 0a2 2 0 1 0-4 0m-107.9-41.4a2 2 0 1 0 4 0a2 2 0 1 0-4 0m-93 0a2 2 0 1 0 4 0a2 2 0 1 0-4 0m27-9.5a2 2 0 1 0 4 0a2 2 0 1 0-4 0m-44.5 0a2 2 0 1 0 4 0a2 2 0 1 0-4 0m67.5 12.7a2 2 0 1 0 4 0a2 2 0 1 0-4 0m54 0a2 2 0 1 0 4 0a2 2 0 1 0-4 0m36.9 0a2 2 0 1 0 4 0a2 2 0 1 0-4 0m46 0a2 2 0 1 0 4 0a2 2 0 1 0-4 0m-158.8-6.4a2 2 0 1 0 4 0a2 2 0 1 0-4 0m52.8 0a2 2 0 1 0 4 0a2 2 0 1 0-4 0m24.4 0a2 2 0 1 0 4 0a2 2 0 1 0-4 0m90.2 12.8a2 2 0 1 0 4 0a2 2 0 1 0-4 0m-137.7 0a2 2 0 1 0 4 0a2 2 0 1 0-4 0m55.2 0a2 2 0 1 0 4 0a2 2 0 1 0-4 0m-111.7 12.7a2 2 0 1 0 4 0a2 2 0 1 0-4 0m47.7 0a2 2 0 1 0 4 0a2 2 0 1 0-4 0m5.3 0a2 2 0 1 0 4 0a2 2 0 1 0-4 0m62.8 0a2 2 0 1 0 4 0a2 2 0 1 0-4 0m26.9 0a2 2 0 1 0 4 0a2 2 0 1 0-4 0m7 0a2 2 0 1 0 4 0a2 2 0 1 0-4 0m41.7 0a2 2 0 1 0 4 0a2 2 0 1 0-4 0m-59.5-38.2a2 2 0 1 0 4 0a2 2 0 1 0-4 0m57.9 70.1a2 2 0 1 0 4 0a2 2 0 1 0-4 0m1.5 0a2 2 0 1 0 4 0a2 2 0 1 0-4 0m0.7 0a2 2 0 1 0 4 0a2 2 0 1 0-4 0m2.2 0a2 2 0 1 0 4 0a2 2 0 1 0-4 0m0.9 0a2 2 0 1 0 4 0a2 2 0 1 0-4 0m0.3 0a2 2 0 1 0 4 0a2 2 0 1 0-4 0m1.5 0a2 2 0 1 0 4 0a2 2 0 1 0-4 0m0.2 0a2 2 0 1 0 4 0a2 2 0 1 0-4 0m1.6 0a2 2 0 1 0 4 0a2 2 0 1 0-4 0m0.5 0a2 2 0 1 0 4 0a2 2 0 1 0-4 0m1.1 0a2 2 0 1 0 4 0a2 2 0 1 0-4 0m0.4 0a2 2 0 1 0 4 0a2 2 0 1 0-4 0m0.4 0a2 2 0 1 0 4 0a2 2 0 1 0-4 0m1.1 0a2 2 0 1 0 4 0a2 2 0 1 0-4 0m0.7 0a2 2 0 1 0 4 0a2 2 0 1 0-4 0m0.4 0a2 2 0 1 0 4 0a2 2 0 1 0-4 0m0.5 0a2 2 0 1 0 4 0a2 2 0 1 0-4 0m0.6 0a2 2 0 1 0 4 0a2 2 0 1 0-4 0m0.6 0a2 2 0 1 0 4 0a2 2 0 1 0-4 0m0.6 0a2 2 0 1 0 4 0a2 2 0 1 0-4 0m0.2 0a2 2 0 1 0 4 0a2 2 0 1 0-4 0m-17.9 6.4a2 2 0 1 0 4 0a2 2 0 1 0-4 0m2.7 0a2 2 0 1 0 4 0a2 2 0 1 0-4 0m1.1 0a2 2 0 1 0 4 0a2 2 0 1 0-4 0m1.2 0a2 2 0 1 0 4 0a2 2 0 1 0-4 0m1.2 0a2 2 0 1 0 4 0a2 2 0 1 0-4 0m1.7 0a2 2 0 1 0 4 0a2 2 0 1 0-4 0m1.6 0a2 2 0 1 0 4 0a2 2 0 1 0-4 0m0.3 0a2 2 0 1 0 4 0a2 2 0 1 0-4 0m1.2 0a2 2 0 1 0 4 0a2 2 0 1 0-4 0m1.7 0a2 2 0 1 0 4 0a2 2 0 1 0-4 0m0.6 0a2 2 0 1 0 4 0a2 2 0 1 0-4 0m0.5 0a2 2 0 1 0 4 0a2 2 0 1 0-4 0m0.6 0a2 2 0 1 0 4 0a2 2 0 1 0-4 0m1.5 0a2 2 0 1 0 4 0a2 2 0 1 0-4 0m0.4 0a2 2 0 1 0 4 0a2 2 0 1 0-4 0m0.6 0a2 2 0 1 0 4 0a2 2 0 1 0-4 0m0.6 0a2 2 0 1 0 4 0a2 2 0 1 0-4 0m-18-12.8a2 2 0 1 0 4 0a2 2 0 1 0-4 0m5.3 0a2 2 0 1 0 4 0a2 2 0 1 0-4 0m0.1 0a2 2 0 1 0 4 0a2 2 0 1 0-4 0m3.9 0a2 2 0 1 0 4 0a2 2 0 1 0-4 0m0.3 0a2 2 0 1 0 4 0a2 2 0 1 0-4 0m2.8 0a2 2 0 1 0 4 0a2 2 0 1 0-4 0m1.4 0a2 2 0 1 0 4 0a2 2 0 1 0-4 0m0.1 0a2 2 0 1 0 4 0a2 2 0 1 0-4 0m1.5 0a2 2 0 1 0 4 0a2 2 0 1 0-4 0m1.8 0a2 2 0 1 0 4 0a2 2 0 1 0-4 0m0.9 0a2 2 0 1 0 4 0a2 2 0 1 0-4 0m-15.8 9.6a2 2 0 1 0 4 0a2 2 0 1 0-4 0m1.2 0a2 2 0 1 0 4 0a2 2 0 1 0-4 0m2.4 0a2 2 0 1 0 4 0a2 2 0 1 0-4 0m1.1 0a2 2 0 1 0 4 0a2 2 0 1 0-4 0m2.3 0a2 2 0 1 0 4 0a2 2 0 1 0-4 0m0.9 0a2 2 0 1 0 4 0a2 2 0 1 0-4 0m1.4 0a2 2 0 1 0 4 0a2 2 0 1 0-4 0m0.2 0a2 2 0 1 0 4 0a2 2 0 1 0-4 0m2 0a2 2 0 1 0 4 0a2 2 0 1 0-4 0m0.8 0a2 2 0 1 0 4 0a2 2 0 1 0-4 0m0.6 0a2 2 0 1 0 4 0a2 2 0 1 0-4 0m0.5 0a2 2 0 1 0 4 0a2 2 0 1 0-4 0m0.7 0a2 2 0 1 0 4 0a2 2 0 1 0-4 0m1.5 0a2 2 0 1 0 4 0a2 2 0 1 0-4 0m0.1 0a2 2 0 1 0 4 0a2 2 0 1 0-4 0m-17.8-16a2 2 0 1 0 4 0a2 2 0 1 0-4 0m5.7 0a2 2 0 1 0 4 0a2 2 0 1 0-4 0m2.2 0a2 2 0 1 0 4 0a2 2 0 1 0-4 0m1.4 0a2 2 0 1 0 4 0a2 2 0 1 0-4 0m2.2 0a2 2 0 1 0 4 0a2 2 0 1 0-4 0m1.6 0a2 2 0 1 0 4 0a2 2 0 1 0-4 0m0.6 0a2 2 0 1 0 4 0a2 2 0 1 0-4 0m2 0a2 2 0 1 0 4 0a2 2 0 1 0-4 0m1 0a2 2 0 1 0 4 0a2 2 0 1 0-4 0m0.6 0a2 2 0 1 0 4 0a2 2 0 1 0-4 0m-15.9 23.5a2 2 0 1 0 4 0a2 2 0 1 0-4 0m1.6 0a2 2 0 1 0 4 0a2 2 0 1 0-4 0m1.5 0a2 2 0 1 0 4 0a2 2 0 1 0-4 0m1.6 0a2 2 0 1 0 4 0a2 2 0 1 0-4 0m1.5 0a2 2 0 1 0 4 0a2 2 0 1 0-4 0m0.9 0a2 2 0 1 0 4 0a2 2 0 1 0-4 0m1.8 0a2 2 0 1 0 4 0a2 2 0 1 0-4 0m0.8 0a2 2 0 1 0 4 0a2 2 0 1 0-4 0m0.5 0a2 2 0 1 0 4 0a2 2 0 1 0-4 0m1 0a2 2 0 1 0 4 0a2 2 0 1 0-4 0m0.6 0a2 2 0 1 0 4 0a2 2 0 1 0-4 0m0.9 0a2 2 0 1 0 4 0a2 2 0 1 0-4 0m1.1 0a2 2 0 1 0 4 0a2 2 0 1 0-4 0m0 0a2 2 0 1 0 4 0a2 2 0 1 0-4 0m0.9 0a2 2 0 1 0 4 0a2 2 0 1 0-4 0m1.1 0a2 2 0 1 0 4 0a2 2 0 1 0-4 0m0.3 0a2 2 0 1 0 4 0a2 2 0 1 0-4 0m0.8 0a2 2 0 1 0 4 0a2 2 0 1 0-4 0m-1.7-71.3a2 2 0 1 0 4 0a2 2 0 1 0-4 0m-9.2 31.9a2 2 0 1 0 4 0a2 2 0 1 0-4 0m1.8 0a2 2 0 1 0 4 0a2 2 0 1 0-4 0m5.7 0a2 2 0 1 0 4 0a2 2 0 1 0-4 0m1.2 0a2 2 0 1 0 4 0a2 2 0 1 0-4 0m-13.3 0a2 2 0 1 0 4 0a2 2 0 1 0-4 0m-2.6 38.3a2 2 0 1 0 4 0a2 2 0 1 0-4 0m0.7 0a2 2 0 1 0 4 0a2 2 0 1 0-4 0m2.6 0a2 2 0 1 0 4 0a2 2 0 1 0-4 0m3.2 0a2 2 0 1 0 4 0a2 2 0 1 0-4 0m1.3 0a2 2 0 1 0 4 0a2 2 0 1 0-4 0m0.5 0a2 2 0 1 0 4 0a2 2 0 1 0-4 0m1.5 0a2 2 0 1 0 4 0a2 2 0 1 0-4 0m0.9 0a2 2 0 1 0 4 0a2 2 0 1 0-4 0m0.9 0a2 2 0 1 0 4 0a2 2 0 1 0-4 0m0.4 0a2 2 0 1 0 4 0a2 2 0 1 0-4 0m1.3 0a2 2 0 1 0 4 0a2 2 0 1 0-4 0m0.8 0a2 2 0 1 0 4 0a2 2 0 1 0-4 0m0.6 0a2 2 0 1 0 4 0a2 2 0 1 0-4 0m1.1 0a2 2 0 1 0 4 0a2 2 0 1 0-4 0m0.4 0a2 2 0 1 0 4 0a2 2 0 1 0-4 0m0.8 0a2 2 0 1 0 4 0a2 2 0 1 0-4 0m0.6 0a2 2 0 1 0 4 0a2 2 0 1 0-4 0m-18-51a2 2 0 1 0 4 0a2 2 0 1 0-4 0m7.3 0a2 2 0 1 0 4 0a2 2 0 1 0-4 0m3.5 0a2 2 0 1 0 4 0a2 2 0 1 0-4 0m2.7 0a2 2 0 1 0 4 0a2 2 0 1 0-4 0m1.3 0a2 2 0 1 0 4 0a2 2 0 1 0-4 0m3.1 0a2 2 0 1 0 4 0a2 2 0 1 0-4 0m-17.5 38.2a2 2 0 1 0 4 0a2 2 0 1 0-4 0m5 0a2 2 0 1 0 4 0a2 2 0 1 0-4 0m1.1 0a2 2 0 1 0 4 0a2 2 0 1 0-4 0m2.8 0a2 2 0 1 0 4 0a2 2 0 1 0-4 0m0.5 0a2 2 0 1 0 4 0a2 2 0 1 0-4 0m1.3 0a2 2 0 1 0 4 0a2 2 0 1 0-4 0m1.9 0a2 2 0 1 0 4 0a2 2 0 1 0-4 0m1.3 0a2 2 0 1 0 4 0a2 2 0 1 0-4 0m1.2 0a2 2 0 1 0 4 0a2 2 0 1 0-4 0m1.1 0a2 2 0 1 0 4 0a2 2 0 1 0-4 0m0.5 0a2 2 0 1 0 4 0a2 2 0 1 0-4 0m0.8 0a2 2 0 1 0 4 0a2 2 0 1 0-4 0m-7.2-70.1a2 2 0 1 0 4 0a2 2 0 1 0-4 0m0.9 0a2 2 0 1 0 4 0a2 2 0 1 0-4 0m-13 0a2 2 0 1 0 4 0a2 2 0 1 0-4 0m5.9 51a2 2 0 1 0 4 0a2 2 0 1 0-4 0m4.7 0a2 2 0 1 0 4 0a2 2 0 1 0-4 0m1.7 0a2 2 0 1 0 4 0a2 2 0 1 0-4 0m2.4 0a2 2 0 1 0 4 0a2 2 0 1 0-4 0m3.7 0a2 2 0 1 0 4 0a2 2 0 1 0-4 0m-14.4 0a2 2 0 1 0 4 0a2 2 0 1 0-4 0m2 3.2a2 2 0 1 0 4 0a2 2 0 1 0-4 0m2.8 0a2 2 0 1 0 4 0a2 2 0 1 0-4 0m1.4 0a2 2 0 1 0 4 0a2 2 0 1 0-4 0m3.4 0a2 2 0 1 0 4 0a2 2 0 1 0-4 0m3.2 0a2 2 0 1 0 4 0a2 2 0 1 0-4 0m0.7 0a2 2 0 1 0 4 0a2 2 0 1 0-4 0m0.8 0a2 2 0 1 0 4 0a2 2 0 1 0-4 0m-3.6-31.9a2 2 0 1 0 4 0a2 2 0 1 0-4 0m3.9 0a2 2 0 1 0 4 0a2 2 0 1 0-4 0m-3.5-12.7a2 2 0 1 0 4 0a2 2 0 1 0-4 0m4.7 19.1a2 2 0 1 0 4 0a2 2 0 1 0-4 0m-8.5 0a2 2 0 1 0 4 0a2 2 0 1 0-4 0m6.6 0a2 2 0 1 0 4 0a2 2 0 1 0-4 0m-12.7-12.8a2 2 0 1 0 4 0a2 2 0 1 0-4 0m4.5 31.9a2 2 0 1 0 4 0a2 2 0 1 0-4 0m6.5 0a2 2 0 1 0 4 0a2 2 0 1 0-4 0m-8.5 0a2 2 0 1 0 4 0a2 2 0 1 0-4 0m-3.7 15.9a2 2 0 1 0 4 0a2 2 0 1 0-4 0m5.4 0a2 2 0 1 0 4 0a2 2 0 1 0-4 0m2.5 0a2 2 0 1 0 4 0a2 2 0 1 0-4 0m3 0a2 2 0 1 0 4 0a2 2 0 1 0-4 0m3.6 0a2 2 0 1 0 4 0a2 2 0 1 0-4 0m1.2 0a2 2 0 1 0 4 0a2 2 0 1 0-4 0m-9.5-22.3a2 2 0 1 0 4 0a2 2 0 1 0-4 0m8.1 0a2 2 0 1 0 4 0a2 2 0 1 0-4 0m-0.8-3.2a2 2 0 1 0 4 0a2 2 0 1 0-4 0m-3.7-12.7a2 2 0 1 0 4 0a2 2 0 1 0-4 0m-4.9 9.6a2 2 0 1 0 4 0a2 2 0 1 0-4 0m12-82.9a2 2 0 1 0 4 0a2 2 0 1 0-4 0m-0.2 0a2 2 0 1 0 4 0a2 2 0 1 0-4 0m-0.2 35.1a2 2 0 1 0 4 0a2 2 0 1 0-4 0m0.1 0a2 2 0 1 0 4 0a2 2 0 1 0-4 0m0.2 0a2 2 0 1 0 4 0a2 2 0 1 0-4 0m0.3 0a2 2 0 1 0 4 0a2 2 0 1 0-4 0m-0.6 35a2 2 0 1 0 4 0a2 2 0 1 0-4 0m0.3 0a2 2 0 1 0 4 0a2 2 0 1 0-4 0m-0.1-73.3a2 2 0 1 0 4 0a2 2 0 1 0-4 0m0.1 31.9a2 2 0 1 0 4 0a2 2 0 1 0-4 0m-0.1 0a2 2 0 1 0 4 0a2 2 0 1 0-4 0m0-35.1a2 2 0 1 0 4 0a2 2 0 1 0-4 0m0 0a2 2 0 1 0 4 0a2 2 0 1 0-4 0m-0.2 89.3a2 2 0 1 0 4 0a2 2 0 1 0-4 0m0.1 0a2 2 0 1 0 4 0a2 2 0 1 0-4 0m0.1 0a2 2 0 1 0 4 0a2 2 0 1 0-4 0m-0.4-6.4a2 2 0 1 0 4 0a2 2 0 1 0-4 0m0.2-63.8a2 2 0 1 0 4 0a2 2 0 1 0-4 0m0.2 0a2 2 0 1 0 4 0a2 2 0 1 0-4 0m0 0a2 2 0 1 0 4 0a2 2 0 1 0-4 0m0.3 0a2 2 0 1 0 4 0a2 2 0 1 0-4 0m-0.5 108.4a2 2 0 1 0 4 0a2 2 0 1 0-4 0m0.2 0a2 2 0 1 0 4 0a2 2 0 1 0-4 0m0.1 0a2 2 0 1 0 4 0a2 2 0 1 0-4 0m-0.1-137a2 2 0 1 0 4 0a2 2 0 1 0-4 0m-0.2 101.9a2 2 0 1 0 4 0a2 2 0 1 0-4 0m0.4 0a2 2 0 1 0 4 0a2 2 0 1 0-4 0m-0.3-60.5a2 2 0 1 0 4 0a2 2 0 1 0-4 0m0.1 0a2 2 0 1 0 4 0a2 2 0 1 0-4 0m-0.3 70.1a2 2 0 1 0 4 0a2 2 0 1 0-4 0m0.3 0a2 2 0 1 0 4 0a2 2 0 1 0-4 0m0.1 0a2 2 0 1 0 4 0a2 2 0 1 0-4 0m0.1-35.1a2 2 0 1 0 4 0a2 2 0 1 0-4 0m-0.3-41.4a2 2 0 1 0 4 0a2 2 0 1 0-4 0m0.4 0a2 2 0 1 0 4 0a2 2 0 1 0-4 0m-0.6 92.4a2 2 0 1 0 4 0a2 2 0 1 0-4 0m0.1 0a2 2 0 1 0 4 0a2 2 0 1 0-4 0m0.2 0a2 2 0 1 0 4 0a2 2 0 1 0-4 0m0.1 0a2 2 0 1 0 4 0a2 2 0 1 0-4 0m0.1 0a2 2 0 1 0 4 0a2 2 0 1 0-4 0m-0.4-130.6a2 2 0 1 0 4 0a2 2 0 1 0-4 0m-0.1 0a2 2 0 1 0 4 0a2 2 0 1 0-4 0m0 35a2 2 0 1 0 4 0a2 2 0 1 0-4 0m0.3 0a2 2 0 1 0 4 0a2 2 0 1 0-4 0m0-6.3a2 2 0 1 0 4 0a2 2 0 1 0-4 0m-0.2 0a2 2 0 1 0 4 0a2 2 0 1 0-4 0m0 114.7a2 2 0 1 0 4 0a2 2 0 1 0-4 0m0.1 0a2 2 0 1 0 4 0a2 2 0 1 0-4 0m0.2-146.6a2 2 0 1 0 4 0a2 2 0 1 0-4 0m-0.3-6.4a2 2 0 1 0 4 0a2 2 0 1 0-4 0m0 19.1a2 2 0 1 0 4 0a2 2 0 1 0-4 0m0.1 0a2 2 0 1 0 4 0a2 2 0 1 0-4 0m0.2 0a2 2 0 1 0 4 0a2 2 0 1 0-4 0m-0.2-15.9a2 2 0 1 0 4 0a2 2 0 1 0-4 0m0.1 76.5a2 2 0 1 0 4 0a2 2 0 1 0-4 0m0.1 51a2 2 0 1 0 4 0a2 2 0 1 0-4 0m-0.1-47.8a2 2 0 1 0 4 0a2 2 0 1 0-4 0m0-9.6a2 2 0 1 0 4 0a2 2 0 1 0-4 0m0.2-57.4a2 2 0 1 0 4 0a2 2 0 1 0-4 0m-0.4 111.6a2 2 0 1 0 4 0a2 2 0 1 0-4 0m0.3-95.6a2 2 0 1 0 4 0a2 2 0 1 0-4 0m-0.2 28.7a2 2 0 1 0 4 0a2 2 0 1 0-4 0m0 73.3a2 2 0 1 0 4 0a2 2 0 1 0-4 0m-0.2 0a2 2 0 1 0 4 0a2 2 0 1 0-4 0m0.2 25.5a2 2 0 1 0 4 0a2 2 0 1 0-4 0m0-12.8a2 2 0 1 0 4 0a2 2 0 1 0-4 0m0.1-54.2a2 2 0 1 0 4 0a2 2 0 1 0-4 0m0.1 0a2 2 0 1 0 4 0a2 2 0 1 0-4 0m-0.1 28.7a2 2 0 1 0 4 0a2 2 0 1 0-4 0m0.3-70.1a2 2 0 1 0 4 0a2 2 0 1 0-4 0m-1 79.7a2 2 0 1 0 4 0a2 2 0 1 0-4 0m-0.9 0a2 2 0 1 0 4 0a2 2 0 1 0-4 0m2.1 0a2 2 0 1 0 4 0a2 2 0 1 0-4 0m-1 0a2 2 0 1 0 4 0a2 2 0 1 0-4 0m-0.3 0a2 2 0 1 0 4 0a2 2 0 1 0-4 0m2 0a2 2 0 1 0 4 0a2 2 0 1 0-4 0m-2.9-35.1a2 2 0 1 0 4 0a2 2 0 1 0-4 0m0.3 0a2 2 0 1 0 4 0a2 2 0 1 0-4 0m1.8 0a2 2 0 1 0 4 0a2 2 0 1 0-4 0m-0.5 0a2 2 0 1 0 4 0a2 2 0 1 0-4 0m0.3 0a2 2 0 1 0 4 0a2 2 0 1 0-4 0m-0.7 0a2 2 0 1 0 4 0a2 2 0 1 0-4 0m0.2 0a2 2 0 1 0 4 0a2 2 0 1 0-4 0m0.7-6.4a2 2 0 1 0 4 0a2 2 0 1 0-4 0m-0.9 0a2 2 0 1 0 4 0a2 2 0 1 0-4 0m0 0a2 2 0 1 0 4 0a2 2 0 1 0-4 0m-0.2 0a2 2 0 1 0 4 0a2 2 0 1 0-4 0m2.1 0a2 2 0 1 0 4 0a2 2 0 1 0-4 0m-2.3 0a2 2 0 1 0 4 0a2 2 0 1 0-4 0m1 0a2 2 0 1 0 4 0a2 2 0 1 0-4 0m0.9 0a2 2 0 1 0 4 0a2 2 0 1 0-4 0m-0.9 0a2 2 0 1 0 4 0a2 2 0 1 0-4 0m-1.5 0a2 2 0 1 0 4 0a2 2 0 1 0-4 0m1.4 0a2 2 0 1 0 4 0a2 2 0 1 0-4 0m-0.9 0a2 2 0 1 0 4 0a2 2 0 1 0-4 0m1.1 0a2 2 0 1 0 4 0a2 2 0 1 0-4 0m0.6 0a2 2 0 1 0 4 0a2 2 0 1 0-4 0m-2 57.4a2 2 0 1 0 4 0a2 2 0 1 0-4 0m0.5 0a2 2 0 1 0 4 0a2 2 0 1 0-4 0m0.1 0a2 2 0 1 0 4 0a2 2 0 1 0-4 0m0.8 0a2 2 0 1 0 4 0a2 2 0 1 0-4 0m0 0a2 2 0 1 0 4 0a2 2 0 1 0-4 0m-0.7 0a2 2 0 1 0 4 0a2 2 0 1 0-4 0m1.7 0a2 2 0 1 0 4 0a2 2 0 1 0-4 0m-2.5 0a2 2 0 1 0 4 0a2 2 0 1 0-4 0m2.1-19.1a2 2 0 1 0 4 0a2 2 0 1 0-4 0m-1.5 0a2 2 0 1 0 4 0a2 2 0 1 0-4 0m1.4 0a2 2 0 1 0 4 0a2 2 0 1 0-4 0m-1.5 0a2 2 0 1 0 4 0a2 2 0 1 0-4 0m0.8 0a2 2 0 1 0 4 0a2 2 0 1 0-4 0m1.6-12.8a2 2 0 1 0 4 0a2 2 0 1 0-4 0m-2.2 0a2 2 0 1 0 4 0a2 2 0 1 0-4 0m0.3 0a2 2 0 1 0 4 0a2 2 0 1 0-4 0m-0.8 0a2 2 0 1 0 4 0a2 2 0 1 0-4 0m0.7 0a2 2 0 1 0 4 0a2 2 0 1 0-4 0m0.8 0a2 2 0 1 0 4 0a2 2 0 1 0-4 0m-0.7 0a2 2 0 1 0 4 0a2 2 0 1 0-4 0m-0.4 0a2 2 0 1 0 4 0a2 2 0 1 0-4 0m1.1 0a2 2 0 1 0 4 0a2 2 0 1 0-4 0m-1.8 0a2 2 0 1 0 4 0a2 2 0 1 0-4 0m3.1 0a2 2 0 1 0 4 0a2 2 0 1 0-4 0m-2.3 0a2 2 0 1 0 4 0a2 2 0 1 0-4 0m0.6-35a2 2 0 1 0 4 0a2 2 0 1 0-4 0m-1.6 0a2 2 0 1 0 4 0a2 2 0 1 0-4 0m0.7 0a2 2 0 1 0 4 0a2 2 0 1 0-4 0m0 0a2 2 0 1 0 4 0a2 2 0 1 0-4 0m0.7 0a2 2 0 1 0 4 0a2 2 0 1 0-4 0m-0.2 0a2 2 0 1 0 4 0a2 2 0 1 0-4 0m0.8 0a2 2 0 1 0 4 0a2 2 0 1 0-4 0m-0.4 0a2 2 0 1 0 4 0a2 2 0 1 0-4 0m0.5 0a2 2 0 1 0 4 0a2 2 0 1 0-4 0m-2.1 0a2 2 0 1 0 4 0a2 2 0 1 0-4 0m1.4 0a2 2 0 1 0 4 0a2 2 0 1 0-4 0m0.3 0a2 2 0 1 0 4 0a2 2 0 1 0-4 0m-0.5 0a2 2 0 1 0 4 0a2 2 0 1 0-4 0m-1.3 0a2 2 0 1 0 4 0a2 2 0 1 0-4 0m2.4 0a2 2 0 1 0 4 0a2 2 0 1 0-4 0m-1.5 0a2 2 0 1 0 4 0a2 2 0 1 0-4 0m-0.6 0a2 2 0 1 0 4 0a2 2 0 1 0-4 0m3.4 44.6a2 2 0 1 0 4 0a2 2 0 1 0-4 0m-3 0a2 2 0 1 0 4 0a2 2 0 1 0-4 0m-0.2 0a2 2 0 1 0 4 0a2 2 0 1 0-4 0m-0.5 0a2 2 0 1 0 4 0a2 2 0 1 0-4 0m0 0a2 2 0 1 0 4 0a2 2 0 1 0-4 0m2.4 0a2 2 0 1 0 4 0a2 2 0 1 0-4 0m0.9 0a2 2 0 1 0 4 0a2 2 0 1 0-4 0m-1.1 0a2 2 0 1 0 4 0a2 2 0 1 0-4 0m-1.1 0a2 2 0 1 0 4 0a2 2 0 1 0-4 0m0.6 0a2 2 0 1 0 4 0a2 2 0 1 0-4 0m-0.1 0a2 2 0 1 0 4 0a2 2 0 1 0-4 0m0.1 0a2 2 0 1 0 4 0a2 2 0 1 0-4 0m0.6 0a2 2 0 1 0 4 0a2 2 0 1 0-4 0m-1.2 0a2 2 0 1 0 4 0a2 2 0 1 0-4 0m0.1 0a2 2 0 1 0 4 0a2 2 0 1 0-4 0m0.9 0a2 2 0 1 0 4 0a2 2 0 1 0-4 0m-0.2 0a2 2 0 1 0 4 0a2 2 0 1 0-4 0m-0.9 0a2 2 0 1 0 4 0a2 2 0 1 0-4 0m0.8-15.9a2 2 0 1 0 4 0a2 2 0 1 0-4 0m-0.4 0a2 2 0 1 0 4 0a2 2 0 1 0-4 0m0.9 0a2 2 0 1 0 4 0a2 2 0 1 0-4 0m-0.8 0a2 2 0 1 0 4 0a2 2 0 1 0-4 0m0.4 0a2 2 0 1 0 4 0a2 2 0 1 0-4 0m-0.4 0a2 2 0 1 0 4 0a2 2 0 1 0-4 0m0.3 0a2 2 0 1 0 4 0a2 2 0 1 0-4 0m1 0a2 2 0 1 0 4 0a2 2 0 1 0-4 0m-2 0a2 2 0 1 0 4 0a2 2 0 1 0-4 0m0.7 0a2 2 0 1 0 4 0a2 2 0 1 0-4 0m1.9 0a2 2 0 1 0 4 0a2 2 0 1 0-4 0m-3 0a2 2 0 1 0 4 0a2 2 0 1 0-4 0m0.1 0a2 2 0 1 0 4 0a2 2 0 1 0-4 0m1.7 44.6a2 2 0 1 0 4 0a2 2 0 1 0-4 0m-0.4 0a2 2 0 1 0 4 0a2 2 0 1 0-4 0m-0.5 0a2 2 0 1 0 4 0a2 2 0 1 0-4 0m-0.3 0a2 2 0 1 0 4 0a2 2 0 1 0-4 0m0.1 0a2 2 0 1 0 4 0a2 2 0 1 0-4 0m0.1 0a2 2 0 1 0 4 0a2 2 0 1 0-4 0m0.3 0a2 2 0 1 0 4 0a2 2 0 1 0-4 0m0.3 0a2 2 0 1 0 4 0a2 2 0 1 0-4 0m-0.6 0a2 2 0 1 0 4 0a2 2 0 1 0-4 0m0.8 0a2 2 0 1 0 4 0a2 2 0 1 0-4 0m-0.9 0a2 2 0 1 0 4 0a2 2 0 1 0-4 0m0.3-66.9a2 2 0 1 0 4 0a2 2 0 1 0-4 0m-0.4 0a2 2 0 1 0 4 0a2 2 0 1 0-4 0m-0.3 0a2 2 0 1 0 4 0a2 2 0 1 0-4 0m1.7 0a2 2 0 1 0 4 0a2 2 0 1 0-4 0m0 0a2 2 0 1 0 4 0a2 2 0 1 0-4 0m-2.6 47.8a2 2 0 1 0 4 0a2 2 0 1 0-4 0m1.8 0a2 2 0 1 0 4 0a2 2 0 1 0-4 0m0.2 0a2 2 0 1 0 4 0a2 2 0 1 0-4 0m-0.9 0a2 2 0 1 0 4 0a2 2 0 1 0-4 0m0.5 0a2 2 0 1 0 4 0a2 2 0 1 0-4 0m1.5-31.9a2 2 0 1 0 4 0a2 2 0 1 0-4 0m-1.7 0a2 2 0 1 0 4 0a2 2 0 1 0-4 0m-1.1 0a2 2 0 1 0 4 0a2 2 0 1 0-4 0m1.5 0a2 2 0 1 0 4 0a2 2 0 1 0-4 0m-0.3 0a2 2 0 1 0 4 0a2 2 0 1 0-4 0m-2 0a2 2 0 1 0 4 0a2 2 0 1 0-4 0m3.6 0a2 2 0 1 0 4 0a2 2 0 1 0-4 0m-2.1 0a2 2 0 1 0 4 0a2 2 0 1 0-4 0m-0.1 0a2 2 0 1 0 4 0a2 2 0 1 0-4 0m0.4 0a2 2 0 1 0 4 0a2 2 0 1 0-4 0m1.3 0a2 2 0 1 0 4 0a2 2 0 1 0-4 0m-1.3 0a2 2 0 1 0 4 0a2 2 0 1 0-4 0m0.5 0a2 2 0 1 0 4 0a2 2 0 1 0-4 0m0.6 0a2 2 0 1 0 4 0a2 2 0 1 0-4 0m-0.8 0a2 2 0 1 0 4 0a2 2 0 1 0-4 0m2.2 0a2 2 0 1 0 4 0a2 2 0 1 0-4 0m-3.3 15.9a2 2 0 1 0 4 0a2 2 0 1 0-4 0m2 0a2 2 0 1 0 4 0a2 2 0 1 0-4 0m-2.1 0a2 2 0 1 0 4 0a2 2 0 1 0-4 0m1 0a2 2 0 1 0 4 0a2 2 0 1 0-4 0m1.4 0a2 2 0 1 0 4 0a2 2 0 1 0-4 0m-1.5 3.2a2 2 0 1 0 4 0a2 2 0 1 0-4 0m0.1 0a2 2 0 1 0 4 0a2 2 0 1 0-4 0m0.3 0a2 2 0 1 0 4 0a2 2 0 1 0-4 0m-0.7 0a2 2 0 1 0 4 0a2 2 0 1 0-4 0m0.8 0a2 2 0 1 0 4 0a2 2 0 1 0-4 0m0.4 0a2 2 0 1 0 4 0a2 2 0 1 0-4 0m0.4 0a2 2 0 1 0 4 0a2 2 0 1 0-4 0m-0.9 0a2 2 0 1 0 4 0a2 2 0 1 0-4 0m0 0a2 2 0 1 0 4 0a2 2 0 1 0-4 0m1.2 0a2 2 0 1 0 4 0a2 2 0 1 0-4 0m-1.1 35.1a2 2 0 1 0 4 0a2 2 0 1 0-4 0m1.2 0a2 2 0 1 0 4 0a2 2 0 1 0-4 0m-1.7 0a2 2 0 1 0 4 0a2 2 0 1 0-4 0m0 0a2 2 0 1 0 4 0a2 2 0 1 0-4 0m-1.1 0a2 2 0 1 0 4 0a2 2 0 1 0-4 0m2.2 0a2 2 0 1 0 4 0a2 2 0 1 0-4 0m-0.5 0a2 2 0 1 0 4 0a2 2 0 1 0-4 0m0.6 0a2 2 0 1 0 4 0a2 2 0 1 0-4 0m-0.5 0a2 2 0 1 0 4 0a2 2 0 1 0-4 0m-1 0a2 2 0 1 0 4 0a2 2 0 1 0-4 0m-0.2-63.8a2 2 0 1 0 4 0a2 2 0 1 0-4 0m1.2 0a2 2 0 1 0 4 0a2 2 0 1 0-4 0m-1 0a2 2 0 1 0 4 0a2 2 0 1 0-4 0m0.6 0a2 2 0 1 0 4 0a2 2 0 1 0-4 0m1.8 0a2 2 0 1 0 4 0a2 2 0 1 0-4 0m-3.2 0a2 2 0 1 0 4 0a2 2 0 1 0-4 0m1.8 0a2 2 0 1 0 4 0a2 2 0 1 0-4 0m-0.1 0a2 2 0 1 0 4 0a2 2 0 1 0-4 0m0.8 0a2 2 0 1 0 4 0a2 2 0 1 0-4 0m-0.2 51a2 2 0 1 0 4 0a2 2 0 1 0-4 0m-1.7 0a2 2 0 1 0 4 0a2 2 0 1 0-4 0m0.5 0a2 2 0 1 0 4 0a2 2 0 1 0-4 0m-0.5 0a2 2 0 1 0 4 0a2 2 0 1 0-4 0m2.9 0a2 2 0 1 0 4 0a2 2 0 1 0-4 0m-3.7 0a2 2 0 1 0 4 0a2 2 0 1 0-4 0m0.5 0a2 2 0 1 0 4 0a2 2 0 1 0-4 0m1.1 0a2 2 0 1 0 4 0a2 2 0 1 0-4 0m-1 0a2 2 0 1 0 4 0a2 2 0 1 0-4 0m0.8-60.5a2 2 0 1 0 4 0a2 2 0 1 0-4 0m-0.2 0a2 2 0 1 0 4 0a2 2 0 1 0-4 0m0.6 0a2 2 0 1 0 4 0a2 2 0 1 0-4 0m-1.2 0a2 2 0 1 0 4 0a2 2 0 1 0-4 0m1.2 0a2 2 0 1 0 4 0a2 2 0 1 0-4 0m0.5 0a2 2 0 1 0 4 0a2 2 0 1 0-4 0m0.4 0a2 2 0 1 0 4 0a2 2 0 1 0-4 0m-0.8 0a2 2 0 1 0 4 0a2 2 0 1 0-4 0m0.4 0a2 2 0 1 0 4 0a2 2 0 1 0-4 0m-0.8 0a2 2 0 1 0 4 0a2 2 0 1 0-4 0m-0.4 0a2 2 0 1 0 4 0a2 2 0 1 0-4 0m1 0a2 2 0 1 0 4 0a2 2 0 1 0-4 0m0.5 0a2 2 0 1 0 4 0a2 2 0 1 0-4 0m-0.7 0a2 2 0 1 0 4 0a2 2 0 1 0-4 0m0.2 0a2 2 0 1 0 4 0a2 2 0 1 0-4 0m-0.9 57.3a2 2 0 1 0 4 0a2 2 0 1 0-4 0m-0.9 0a2 2 0 1 0 4 0a2 2 0 1 0-4 0m1.8 0a2 2 0 1 0 4 0a2 2 0 1 0-4 0m-0.3 0a2 2 0 1 0 4 0a2 2 0 1 0-4 0m-0.5 0a2 2 0 1 0 4 0a2 2 0 1 0-4 0m0.8 0a2 2 0 1 0 4 0a2 2 0 1 0-4 0m-1.4 0a2 2 0 1 0 4 0a2 2 0 1 0-4 0m0.5 0a2 2 0 1 0 4 0a2 2 0 1 0-4 0m1.3 0a2 2 0 1 0 4 0a2 2 0 1 0-4 0m-1.8 9.6a2 2 0 1 0 4 0a2 2 0 1 0-4 0m2.5 0a2 2 0 1 0 4 0a2 2 0 1 0-4 0m-0.4 0a2 2 0 1 0 4 0a2 2 0 1 0-4 0m-2.4 0a2 2 0 1 0 4 0a2 2 0 1 0-4 0m1.2 0a2 2 0 1 0 4 0a2 2 0 1 0-4 0m0.5 0a2 2 0 1 0 4 0a2 2 0 1 0-4 0m0.8 0a2 2 0 1 0 4 0a2 2 0 1 0-4 0m-0.8 0a2 2 0 1 0 4 0a2 2 0 1 0-4 0m0.3 0a2 2 0 1 0 4 0a2 2 0 1 0-4 0m-0.6 0a2 2 0 1 0 4 0a2 2 0 1 0-4 0m0.7-12.8a2 2 0 1 0 4 0a2 2 0 1 0-4 0m-0.2 0a2 2 0 1 0 4 0a2 2 0 1 0-4 0m-0.1 0a2 2 0 1 0 4 0a2 2 0 1 0-4 0m0 0a2 2 0 1 0 4 0a2 2 0 1 0-4 0m-1.4 0a2 2 0 1 0 4 0a2 2 0 1 0-4 0m1.1 0a2 2 0 1 0 4 0a2 2 0 1 0-4 0m-1 0a2 2 0 1 0 4 0a2 2 0 1 0-4 0m0.9 0a2 2 0 1 0 4 0a2 2 0 1 0-4 0m-0.4 0a2 2 0 1 0 4 0a2 2 0 1 0-4 0m0.5-25.4a2 2 0 1 0 4 0a2 2 0 1 0-4 0m0.6 0a2 2 0 1 0 4 0a2 2 0 1 0-4 0m-1.9 0a2 2 0 1 0 4 0a2 2 0 1 0-4 0m-0.5 0a2 2 0 1 0 4 0a2 2 0 1 0-4 0m1.7 0a2 2 0 1 0 4 0a2 2 0 1 0-4 0m-1 0a2 2 0 1 0 4 0a2 2 0 1 0-4 0m-0.2 0a2 2 0 1 0 4 0a2 2 0 1 0-4 0m1.1 0a2 2 0 1 0 4 0a2 2 0 1 0-4 0m-0.3 0a2 2 0 1 0 4 0a2 2 0 1 0-4 0m1.1 0a2 2 0 1 0 4 0a2 2 0 1 0-4 0m0.4-6.4a2 2 0 1 0 4 0a2 2 0 1 0-4 0m0.7 0a2 2 0 1 0 4 0a2 2 0 1 0-4 0m-4 0a2 2 0 1 0 4 0a2 2 0 1 0-4 0m2.1 0a2 2 0 1 0 4 0a2 2 0 1 0-4 0m-1-28.7a2 2 0 1 0 4 0a2 2 0 1 0-4 0m1.2 0a2 2 0 1 0 4 0a2 2 0 1 0-4 0m0.7 0a2 2 0 1 0 4 0a2 2 0 1 0-4 0m-1.9 0a2 2 0 1 0 4 0a2 2 0 1 0-4 0m0.3 82.9a2 2 0 1 0 4 0a2 2 0 1 0-4 0m2.4 0a2 2 0 1 0 4 0a2 2 0 1 0-4 0m-2.9 0a2 2 0 1 0 4 0a2 2 0 1 0-4 0m0.8 0a2 2 0 1 0 4 0a2 2 0 1 0-4 0m0.1 0a2 2 0 1 0 4 0a2 2 0 1 0-4 0m0.3 0a2 2 0 1 0 4 0a2 2 0 1 0-4 0m-0.4 0a2 2 0 1 0 4 0a2 2 0 1 0-4 0m0.6 0a2 2 0 1 0 4 0a2 2 0 1 0-4 0m0.7-60.6a2 2 0 1 0 4 0a2 2 0 1 0-4 0m-1.7 0a2 2 0 1 0 4 0a2 2 0 1 0-4 0m0.7 0a2 2 0 1 0 4 0a2 2 0 1 0-4 0m-0.2 0a2 2 0 1 0 4 0a2 2 0 1 0-4 0m-1.2 0a2 2 0 1 0 4 0a2 2 0 1 0-4 0m2 0a2 2 0 1 0 4 0a2 2 0 1 0-4 0m-0.1 0a2 2 0 1 0 4 0a2 2 0 1 0-4 0m0 61.7a2 2 0 1 0 4 0a2 2 0 1 0-4 0m0.3 0a2 2 0 1 0 4 0a2 2 0 1 0-4 0m0.1 0a2 2 0 1 0 4 0a2 2 0 1 0-4 0m-1.7 0a2 2 0 1 0 4 0a2 2 0 1 0-4 0" fill="none" stroke="#0000ff" stroke-width="0.378"/>
<path d="M399.50,462.00 C399.83,458.33 400.62,446.22 401.50,440.00 C402.38,433.78 403.35,427.88 404.80,424.70 C406.25,421.52 407.80,422.28 410.20,420.90 C412.60,419.52 415.42,417.92 419.20,416.40 C422.98,414.88 426.83,413.32 432.90,411.80 C438.97,410.28 448.03,408.87 455.60,407.30 C463.17,405.73 471.73,403.67 478.30,402.40 C484.87,401.13 484.22,401.45 495.00,399.70 C505.78,397.95 528.37,394.27 543.00,391.90 C557.63,389.53 573.07,387.35 582.80,385.50 C592.53,383.65 597.52,382.12 601.40,380.80 C605.28,379.48 605.13,380.25 606.10,377.60 C607.07,374.95 606.93,372.33 607.20,364.90 C607.47,357.47 607.43,344.28 607.70,333.00 C607.97,321.72 608.62,303.17 608.80,297.20" fill="none" stroke="#1e1e1e" stroke-width="1.3" stroke-linejoin="round"/>
<path d="M397.8,287.4V479.0H635.4V287.4M397.8,287.4h4M397.8,325.7h4M397.8,364.0h4M397.8,402.4h4M397.8,440.7h4M397.8,479.0h4M397.8,306.6h2.2M397.8,344.9h2.2M397.8,383.2h2.2M397.8,421.5h2.2M397.8,459.8h2.2M635.4,287.4h-4M635.4,316.9h-4M635.4,346.4h-4M635.4,375.8h-4M635.4,405.3h-4M635.4,434.8h-4M635.4,464.3h-4M635.4,302.1h-2.2M635.4,331.6h-2.2M635.4,361.1h-2.2M635.4,390.6h-2.2M635.4,420.0h-2.2M635.4,449.5h-2.2M635.4,479.0h-2.2M397.8,479.0v-4M441.0,479.0v-4M484.2,479.0v-4M527.4,479.0v-4M570.6,479.0v-4M613.8,479.0v-4M419.4,479.0v-2.2M462.6,479.0v-2.2M505.8,479.0v-2.2M549.0,479.0v-2.2M592.2,479.0v-2.2" fill="none" stroke="#2a2a2a" stroke-width="1"/>
<g font-size="11" fill="#1a1a1a"><text x="393.8" y="291.0" text-anchor="end">1.30</text><text x="393.8" y="329.3" text-anchor="end">1.25</text><text x="393.8" y="367.6" text-anchor="end">1.20</text><text x="393.8" y="406.0" text-anchor="end">1.15</text><text x="393.8" y="444.3" text-anchor="end">1.10</text><text x="393.8" y="482.6" text-anchor="end">1.05</text><text x="639.6" y="291.0">100</text><text x="639.6" y="320.5">90</text><text x="639.6" y="350.0">80</text><text x="639.6" y="379.4">70</text><text x="639.6" y="408.9">60</text><text x="639.6" y="438.4">50</text><text x="639.6" y="467.9">40</text><text x="397.8" y="492.3" text-anchor="middle">0</text><text x="441.0" y="492.3" text-anchor="middle">1</text><text x="484.2" y="492.3" text-anchor="middle">2</text><text x="527.4" y="492.3" text-anchor="middle">3</text><text x="570.6" y="492.3" text-anchor="middle">4</text><text x="613.8" y="492.3" text-anchor="middle">5</text></g>
<path d="M408.0,298.9H430.7" stroke="#1e1e1e" stroke-width="1.2"/>
<circle cx="419.4" cy="311.4" r="1.8" fill="none" stroke="#5050ff" stroke-width="0.7"/>
<g font-size="12" fill="#1a1a1a"><text x="436.2" y="300.7">axial strain</text><text x="436.2" y="314.3">amplitude</text></g>
<text transform="translate(371.5,394.0) rotate(-90)" text-anchor="middle" font-size="12" fill="#1a1a1a" dy="4">axial strain/10<tspan font-size="8" dy="-4.5">-2</tspan></text>
<text transform="translate(656.4,392.0) rotate(-90)" text-anchor="middle" font-size="12" fill="#1a1a1a" dy="4">amplitude/dB</text>
<text x="544.7" y="522.6" text-anchor="middle" font-size="22.3" font-weight="normal" fill="#111">(d)</text>
</svg></body></html>
